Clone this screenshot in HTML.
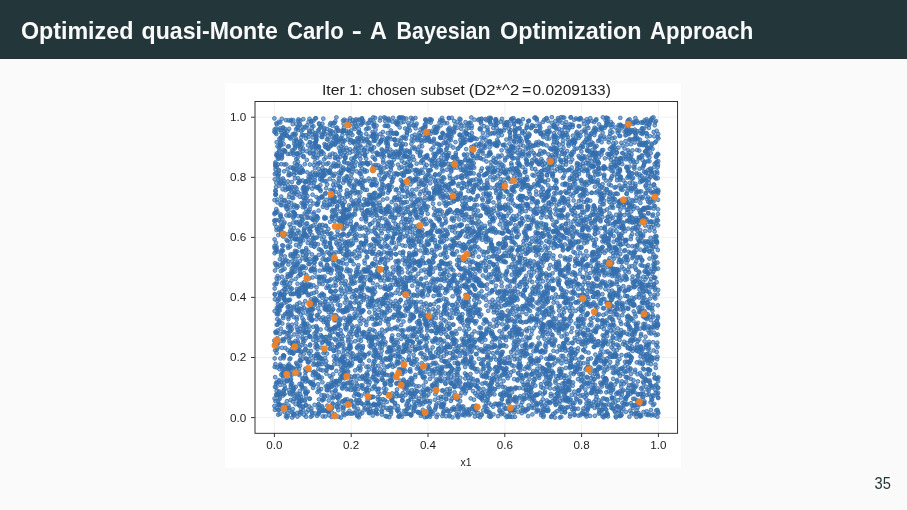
<!DOCTYPE html>
<html><head><meta charset="utf-8"><title>Optimized quasi-Monte Carlo</title>
<style>
html,body{margin:0;padding:0;width:907px;height:510px;overflow:hidden;background:#fafafa;font-family:"Liberation Sans",sans-serif}
#hdr{position:absolute;left:0;top:0;width:907px;height:58.5px;background:#23373b}
#fig{position:absolute;left:225px;top:83px;width:455.8px;height:384.5px;background:#fff}
svg{position:absolute;left:0;top:0;will-change:transform}
.b circle{r:1.9px;fill:#336eae;fill-opacity:0.58;stroke:#336eae;stroke-opacity:0.8;stroke-width:1.0}
.o circle{r:3.1px;fill:#ee8228;fill-opacity:0.95;stroke:#ee8228;stroke-opacity:0.95;stroke-width:0.8}
text{font-family:"Liberation Sans",sans-serif;fill:#1e1e1e}
</style></head><body>
<div id="hdr"></div>
<div id="fig"></div>
<svg width="907" height="510" viewBox="0 0 907 510">
<g font-size="24.5" font-weight="bold" style="fill:#fafafa"><text style="fill:#fafafa" x="20.9" y="38.6" textLength="112.5" lengthAdjust="spacingAndGlyphs">Optimized</text><text style="fill:#fafafa" x="141.6" y="38.6" textLength="136.2" lengthAdjust="spacingAndGlyphs">quasi-Monte</text><text style="fill:#fafafa" x="287.0" y="38.6" textLength="56.7" lengthAdjust="spacingAndGlyphs">Carlo</text><text style="fill:#fafafa" x="351.8" y="38.6" textLength="10.1" lengthAdjust="spacingAndGlyphs">-</text><text style="fill:#fafafa" x="369.9" y="38.6" textLength="16.9" lengthAdjust="spacingAndGlyphs">A</text><text style="fill:#fafafa" x="396.6" y="38.6" textLength="94.0" lengthAdjust="spacingAndGlyphs">Bayesian</text><text style="fill:#fafafa" x="500.0" y="38.6" textLength="141.6" lengthAdjust="spacingAndGlyphs">Optimization</text><text style="fill:#fafafa" x="649.9" y="38.6" textLength="103.3" lengthAdjust="spacingAndGlyphs">Approach</text></g>
<path d="M274.4 101.5V433.3M254.8 417.6H677.6M351.2 101.5V433.3M254.8 357.5H677.6M428.0 101.5V433.3M254.8 297.4H677.6M504.8 101.5V433.3M254.8 237.4H677.6M581.6 101.5V433.3M254.8 177.3H677.6M658.4 101.5V433.3M254.8 117.2H677.6" stroke="#b0b0b0" stroke-opacity=".22" stroke-width=".8" fill="none"/>
<g class="b" style="filter:blur(0.35px)"><circle cx=620.4 cy=203.0 /><circle cx=657.8 cy=250.0 /><circle cx=501.4 cy=360.9 /><circle cx=320.1 cy=179.1 /><circle cx=420.8 cy=235.5 /><circle cx=582.8 cy=284.8 /><circle cx=307.9 cy=331.7 /><circle cx=360.5 cy=286.5 /><circle cx=420.0 cy=348.0 /><circle cx=531.3 cy=305.3 /><circle cx=551.8 cy=122.9 /><circle cx=497.0 cy=205.6 /><circle cx=578.1 cy=207.3 /><circle cx=282.2 cy=245.3 /><circle cx=440.9 cy=396.8 /><circle cx=386.5 cy=295.2 /><circle cx=448.1 cy=197.6 /><circle cx=319.6 cy=174.8 /><circle cx=413.7 cy=278.1 /><circle cx=290.1 cy=231.0 /><circle cx=407.2 cy=192.3 /><circle cx=300.3 cy=181.0 /><circle cx=354.9 cy=235.3 /><circle cx=425.7 cy=382.0 /><circle cx=445.9 cy=205.9 /><circle cx=447.4 cy=291.2 /><circle cx=574.1 cy=119.8 /><circle cx=397.8 cy=289.9 /><circle cx=497.7 cy=267.8 /><circle cx=573.2 cy=184.3 /><circle cx=542.4 cy=180.4 /><circle cx=443.1 cy=406.8 /><circle cx=306.8 cy=392.7 /><circle cx=387.7 cy=133.1 /><circle cx=283.6 cy=298.5 /><circle cx=479.4 cy=340.4 /><circle cx=289.8 cy=306.0 /><circle cx=640.0 cy=182.2 /><circle cx=626.2 cy=154.7 /><circle cx=595.4 cy=354.6 /><circle cx=470.5 cy=374.0 /><circle cx=589.0 cy=369.1 /><circle cx=387.3 cy=366.9 /><circle cx=302.4 cy=318.2 /><circle cx=422.0 cy=413.4 /><circle cx=391.6 cy=381.0 /><circle cx=321.5 cy=137.0 /><circle cx=633.9 cy=330.5 /><circle cx=548.4 cy=230.9 /><circle cx=274.8 cy=223.9 /><circle cx=528.1 cy=185.1 /><circle cx=601.1 cy=303.5 /><circle cx=498.3 cy=130.9 /><circle cx=647.2 cy=121.4 /><circle cx=451.6 cy=211.8 /><circle cx=563.4 cy=400.4 /><circle cx=489.5 cy=390.9 /><circle cx=465.0 cy=373.4 /><circle cx=320.3 cy=189.6 /><circle cx=363.9 cy=357.6 /><circle cx=601.3 cy=214.0 /><circle cx=469.3 cy=122.9 /><circle cx=380.2 cy=306.5 /><circle cx=310.7 cy=183.2 /><circle cx=636.5 cy=173.2 /><circle cx=282.9 cy=178.5 /><circle cx=416.1 cy=253.4 /><circle cx=449.5 cy=323.8 /><circle cx=398.3 cy=361.9 /><circle cx=587.2 cy=413.9 /><circle cx=589.4 cy=324.9 /><circle cx=565.3 cy=302.3 /><circle cx=339.9 cy=273.6 /><circle cx=326.8 cy=164.1 /><circle cx=583.0 cy=193.3 /><circle cx=408.4 cy=330.1 /><circle cx=526.2 cy=350.5 /><circle cx=646.1 cy=290.9 /><circle cx=517.2 cy=128.7 /><circle cx=358.9 cy=395.1 /><circle cx=419.6 cy=230.7 /><circle cx=590.2 cy=339.3 /><circle cx=286.3 cy=164.4 /><circle cx=520.1 cy=396.3 /><circle cx=283.6 cy=341.1 /><circle cx=276.6 cy=339.3 /><circle cx=552.2 cy=344.2 /><circle cx=617.8 cy=393.2 /><circle cx=532.3 cy=401.3 /><circle cx=648.0 cy=141.6 /><circle cx=425.3 cy=119.7 /><circle cx=354.2 cy=281.2 /><circle cx=420.6 cy=293.0 /><circle cx=555.4 cy=209.4 /><circle cx=295.5 cy=258.9 /><circle cx=497.2 cy=312.9 /><circle cx=620.9 cy=214.8 /><circle cx=372.7 cy=252.8 /><circle cx=598.8 cy=256.0 /><circle cx=432.0 cy=385.2 /><circle cx=528.9 cy=136.4 /><circle cx=562.9 cy=165.1 /><circle cx=340.2 cy=273.9 /><circle cx=568.8 cy=308.2 /><circle cx=396.0 cy=254.4 /><circle cx=609.3 cy=387.4 /><circle cx=389.6 cy=347.9 /><circle cx=350.8 cy=231.2 /><circle cx=399.6 cy=313.0 /><circle cx=405.9 cy=220.1 /><circle cx=493.4 cy=160.6 /><circle cx=606.2 cy=415.2 /><circle cx=442.4 cy=416.0 /><circle cx=519.4 cy=205.9 /><circle cx=534.2 cy=319.2 /><circle cx=569.5 cy=169.4 /><circle cx=521.8 cy=413.2 /><circle cx=311.8 cy=313.9 /><circle cx=349.4 cy=315.8 /><circle cx=642.4 cy=377.0 /><circle cx=347.4 cy=255.3 /><circle cx=537.6 cy=201.2 /><circle cx=407.4 cy=171.9 /><circle cx=355.3 cy=210.8 /><circle cx=301.3 cy=130.8 /><circle cx=333.8 cy=259.3 /><circle cx=419.0 cy=240.9 /><circle cx=644.0 cy=369.4 /><circle cx=362.8 cy=243.4 /><circle cx=299.1 cy=221.7 /><circle cx=311.1 cy=315.7 /><circle cx=510.5 cy=312.0 /><circle cx=385.4 cy=118.3 /><circle cx=551.5 cy=204.3 /><circle cx=451.8 cy=317.7 /><circle cx=303.0 cy=410.0 /><circle cx=336.8 cy=208.9 /><circle cx=657.5 cy=262.6 /><circle cx=353.2 cy=142.3 /><circle cx=297.2 cy=164.6 /><circle cx=656.6 cy=282.2 /><circle cx=635.7 cy=121.9 /><circle cx=304.8 cy=164.2 /><circle cx=445.6 cy=246.2 /><circle cx=317.7 cy=355.7 /><circle cx=453.1 cy=226.8 /><circle cx=487.5 cy=373.3 /><circle cx=654.2 cy=228.1 /><circle cx=395.3 cy=306.1 /><circle cx=383.2 cy=160.4 /><circle cx=305.0 cy=235.0 /><circle cx=653.8 cy=208.6 /><circle cx=521.9 cy=258.3 /><circle cx=624.1 cy=251.0 /><circle cx=522.6 cy=167.1 /><circle cx=536.4 cy=321.7 /><circle cx=352.8 cy=190.4 /><circle cx=603.4 cy=383.3 /><circle cx=389.2 cy=190.2 /><circle cx=536.8 cy=120.3 /><circle cx=550.2 cy=265.0 /><circle cx=353.5 cy=214.0 /><circle cx=583.0 cy=373.6 /><circle cx=325.7 cy=309.1 /><circle cx=593.6 cy=153.0 /><circle cx=480.9 cy=181.7 /><circle cx=621.8 cy=227.4 /><circle cx=343.5 cy=407.9 /><circle cx=320.4 cy=151.8 /><circle cx=471.8 cy=408.9 /><circle cx=440.1 cy=274.0 /><circle cx=396.1 cy=173.3 /><circle cx=487.1 cy=180.4 /><circle cx=591.6 cy=192.7 /><circle cx=487.6 cy=135.3 /><circle cx=540.8 cy=287.1 /><circle cx=454.3 cy=200.9 /><circle cx=353.2 cy=204.2 /><circle cx=428.7 cy=132.1 /><circle cx=548.4 cy=410.0 /><circle cx=367.2 cy=210.4 /><circle cx=426.3 cy=156.0 /><circle cx=377.0 cy=275.3 /><circle cx=358.1 cy=389.3 /><circle cx=386.4 cy=294.6 /><circle cx=362.1 cy=387.5 /><circle cx=329.5 cy=172.6 /><circle cx=386.5 cy=173.5 /><circle cx=591.2 cy=336.9 /><circle cx=637.1 cy=174.6 /><circle cx=493.1 cy=248.1 /><circle cx=401.4 cy=145.5 /><circle cx=619.3 cy=369.5 /><circle cx=568.2 cy=260.7 /><circle cx=610.0 cy=302.8 /><circle cx=640.3 cy=404.4 /><circle cx=527.8 cy=261.3 /><circle cx=618.8 cy=234.0 /><circle cx=313.3 cy=154.2 /><circle cx=296.5 cy=310.4 /><circle cx=554.9 cy=243.7 /><circle cx=474.2 cy=280.1 /><circle cx=615.6 cy=127.5 /><circle cx=608.8 cy=306.4 /><circle cx=494.9 cy=267.0 /><circle cx=336.4 cy=117.4 /><circle cx=599.7 cy=195.2 /><circle cx=504.0 cy=239.1 /><circle cx=511.2 cy=372.2 /><circle cx=644.4 cy=250.2 /><circle cx=319.6 cy=225.9 /><circle cx=293.4 cy=257.4 /><circle cx=443.4 cy=328.7 /><circle cx=450.1 cy=391.5 /><circle cx=369.0 cy=369.6 /><circle cx=398.5 cy=409.3 /><circle cx=342.2 cy=361.1 /><circle cx=343.8 cy=234.2 /><circle cx=325.7 cy=386.4 /><circle cx=477.5 cy=156.0 /><circle cx=581.7 cy=206.4 /><circle cx=637.1 cy=137.7 /><circle cx=582.4 cy=212.4 /><circle cx=328.5 cy=307.7 /><circle cx=615.9 cy=249.1 /><circle cx=430.5 cy=133.9 /><circle cx=317.1 cy=364.5 /><circle cx=457.7 cy=176.9 /><circle cx=586.9 cy=314.9 /><circle cx=471.0 cy=161.3 /><circle cx=512.1 cy=236.0 /><circle cx=375.6 cy=412.6 /><circle cx=350.0 cy=181.2 /><circle cx=503.4 cy=260.6 /><circle cx=601.9 cy=320.6 /><circle cx=583.0 cy=305.2 /><circle cx=331.8 cy=270.5 /><circle cx=493.9 cy=210.8 /><circle cx=643.5 cy=323.9 /><circle cx=475.0 cy=385.1 /><circle cx=427.0 cy=180.9 /><circle cx=621.0 cy=203.0 /><circle cx=373.1 cy=136.4 /><circle cx=338.2 cy=141.3 /><circle cx=278.4 cy=306.6 /><circle cx=537.3 cy=345.7 /><circle cx=288.0 cy=327.5 /><circle cx=338.8 cy=142.1 /><circle cx=627.4 cy=177.7 /><circle cx=465.2 cy=378.5 /><circle cx=614.0 cy=202.3 /><circle cx=290.3 cy=275.6 /><circle cx=509.9 cy=137.6 /><circle cx=372.3 cy=291.9 /><circle cx=293.8 cy=216.6 /><circle cx=322.6 cy=224.9 /><circle cx=548.6 cy=322.3 /><circle cx=472.0 cy=163.5 /><circle cx=408.1 cy=408.3 /><circle cx=629.0 cy=334.5 /><circle cx=638.5 cy=412.9 /><circle cx=311.7 cy=310.1 /><circle cx=572.7 cy=298.3 /><circle cx=344.0 cy=127.6 /><circle cx=397.8 cy=282.0 /><circle cx=602.4 cy=294.2 /><circle cx=603.0 cy=308.2 /><circle cx=550.1 cy=165.0 /><circle cx=292.9 cy=413.5 /><circle cx=291.1 cy=232.9 /><circle cx=596.0 cy=313.5 /><circle cx=445.9 cy=289.1 /><circle cx=468.1 cy=297.8 /><circle cx=455.0 cy=163.7 /><circle cx=478.9 cy=183.6 /><circle cx=603.6 cy=381.5 /><circle cx=394.2 cy=173.6 /><circle cx=504.9 cy=261.6 /><circle cx=355.5 cy=276.7 /><circle cx=409.2 cy=151.9 /><circle cx=507.3 cy=392.1 /><circle cx=324.0 cy=295.3 /><circle cx=560.2 cy=271.1 /><circle cx=378.6 cy=275.5 /><circle cx=340.5 cy=151.0 /><circle cx=342.9 cy=204.7 /><circle cx=484.4 cy=207.5 /><circle cx=551.6 cy=323.9 /><circle cx=478.8 cy=146.2 /><circle cx=347.2 cy=399.3 /><circle cx=474.4 cy=312.7 /><circle cx=594.5 cy=407.8 /><circle cx=529.7 cy=194.0 /><circle cx=401.3 cy=122.5 /><circle cx=647.9 cy=363.1 /><circle cx=328.7 cy=170.8 /><circle cx=380.8 cy=401.5 /><circle cx=527.5 cy=187.8 /><circle cx=281.7 cy=251.3 /><circle cx=285.4 cy=289.5 /><circle cx=514.4 cy=282.0 /><circle cx=606.7 cy=220.8 /><circle cx=582.8 cy=324.1 /><circle cx=510.9 cy=130.2 /><circle cx=520.4 cy=138.4 /><circle cx=509.1 cy=194.6 /><circle cx=599.5 cy=209.4 /><circle cx=343.0 cy=120.6 /><circle cx=293.3 cy=395.5 /><circle cx=526.6 cy=225.9 /><circle cx=567.9 cy=398.0 /><circle cx=359.5 cy=256.3 /><circle cx=614.7 cy=137.6 /><circle cx=424.3 cy=156.9 /><circle cx=558.9 cy=375.5 /><circle cx=414.3 cy=328.3 /><circle cx=610.1 cy=219.1 /><circle cx=593.0 cy=269.0 /><circle cx=421.8 cy=363.1 /><circle cx=367.8 cy=402.8 /><circle cx=438.8 cy=265.4 /><circle cx=445.1 cy=310.0 /><circle cx=344.6 cy=241.6 /><circle cx=586.5 cy=403.3 /><circle cx=533.2 cy=371.1 /><circle cx=613.1 cy=207.9 /><circle cx=513.1 cy=410.1 /><circle cx=309.0 cy=182.8 /><circle cx=511.6 cy=189.5 /><circle cx=503.6 cy=246.6 /><circle cx=360.9 cy=294.0 /><circle cx=418.1 cy=283.3 /><circle cx=478.2 cy=120.0 /><circle cx=467.6 cy=231.0 /><circle cx=369.0 cy=194.9 /><circle cx=604.8 cy=325.2 /><circle cx=523.6 cy=182.7 /><circle cx=366.4 cy=403.2 /><circle cx=557.2 cy=321.8 /><circle cx=528.9 cy=363.6 /><circle cx=462.2 cy=231.4 /><circle cx=290.5 cy=174.2 /><circle cx=379.2 cy=388.8 /><circle cx=488.5 cy=209.2 /><circle cx=653.7 cy=132.0 /><circle cx=537.8 cy=265.5 /><circle cx=320.6 cy=329.5 /><circle cx=346.2 cy=215.7 /><circle cx=542.8 cy=207.8 /><circle cx=401.5 cy=146.2 /><circle cx=372.9 cy=305.7 /><circle cx=381.5 cy=259.5 /><circle cx=575.2 cy=274.7 /><circle cx=380.9 cy=270.1 /><circle cx=494.3 cy=177.2 /><circle cx=382.1 cy=411.7 /><circle cx=311.9 cy=254.4 /><circle cx=414.7 cy=390.4 /><circle cx=558.3 cy=281.9 /><circle cx=618.8 cy=238.0 /><circle cx=382.7 cy=343.7 /><circle cx=330.7 cy=348.2 /><circle cx=493.3 cy=128.0 /><circle cx=308.4 cy=228.9 /><circle cx=463.2 cy=340.9 /><circle cx=389.4 cy=186.3 /><circle cx=603.2 cy=270.4 /><circle cx=540.3 cy=352.1 /><circle cx=296.8 cy=293.0 /><circle cx=526.5 cy=139.0 /><circle cx=465.0 cy=344.0 /><circle cx=355.3 cy=120.8 /><circle cx=437.4 cy=331.4 /><circle cx=452.6 cy=305.0 /><circle cx=628.8 cy=215.2 /><circle cx=562.6 cy=292.1 /><circle cx=611.1 cy=178.3 /><circle cx=398.4 cy=285.5 /><circle cx=503.3 cy=145.2 /><circle cx=359.9 cy=119.9 /><circle cx=472.1 cy=219.2 /><circle cx=381.7 cy=311.4 /><circle cx=436.8 cy=153.8 /><circle cx=621.2 cy=386.6 /><circle cx=306.3 cy=370.6 /><circle cx=336.4 cy=385.7 /><circle cx=631.4 cy=190.9 /><circle cx=303.2 cy=240.3 /><circle cx=368.2 cy=410.2 /><circle cx=535.8 cy=125.9 /><circle cx=543.4 cy=324.4 /><circle cx=335.2 cy=154.4 /><circle cx=470.0 cy=315.0 /><circle cx=595.1 cy=230.6 /><circle cx=453.7 cy=334.6 /><circle cx=284.5 cy=222.5 /><circle cx=412.9 cy=234.7 /><circle cx=326.1 cy=226.2 /><circle cx=338.6 cy=384.1 /><circle cx=628.6 cy=125.5 /><circle cx=405.5 cy=387.7 /><circle cx=642.3 cy=297.7 /><circle cx=566.3 cy=401.1 /><circle cx=408.3 cy=179.3 /><circle cx=286.0 cy=205.9 /><circle cx=330.9 cy=145.8 /><circle cx=656.1 cy=193.5 /><circle cx=421.5 cy=335.7 /><circle cx=556.9 cy=221.7 /><circle cx=356.9 cy=203.5 /><circle cx=472.9 cy=223.4 /><circle cx=509.4 cy=414.7 /><circle cx=310.8 cy=416.7 /><circle cx=455.7 cy=309.7 /><circle cx=396.2 cy=133.6 /><circle cx=435.5 cy=215.3 /><circle cx=545.1 cy=205.7 /><circle cx=393.0 cy=237.4 /><circle cx=530.8 cy=374.7 /><circle cx=371.4 cy=197.2 /><circle cx=433.5 cy=262.1 /><circle cx=489.3 cy=212.1 /><circle cx=527.7 cy=252.3 /><circle cx=498.2 cy=198.4 /><circle cx=470.1 cy=310.8 /><circle cx=520.3 cy=262.2 /><circle cx=570.7 cy=399.6 /><circle cx=421.7 cy=212.9 /><circle cx=640.9 cy=335.7 /><circle cx=489.5 cy=293.3 /><circle cx=362.1 cy=312.0 /><circle cx=298.0 cy=130.1 /><circle cx=501.8 cy=354.1 /><circle cx=457.5 cy=374.8 /><circle cx=607.0 cy=238.1 /><circle cx=641.2 cy=191.4 /><circle cx=453.7 cy=313.2 /><circle cx=553.1 cy=326.7 /><circle cx=283.3 cy=245.8 /><circle cx=647.8 cy=273.1 /><circle cx=371.9 cy=318.7 /><circle cx=402.5 cy=190.2 /><circle cx=544.8 cy=163.4 /><circle cx=394.0 cy=233.6 /><circle cx=352.1 cy=413.7 /><circle cx=532.4 cy=298.9 /><circle cx=640.1 cy=373.0 /><circle cx=411.2 cy=414.5 /><circle cx=470.4 cy=413.8 /><circle cx=559.7 cy=210.4 /><circle cx=302.4 cy=378.4 /><circle cx=369.7 cy=382.3 /><circle cx=658.2 cy=398.0 /><circle cx=526.2 cy=390.1 /><circle cx=296.9 cy=364.2 /><circle cx=568.2 cy=267.2 /><circle cx=475.8 cy=279.9 /><circle cx=403.0 cy=316.0 /><circle cx=505.7 cy=300.2 /><circle cx=516.4 cy=400.5 /><circle cx=554.9 cy=398.9 /><circle cx=305.8 cy=236.5 /><circle cx=465.0 cy=258.6 /><circle cx=401.9 cy=416.7 /><circle cx=335.3 cy=215.9 /><circle cx=465.3 cy=308.7 /><circle cx=347.6 cy=196.5 /><circle cx=511.8 cy=219.4 /><circle cx=533.4 cy=219.4 /><circle cx=508.6 cy=231.5 /><circle cx=299.6 cy=288.6 /><circle cx=432.9 cy=271.8 /><circle cx=647.1 cy=357.9 /><circle cx=485.0 cy=147.7 /><circle cx=537.1 cy=184.4 /><circle cx=372.8 cy=377.0 /><circle cx=297.2 cy=412.9 /><circle cx=416.0 cy=180.3 /><circle cx=452.5 cy=417.3 /><circle cx=633.1 cy=201.1 /><circle cx=482.7 cy=200.1 /><circle cx=408.7 cy=212.3 /><circle cx=628.9 cy=300.4 /><circle cx=493.0 cy=353.2 /><circle cx=383.4 cy=404.9 /><circle cx=295.2 cy=271.6 /><circle cx=645.9 cy=287.1 /><circle cx=644.2 cy=250.9 /><circle cx=320.5 cy=263.4 /><circle cx=530.0 cy=337.7 /><circle cx=526.0 cy=253.9 /><circle cx=543.6 cy=236.0 /><circle cx=354.8 cy=141.6 /><circle cx=642.5 cy=301.5 /><circle cx=356.0 cy=119.5 /><circle cx=364.0 cy=215.0 /><circle cx=519.8 cy=258.3 /><circle cx=654.3 cy=297.1 /><circle cx=587.1 cy=126.0 /><circle cx=453.8 cy=396.1 /><circle cx=388.9 cy=278.4 /><circle cx=349.3 cy=209.5 /><circle cx=461.9 cy=188.3 /><circle cx=425.9 cy=132.7 /><circle cx=431.8 cy=197.3 /><circle cx=606.9 cy=189.2 /><circle cx=552.1 cy=309.7 /><circle cx=527.7 cy=163.5 /><circle cx=368.9 cy=199.7 /><circle cx=284.7 cy=151.7 /><circle cx=655.9 cy=156.5 /><circle cx=294.5 cy=135.2 /><circle cx=634.9 cy=313.9 /><circle cx=474.8 cy=295.4 /><circle cx=562.0 cy=136.0 /><circle cx=631.8 cy=178.6 /><circle cx=447.6 cy=211.1 /><circle cx=636.1 cy=224.4 /><circle cx=620.3 cy=288.9 /><circle cx=635.7 cy=280.6 /><circle cx=640.2 cy=311.6 /><circle cx=608.6 cy=272.6 /><circle cx=622.4 cy=402.9 /><circle cx=548.8 cy=194.3 /><circle cx=335.1 cy=158.2 /><circle cx=472.0 cy=136.7 /><circle cx=276.4 cy=155.1 /><circle cx=636.5 cy=220.8 /><circle cx=548.9 cy=381.0 /><circle cx=471.0 cy=173.3 /><circle cx=513.4 cy=147.9 /><circle cx=491.0 cy=333.6 /><circle cx=409.3 cy=266.8 /><circle cx=411.1 cy=199.3 /><circle cx=399.4 cy=347.1 /><circle cx=369.5 cy=245.4 /><circle cx=513.8 cy=348.7 /><circle cx=298.3 cy=216.2 /><circle cx=555.1 cy=186.1 /><circle cx=646.8 cy=271.7 /><circle cx=426.3 cy=206.5 /><circle cx=628.4 cy=362.3 /><circle cx=289.0 cy=364.3 /><circle cx=613.5 cy=236.1 /><circle cx=525.7 cy=235.7 /><circle cx=399.6 cy=416.0 /><circle cx=578.3 cy=390.5 /><circle cx=352.4 cy=318.5 /><circle cx=649.6 cy=202.8 /><circle cx=643.2 cy=348.7 /><circle cx=337.1 cy=404.1 /><circle cx=371.8 cy=213.3 /><circle cx=349.8 cy=152.8 /><circle cx=436.0 cy=406.5 /><circle cx=583.5 cy=385.1 /><circle cx=292.7 cy=134.3 /><circle cx=340.1 cy=249.3 /><circle cx=304.0 cy=325.5 /><circle cx=594.7 cy=146.9 /><circle cx=440.2 cy=339.1 /><circle cx=308.5 cy=263.9 /><circle cx=361.9 cy=310.8 /><circle cx=428.4 cy=412.5 /><circle cx=480.8 cy=232.6 /><circle cx=334.6 cy=414.1 /><circle cx=342.9 cy=144.5 /><circle cx=405.8 cy=282.8 /><circle cx=612.7 cy=356.4 /><circle cx=305.5 cy=346.2 /><circle cx=349.6 cy=363.9 /><circle cx=525.2 cy=411.5 /><circle cx=347.1 cy=268.8 /><circle cx=446.9 cy=314.4 /><circle cx=581.5 cy=344.0 /><circle cx=487.4 cy=409.0 /><circle cx=318.4 cy=201.7 /><circle cx=558.3 cy=215.3 /><circle cx=469.5 cy=253.3 /><circle cx=465.6 cy=270.9 /><circle cx=474.8 cy=204.9 /><circle cx=376.2 cy=358.7 /><circle cx=343.2 cy=410.1 /><circle cx=348.7 cy=169.9 /><circle cx=569.1 cy=188.4 /><circle cx=542.9 cy=295.4 /><circle cx=523.9 cy=350.6 /><circle cx=369.3 cy=312.3 /><circle cx=505.1 cy=387.5 /><circle cx=354.4 cy=376.7 /><circle cx=614.3 cy=373.1 /><circle cx=428.0 cy=137.8 /><circle cx=299.2 cy=246.7 /><circle cx=637.5 cy=275.6 /><circle cx=628.3 cy=388.0 /><circle cx=547.8 cy=163.6 /><circle cx=501.4 cy=185.7 /><circle cx=472.8 cy=320.5 /><circle cx=337.7 cy=325.8 /><circle cx=447.8 cy=155.7 /><circle cx=531.4 cy=150.2 /><circle cx=463.6 cy=140.5 /><circle cx=615.1 cy=355.9 /><circle cx=526.8 cy=302.6 /><circle cx=398.6 cy=416.5 /><circle cx=567.3 cy=283.8 /><circle cx=640.5 cy=133.1 /><circle cx=609.1 cy=246.1 /><circle cx=449.1 cy=248.1 /><circle cx=337.9 cy=334.4 /><circle cx=575.3 cy=395.4 /><circle cx=381.5 cy=208.3 /><circle cx=293.6 cy=368.5 /><circle cx=560.9 cy=160.7 /><circle cx=622.3 cy=153.0 /><circle cx=366.2 cy=379.6 /><circle cx=330.6 cy=246.7 /><circle cx=656.9 cy=379.0 /><circle cx=465.3 cy=360.0 /><circle cx=291.0 cy=275.8 /><circle cx=651.8 cy=174.5 /><circle cx=510.2 cy=290.9 /><circle cx=464.4 cy=176.1 /><circle cx=433.4 cy=188.3 /><circle cx=356.0 cy=237.9 /><circle cx=530.5 cy=319.3 /><circle cx=465.5 cy=229.3 /><circle cx=321.9 cy=364.1 /><circle cx=498.3 cy=303.4 /><circle cx=534.1 cy=175.7 /><circle cx=568.2 cy=201.6 /><circle cx=356.2 cy=290.1 /><circle cx=395.8 cy=205.0 /><circle cx=316.2 cy=137.0 /><circle cx=343.2 cy=150.1 /><circle cx=411.1 cy=329.1 /><circle cx=407.1 cy=387.2 /><circle cx=654.0 cy=184.6 /><circle cx=555.6 cy=404.9 /><circle cx=526.6 cy=366.9 /><circle cx=658.0 cy=392.7 /><circle cx=443.1 cy=406.5 /><circle cx=589.7 cy=369.1 /><circle cx=334.6 cy=338.8 /><circle cx=379.3 cy=277.7 /><circle cx=447.7 cy=337.0 /><circle cx=581.1 cy=262.4 /><circle cx=447.4 cy=304.3 /><circle cx=350.4 cy=289.6 /><circle cx=367.6 cy=400.2 /><circle cx=618.4 cy=243.9 /><circle cx=499.6 cy=292.2 /><circle cx=594.8 cy=181.6 /><circle cx=408.7 cy=292.4 /><circle cx=445.1 cy=247.7 /><circle cx=518.9 cy=262.2 /><circle cx=327.2 cy=184.5 /><circle cx=420.7 cy=162.6 /><circle cx=610.2 cy=234.0 /><circle cx=596.6 cy=229.1 /><circle cx=554.2 cy=298.8 /><circle cx=399.4 cy=238.5 /><circle cx=316.5 cy=197.1 /><circle cx=569.4 cy=402.3 /><circle cx=363.3 cy=120.9 /><circle cx=464.4 cy=137.2 /><circle cx=355.9 cy=180.5 /><circle cx=304.2 cy=285.6 /><circle cx=461.6 cy=278.5 /><circle cx=542.3 cy=335.9 /><circle cx=387.3 cy=221.3 /><circle cx=347.6 cy=139.4 /><circle cx=407.2 cy=308.5 /><circle cx=511.0 cy=210.7 /><circle cx=341.2 cy=359.6 /><circle cx=402.7 cy=292.8 /><circle cx=428.8 cy=193.6 /><circle cx=542.5 cy=367.7 /><circle cx=368.4 cy=338.2 /><circle cx=284.4 cy=164.5 /><circle cx=479.4 cy=151.1 /><circle cx=396.5 cy=383.4 /><circle cx=619.2 cy=275.3 /><circle cx=509.0 cy=252.4 /><circle cx=589.0 cy=288.6 /><circle cx=461.3 cy=350.8 /><circle cx=506.3 cy=363.0 /><circle cx=547.1 cy=290.8 /><circle cx=384.5 cy=315.4 /><circle cx=312.9 cy=381.8 /><circle cx=597.7 cy=216.6 /><circle cx=575.3 cy=183.8 /><circle cx=547.0 cy=259.9 /><circle cx=434.3 cy=383.3 /><circle cx=335.5 cy=291.0 /><circle cx=640.6 cy=238.0 /><circle cx=344.9 cy=358.8 /><circle cx=487.2 cy=411.7 /><circle cx=274.7 cy=344.6 /><circle cx=368.6 cy=122.8 /><circle cx=602.4 cy=247.1 /><circle cx=384.0 cy=252.1 /><circle cx=352.6 cy=353.5 /><circle cx=650.8 cy=364.2 /><circle cx=534.5 cy=318.3 /><circle cx=315.5 cy=347.4 /><circle cx=471.8 cy=149.9 /><circle cx=635.7 cy=316.5 /><circle cx=598.4 cy=168.5 /><circle cx=414.6 cy=254.0 /><circle cx=307.2 cy=188.3 /><circle cx=614.1 cy=398.1 /><circle cx=301.8 cy=193.7 /><circle cx=358.2 cy=192.3 /><circle cx=598.5 cy=341.4 /><circle cx=629.3 cy=122.2 /><circle cx=653.3 cy=224.5 /><circle cx=499.5 cy=291.2 /><circle cx=492.1 cy=290.5 /><circle cx=582.3 cy=341.6 /><circle cx=642.4 cy=134.0 /><circle cx=552.3 cy=176.3 /><circle cx=601.8 cy=212.7 /><circle cx=351.1 cy=130.5 /><circle cx=402.7 cy=359.1 /><circle cx=514.2 cy=280.6 /><circle cx=599.3 cy=314.4 /><circle cx=565.1 cy=409.4 /><circle cx=376.8 cy=195.7 /><circle cx=462.4 cy=250.7 /><circle cx=630.7 cy=348.8 /><circle cx=381.7 cy=350.8 /><circle cx=620.6 cy=125.2 /><circle cx=537.1 cy=270.2 /><circle cx=522.3 cy=199.4 /><circle cx=539.8 cy=392.7 /><circle cx=655.0 cy=206.3 /><circle cx=643.9 cy=208.1 /><circle cx=417.4 cy=294.4 /><circle cx=471.6 cy=217.0 /><circle cx=292.4 cy=272.8 /><circle cx=437.6 cy=210.5 /><circle cx=460.3 cy=396.0 /><circle cx=497.4 cy=257.0 /><circle cx=338.9 cy=247.6 /><circle cx=308.2 cy=187.3 /><circle cx=389.3 cy=254.0 /><circle cx=568.6 cy=380.7 /><circle cx=350.6 cy=352.7 /><circle cx=576.0 cy=204.9 /><circle cx=515.0 cy=290.8 /><circle cx=616.2 cy=314.6 /><circle cx=386.5 cy=238.9 /><circle cx=646.6 cy=380.3 /><circle cx=345.4 cy=285.6 /><circle cx=650.6 cy=402.3 /><circle cx=482.7 cy=392.7 /><circle cx=561.9 cy=295.1 /><circle cx=347.9 cy=178.6 /><circle cx=465.5 cy=122.1 /><circle cx=388.2 cy=126.4 /><circle cx=315.6 cy=344.2 /><circle cx=438.5 cy=190.3 /><circle cx=281.6 cy=205.2 /><circle cx=479.6 cy=327.5 /><circle cx=348.3 cy=135.7 /><circle cx=640.0 cy=212.9 /><circle cx=317.7 cy=231.4 /><circle cx=376.1 cy=241.4 /><circle cx=425.3 cy=345.8 /><circle cx=594.3 cy=260.1 /><circle cx=372.5 cy=132.1 /><circle cx=446.8 cy=231.2 /><circle cx=315.6 cy=372.6 /><circle cx=428.2 cy=319.8 /><circle cx=386.2 cy=389.4 /><circle cx=594.8 cy=132.4 /><circle cx=307.6 cy=314.3 /><circle cx=515.6 cy=334.6 /><circle cx=544.2 cy=120.0 /><circle cx=643.7 cy=402.8 /><circle cx=348.5 cy=270.5 /><circle cx=550.0 cy=403.1 /><circle cx=559.8 cy=325.9 /><circle cx=511.0 cy=232.8 /><circle cx=276.5 cy=123.3 /><circle cx=396.6 cy=154.5 /><circle cx=397.8 cy=269.0 /><circle cx=526.0 cy=275.9 /><circle cx=428.6 cy=199.3 /><circle cx=337.5 cy=206.0 /><circle cx=608.7 cy=310.3 /><circle cx=377.5 cy=323.8 /><circle cx=533.9 cy=261.5 /><circle cx=510.1 cy=169.3 /><circle cx=632.0 cy=229.8 /><circle cx=548.6 cy=159.7 /><circle cx=303.1 cy=304.4 /><circle cx=322.8 cy=399.3 /><circle cx=399.4 cy=319.0 /><circle cx=650.3 cy=177.1 /><circle cx=296.1 cy=140.4 /><circle cx=496.5 cy=403.9 /><circle cx=557.4 cy=393.6 /><circle cx=462.4 cy=314.2 /><circle cx=362.4 cy=376.1 /><circle cx=542.3 cy=295.8 /><circle cx=645.1 cy=151.5 /><circle cx=553.3 cy=232.2 /><circle cx=420.8 cy=200.3 /><circle cx=364.5 cy=227.2 /><circle cx=520.2 cy=308.9 /><circle cx=562.9 cy=199.7 /><circle cx=518.9 cy=226.3 /><circle cx=353.7 cy=227.5 /><circle cx=495.6 cy=339.5 /><circle cx=632.2 cy=234.1 /><circle cx=474.4 cy=232.2 /><circle cx=561.0 cy=371.8 /><circle cx=598.1 cy=141.0 /><circle cx=549.2 cy=341.7 /><circle cx=558.7 cy=284.2 /><circle cx=312.9 cy=134.4 /><circle cx=565.6 cy=294.6 /><circle cx=436.6 cy=167.4 /><circle cx=414.5 cy=147.5 /><circle cx=372.4 cy=397.0 /><circle cx=329.8 cy=204.9 /><circle cx=300.0 cy=308.5 /><circle cx=487.2 cy=288.8 /><circle cx=410.1 cy=227.4 /><circle cx=499.9 cy=258.1 /><circle cx=599.5 cy=212.5 /><circle cx=373.9 cy=301.1 /><circle cx=356.9 cy=347.4 /><circle cx=546.7 cy=386.9 /><circle cx=362.3 cy=377.2 /><circle cx=506.6 cy=417.1 /><circle cx=429.1 cy=261.3 /><circle cx=426.9 cy=335.5 /><circle cx=463.7 cy=345.6 /><circle cx=597.7 cy=369.6 /><circle cx=423.4 cy=296.5 /><circle cx=423.0 cy=221.4 /><circle cx=299.1 cy=368.9 /><circle cx=449.3 cy=275.3 /><circle cx=433.8 cy=225.1 /><circle cx=387.6 cy=303.3 /><circle cx=314.9 cy=162.2 /><circle cx=554.5 cy=402.1 /><circle cx=550.8 cy=201.9 /><circle cx=284.5 cy=332.0 /><circle cx=418.9 cy=183.8 /><circle cx=536.8 cy=395.1 /><circle cx=316.2 cy=355.5 /><circle cx=492.2 cy=306.6 /><circle cx=630.5 cy=357.0 /><circle cx=587.4 cy=139.6 /><circle cx=657.6 cy=153.9 /><circle cx=297.0 cy=262.6 /><circle cx=283.1 cy=183.1 /><circle cx=612.7 cy=217.8 /><circle cx=376.6 cy=374.1 /><circle cx=644.7 cy=311.2 /><circle cx=293.7 cy=154.8 /><circle cx=402.5 cy=281.4 /><circle cx=551.6 cy=311.4 /><circle cx=396.9 cy=133.5 /><circle cx=429.6 cy=374.0 /><circle cx=511.0 cy=256.1 /><circle cx=550.1 cy=388.3 /><circle cx=543.4 cy=325.1 /><circle cx=471.2 cy=180.4 /><circle cx=386.9 cy=401.9 /><circle cx=526.9 cy=308.5 /><circle cx=597.9 cy=375.8 /><circle cx=513.1 cy=409.4 /><circle cx=658.3 cy=413.2 /><circle cx=336.1 cy=350.2 /><circle cx=350.9 cy=240.8 /><circle cx=626.5 cy=166.7 /><circle cx=440.8 cy=137.1 /><circle cx=460.5 cy=162.2 /><circle cx=350.6 cy=260.6 /><circle cx=653.4 cy=241.8 /><circle cx=446.2 cy=398.9 /><circle cx=487.0 cy=187.8 /><circle cx=339.5 cy=200.9 /><circle cx=476.5 cy=321.2 /><circle cx=419.0 cy=320.9 /><circle cx=458.2 cy=148.3 /><circle cx=472.2 cy=285.1 /><circle cx=307.3 cy=323.8 /><circle cx=322.1 cy=293.6 /><circle cx=587.4 cy=206.3 /><circle cx=429.2 cy=288.2 /><circle cx=377.4 cy=339.3 /><circle cx=627.8 cy=170.9 /><circle cx=522.2 cy=381.7 /><circle cx=413.0 cy=156.6 /><circle cx=500.4 cy=168.3 /><circle cx=560.9 cy=200.1 /><circle cx=360.0 cy=203.9 /><circle cx=613.0 cy=151.6 /><circle cx=453.3 cy=182.0 /><circle cx=337.3 cy=346.3 /><circle cx=504.3 cy=122.9 /><circle cx=333.0 cy=383.1 /><circle cx=384.6 cy=374.0 /><circle cx=517.8 cy=406.8 /><circle cx=564.1 cy=312.3 /><circle cx=397.5 cy=315.7 /><circle cx=308.0 cy=351.0 /><circle cx=375.1 cy=117.9 /><circle cx=638.0 cy=381.4 /><circle cx=546.0 cy=210.3 /><circle cx=453.8 cy=167.8 /><circle cx=504.6 cy=173.2 /><circle cx=295.5 cy=145.1 /><circle cx=441.5 cy=144.8 /><circle cx=557.3 cy=302.8 /><circle cx=585.2 cy=346.6 /><circle cx=552.9 cy=175.5 /><circle cx=375.3 cy=274.4 /><circle cx=460.4 cy=377.7 /><circle cx=571.4 cy=143.4 /><circle cx=406.0 cy=138.7 /><circle cx=471.0 cy=356.7 /><circle cx=511.1 cy=290.9 /><circle cx=453.6 cy=275.0 /><circle cx=276.0 cy=248.2 /><circle cx=279.2 cy=391.4 /><circle cx=326.8 cy=390.0 /><circle cx=281.2 cy=366.5 /><circle cx=545.3 cy=170.2 /><circle cx=363.9 cy=150.1 /><circle cx=545.1 cy=329.7 /><circle cx=546.1 cy=410.8 /><circle cx=631.9 cy=222.3 /><circle cx=584.4 cy=296.1 /><circle cx=633.0 cy=256.6 /><circle cx=357.9 cy=183.9 /><circle cx=386.7 cy=374.9 /><circle cx=346.8 cy=246.7 /><circle cx=276.9 cy=155.7 /><circle cx=390.2 cy=384.4 /><circle cx=463.5 cy=170.6 /><circle cx=610.8 cy=383.7 /><circle cx=623.5 cy=222.9 /><circle cx=588.5 cy=299.3 /><circle cx=575.8 cy=323.4 /><circle cx=395.5 cy=292.9 /><circle cx=362.5 cy=188.2 /><circle cx=314.2 cy=262.7 /><circle cx=562.2 cy=197.1 /><circle cx=308.4 cy=211.3 /><circle cx=417.2 cy=228.7 /><circle cx=568.1 cy=230.2 /><circle cx=357.9 cy=204.8 /><circle cx=428.3 cy=315.8 /><circle cx=449.0 cy=366.1 /><circle cx=281.9 cy=249.9 /><circle cx=583.9 cy=413.9 /><circle cx=634.6 cy=398.8 /><circle cx=303.0 cy=171.9 /><circle cx=290.8 cy=227.0 /><circle cx=302.5 cy=381.4 /><circle cx=355.6 cy=208.7 /><circle cx=612.0 cy=299.8 /><circle cx=413.9 cy=317.1 /><circle cx=570.5 cy=241.9 /><circle cx=509.8 cy=303.0 /><circle cx=404.1 cy=344.6 /><circle cx=618.2 cy=406.3 /><circle cx=494.0 cy=310.0 /><circle cx=643.1 cy=303.0 /><circle cx=468.4 cy=163.2 /><circle cx=456.3 cy=293.4 /><circle cx=539.4 cy=283.9 /><circle cx=276.7 cy=408.0 /><circle cx=316.1 cy=140.1 /><circle cx=343.2 cy=253.9 /><circle cx=404.1 cy=223.9 /><circle cx=419.8 cy=404.9 /><circle cx=485.2 cy=320.8 /><circle cx=608.8 cy=199.4 /><circle cx=428.3 cy=309.6 /><circle cx=293.4 cy=211.6 /><circle cx=471.9 cy=125.8 /><circle cx=606.3 cy=392.3 /><circle cx=546.1 cy=332.3 /><circle cx=619.5 cy=303.9 /><circle cx=295.9 cy=252.1 /><circle cx=497.1 cy=371.5 /><circle cx=470.8 cy=170.1 /><circle cx=496.5 cy=276.1 /><circle cx=571.3 cy=292.5 /><circle cx=639.6 cy=174.4 /><circle cx=360.0 cy=288.1 /><circle cx=425.0 cy=127.5 /><circle cx=339.0 cy=323.5 /><circle cx=633.4 cy=339.9 /><circle cx=578.2 cy=288.9 /><circle cx=542.8 cy=327.3 /><circle cx=467.9 cy=326.3 /><circle cx=595.8 cy=394.3 /><circle cx=646.8 cy=266.6 /><circle cx=619.3 cy=289.6 /><circle cx=275.5 cy=166.4 /><circle cx=559.9 cy=167.9 /><circle cx=498.0 cy=141.6 /><circle cx=318.5 cy=339.8 /><circle cx=549.4 cy=287.9 /><circle cx=503.7 cy=255.9 /><circle cx=578.5 cy=224.7 /><circle cx=279.4 cy=320.6 /><circle cx=633.0 cy=160.2 /><circle cx=525.6 cy=229.1 /><circle cx=628.5 cy=133.1 /><circle cx=299.9 cy=414.5 /><circle cx=458.8 cy=298.6 /><circle cx=592.7 cy=256.3 /><circle cx=302.5 cy=220.2 /><circle cx=425.1 cy=167.3 /><circle cx=359.4 cy=345.3 /><circle cx=344.3 cy=228.2 /><circle cx=346.4 cy=147.9 /><circle cx=597.8 cy=405.1 /><circle cx=357.3 cy=335.2 /><circle cx=541.1 cy=415.1 /><circle cx=415.4 cy=269.4 /><circle cx=506.0 cy=124.7 /><circle cx=315.3 cy=144.5 /><circle cx=386.3 cy=151.0 /><circle cx=544.7 cy=152.3 /><circle cx=427.9 cy=324.4 /><circle cx=347.7 cy=169.2 /><circle cx=293.5 cy=415.4 /><circle cx=508.7 cy=317.7 /><circle cx=325.0 cy=170.7 /><circle cx=604.2 cy=195.1 /><circle cx=597.6 cy=388.4 /><circle cx=501.3 cy=404.1 /><circle cx=596.1 cy=310.9 /><circle cx=641.1 cy=236.3 /><circle cx=563.2 cy=347.4 /><circle cx=493.5 cy=339.1 /><circle cx=421.5 cy=352.9 /><circle cx=453.5 cy=220.8 /><circle cx=571.0 cy=229.2 /><circle cx=583.6 cy=334.0 /><circle cx=563.3 cy=210.1 /><circle cx=453.3 cy=270.3 /><circle cx=654.5 cy=265.4 /><circle cx=617.1 cy=159.3 /><circle cx=322.4 cy=297.8 /><circle cx=499.4 cy=363.0 /><circle cx=588.9 cy=277.6 /><circle cx=348.5 cy=339.6 /><circle cx=631.6 cy=384.8 /><circle cx=529.9 cy=279.9 /><circle cx=498.5 cy=315.1 /><circle cx=480.8 cy=158.5 /><circle cx=348.9 cy=170.3 /><circle cx=613.0 cy=170.7 /><circle cx=486.7 cy=400.4 /><circle cx=498.4 cy=386.9 /><circle cx=498.7 cy=164.6 /><circle cx=503.5 cy=393.2 /><circle cx=407.5 cy=228.1 /><circle cx=435.1 cy=156.5 /><circle cx=368.9 cy=318.6 /><circle cx=314.4 cy=246.5 /><circle cx=584.3 cy=226.1 /><circle cx=649.5 cy=258.6 /><circle cx=601.5 cy=187.3 /><circle cx=574.8 cy=293.1 /><circle cx=634.6 cy=164.7 /><circle cx=464.1 cy=350.4 /><circle cx=332.5 cy=125.7 /><circle cx=491.0 cy=281.9 /><circle cx=442.4 cy=287.9 /><circle cx=657.5 cy=394.4 /><circle cx=549.0 cy=314.6 /><circle cx=330.7 cy=123.0 /><circle cx=555.9 cy=269.7 /><circle cx=335.0 cy=173.8 /><circle cx=340.6 cy=362.1 /><circle cx=383.1 cy=299.7 /><circle cx=510.2 cy=169.6 /><circle cx=409.3 cy=301.6 /><circle cx=602.2 cy=251.0 /><circle cx=506.7 cy=293.0 /><circle cx=310.1 cy=152.6 /><circle cx=347.6 cy=354.4 /><circle cx=373.9 cy=264.5 /><circle cx=430.6 cy=365.2 /><circle cx=352.6 cy=151.4 /><circle cx=430.7 cy=179.0 /><circle cx=603.7 cy=169.2 /><circle cx=631.7 cy=318.5 /><circle cx=598.6 cy=168.3 /><circle cx=641.9 cy=302.7 /><circle cx=281.0 cy=306.6 /><circle cx=499.9 cy=342.3 /><circle cx=385.6 cy=320.9 /><circle cx=571.0 cy=354.1 /><circle cx=433.6 cy=296.0 /><circle cx=280.6 cy=230.7 /><circle cx=402.5 cy=215.1 /><circle cx=575.2 cy=368.5 /><circle cx=470.1 cy=361.8 /><circle cx=625.0 cy=361.8 /><circle cx=353.2 cy=202.6 /><circle cx=634.0 cy=139.0 /><circle cx=473.0 cy=192.4 /><circle cx=553.6 cy=302.5 /><circle cx=406.4 cy=345.3 /><circle cx=528.9 cy=155.6 /><circle cx=596.6 cy=268.9 /><circle cx=314.9 cy=364.0 /><circle cx=606.4 cy=122.6 /><circle cx=305.3 cy=301.1 /><circle cx=356.6 cy=326.4 /><circle cx=617.3 cy=309.3 /><circle cx=653.5 cy=254.5 /><circle cx=340.7 cy=330.2 /><circle cx=386.3 cy=289.1 /><circle cx=454.2 cy=288.6 /><circle cx=525.7 cy=322.0 /><circle cx=436.2 cy=313.6 /><circle cx=396.4 cy=121.1 /><circle cx=343.8 cy=376.4 /><circle cx=517.1 cy=285.8 /><circle cx=288.8 cy=390.1 /><circle cx=484.3 cy=285.7 /><circle cx=449.1 cy=118.2 /><circle cx=347.1 cy=251.4 /><circle cx=293.6 cy=271.5 /><circle cx=427.4 cy=365.0 /><circle cx=450.2 cy=137.1 /><circle cx=493.8 cy=319.8 /><circle cx=462.6 cy=231.6 /><circle cx=327.1 cy=390.2 /><circle cx=531.0 cy=276.2 /><circle cx=533.9 cy=272.3 /><circle cx=403.8 cy=229.6 /><circle cx=553.1 cy=231.1 /><circle cx=356.6 cy=171.4 /><circle cx=501.2 cy=362.4 /><circle cx=354.8 cy=256.1 /><circle cx=422.2 cy=291.0 /><circle cx=634.2 cy=251.5 /><circle cx=485.9 cy=373.0 /><circle cx=312.6 cy=194.7 /><circle cx=398.5 cy=260.7 /><circle cx=535.5 cy=246.9 /><circle cx=465.9 cy=285.4 /><circle cx=297.1 cy=306.8 /><circle cx=561.1 cy=161.9 /><circle cx=299.2 cy=172.3 /><circle cx=374.1 cy=122.3 /><circle cx=490.9 cy=165.9 /><circle cx=439.5 cy=219.3 /><circle cx=636.8 cy=362.4 /><circle cx=645.4 cy=279.4 /><circle cx=311.7 cy=128.0 /><circle cx=553.3 cy=144.4 /><circle cx=604.5 cy=228.0 /><circle cx=605.7 cy=361.0 /><circle cx=456.0 cy=357.9 /><circle cx=634.5 cy=253.2 /><circle cx=470.1 cy=140.0 /><circle cx=463.1 cy=165.9 /><circle cx=634.8 cy=371.8 /><circle cx=554.5 cy=363.4 /><circle cx=623.2 cy=390.1 /><circle cx=367.8 cy=305.2 /><circle cx=297.5 cy=157.9 /><circle cx=583.5 cy=196.3 /><circle cx=509.7 cy=132.0 /><circle cx=636.6 cy=131.1 /><circle cx=336.0 cy=165.9 /><circle cx=594.7 cy=363.9 /><circle cx=470.2 cy=312.6 /><circle cx=293.7 cy=308.0 /><circle cx=563.9 cy=318.9 /><circle cx=626.3 cy=130.6 /><circle cx=556.5 cy=325.8 /><circle cx=276.0 cy=128.7 /><circle cx=640.1 cy=242.4 /><circle cx=493.0 cy=347.0 /><circle cx=417.0 cy=322.4 /><circle cx=580.3 cy=269.9 /><circle cx=432.7 cy=356.1 /><circle cx=362.9 cy=346.1 /><circle cx=581.9 cy=236.8 /><circle cx=528.8 cy=226.3 /><circle cx=583.3 cy=235.3 /><circle cx=526.8 cy=161.1 /><circle cx=530.1 cy=304.2 /><circle cx=374.8 cy=386.7 /><circle cx=385.7 cy=214.1 /><circle cx=282.8 cy=263.2 /><circle cx=458.9 cy=263.7 /><circle cx=620.5 cy=124.7 /><circle cx=532.2 cy=222.4 /><circle cx=517.6 cy=332.4 /><circle cx=413.5 cy=361.5 /><circle cx=380.9 cy=319.7 /><circle cx=632.4 cy=279.6 /><circle cx=578.1 cy=318.8 /><circle cx=292.5 cy=232.7 /><circle cx=301.6 cy=203.0 /><circle cx=541.3 cy=171.1 /><circle cx=444.0 cy=154.8 /><circle cx=496.3 cy=305.6 /><circle cx=582.9 cy=260.4 /><circle cx=339.9 cy=381.1 /><circle cx=656.6 cy=130.8 /><circle cx=382.7 cy=303.5 /><circle cx=509.1 cy=151.1 /><circle cx=350.8 cy=400.7 /><circle cx=572.0 cy=313.5 /><circle cx=625.1 cy=295.9 /><circle cx=467.2 cy=226.0 /><circle cx=413.6 cy=245.0 /><circle cx=600.6 cy=209.3 /><circle cx=304.4 cy=340.8 /><circle cx=307.8 cy=391.6 /><circle cx=305.3 cy=368.9 /><circle cx=296.5 cy=350.6 /><circle cx=548.3 cy=258.1 /><circle cx=512.0 cy=302.0 /><circle cx=354.1 cy=187.8 /><circle cx=622.4 cy=391.3 /><circle cx=324.2 cy=395.2 /><circle cx=385.1 cy=120.9 /><circle cx=351.2 cy=215.4 /><circle cx=296.6 cy=141.4 /><circle cx=332.6 cy=296.3 /><circle cx=626.8 cy=343.0 /><circle cx=313.2 cy=219.4 /><circle cx=503.8 cy=290.7 /><circle cx=541.7 cy=153.6 /><circle cx=435.2 cy=163.0 /><circle cx=294.1 cy=398.9 /><circle cx=516.3 cy=295.7 /><circle cx=514.2 cy=412.4 /><circle cx=574.7 cy=349.7 /><circle cx=305.9 cy=404.9 /><circle cx=319.0 cy=278.3 /><circle cx=569.8 cy=360.7 /><circle cx=510.4 cy=150.2 /><circle cx=391.0 cy=167.4 /><circle cx=381.9 cy=312.8 /><circle cx=306.5 cy=275.2 /><circle cx=337.3 cy=244.6 /><circle cx=497.3 cy=319.0 /><circle cx=447.5 cy=145.4 /><circle cx=592.2 cy=260.1 /><circle cx=365.4 cy=147.8 /><circle cx=447.7 cy=135.0 /><circle cx=321.0 cy=295.1 /><circle cx=503.6 cy=380.9 /><circle cx=349.2 cy=215.6 /><circle cx=341.3 cy=369.9 /><circle cx=499.4 cy=363.3 /><circle cx=343.1 cy=310.3 /><circle cx=288.9 cy=146.4 /><circle cx=605.6 cy=378.2 /><circle cx=306.0 cy=138.5 /><circle cx=609.9 cy=295.5 /><circle cx=413.7 cy=210.7 /><circle cx=484.6 cy=145.6 /><circle cx=349.5 cy=364.1 /><circle cx=654.3 cy=284.0 /><circle cx=485.9 cy=235.2 /><circle cx=490.3 cy=177.0 /><circle cx=628.0 cy=393.2 /><circle cx=548.8 cy=206.5 /><circle cx=409.1 cy=179.2 /><circle cx=407.9 cy=272.3 /><circle cx=559.8 cy=409.0 /><circle cx=469.3 cy=180.8 /><circle cx=314.0 cy=165.2 /><circle cx=494.3 cy=170.7 /><circle cx=402.3 cy=330.3 /><circle cx=473.4 cy=307.0 /><circle cx=374.3 cy=371.4 /><circle cx=559.0 cy=310.5 /><circle cx=643.2 cy=234.7 /><circle cx=374.1 cy=147.4 /><circle cx=517.7 cy=250.5 /><circle cx=297.5 cy=268.2 /><circle cx=629.9 cy=300.8 /><circle cx=495.8 cy=159.1 /><circle cx=546.2 cy=371.0 /><circle cx=387.9 cy=224.1 /><circle cx=610.4 cy=192.2 /><circle cx=406.4 cy=156.3 /><circle cx=410.7 cy=238.7 /><circle cx=537.7 cy=409.7 /><circle cx=642.9 cy=197.1 /><circle cx=320.8 cy=335.1 /><circle cx=373.9 cy=355.7 /><circle cx=443.2 cy=137.9 /><circle cx=387.2 cy=198.6 /><circle cx=519.2 cy=164.5 /><circle cx=598.4 cy=366.9 /><circle cx=382.0 cy=329.7 /><circle cx=610.2 cy=180.3 /><circle cx=658.1 cy=209.4 /><circle cx=279.9 cy=145.6 /><circle cx=356.3 cy=393.9 /><circle cx=552.0 cy=162.0 /><circle cx=370.8 cy=212.6 /><circle cx=540.3 cy=127.7 /><circle cx=572.3 cy=366.3 /><circle cx=564.8 cy=395.7 /><circle cx=398.8 cy=243.9 /><circle cx=541.5 cy=174.5 /><circle cx=375.9 cy=165.0 /><circle cx=516.7 cy=215.9 /><circle cx=421.3 cy=219.3 /><circle cx=572.6 cy=127.0 /><circle cx=608.4 cy=260.8 /><circle cx=328.7 cy=306.3 /><circle cx=651.0 cy=221.4 /><circle cx=384.3 cy=117.3 /><circle cx=340.4 cy=190.2 /><circle cx=492.6 cy=167.4 /><circle cx=410.3 cy=156.1 /><circle cx=445.7 cy=153.0 /><circle cx=437.0 cy=131.7 /><circle cx=349.6 cy=302.6 /><circle cx=594.4 cy=135.0 /><circle cx=330.2 cy=286.5 /><circle cx=567.9 cy=349.9 /><circle cx=537.5 cy=314.0 /><circle cx=441.3 cy=318.3 /><circle cx=416.7 cy=359.5 /><circle cx=590.4 cy=273.0 /><circle cx=593.8 cy=205.4 /><circle cx=460.2 cy=224.6 /><circle cx=319.1 cy=129.3 /><circle cx=580.4 cy=135.9 /><circle cx=402.7 cy=184.7 /><circle cx=496.1 cy=376.7 /><circle cx=359.9 cy=352.1 /><circle cx=339.6 cy=220.5 /><circle cx=360.2 cy=136.1 /><circle cx=339.2 cy=202.1 /><circle cx=595.2 cy=219.2 /><circle cx=619.4 cy=135.9 /><circle cx=531.2 cy=344.9 /><circle cx=439.7 cy=173.8 /><circle cx=526.9 cy=321.8 /><circle cx=358.1 cy=403.3 /><circle cx=312.2 cy=235.2 /><circle cx=276.8 cy=142.2 /><circle cx=501.0 cy=214.4 /><circle cx=370.0 cy=149.0 /><circle cx=644.7 cy=326.6 /><circle cx=361.5 cy=250.6 /><circle cx=637.7 cy=257.1 /><circle cx=443.9 cy=298.6 /><circle cx=289.3 cy=187.7 /><circle cx=329.9 cy=376.0 /><circle cx=652.5 cy=148.9 /><circle cx=519.4 cy=398.2 /><circle cx=384.3 cy=288.6 /><circle cx=417.8 cy=401.1 /><circle cx=488.3 cy=211.8 /><circle cx=461.8 cy=162.2 /><circle cx=568.4 cy=271.5 /><circle cx=420.3 cy=323.8 /><circle cx=434.8 cy=290.2 /><circle cx=518.8 cy=329.9 /><circle cx=315.1 cy=258.0 /><circle cx=348.9 cy=163.5 /><circle cx=609.1 cy=303.1 /><circle cx=646.8 cy=277.0 /><circle cx=304.0 cy=188.3 /><circle cx=300.3 cy=120.7 /><circle cx=446.2 cy=399.1 /><circle cx=392.1 cy=373.9 /><circle cx=415.6 cy=276.6 /><circle cx=302.4 cy=143.9 /><circle cx=531.1 cy=361.2 /><circle cx=406.8 cy=384.9 /><circle cx=647.3 cy=148.0 /><circle cx=608.7 cy=249.2 /><circle cx=495.5 cy=178.6 /><circle cx=539.3 cy=267.2 /><circle cx=423.1 cy=172.9 /><circle cx=332.0 cy=238.5 /><circle cx=648.5 cy=149.4 /><circle cx=585.3 cy=389.6 /><circle cx=460.7 cy=260.3 /><circle cx=343.3 cy=148.5 /><circle cx=324.6 cy=276.5 /><circle cx=609.0 cy=154.1 /><circle cx=510.0 cy=286.2 /><circle cx=392.3 cy=400.2 /><circle cx=346.4 cy=210.4 /><circle cx=525.4 cy=344.2 /><circle cx=368.2 cy=354.2 /><circle cx=503.7 cy=405.2 /><circle cx=279.4 cy=182.5 /><circle cx=302.3 cy=258.3 /><circle cx=352.8 cy=167.2 /><circle cx=599.3 cy=273.5 /><circle cx=519.9 cy=358.3 /><circle cx=505.9 cy=278.7 /><circle cx=387.4 cy=146.2 /><circle cx=330.5 cy=146.2 /><circle cx=534.2 cy=184.3 /><circle cx=530.0 cy=262.8 /><circle cx=524.9 cy=385.1 /><circle cx=274.7 cy=366.9 /><circle cx=615.2 cy=354.3 /><circle cx=291.7 cy=187.0 /><circle cx=541.1 cy=223.0 /><circle cx=345.0 cy=157.4 /><circle cx=413.5 cy=411.4 /><circle cx=497.7 cy=175.8 /><circle cx=284.5 cy=394.2 /><circle cx=340.9 cy=248.9 /><circle cx=408.1 cy=298.9 /><circle cx=577.5 cy=263.3 /><circle cx=494.5 cy=369.0 /><circle cx=367.7 cy=164.3 /><circle cx=552.8 cy=198.9 /><circle cx=615.2 cy=165.7 /><circle cx=391.4 cy=254.3 /><circle cx=494.2 cy=357.0 /><circle cx=397.2 cy=197.2 /><circle cx=319.8 cy=225.0 /><circle cx=382.6 cy=154.0 /><circle cx=446.9 cy=195.1 /><circle cx=279.7 cy=150.4 /><circle cx=360.9 cy=242.6 /><circle cx=591.9 cy=142.4 /><circle cx=439.5 cy=219.2 /><circle cx=606.3 cy=414.8 /><circle cx=564.1 cy=325.1 /><circle cx=562.8 cy=250.3 /><circle cx=483.1 cy=297.5 /><circle cx=374.3 cy=125.1 /><circle cx=560.0 cy=305.9 /><circle cx=410.7 cy=277.7 /><circle cx=553.6 cy=126.0 /><circle cx=564.2 cy=394.4 /><circle cx=306.0 cy=416.7 /><circle cx=348.7 cy=234.1 /><circle cx=371.0 cy=303.5 /><circle cx=635.3 cy=331.9 /><circle cx=650.5 cy=147.7 /><circle cx=530.2 cy=228.6 /><circle cx=459.6 cy=118.7 /><circle cx=648.1 cy=213.1 /><circle cx=312.3 cy=319.5 /><circle cx=649.8 cy=222.0 /><circle cx=441.6 cy=279.6 /><circle cx=520.2 cy=210.3 /><circle cx=427.1 cy=350.4 /><circle cx=328.7 cy=312.3 /><circle cx=448.4 cy=286.5 /><circle cx=284.2 cy=303.1 /><circle cx=573.8 cy=152.1 /><circle cx=620.5 cy=368.8 /><circle cx=362.8 cy=347.9 /><circle cx=375.3 cy=192.9 /><circle cx=587.7 cy=227.2 /><circle cx=532.1 cy=198.0 /><circle cx=454.0 cy=308.4 /><circle cx=409.1 cy=242.7 /><circle cx=412.9 cy=342.4 /><circle cx=613.8 cy=314.4 /><circle cx=283.0 cy=127.4 /><circle cx=648.5 cy=213.4 /><circle cx=436.3 cy=281.6 /><circle cx=338.4 cy=335.2 /><circle cx=586.3 cy=399.2 /><circle cx=370.2 cy=249.1 /><circle cx=490.7 cy=124.0 /><circle cx=647.8 cy=149.6 /><circle cx=446.1 cy=221.6 /><circle cx=305.2 cy=388.4 /><circle cx=485.7 cy=270.5 /><circle cx=634.2 cy=206.3 /><circle cx=460.9 cy=145.3 /><circle cx=505.9 cy=316.0 /><circle cx=615.8 cy=366.4 /><circle cx=355.6 cy=162.0 /><circle cx=325.8 cy=246.7 /><circle cx=429.7 cy=141.6 /><circle cx=275.3 cy=342.6 /><circle cx=641.2 cy=219.6 /><circle cx=385.1 cy=393.0 /><circle cx=476.9 cy=395.6 /><circle cx=377.8 cy=405.2 /><circle cx=318.9 cy=254.9 /><circle cx=527.0 cy=282.5 /><circle cx=285.2 cy=129.1 /><circle cx=615.8 cy=221.7 /><circle cx=303.3 cy=388.6 /><circle cx=508.5 cy=403.4 /><circle cx=559.5 cy=133.2 /><circle cx=551.6 cy=416.2 /><circle cx=297.9 cy=366.2 /><circle cx=447.7 cy=155.8 /><circle cx=338.0 cy=129.8 /><circle cx=284.3 cy=233.6 /><circle cx=465.8 cy=236.3 /><circle cx=300.7 cy=351.8 /><circle cx=644.0 cy=219.2 /><circle cx=542.5 cy=233.6 /><circle cx=381.9 cy=181.2 /><circle cx=494.1 cy=274.1 /><circle cx=335.0 cy=166.5 /><circle cx=593.0 cy=317.6 /><circle cx=297.9 cy=126.9 /><circle cx=638.2 cy=307.8 /><circle cx=317.9 cy=164.5 /><circle cx=433.9 cy=322.7 /><circle cx=523.5 cy=241.1 /><circle cx=497.4 cy=144.7 /><circle cx=460.8 cy=233.1 /><circle cx=471.2 cy=190.2 /><circle cx=299.6 cy=291.2 /><circle cx=372.3 cy=300.8 /><circle cx=323.7 cy=280.6 /><circle cx=280.6 cy=306.0 /><circle cx=535.8 cy=361.0 /><circle cx=460.4 cy=211.7 /><circle cx=536.0 cy=371.4 /><circle cx=451.1 cy=198.3 /><circle cx=528.6 cy=133.6 /><circle cx=349.4 cy=184.5 /><circle cx=487.4 cy=167.9 /><circle cx=440.3 cy=285.7 /><circle cx=607.7 cy=344.2 /><circle cx=613.1 cy=356.9 /><circle cx=522.1 cy=207.8 /><circle cx=426.8 cy=136.5 /><circle cx=397.5 cy=329.1 /><circle cx=430.7 cy=232.6 /><circle cx=552.4 cy=337.3 /><circle cx=457.7 cy=238.0 /><circle cx=654.0 cy=277.5 /><circle cx=479.0 cy=236.4 /><circle cx=506.2 cy=368.4 /><circle cx=578.2 cy=134.6 /><circle cx=343.0 cy=312.4 /><circle cx=502.2 cy=375.2 /><circle cx=566.9 cy=334.1 /><circle cx=386.2 cy=294.6 /><circle cx=331.4 cy=377.7 /><circle cx=350.3 cy=245.4 /><circle cx=639.1 cy=297.6 /><circle cx=444.2 cy=348.1 /><circle cx=425.7 cy=119.6 /><circle cx=436.4 cy=184.2 /><circle cx=548.2 cy=168.3 /><circle cx=276.9 cy=124.4 /><circle cx=290.5 cy=309.8 /><circle cx=375.9 cy=337.0 /><circle cx=420.9 cy=279.4 /><circle cx=512.1 cy=309.9 /><circle cx=359.3 cy=150.8 /><circle cx=401.8 cy=161.1 /><circle cx=640.0 cy=157.6 /><circle cx=404.8 cy=305.9 /><circle cx=379.2 cy=403.6 /><circle cx=533.3 cy=399.0 /><circle cx=471.1 cy=384.8 /><circle cx=346.9 cy=242.3 /><circle cx=294.8 cy=191.3 /><circle cx=650.6 cy=237.8 /><circle cx=322.0 cy=135.2 /><circle cx=453.5 cy=129.2 /><circle cx=380.4 cy=134.0 /><circle cx=641.7 cy=181.0 /><circle cx=367.3 cy=151.7 /><circle cx=343.0 cy=234.7 /><circle cx=583.4 cy=166.3 /><circle cx=620.5 cy=336.4 /><circle cx=307.5 cy=200.5 /><circle cx=454.0 cy=194.0 /><circle cx=536.3 cy=142.5 /><circle cx=313.4 cy=126.3 /><circle cx=470.0 cy=184.3 /><circle cx=302.8 cy=254.9 /><circle cx=492.6 cy=250.6 /><circle cx=274.4 cy=131.8 /><circle cx=602.2 cy=409.1 /><circle cx=603.7 cy=204.3 /><circle cx=631.9 cy=130.1 /><circle cx=446.7 cy=204.5 /><circle cx=315.2 cy=118.6 /><circle cx=492.5 cy=304.7 /><circle cx=312.1 cy=415.6 /><circle cx=407.9 cy=195.8 /><circle cx=368.9 cy=267.4 /><circle cx=475.3 cy=289.1 /><circle cx=318.5 cy=414.1 /><circle cx=415.0 cy=210.6 /><circle cx=583.7 cy=120.9 /><circle cx=527.9 cy=148.2 /><circle cx=612.1 cy=306.1 /><circle cx=431.7 cy=164.3 /><circle cx=570.9 cy=243.3 /><circle cx=398.2 cy=320.5 /><circle cx=629.7 cy=355.8 /><circle cx=275.0 cy=270.5 /><circle cx=431.9 cy=250.0 /><circle cx=366.2 cy=389.2 /><circle cx=640.7 cy=401.3 /><circle cx=302.2 cy=216.9 /><circle cx=352.5 cy=356.1 /><circle cx=594.8 cy=415.8 /><circle cx=579.4 cy=157.6 /><circle cx=408.9 cy=400.6 /><circle cx=322.5 cy=407.5 /><circle cx=655.2 cy=262.8 /><circle cx=567.8 cy=137.1 /><circle cx=587.9 cy=367.2 /><circle cx=602.4 cy=241.4 /><circle cx=611.4 cy=284.7 /><circle cx=410.6 cy=222.7 /><circle cx=275.5 cy=401.2 /><circle cx=619.7 cy=213.5 /><circle cx=561.5 cy=202.7 /><circle cx=434.8 cy=410.1 /><circle cx=469.6 cy=199.9 /><circle cx=366.6 cy=270.5 /><circle cx=646.3 cy=354.4 /><circle cx=448.2 cy=164.1 /><circle cx=388.6 cy=235.7 /><circle cx=439.7 cy=373.4 /><circle cx=518.2 cy=367.2 /><circle cx=559.8 cy=273.7 /><circle cx=499.9 cy=173.8 /><circle cx=460.7 cy=269.3 /><circle cx=368.1 cy=232.6 /><circle cx=597.5 cy=160.9 /><circle cx=505.7 cy=329.1 /><circle cx=475.8 cy=223.1 /><circle cx=342.8 cy=336.1 /><circle cx=617.9 cy=171.9 /><circle cx=465.5 cy=335.8 /><circle cx=327.1 cy=129.0 /><circle cx=645.3 cy=209.6 /><circle cx=617.7 cy=296.6 /><circle cx=554.4 cy=327.8 /><circle cx=294.9 cy=163.0 /><circle cx=591.6 cy=392.9 /><circle cx=382.7 cy=304.0 /><circle cx=335.2 cy=328.1 /><circle cx=562.8 cy=117.6 /><circle cx=414.4 cy=281.3 /><circle cx=308.0 cy=381.0 /><circle cx=396.3 cy=393.0 /><circle cx=623.6 cy=229.0 /><circle cx=612.3 cy=276.1 /><circle cx=538.9 cy=163.6 /><circle cx=638.9 cy=158.3 /><circle cx=515.2 cy=130.4 /><circle cx=291.2 cy=202.8 /><circle cx=553.8 cy=126.9 /><circle cx=363.3 cy=378.8 /><circle cx=293.8 cy=206.7 /><circle cx=596.6 cy=146.0 /><circle cx=373.1 cy=363.7 /><circle cx=648.2 cy=201.7 /><circle cx=626.8 cy=302.4 /><circle cx=520.0 cy=150.0 /><circle cx=284.1 cy=297.8 /><circle cx=470.3 cy=249.4 /><circle cx=595.6 cy=131.0 /><circle cx=372.3 cy=222.8 /><circle cx=383.1 cy=155.1 /><circle cx=334.3 cy=396.3 /><circle cx=584.7 cy=182.5 /><circle cx=648.0 cy=349.3 /><circle cx=617.0 cy=152.6 /><circle cx=598.4 cy=249.9 /><circle cx=441.7 cy=120.7 /><circle cx=657.5 cy=356.8 /><circle cx=365.0 cy=393.5 /><circle cx=337.7 cy=234.7 /><circle cx=293.0 cy=391.0 /><circle cx=373.7 cy=140.9 /><circle cx=402.8 cy=259.9 /><circle cx=274.8 cy=220.4 /><circle cx=525.4 cy=354.4 /><circle cx=537.5 cy=263.8 /><circle cx=591.9 cy=192.9 /><circle cx=406.4 cy=261.1 /><circle cx=520.5 cy=369.8 /><circle cx=334.2 cy=198.6 /><circle cx=374.5 cy=337.4 /><circle cx=423.7 cy=378.2 /><circle cx=330.1 cy=221.8 /><circle cx=479.5 cy=181.0 /><circle cx=582.6 cy=146.8 /><circle cx=324.7 cy=351.6 /><circle cx=293.7 cy=169.1 /><circle cx=438.4 cy=217.2 /><circle cx=606.0 cy=382.7 /><circle cx=477.4 cy=236.2 /><circle cx=524.4 cy=233.2 /><circle cx=596.8 cy=227.6 /><circle cx=647.4 cy=305.6 /><circle cx=632.6 cy=276.4 /><circle cx=631.6 cy=390.5 /><circle cx=520.8 cy=255.8 /><circle cx=560.0 cy=392.4 /><circle cx=306.4 cy=288.0 /><circle cx=436.1 cy=246.9 /><circle cx=444.3 cy=270.3 /><circle cx=629.6 cy=119.4 /><circle cx=482.2 cy=396.7 /><circle cx=543.7 cy=207.7 /><circle cx=525.0 cy=179.6 /><circle cx=594.0 cy=401.8 /><circle cx=331.9 cy=136.9 /><circle cx=433.6 cy=140.3 /><circle cx=651.2 cy=242.3 /><circle cx=565.9 cy=133.1 /><circle cx=423.6 cy=365.6 /><circle cx=287.4 cy=136.0 /><circle cx=446.9 cy=169.7 /><circle cx=503.3 cy=207.1 /><circle cx=603.7 cy=417.3 /><circle cx=332.7 cy=309.8 /><circle cx=585.4 cy=341.5 /><circle cx=337.0 cy=277.9 /><circle cx=289.0 cy=407.9 /><circle cx=291.9 cy=288.8 /><circle cx=655.3 cy=288.1 /><circle cx=340.1 cy=380.2 /><circle cx=386.9 cy=138.8 /><circle cx=279.1 cy=151.3 /><circle cx=446.2 cy=301.8 /><circle cx=504.1 cy=294.9 /><circle cx=466.3 cy=331.9 /><circle cx=595.9 cy=171.4 /><circle cx=644.3 cy=178.1 /><circle cx=372.1 cy=215.6 /><circle cx=432.1 cy=160.8 /><circle cx=608.1 cy=124.9 /><circle cx=471.1 cy=339.4 /><circle cx=632.4 cy=218.9 /><circle cx=358.0 cy=139.1 /><circle cx=354.0 cy=276.4 /><circle cx=359.5 cy=247.6 /><circle cx=614.4 cy=194.0 /><circle cx=296.9 cy=350.6 /><circle cx=353.7 cy=390.1 /><circle cx=630.1 cy=410.7 /><circle cx=607.2 cy=336.1 /><circle cx=617.4 cy=269.1 /><circle cx=278.3 cy=395.2 /><circle cx=282.4 cy=135.0 /><circle cx=598.0 cy=161.9 /><circle cx=490.2 cy=143.7 /><circle cx=297.8 cy=192.1 /><circle cx=362.4 cy=287.6 /><circle cx=398.4 cy=335.0 /><circle cx=594.8 cy=156.8 /><circle cx=604.2 cy=175.9 /><circle cx=290.6 cy=380.0 /><circle cx=553.3 cy=258.6 /><circle cx=592.2 cy=121.1 /><circle cx=633.5 cy=161.7 /><circle cx=301.6 cy=351.6 /><circle cx=357.9 cy=357.4 /><circle cx=527.1 cy=252.8 /><circle cx=628.0 cy=260.0 /><circle cx=599.2 cy=129.6 /><circle cx=550.9 cy=308.0 /><circle cx=280.8 cy=145.3 /><circle cx=407.5 cy=191.5 /><circle cx=300.0 cy=225.4 /><circle cx=328.3 cy=317.1 /><circle cx=386.3 cy=210.0 /><circle cx=538.7 cy=254.3 /><circle cx=486.1 cy=411.7 /><circle cx=504.0 cy=179.7 /><circle cx=599.5 cy=390.6 /><circle cx=494.9 cy=306.6 /><circle cx=423.7 cy=206.3 /><circle cx=425.8 cy=179.4 /><circle cx=373.3 cy=239.0 /><circle cx=343.0 cy=357.8 /><circle cx=411.8 cy=304.4 /><circle cx=364.1 cy=205.0 /><circle cx=464.8 cy=284.6 /><circle cx=402.6 cy=245.4 /><circle cx=590.9 cy=378.1 /><circle cx=470.6 cy=122.6 /><circle cx=492.5 cy=220.2 /><circle cx=543.3 cy=334.7 /><circle cx=488.1 cy=199.3 /><circle cx=640.4 cy=258.3 /><circle cx=588.6 cy=163.2 /><circle cx=528.0 cy=206.1 /><circle cx=500.5 cy=131.7 /><circle cx=278.3 cy=235.1 /><circle cx=451.6 cy=239.5 /><circle cx=556.4 cy=182.4 /><circle cx=499.5 cy=410.2 /><circle cx=620.1 cy=391.2 /><circle cx=553.2 cy=224.6 /><circle cx=561.9 cy=215.3 /><circle cx=629.4 cy=416.7 /><circle cx=289.0 cy=197.1 /><circle cx=439.0 cy=295.2 /><circle cx=581.7 cy=387.4 /><circle cx=632.4 cy=200.2 /><circle cx=519.6 cy=164.6 /><circle cx=332.3 cy=218.8 /><circle cx=459.4 cy=274.9 /><circle cx=304.0 cy=231.3 /><circle cx=361.6 cy=336.9 /><circle cx=462.3 cy=276.5 /><circle cx=651.0 cy=329.1 /><circle cx=436.3 cy=338.7 /><circle cx=544.7 cy=181.5 /><circle cx=511.7 cy=146.4 /><circle cx=581.4 cy=247.2 /><circle cx=540.1 cy=299.1 /><circle cx=470.5 cy=292.8 /><circle cx=563.9 cy=170.3 /><circle cx=475.9 cy=386.1 /><circle cx=555.3 cy=121.1 /><circle cx=332.9 cy=210.0 /><circle cx=472.0 cy=337.8 /><circle cx=596.2 cy=272.4 /><circle cx=472.9 cy=406.7 /><circle cx=421.3 cy=312.6 /><circle cx=352.2 cy=244.4 /><circle cx=438.6 cy=329.8 /><circle cx=280.1 cy=295.9 /><circle cx=395.3 cy=328.2 /><circle cx=379.8 cy=154.2 /><circle cx=564.9 cy=153.1 /><circle cx=336.0 cy=315.3 /><circle cx=447.1 cy=256.8 /><circle cx=296.8 cy=393.8 /><circle cx=625.5 cy=141.1 /><circle cx=625.1 cy=291.0 /><circle cx=636.4 cy=385.6 /><circle cx=343.3 cy=363.0 /><circle cx=504.8 cy=374.4 /><circle cx=366.0 cy=129.3 /><circle cx=615.8 cy=187.1 /><circle cx=376.4 cy=138.3 /><circle cx=451.2 cy=170.4 /><circle cx=383.9 cy=226.0 /><circle cx=471.8 cy=151.1 /><circle cx=559.5 cy=280.4 /><circle cx=525.4 cy=169.7 /><circle cx=351.4 cy=342.4 /><circle cx=586.2 cy=222.6 /><circle cx=318.0 cy=218.1 /><circle cx=635.7 cy=133.4 /><circle cx=546.3 cy=252.9 /><circle cx=601.4 cy=154.5 /><circle cx=544.7 cy=325.4 /><circle cx=470.9 cy=222.7 /><circle cx=586.2 cy=251.2 /><circle cx=425.8 cy=186.0 /><circle cx=594.9 cy=186.7 /><circle cx=298.9 cy=294.0 /><circle cx=359.4 cy=354.6 /><circle cx=563.2 cy=355.9 /><circle cx=620.3 cy=158.0 /><circle cx=653.9 cy=284.8 /><circle cx=430.5 cy=266.6 /><circle cx=378.5 cy=365.7 /><circle cx=566.0 cy=224.4 /><circle cx=365.1 cy=156.0 /><circle cx=645.9 cy=346.9 /><circle cx=391.3 cy=399.4 /><circle cx=649.4 cy=124.5 /><circle cx=392.0 cy=401.0 /><circle cx=613.6 cy=241.7 /><circle cx=531.2 cy=187.3 /><circle cx=542.0 cy=350.5 /><circle cx=354.8 cy=375.8 /><circle cx=587.3 cy=303.6 /><circle cx=277.7 cy=154.8 /><circle cx=623.9 cy=207.1 /><circle cx=387.7 cy=125.6 /><circle cx=458.2 cy=199.2 /><circle cx=594.0 cy=166.5 /><circle cx=622.7 cy=145.5 /><circle cx=550.1 cy=236.6 /><circle cx=483.3 cy=285.6 /><circle cx=320.0 cy=304.6 /><circle cx=621.1 cy=383.8 /><circle cx=484.5 cy=233.2 /><circle cx=451.9 cy=226.9 /><circle cx=327.0 cy=139.4 /><circle cx=290.8 cy=293.8 /><circle cx=426.8 cy=156.4 /><circle cx=394.2 cy=154.1 /><circle cx=615.1 cy=411.9 /><circle cx=375.2 cy=292.1 /><circle cx=516.8 cy=276.5 /><circle cx=574.1 cy=208.0 /><circle cx=491.9 cy=348.0 /><circle cx=520.7 cy=200.0 /><circle cx=548.6 cy=358.7 /><circle cx=510.3 cy=238.2 /><circle cx=484.4 cy=396.0 /><circle cx=367.3 cy=271.4 /><circle cx=517.6 cy=185.8 /><circle cx=352.1 cy=226.6 /><circle cx=367.0 cy=269.9 /><circle cx=610.8 cy=325.3 /><circle cx=411.0 cy=363.6 /><circle cx=468.5 cy=341.3 /><circle cx=413.6 cy=354.9 /><circle cx=613.5 cy=367.1 /><circle cx=644.3 cy=208.1 /><circle cx=528.4 cy=264.4 /><circle cx=277.5 cy=324.6 /><circle cx=619.4 cy=235.7 /><circle cx=554.2 cy=325.2 /><circle cx=563.6 cy=290.6 /><circle cx=306.8 cy=217.7 /><circle cx=290.0 cy=351.4 /><circle cx=532.6 cy=293.0 /><circle cx=656.9 cy=241.6 /><circle cx=620.3 cy=297.6 /><circle cx=651.1 cy=278.8 /><circle cx=403.5 cy=321.5 /><circle cx=460.5 cy=119.5 /><circle cx=616.1 cy=226.7 /><circle cx=526.3 cy=298.6 /><circle cx=401.5 cy=314.2 /><circle cx=595.8 cy=192.7 /><circle cx=559.0 cy=128.8 /><circle cx=569.7 cy=241.4 /><circle cx=603.2 cy=272.1 /><circle cx=305.9 cy=405.6 /><circle cx=621.3 cy=142.8 /><circle cx=422.4 cy=208.2 /><circle cx=428.1 cy=388.7 /><circle cx=366.3 cy=366.7 /><circle cx=571.5 cy=359.6 /><circle cx=588.8 cy=369.3 /><circle cx=321.8 cy=377.6 /><circle cx=342.4 cy=223.6 /><circle cx=577.0 cy=178.5 /><circle cx=429.4 cy=291.2 /><circle cx=291.9 cy=182.0 /><circle cx=282.7 cy=339.2 /><circle cx=623.4 cy=333.0 /><circle cx=466.6 cy=375.5 /><circle cx=319.0 cy=399.4 /><circle cx=519.5 cy=328.9 /><circle cx=313.0 cy=360.6 /><circle cx=344.2 cy=161.7 /><circle cx=643.4 cy=354.2 /><circle cx=295.8 cy=267.0 /><circle cx=537.2 cy=368.8 /><circle cx=515.2 cy=341.9 /><circle cx=298.1 cy=336.7 /><circle cx=281.5 cy=132.7 /><circle cx=503.3 cy=242.2 /><circle cx=521.2 cy=154.1 /><circle cx=501.2 cy=384.4 /><circle cx=509.7 cy=396.1 /><circle cx=608.9 cy=238.3 /><circle cx=618.1 cy=256.3 /><circle cx=383.8 cy=178.7 /><circle cx=309.9 cy=142.1 /><circle cx=545.1 cy=391.6 /><circle cx=299.4 cy=402.2 /><circle cx=507.9 cy=222.4 /><circle cx=319.7 cy=277.6 /><circle cx=437.6 cy=294.8 /><circle cx=597.2 cy=191.4 /><circle cx=486.1 cy=403.2 /><circle cx=454.1 cy=375.3 /><circle cx=644.4 cy=303.2 /><circle cx=650.0 cy=168.8 /><circle cx=624.6 cy=401.4 /><circle cx=409.1 cy=125.3 /><circle cx=542.6 cy=227.7 /><circle cx=372.1 cy=300.6 /><circle cx=505.9 cy=373.4 /><circle cx=646.6 cy=125.8 /><circle cx=298.5 cy=309.7 /><circle cx=499.5 cy=338.6 /><circle cx=457.7 cy=398.9 /><circle cx=473.6 cy=137.7 /><circle cx=297.6 cy=395.0 /><circle cx=575.1 cy=212.5 /><circle cx=373.9 cy=404.7 /><circle cx=617.3 cy=333.3 /><circle cx=494.7 cy=171.7 /><circle cx=597.6 cy=269.5 /><circle cx=544.7 cy=405.8 /><circle cx=518.5 cy=340.1 /><circle cx=326.3 cy=337.1 /><circle cx=334.9 cy=259.4 /><circle cx=481.5 cy=137.6 /><circle cx=360.0 cy=235.8 /><circle cx=549.6 cy=380.1 /><circle cx=324.2 cy=175.5 /><circle cx=426.3 cy=346.1 /><circle cx=489.9 cy=395.0 /><circle cx=547.9 cy=248.1 /><circle cx=370.0 cy=119.9 /><circle cx=359.1 cy=200.2 /><circle cx=304.3 cy=228.1 /><circle cx=375.3 cy=369.9 /><circle cx=522.4 cy=251.9 /><circle cx=278.6 cy=129.8 /><circle cx=313.7 cy=146.4 /><circle cx=507.2 cy=303.1 /><circle cx=617.1 cy=271.7 /><circle cx=527.0 cy=331.2 /><circle cx=281.0 cy=255.6 /><circle cx=554.1 cy=202.2 /><circle cx=464.6 cy=155.5 /><circle cx=579.6 cy=273.7 /><circle cx=430.3 cy=220.8 /><circle cx=464.5 cy=267.8 /><circle cx=478.0 cy=412.9 /><circle cx=276.8 cy=166.6 /><circle cx=311.9 cy=320.7 /><circle cx=602.5 cy=203.9 /><circle cx=363.1 cy=310.2 /><circle cx=643.5 cy=276.7 /><circle cx=289.9 cy=299.8 /><circle cx=647.6 cy=155.6 /><circle cx=400.0 cy=153.4 /><circle cx=509.9 cy=375.4 /><circle cx=401.3 cy=187.0 /><circle cx=469.1 cy=410.4 /><circle cx=548.5 cy=154.3 /><circle cx=351.4 cy=174.3 /><circle cx=576.0 cy=233.3 /><circle cx=335.3 cy=144.3 /><circle cx=423.3 cy=412.9 /><circle cx=459.7 cy=135.4 /><circle cx=313.4 cy=157.2 /><circle cx=548.7 cy=402.2 /><circle cx=364.2 cy=250.3 /><circle cx=653.1 cy=414.4 /><circle cx=543.4 cy=224.0 /><circle cx=299.2 cy=332.1 /><circle cx=329.1 cy=367.0 /><circle cx=517.9 cy=207.0 /><circle cx=299.3 cy=375.0 /><circle cx=622.1 cy=238.2 /><circle cx=552.6 cy=273.3 /><circle cx=524.2 cy=279.3 /><circle cx=458.6 cy=318.3 /><circle cx=593.7 cy=346.8 /><circle cx=437.6 cy=356.1 /><circle cx=518.4 cy=121.1 /><circle cx=596.6 cy=254.4 /><circle cx=290.6 cy=254.2 /><circle cx=532.3 cy=373.5 /><circle cx=533.8 cy=328.1 /><circle cx=569.8 cy=399.7 /><circle cx=375.1 cy=319.8 /><circle cx=473.1 cy=166.5 /><circle cx=584.0 cy=335.2 /><circle cx=646.5 cy=181.1 /><circle cx=570.1 cy=382.3 /><circle cx=541.6 cy=302.4 /><circle cx=646.7 cy=248.7 /><circle cx=416.9 cy=391.1 /><circle cx=362.4 cy=153.4 /><circle cx=473.7 cy=163.2 /><circle cx=418.5 cy=348.6 /><circle cx=399.2 cy=302.3 /><circle cx=581.3 cy=374.2 /><circle cx=282.1 cy=226.1 /><circle cx=450.7 cy=288.2 /><circle cx=633.8 cy=305.4 /><circle cx=349.9 cy=317.8 /><circle cx=411.2 cy=280.1 /><circle cx=416.8 cy=301.9 /><circle cx=556.9 cy=230.5 /><circle cx=508.0 cy=391.1 /><circle cx=626.4 cy=167.8 /><circle cx=318.7 cy=376.9 /><circle cx=629.6 cy=139.3 /><circle cx=648.8 cy=374.1 /><circle cx=457.5 cy=290.5 /><circle cx=609.0 cy=265.6 /><circle cx=402.5 cy=334.8 /><circle cx=606.3 cy=313.5 /><circle cx=577.6 cy=283.7 /><circle cx=537.2 cy=287.5 /><circle cx=419.4 cy=146.7 /><circle cx=458.6 cy=183.9 /><circle cx=288.5 cy=175.1 /><circle cx=627.6 cy=121.5 /><circle cx=342.7 cy=401.5 /><circle cx=638.1 cy=322.9 /><circle cx=344.6 cy=290.7 /><circle cx=430.1 cy=264.8 /><circle cx=323.3 cy=317.4 /><circle cx=521.9 cy=209.2 /><circle cx=338.3 cy=410.2 /><circle cx=423.8 cy=203.5 /><circle cx=453.7 cy=183.3 /><circle cx=351.1 cy=206.3 /><circle cx=607.4 cy=369.3 /><circle cx=357.9 cy=267.8 /><circle cx=483.9 cy=375.4 /><circle cx=397.0 cy=326.8 /><circle cx=549.4 cy=324.1 /><circle cx=472.6 cy=381.8 /><circle cx=592.3 cy=283.4 /><circle cx=342.5 cy=401.4 /><circle cx=556.1 cy=148.7 /><circle cx=533.2 cy=306.6 /><circle cx=329.6 cy=344.1 /><circle cx=634.3 cy=252.6 /><circle cx=396.8 cy=339.8 /><circle cx=589.3 cy=155.2 /><circle cx=489.9 cy=122.1 /><circle cx=638.9 cy=293.9 /><circle cx=630.1 cy=348.3 /><circle cx=280.3 cy=128.2 /><circle cx=472.4 cy=364.6 /><circle cx=626.5 cy=193.7 /><circle cx=598.0 cy=183.5 /><circle cx=594.2 cy=379.3 /><circle cx=280.6 cy=179.4 /><circle cx=437.0 cy=186.4 /><circle cx=592.9 cy=181.5 /><circle cx=478.1 cy=234.9 /><circle cx=327.4 cy=409.6 /><circle cx=341.1 cy=131.0 /><circle cx=643.7 cy=383.3 /><circle cx=380.5 cy=406.3 /><circle cx=448.0 cy=135.9 /><circle cx=333.6 cy=350.9 /><circle cx=346.9 cy=190.3 /><circle cx=451.7 cy=219.5 /><circle cx=532.0 cy=238.2 /><circle cx=435.3 cy=268.0 /><circle cx=395.2 cy=356.0 /><circle cx=424.0 cy=304.3 /><circle cx=363.0 cy=214.3 /><circle cx=424.4 cy=354.8 /><circle cx=367.1 cy=204.3 /><circle cx=460.0 cy=235.1 /><circle cx=301.1 cy=216.3 /><circle cx=282.8 cy=375.6 /><circle cx=398.7 cy=206.8 /><circle cx=312.8 cy=375.1 /><circle cx=556.1 cy=193.4 /><circle cx=582.1 cy=259.1 /><circle cx=321.2 cy=358.9 /><circle cx=326.1 cy=341.2 /><circle cx=623.8 cy=269.0 /><circle cx=412.2 cy=189.9 /><circle cx=558.6 cy=156.2 /><circle cx=560.1 cy=159.7 /><circle cx=358.8 cy=129.1 /><circle cx=644.5 cy=378.4 /><circle cx=434.0 cy=195.0 /><circle cx=404.5 cy=156.0 /><circle cx=438.8 cy=148.6 /><circle cx=513.2 cy=216.1 /><circle cx=384.2 cy=370.2 /><circle cx=337.2 cy=297.7 /><circle cx=570.8 cy=366.6 /><circle cx=358.3 cy=345.6 /><circle cx=604.8 cy=370.6 /><circle cx=308.4 cy=136.8 /><circle cx=612.5 cy=268.9 /><circle cx=658.1 cy=190.0 /><circle cx=564.4 cy=154.5 /><circle cx=523.3 cy=196.5 /><circle cx=381.1 cy=172.4 /><circle cx=610.5 cy=229.6 /><circle cx=642.7 cy=160.2 /><circle cx=291.5 cy=280.5 /><circle cx=409.0 cy=280.9 /><circle cx=530.9 cy=225.1 /><circle cx=435.9 cy=130.0 /><circle cx=642.7 cy=363.3 /><circle cx=460.9 cy=280.4 /><circle cx=581.7 cy=386.6 /><circle cx=276.3 cy=182.8 /><circle cx=622.6 cy=244.0 /><circle cx=453.3 cy=147.5 /><circle cx=379.7 cy=207.9 /><circle cx=602.0 cy=128.9 /><circle cx=525.8 cy=149.4 /><circle cx=597.9 cy=279.5 /><circle cx=637.4 cy=208.1 /><circle cx=403.5 cy=379.6 /><circle cx=342.2 cy=219.1 /><circle cx=542.1 cy=328.4 /><circle cx=556.6 cy=205.6 /><circle cx=615.4 cy=165.0 /><circle cx=279.5 cy=369.2 /><circle cx=617.0 cy=308.1 /><circle cx=599.1 cy=299.5 /><circle cx=604.8 cy=261.5 /><circle cx=432.7 cy=278.6 /><circle cx=591.1 cy=237.9 /><circle cx=446.7 cy=352.1 /><circle cx=622.2 cy=278.6 /><circle cx=376.8 cy=380.8 /><circle cx=424.9 cy=131.2 /><circle cx=518.9 cy=136.0 /><circle cx=443.5 cy=134.1 /><circle cx=549.0 cy=229.0 /><circle cx=637.1 cy=150.0 /><circle cx=457.2 cy=399.5 /><circle cx=478.7 cy=293.6 /><circle cx=519.5 cy=284.4 /><circle cx=476.8 cy=139.0 /><circle cx=566.3 cy=298.8 /><circle cx=527.2 cy=185.2 /><circle cx=392.1 cy=181.4 /><circle cx=371.5 cy=185.0 /><circle cx=603.5 cy=344.0 /><circle cx=645.2 cy=324.1 /><circle cx=305.2 cy=375.7 /><circle cx=580.4 cy=205.8 /><circle cx=558.6 cy=282.9 /><circle cx=451.5 cy=383.4 /><circle cx=572.8 cy=124.8 /><circle cx=627.5 cy=167.6 /><circle cx=467.0 cy=321.1 /><circle cx=497.7 cy=279.5 /><circle cx=300.1 cy=394.3 /><circle cx=648.2 cy=170.0 /><circle cx=301.8 cy=268.4 /><circle cx=655.9 cy=385.7 /><circle cx=298.2 cy=348.5 /><circle cx=614.7 cy=187.6 /><circle cx=614.7 cy=275.6 /><circle cx=335.9 cy=184.9 /><circle cx=512.1 cy=249.6 /><circle cx=353.2 cy=160.9 /><circle cx=420.6 cy=284.1 /><circle cx=496.0 cy=338.1 /><circle cx=470.2 cy=270.0 /><circle cx=341.5 cy=217.7 /><circle cx=565.2 cy=323.7 /><circle cx=375.4 cy=324.4 /><circle cx=639.4 cy=224.3 /><circle cx=422.7 cy=257.5 /><circle cx=543.9 cy=256.1 /><circle cx=376.7 cy=182.9 /><circle cx=590.0 cy=179.4 /><circle cx=291.6 cy=370.8 /><circle cx=456.6 cy=333.6 /><circle cx=600.9 cy=283.4 /><circle cx=399.7 cy=127.4 /><circle cx=522.4 cy=306.2 /><circle cx=531.3 cy=364.3 /><circle cx=344.4 cy=162.3 /><circle cx=318.0 cy=377.4 /><circle cx=499.0 cy=209.1 /><circle cx=316.2 cy=138.5 /><circle cx=628.9 cy=152.5 /><circle cx=550.4 cy=355.3 /><circle cx=508.7 cy=128.7 /><circle cx=437.5 cy=369.2 /><circle cx=579.1 cy=170.9 /><circle cx=519.4 cy=128.3 /><circle cx=565.7 cy=392.4 /><circle cx=483.7 cy=137.7 /><circle cx=473.9 cy=199.7 /><circle cx=536.9 cy=213.6 /><circle cx=296.4 cy=223.1 /><circle cx=514.2 cy=120.7 /><circle cx=435.8 cy=339.8 /><circle cx=295.2 cy=187.0 /><circle cx=553.5 cy=350.8 /><circle cx=277.6 cy=276.1 /><circle cx=549.0 cy=313.7 /><circle cx=300.8 cy=172.7 /><circle cx=351.3 cy=158.8 /><circle cx=419.0 cy=412.2 /><circle cx=344.5 cy=309.9 /><circle cx=639.3 cy=217.7 /><circle cx=432.5 cy=262.6 /><circle cx=382.8 cy=172.3 /><circle cx=428.0 cy=232.8 /><circle cx=546.2 cy=314.6 /><circle cx=644.1 cy=171.7 /><circle cx=392.2 cy=213.6 /><circle cx=651.9 cy=360.6 /><circle cx=467.2 cy=298.7 /><circle cx=409.7 cy=321.1 /><circle cx=344.3 cy=209.8 /><circle cx=381.0 cy=230.8 /><circle cx=491.0 cy=239.8 /><circle cx=570.5 cy=194.4 /><circle cx=545.0 cy=345.8 /><circle cx=471.7 cy=139.3 /><circle cx=499.7 cy=197.9 /><circle cx=517.1 cy=349.1 /><circle cx=289.8 cy=215.2 /><circle cx=623.4 cy=180.5 /><circle cx=399.8 cy=153.7 /><circle cx=656.3 cy=240.3 /><circle cx=357.2 cy=415.9 /><circle cx=576.6 cy=369.5 /><circle cx=422.6 cy=293.9 /><circle cx=578.6 cy=246.9 /><circle cx=371.8 cy=316.9 /><circle cx=284.3 cy=150.7 /><circle cx=278.3 cy=298.5 /><circle cx=344.2 cy=317.9 /><circle cx=565.2 cy=228.9 /><circle cx=448.2 cy=303.3 /><circle cx=535.3 cy=385.6 /><circle cx=365.4 cy=375.3 /><circle cx=558.7 cy=306.6 /><circle cx=331.4 cy=314.7 /><circle cx=455.2 cy=163.8 /><circle cx=565.3 cy=307.7 /><circle cx=363.0 cy=354.4 /><circle cx=275.5 cy=169.4 /><circle cx=575.6 cy=302.2 /><circle cx=366.9 cy=297.0 /><circle cx=279.8 cy=405.1 /><circle cx=366.8 cy=256.5 /><circle cx=347.3 cy=289.4 /><circle cx=435.1 cy=338.4 /><circle cx=341.2 cy=173.4 /><circle cx=511.1 cy=254.4 /><circle cx=316.5 cy=258.9 /><circle cx=600.4 cy=352.5 /><circle cx=609.8 cy=148.9 /><circle cx=424.2 cy=337.9 /><circle cx=488.6 cy=214.5 /><circle cx=325.8 cy=337.0 /><circle cx=280.3 cy=364.4 /><circle cx=474.2 cy=300.0 /><circle cx=498.0 cy=416.1 /><circle cx=442.8 cy=229.7 /><circle cx=487.8 cy=129.8 /><circle cx=401.3 cy=205.7 /><circle cx=502.3 cy=395.6 /><circle cx=625.9 cy=289.8 /><circle cx=637.0 cy=344.5 /><circle cx=445.7 cy=263.7 /><circle cx=366.3 cy=324.9 /><circle cx=651.6 cy=192.8 /><circle cx=404.9 cy=336.9 /><circle cx=566.1 cy=303.1 /><circle cx=431.6 cy=412.4 /><circle cx=326.4 cy=299.0 /><circle cx=376.3 cy=185.4 /><circle cx=639.2 cy=144.1 /><circle cx=597.2 cy=319.5 /><circle cx=568.7 cy=381.1 /><circle cx=572.0 cy=210.7 /><circle cx=610.4 cy=130.8 /><circle cx=370.4 cy=200.8 /><circle cx=286.8 cy=292.0 /><circle cx=360.8 cy=402.9 /><circle cx=299.8 cy=152.5 /><circle cx=458.7 cy=415.2 /><circle cx=379.8 cy=393.8 /><circle cx=492.0 cy=133.1 /><circle cx=415.5 cy=179.8 /><circle cx=495.1 cy=162.7 /><circle cx=591.0 cy=144.6 /><circle cx=536.9 cy=206.3 /><circle cx=569.0 cy=191.2 /><circle cx=546.3 cy=275.4 /><circle cx=431.4 cy=222.2 /><circle cx=315.1 cy=336.6 /><circle cx=551.6 cy=281.1 /><circle cx=634.1 cy=287.2 /><circle cx=310.7 cy=319.9 /><circle cx=371.1 cy=266.3 /><circle cx=425.8 cy=218.9 /><circle cx=315.9 cy=187.1 /><circle cx=655.2 cy=326.1 /><circle cx=583.3 cy=220.6 /><circle cx=299.2 cy=180.9 /><circle cx=343.0 cy=367.5 /><circle cx=623.9 cy=228.3 /><circle cx=454.6 cy=392.3 /><circle cx=321.7 cy=336.6 /><circle cx=506.2 cy=395.1 /><circle cx=306.8 cy=189.8 /><circle cx=657.3 cy=342.7 /><circle cx=449.6 cy=127.6 /><circle cx=633.0 cy=408.0 /><circle cx=422.4 cy=184.5 /><circle cx=334.4 cy=320.2 /><circle cx=314.1 cy=182.4 /><circle cx=279.4 cy=322.1 /><circle cx=349.4 cy=365.3 /><circle cx=612.2 cy=167.1 /><circle cx=567.4 cy=325.5 /><circle cx=294.0 cy=228.0 /><circle cx=384.1 cy=303.2 /><circle cx=378.9 cy=373.2 /><circle cx=608.4 cy=239.0 /><circle cx=359.2 cy=307.7 /><circle cx=609.0 cy=157.4 /><circle cx=528.7 cy=121.1 /><circle cx=340.9 cy=139.1 /><circle cx=519.6 cy=260.6 /><circle cx=416.3 cy=386.3 /><circle cx=523.4 cy=153.7 /><circle cx=653.3 cy=192.5 /><circle cx=363.7 cy=269.4 /><circle cx=630.2 cy=158.5 /><circle cx=646.6 cy=207.6 /><circle cx=546.1 cy=383.8 /><circle cx=555.5 cy=214.2 /><circle cx=624.3 cy=185.8 /><circle cx=399.7 cy=117.4 /><circle cx=612.1 cy=397.7 /><circle cx=576.2 cy=137.5 /><circle cx=369.5 cy=334.0 /><circle cx=353.0 cy=243.0 /><circle cx=281.2 cy=196.6 /><circle cx=551.8 cy=358.0 /><circle cx=359.8 cy=315.7 /><circle cx=528.0 cy=207.8 /><circle cx=517.8 cy=333.6 /><circle cx=613.1 cy=378.8 /><circle cx=543.2 cy=297.7 /><circle cx=385.0 cy=263.8 /><circle cx=556.5 cy=188.0 /><circle cx=322.9 cy=133.6 /><circle cx=521.1 cy=123.8 /><circle cx=309.4 cy=278.4 /><circle cx=486.9 cy=252.3 /><circle cx=425.7 cy=277.6 /><circle cx=595.4 cy=174.6 /><circle cx=617.7 cy=328.4 /><circle cx=329.2 cy=144.1 /><circle cx=410.1 cy=273.9 /><circle cx=449.0 cy=153.2 /><circle cx=532.0 cy=163.1 /><circle cx=277.7 cy=347.5 /><circle cx=577.2 cy=366.4 /><circle cx=501.8 cy=398.9 /><circle cx=562.9 cy=387.9 /><circle cx=468.8 cy=182.6 /><circle cx=646.4 cy=414.5 /><circle cx=289.6 cy=175.1 /><circle cx=283.7 cy=295.8 /><circle cx=350.1 cy=382.8 /><circle cx=419.2 cy=320.7 /><circle cx=389.9 cy=154.6 /><circle cx=327.6 cy=135.8 /><circle cx=486.3 cy=144.1 /><circle cx=401.6 cy=137.7 /><circle cx=560.8 cy=374.0 /><circle cx=513.9 cy=257.0 /><circle cx=444.5 cy=272.7 /><circle cx=537.9 cy=228.1 /><circle cx=423.4 cy=127.6 /><circle cx=434.4 cy=127.0 /><circle cx=546.3 cy=375.5 /><circle cx=330.1 cy=334.4 /><circle cx=304.3 cy=282.0 /><circle cx=632.3 cy=173.7 /><circle cx=630.8 cy=342.8 /><circle cx=505.0 cy=241.1 /><circle cx=521.2 cy=223.0 /><circle cx=606.7 cy=380.5 /><circle cx=415.2 cy=261.8 /><circle cx=321.2 cy=347.6 /><circle cx=413.5 cy=396.8 /><circle cx=463.4 cy=414.3 /><circle cx=357.6 cy=148.5 /><circle cx=457.4 cy=369.0 /><circle cx=327.2 cy=386.8 /><circle cx=440.1 cy=189.2 /><circle cx=295.7 cy=134.2 /><circle cx=569.2 cy=323.8 /><circle cx=519.8 cy=140.8 /><circle cx=529.6 cy=358.9 /><circle cx=514.8 cy=332.5 /><circle cx=648.6 cy=124.3 /><circle cx=462.4 cy=205.1 /><circle cx=467.2 cy=341.5 /><circle cx=513.5 cy=118.2 /><circle cx=379.3 cy=277.0 /><circle cx=598.8 cy=168.2 /><circle cx=430.4 cy=391.3 /><circle cx=442.4 cy=233.9 /><circle cx=343.5 cy=155.3 /><circle cx=541.4 cy=403.9 /><circle cx=343.3 cy=139.6 /><circle cx=491.8 cy=331.4 /><circle cx=473.8 cy=250.3 /><circle cx=455.1 cy=397.6 /><circle cx=562.7 cy=132.8 /><circle cx=338.4 cy=227.0 /><circle cx=478.2 cy=269.8 /><circle cx=478.1 cy=210.7 /><circle cx=384.4 cy=167.8 /><circle cx=437.2 cy=210.9 /><circle cx=340.3 cy=186.8 /><circle cx=459.7 cy=314.7 /><circle cx=506.0 cy=275.0 /><circle cx=553.6 cy=358.6 /><circle cx=629.3 cy=326.4 /><circle cx=365.3 cy=271.6 /><circle cx=426.2 cy=190.0 /><circle cx=591.8 cy=152.9 /><circle cx=428.7 cy=414.3 /><circle cx=527.7 cy=142.5 /><circle cx=359.6 cy=360.9 /><circle cx=305.4 cy=326.8 /><circle cx=380.7 cy=225.7 /><circle cx=336.7 cy=406.5 /><circle cx=489.5 cy=141.6 /><circle cx=541.4 cy=171.2 /><circle cx=392.6 cy=397.6 /><circle cx=475.2 cy=215.3 /><circle cx=280.9 cy=130.1 /><circle cx=304.1 cy=273.1 /><circle cx=284.7 cy=404.6 /><circle cx=461.5 cy=406.8 /><circle cx=482.2 cy=239.8 /><circle cx=410.5 cy=184.4 /><circle cx=471.9 cy=233.4 /><circle cx=415.6 cy=262.2 /><circle cx=351.8 cy=325.4 /><circle cx=516.3 cy=232.2 /><circle cx=443.5 cy=331.8 /><circle cx=616.2 cy=149.7 /><circle cx=448.0 cy=336.8 /><circle cx=332.6 cy=175.3 /><circle cx=591.6 cy=393.1 /><circle cx=413.3 cy=384.6 /><circle cx=295.4 cy=253.7 /><circle cx=455.4 cy=124.8 /><circle cx=358.9 cy=182.8 /><circle cx=567.7 cy=267.3 /><circle cx=648.8 cy=242.6 /><circle cx=650.3 cy=308.1 /><circle cx=453.7 cy=409.2 /><circle cx=346.7 cy=389.3 /><circle cx=536.9 cy=350.1 /><circle cx=322.3 cy=400.4 /><circle cx=506.4 cy=237.7 /><circle cx=329.8 cy=178.8 /><circle cx=318.6 cy=210.6 /><circle cx=612.6 cy=274.1 /><circle cx=324.9 cy=193.9 /><circle cx=541.3 cy=319.8 /><circle cx=386.5 cy=246.6 /><circle cx=349.9 cy=362.6 /><circle cx=603.1 cy=267.0 /><circle cx=369.6 cy=345.8 /><circle cx=387.9 cy=260.3 /><circle cx=274.9 cy=409.8 /><circle cx=544.0 cy=167.0 /><circle cx=471.2 cy=385.6 /><circle cx=445.9 cy=321.5 /><circle cx=354.8 cy=309.2 /><circle cx=356.4 cy=401.4 /><circle cx=629.9 cy=182.8 /><circle cx=586.6 cy=185.0 /><circle cx=378.4 cy=165.4 /><circle cx=557.3 cy=393.1 /><circle cx=578.2 cy=119.3 /><circle cx=549.0 cy=268.6 /><circle cx=597.5 cy=315.0 /><circle cx=648.3 cy=273.9 /><circle cx=316.0 cy=373.9 /><circle cx=645.5 cy=336.7 /><circle cx=520.6 cy=355.0 /><circle cx=305.7 cy=381.5 /><circle cx=522.4 cy=181.5 /><circle cx=615.7 cy=248.3 /><circle cx=421.2 cy=241.7 /><circle cx=609.9 cy=285.8 /><circle cx=384.8 cy=285.7 /><circle cx=616.1 cy=371.3 /><circle cx=331.4 cy=251.3 /><circle cx=486.7 cy=328.8 /><circle cx=282.0 cy=393.5 /><circle cx=643.9 cy=328.5 /><circle cx=511.5 cy=409.4 /><circle cx=460.9 cy=142.8 /><circle cx=311.7 cy=124.9 /><circle cx=476.0 cy=179.4 /><circle cx=361.1 cy=133.7 /><circle cx=644.5 cy=359.6 /><circle cx=561.7 cy=211.2 /><circle cx=429.1 cy=290.6 /><circle cx=393.0 cy=306.2 /><circle cx=581.3 cy=306.3 /><circle cx=583.8 cy=171.1 /><circle cx=593.9 cy=390.6 /><circle cx=580.1 cy=235.2 /><circle cx=600.6 cy=287.3 /><circle cx=616.3 cy=159.5 /><circle cx=604.7 cy=127.8 /><circle cx=391.3 cy=411.9 /><circle cx=354.0 cy=127.0 /><circle cx=525.8 cy=179.0 /><circle cx=578.0 cy=326.9 /><circle cx=487.0 cy=284.5 /><circle cx=306.8 cy=159.9 /><circle cx=285.2 cy=133.5 /><circle cx=449.9 cy=209.5 /><circle cx=632.5 cy=150.4 /><circle cx=579.2 cy=264.5 /><circle cx=428.3 cy=394.6 /><circle cx=331.7 cy=216.8 /><circle cx=380.8 cy=170.6 /><circle cx=275.0 cy=386.9 /><circle cx=402.1 cy=272.2 /><circle cx=645.3 cy=231.0 /><circle cx=366.1 cy=251.8 /><circle cx=634.4 cy=305.0 /><circle cx=392.6 cy=164.9 /><circle cx=456.5 cy=414.1 /><circle cx=405.3 cy=371.4 /><circle cx=468.7 cy=172.7 /><circle cx=531.0 cy=347.0 /><circle cx=371.6 cy=149.3 /><circle cx=549.9 cy=287.9 /><circle cx=632.5 cy=338.1 /><circle cx=364.4 cy=409.9 /><circle cx=414.4 cy=393.3 /><circle cx=293.3 cy=217.9 /><circle cx=637.1 cy=245.2 /><circle cx=474.0 cy=399.7 /><circle cx=521.7 cy=182.7 /><circle cx=311.0 cy=351.0 /><circle cx=490.7 cy=187.7 /><circle cx=646.7 cy=374.3 /><circle cx=392.8 cy=366.8 /><circle cx=656.5 cy=191.1 /><circle cx=470.6 cy=310.5 /><circle cx=607.7 cy=414.3 /><circle cx=431.3 cy=141.7 /><circle cx=277.6 cy=330.5 /><circle cx=276.9 cy=314.2 /><circle cx=409.5 cy=370.8 /><circle cx=635.3 cy=137.6 /><circle cx=531.4 cy=334.4 /><circle cx=504.8 cy=298.7 /><circle cx=551.3 cy=334.1 /><circle cx=519.0 cy=334.2 /><circle cx=475.4 cy=408.9 /><circle cx=509.5 cy=320.5 /><circle cx=451.5 cy=343.9 /><circle cx=449.6 cy=167.1 /><circle cx=500.5 cy=209.1 /><circle cx=314.8 cy=177.1 /><circle cx=572.7 cy=195.9 /><circle cx=555.4 cy=380.6 /><circle cx=572.4 cy=140.2 /><circle cx=545.2 cy=229.9 /><circle cx=541.9 cy=312.1 /><circle cx=490.6 cy=118.9 /><circle cx=611.3 cy=216.3 /><circle cx=538.5 cy=182.4 /><circle cx=509.5 cy=409.9 /><circle cx=470.0 cy=173.6 /><circle cx=377.4 cy=284.7 /><circle cx=281.5 cy=409.1 /><circle cx=301.0 cy=409.1 /><circle cx=604.6 cy=228.9 /><circle cx=435.5 cy=326.7 /><circle cx=489.7 cy=378.2 /><circle cx=526.7 cy=198.1 /><circle cx=526.2 cy=240.3 /><circle cx=491.2 cy=243.7 /><circle cx=628.5 cy=198.6 /><circle cx=447.2 cy=325.9 /><circle cx=635.3 cy=387.3 /><circle cx=440.9 cy=326.9 /><circle cx=413.7 cy=328.9 /><circle cx=368.3 cy=228.5 /><circle cx=598.8 cy=295.1 /><circle cx=538.1 cy=303.5 /><circle cx=456.9 cy=378.3 /><circle cx=343.2 cy=263.4 /><circle cx=568.4 cy=265.2 /><circle cx=589.0 cy=183.2 /><circle cx=513.3 cy=168.5 /><circle cx=372.2 cy=340.3 /><circle cx=635.6 cy=134.8 /><circle cx=501.5 cy=306.3 /><circle cx=363.8 cy=294.9 /><circle cx=487.5 cy=207.2 /><circle cx=342.1 cy=357.0 /><circle cx=358.4 cy=145.3 /><circle cx=603.9 cy=329.0 /><circle cx=640.0 cy=139.7 /><circle cx=411.1 cy=299.3 /><circle cx=313.5 cy=203.5 /><circle cx=649.2 cy=285.0 /><circle cx=526.2 cy=374.9 /><circle cx=627.0 cy=209.8 /><circle cx=307.9 cy=361.6 /><circle cx=528.7 cy=405.3 /><circle cx=276.4 cy=212.8 /><circle cx=423.7 cy=163.2 /><circle cx=519.8 cy=364.5 /><circle cx=410.2 cy=393.3 /><circle cx=463.2 cy=406.5 /><circle cx=597.2 cy=153.3 /><circle cx=277.5 cy=146.3 /><circle cx=399.0 cy=274.0 /><circle cx=479.6 cy=285.4 /><circle cx=558.7 cy=333.1 /><circle cx=332.5 cy=144.6 /><circle cx=428.2 cy=337.7 /><circle cx=611.3 cy=305.6 /><circle cx=481.8 cy=375.9 /><circle cx=514.9 cy=321.5 /><circle cx=595.5 cy=328.5 /><circle cx=343.4 cy=217.8 /><circle cx=348.6 cy=170.5 /><circle cx=510.5 cy=149.4 /><circle cx=289.7 cy=367.7 /><circle cx=399.0 cy=356.1 /><circle cx=593.3 cy=130.7 /><circle cx=554.6 cy=147.9 /><circle cx=412.0 cy=136.1 /><circle cx=372.1 cy=253.8 /><circle cx=595.3 cy=225.1 /><circle cx=459.1 cy=297.7 /><circle cx=575.7 cy=242.7 /><circle cx=276.3 cy=284.0 /><circle cx=541.4 cy=211.9 /><circle cx=553.5 cy=136.1 /><circle cx=494.1 cy=171.0 /><circle cx=633.5 cy=285.8 /><circle cx=542.2 cy=266.1 /><circle cx=364.2 cy=354.7 /><circle cx=425.9 cy=272.2 /><circle cx=375.2 cy=179.4 /><circle cx=409.0 cy=307.3 /><circle cx=288.4 cy=264.5 /><circle cx=479.1 cy=396.9 /><circle cx=320.7 cy=171.4 /><circle cx=365.9 cy=163.1 /><circle cx=351.5 cy=404.3 /><circle cx=355.1 cy=413.2 /><circle cx=336.2 cy=164.8 /><circle cx=463.5 cy=278.3 /><circle cx=412.5 cy=341.9 /><circle cx=353.0 cy=333.9 /><circle cx=531.2 cy=388.4 /><circle cx=382.6 cy=136.9 /><circle cx=623.4 cy=286.2 /><circle cx=308.6 cy=176.7 /><circle cx=586.2 cy=343.2 /><circle cx=491.0 cy=404.8 /><circle cx=542.6 cy=331.1 /><circle cx=344.0 cy=362.5 /><circle cx=384.7 cy=384.1 /><circle cx=324.2 cy=127.9 /><circle cx=628.3 cy=120.2 /><circle cx=656.9 cy=155.3 /><circle cx=345.5 cy=258.4 /><circle cx=535.2 cy=265.4 /><circle cx=636.3 cy=261.4 /><circle cx=521.5 cy=334.4 /><circle cx=411.2 cy=415.5 /><circle cx=344.8 cy=201.9 /><circle cx=517.3 cy=358.9 /><circle cx=345.7 cy=297.7 /><circle cx=325.3 cy=416.4 /><circle cx=486.3 cy=173.9 /><circle cx=515.2 cy=397.0 /><circle cx=442.9 cy=329.4 /><circle cx=439.1 cy=230.5 /><circle cx=278.1 cy=410.1 /><circle cx=455.5 cy=142.1 /><circle cx=603.2 cy=299.0 /><circle cx=321.1 cy=319.6 /><circle cx=629.1 cy=205.4 /><circle cx=651.9 cy=248.7 /><circle cx=339.9 cy=151.5 /><circle cx=518.2 cy=329.5 /><circle cx=483.8 cy=368.5 /><circle cx=582.6 cy=344.2 /><circle cx=507.3 cy=250.6 /><circle cx=628.0 cy=367.2 /><circle cx=587.0 cy=169.9 /><circle cx=320.2 cy=357.7 /><circle cx=648.3 cy=369.8 /><circle cx=351.6 cy=281.4 /><circle cx=440.6 cy=138.0 /><circle cx=499.3 cy=232.4 /><circle cx=553.9 cy=187.9 /><circle cx=376.4 cy=389.4 /><circle cx=509.6 cy=336.6 /><circle cx=591.1 cy=133.4 /><circle cx=318.5 cy=186.6 /><circle cx=569.2 cy=355.3 /><circle cx=427.9 cy=244.2 /><circle cx=325.8 cy=193.2 /><circle cx=629.1 cy=129.3 /><circle cx=502.1 cy=412.8 /><circle cx=440.9 cy=315.0 /><circle cx=537.1 cy=241.2 /><circle cx=479.0 cy=233.5 /><circle cx=655.1 cy=257.4 /><circle cx=423.7 cy=184.9 /><circle cx=391.8 cy=380.7 /><circle cx=417.5 cy=152.2 /><circle cx=538.4 cy=337.7 /><circle cx=543.3 cy=416.9 /><circle cx=641.6 cy=287.3 /><circle cx=604.2 cy=200.7 /><circle cx=276.5 cy=220.1 /><circle cx=327.4 cy=405.6 /><circle cx=526.2 cy=305.6 /><circle cx=344.9 cy=400.4 /><circle cx=281.9 cy=199.8 /><circle cx=475.2 cy=296.0 /><circle cx=615.3 cy=402.3 /><circle cx=627.1 cy=144.5 /><circle cx=612.9 cy=284.2 /><circle cx=470.7 cy=398.4 /><circle cx=275.7 cy=193.6 /><circle cx=413.8 cy=316.3 /><circle cx=285.9 cy=416.2 /><circle cx=385.0 cy=275.2 /><circle cx=370.1 cy=251.8 /><circle cx=494.5 cy=143.6 /><circle cx=480.9 cy=398.0 /><circle cx=583.2 cy=260.2 /><circle cx=334.1 cy=254.2 /><circle cx=410.6 cy=315.3 /><circle cx=549.5 cy=127.6 /><circle cx=280.6 cy=183.6 /><circle cx=487.9 cy=172.4 /><circle cx=563.1 cy=296.7 /><circle cx=611.7 cy=356.8 /><circle cx=538.3 cy=292.5 /><circle cx=338.4 cy=261.7 /><circle cx=587.6 cy=229.1 /><circle cx=623.2 cy=153.5 /><circle cx=410.3 cy=350.6 /><circle cx=426.0 cy=263.0 /><circle cx=446.0 cy=161.7 /><circle cx=561.2 cy=149.8 /><circle cx=346.6 cy=176.7 /><circle cx=377.3 cy=414.0 /><circle cx=462.0 cy=317.6 /><circle cx=543.3 cy=369.0 /><circle cx=542.0 cy=326.9 /><circle cx=607.2 cy=358.4 /><circle cx=295.2 cy=169.1 /><circle cx=585.9 cy=169.6 /><circle cx=435.7 cy=165.7 /><circle cx=562.0 cy=225.4 /><circle cx=508.7 cy=267.1 /><circle cx=362.6 cy=182.6 /><circle cx=394.1 cy=314.8 /><circle cx=477.3 cy=347.7 /><circle cx=468.6 cy=287.2 /><circle cx=646.1 cy=192.8 /><circle cx=430.7 cy=170.3 /><circle cx=398.3 cy=239.9 /><circle cx=565.2 cy=318.7 /><circle cx=521.6 cy=156.1 /><circle cx=553.4 cy=196.9 /><circle cx=405.3 cy=286.7 /><circle cx=643.2 cy=122.5 /><circle cx=619.5 cy=206.1 /><circle cx=555.9 cy=227.3 /><circle cx=354.7 cy=122.9 /><circle cx=416.6 cy=123.6 /><circle cx=406.6 cy=289.8 /><circle cx=405.6 cy=284.9 /><circle cx=547.9 cy=363.7 /><circle cx=480.8 cy=338.2 /><circle cx=462.6 cy=197.8 /><circle cx=629.0 cy=385.4 /><circle cx=455.6 cy=155.2 /><circle cx=615.6 cy=269.2 /><circle cx=317.2 cy=203.2 /><circle cx=560.2 cy=272.3 /><circle cx=433.0 cy=258.5 /><circle cx=612.7 cy=319.4 /><circle cx=539.2 cy=377.9 /><circle cx=549.2 cy=370.8 /><circle cx=657.8 cy=305.3 /><circle cx=601.8 cy=386.5 /><circle cx=571.5 cy=124.8 /><circle cx=519.6 cy=223.3 /><circle cx=363.8 cy=284.8 /><circle cx=573.8 cy=410.9 /><circle cx=556.0 cy=330.0 /><circle cx=366.6 cy=336.7 /><circle cx=413.0 cy=255.0 /><circle cx=587.0 cy=294.5 /><circle cx=453.3 cy=246.0 /><circle cx=597.1 cy=373.6 /><circle cx=415.8 cy=254.5 /><circle cx=461.0 cy=268.6 /><circle cx=373.1 cy=199.6 /><circle cx=523.6 cy=384.7 /><circle cx=486.3 cy=376.1 /><circle cx=288.5 cy=319.1 /><circle cx=520.2 cy=222.9 /><circle cx=391.1 cy=347.6 /><circle cx=604.5 cy=275.4 /><circle cx=574.7 cy=208.0 /><circle cx=316.2 cy=147.3 /><circle cx=349.6 cy=305.1 /><circle cx=575.0 cy=231.5 /><circle cx=615.3 cy=294.8 /><circle cx=535.5 cy=291.9 /><circle cx=508.1 cy=416.5 /><circle cx=284.3 cy=289.4 /><circle cx=633.9 cy=405.4 /><circle cx=327.5 cy=411.2 /><circle cx=658.0 cy=387.6 /><circle cx=604.1 cy=211.0 /><circle cx=564.4 cy=383.0 /><circle cx=449.7 cy=318.0 /><circle cx=643.6 cy=295.1 /><circle cx=517.3 cy=321.3 /><circle cx=384.3 cy=313.5 /><circle cx=316.0 cy=147.3 /><circle cx=418.3 cy=273.7 /><circle cx=511.3 cy=388.4 /><circle cx=649.7 cy=360.0 /><circle cx=276.2 cy=387.5 /><circle cx=491.3 cy=274.4 /><circle cx=567.6 cy=398.2 /><circle cx=613.8 cy=272.2 /><circle cx=490.7 cy=388.5 /><circle cx=640.1 cy=220.0 /><circle cx=292.2 cy=417.5 /><circle cx=305.2 cy=182.4 /><circle cx=617.7 cy=194.0 /><circle cx=438.7 cy=144.4 /><circle cx=291.6 cy=314.8 /><circle cx=282.1 cy=265.3 /><circle cx=333.3 cy=141.1 /><circle cx=467.2 cy=176.9 /><circle cx=405.0 cy=153.0 /><circle cx=378.1 cy=225.1 /><circle cx=283.8 cy=183.3 /><circle cx=419.9 cy=265.4 /><circle cx=381.1 cy=179.2 /><circle cx=424.0 cy=190.5 /><circle cx=544.0 cy=151.5 /><circle cx=383.6 cy=375.1 /><circle cx=594.4 cy=129.8 /><circle cx=552.4 cy=401.2 /><circle cx=287.7 cy=169.1 /><circle cx=392.5 cy=121.7 /><circle cx=514.8 cy=328.5 /><circle cx=475.2 cy=209.8 /><circle cx=554.0 cy=142.0 /><circle cx=431.9 cy=357.9 /><circle cx=529.5 cy=146.6 /><circle cx=503.3 cy=216.8 /><circle cx=447.8 cy=212.8 /><circle cx=536.8 cy=358.5 /><circle cx=506.2 cy=148.1 /><circle cx=579.6 cy=235.0 /><circle cx=512.2 cy=416.9 /><circle cx=315.9 cy=118.2 /><circle cx=564.7 cy=135.0 /><circle cx=350.0 cy=260.9 /><circle cx=501.4 cy=207.9 /><circle cx=367.2 cy=288.1 /><circle cx=320.5 cy=369.8 /><circle cx=419.2 cy=398.7 /><circle cx=484.6 cy=174.7 /><circle cx=473.8 cy=308.7 /><circle cx=434.3 cy=191.8 /><circle cx=637.6 cy=401.8 /><circle cx=529.0 cy=386.7 /><circle cx=293.7 cy=317.0 /><circle cx=328.1 cy=304.1 /><circle cx=619.2 cy=301.4 /><circle cx=529.9 cy=317.8 /><circle cx=530.3 cy=260.6 /><circle cx=452.6 cy=296.3 /><circle cx=297.9 cy=161.8 /><circle cx=435.0 cy=242.9 /><circle cx=375.3 cy=254.1 /><circle cx=359.6 cy=280.9 /><circle cx=590.1 cy=415.9 /><circle cx=519.6 cy=366.8 /><circle cx=468.0 cy=319.3 /><circle cx=287.9 cy=181.4 /><circle cx=429.6 cy=403.1 /><circle cx=558.2 cy=359.5 /><circle cx=564.5 cy=202.0 /><circle cx=556.8 cy=398.0 /><circle cx=639.9 cy=415.2 /><circle cx=562.3 cy=235.7 /><circle cx=342.2 cy=234.4 /><circle cx=429.4 cy=270.9 /><circle cx=486.5 cy=376.4 /><circle cx=430.0 cy=170.1 /><circle cx=344.4 cy=363.1 /><circle cx=335.5 cy=239.3 /><circle cx=348.9 cy=251.9 /><circle cx=650.4 cy=281.9 /><circle cx=564.7 cy=127.4 /><circle cx=574.6 cy=180.1 /><circle cx=628.9 cy=155.1 /><circle cx=550.1 cy=326.4 /><circle cx=281.5 cy=305.7 /><circle cx=511.0 cy=147.1 /><circle cx=343.4 cy=354.0 /><circle cx=281.0 cy=144.6 /><circle cx=379.1 cy=302.4 /><circle cx=398.4 cy=272.6 /><circle cx=421.0 cy=302.0 /><circle cx=481.2 cy=363.9 /><circle cx=346.4 cy=271.0 /><circle cx=514.5 cy=279.2 /><circle cx=587.2 cy=290.6 /><circle cx=652.1 cy=251.7 /><circle cx=569.9 cy=310.8 /><circle cx=340.4 cy=211.4 /><circle cx=614.9 cy=199.1 /><circle cx=577.6 cy=256.2 /><circle cx=344.1 cy=311.6 /><circle cx=507.5 cy=389.3 /><circle cx=386.4 cy=267.8 /><circle cx=636.6 cy=410.5 /><circle cx=614.8 cy=411.2 /><circle cx=523.4 cy=244.5 /><circle cx=375.6 cy=405.1 /><circle cx=566.6 cy=282.5 /><circle cx=299.4 cy=232.5 /><circle cx=490.7 cy=209.6 /><circle cx=299.3 cy=295.5 /><circle cx=279.9 cy=397.4 /><circle cx=625.8 cy=276.2 /><circle cx=462.5 cy=182.7 /><circle cx=485.2 cy=174.6 /><circle cx=539.4 cy=278.8 /><circle cx=297.1 cy=264.8 /><circle cx=375.1 cy=197.7 /><circle cx=593.7 cy=284.0 /><circle cx=567.1 cy=184.2 /><circle cx=455.6 cy=331.2 /><circle cx=572.2 cy=175.7 /><circle cx=554.4 cy=388.9 /><circle cx=428.4 cy=269.3 /><circle cx=517.3 cy=152.7 /><circle cx=278.8 cy=403.6 /><circle cx=366.2 cy=139.4 /><circle cx=644.0 cy=128.7 /><circle cx=576.2 cy=398.9 /><circle cx=427.7 cy=253.0 /><circle cx=277.9 cy=164.4 /><circle cx=297.7 cy=332.1 /><circle cx=647.9 cy=306.9 /><circle cx=569.1 cy=187.9 /><circle cx=487.0 cy=231.8 /><circle cx=297.6 cy=329.6 /><circle cx=274.6 cy=398.5 /><circle cx=515.6 cy=185.8 /><circle cx=541.8 cy=250.2 /><circle cx=361.0 cy=302.2 /><circle cx=554.7 cy=399.3 /><circle cx=444.0 cy=361.2 /><circle cx=383.2 cy=162.6 /><circle cx=474.9 cy=368.9 /><circle cx=600.2 cy=137.6 /><circle cx=417.2 cy=170.0 /><circle cx=622.3 cy=315.1 /><circle cx=430.2 cy=183.3 /><circle cx=444.8 cy=186.3 /><circle cx=575.9 cy=191.9 /><circle cx=350.1 cy=321.2 /><circle cx=360.4 cy=192.3 /><circle cx=420.7 cy=139.7 /><circle cx=550.8 cy=393.9 /><circle cx=658.0 cy=164.8 /><circle cx=584.0 cy=301.2 /><circle cx=352.7 cy=283.9 /><circle cx=589.3 cy=278.0 /><circle cx=302.3 cy=251.1 /><circle cx=495.0 cy=403.8 /><circle cx=493.1 cy=227.8 /><circle cx=471.2 cy=235.3 /><circle cx=384.0 cy=152.3 /><circle cx=465.3 cy=354.0 /><circle cx=497.2 cy=310.2 /><circle cx=378.9 cy=196.6 /><circle cx=478.7 cy=256.7 /><circle cx=375.1 cy=140.8 /><circle cx=361.6 cy=147.6 /><circle cx=512.1 cy=365.3 /><circle cx=450.7 cy=280.6 /><circle cx=502.7 cy=387.1 /><circle cx=451.6 cy=245.8 /><circle cx=589.9 cy=304.1 /><circle cx=516.4 cy=142.4 /><circle cx=288.9 cy=215.8 /><circle cx=631.8 cy=189.0 /><circle cx=517.9 cy=173.5 /><circle cx=533.9 cy=408.0 /><circle cx=628.2 cy=325.6 /><circle cx=364.2 cy=245.7 /><circle cx=479.3 cy=119.2 /><circle cx=371.5 cy=274.9 /><circle cx=472.1 cy=343.8 /><circle cx=511.9 cy=199.3 /><circle cx=567.0 cy=326.0 /><circle cx=422.8 cy=409.8 /><circle cx=598.1 cy=294.3 /><circle cx=587.3 cy=142.1 /><circle cx=427.2 cy=240.6 /><circle cx=476.6 cy=371.6 /><circle cx=374.0 cy=275.8 /><circle cx=561.3 cy=270.2 /><circle cx=286.6 cy=203.5 /><circle cx=392.6 cy=284.9 /><circle cx=657.9 cy=325.2 /><circle cx=338.9 cy=147.9 /><circle cx=436.0 cy=318.0 /><circle cx=350.0 cy=120.8 /><circle cx=537.4 cy=410.7 /><circle cx=501.6 cy=232.9 /><circle cx=529.7 cy=243.7 /><circle cx=280.7 cy=204.8 /><circle cx=401.3 cy=209.3 /><circle cx=621.0 cy=330.1 /><circle cx=514.9 cy=150.9 /><circle cx=607.1 cy=332.4 /><circle cx=540.7 cy=258.2 /><circle cx=586.5 cy=416.5 /><circle cx=280.6 cy=214.5 /><circle cx=592.3 cy=341.4 /><circle cx=516.4 cy=402.3 /><circle cx=571.8 cy=141.1 /><circle cx=481.3 cy=314.6 /><circle cx=615.6 cy=248.0 /><circle cx=502.7 cy=299.5 /><circle cx=437.3 cy=127.6 /><circle cx=374.8 cy=220.1 /><circle cx=403.3 cy=292.4 /><circle cx=513.3 cy=321.3 /><circle cx=425.9 cy=210.0 /><circle cx=634.5 cy=392.0 /><circle cx=578.0 cy=379.2 /><circle cx=501.1 cy=257.2 /><circle cx=376.0 cy=134.2 /><circle cx=571.1 cy=320.7 /><circle cx=508.7 cy=304.8 /><circle cx=539.2 cy=154.2 /><circle cx=343.0 cy=204.6 /><circle cx=411.5 cy=363.5 /><circle cx=335.2 cy=300.7 /><circle cx=403.0 cy=191.0 /><circle cx=305.7 cy=393.4 /><circle cx=370.2 cy=224.4 /><circle cx=582.9 cy=276.9 /><circle cx=331.7 cy=142.8 /><circle cx=344.1 cy=209.6 /><circle cx=557.5 cy=232.2 /><circle cx=322.1 cy=359.2 /><circle cx=369.4 cy=279.4 /><circle cx=517.5 cy=230.7 /><circle cx=468.3 cy=296.8 /><circle cx=526.4 cy=314.0 /><circle cx=376.6 cy=314.7 /><circle cx=313.7 cy=384.7 /><circle cx=535.0 cy=395.6 /><circle cx=636.3 cy=297.0 /><circle cx=406.7 cy=170.9 /><circle cx=473.9 cy=206.8 /><circle cx=299.8 cy=196.7 /><circle cx=658.1 cy=268.6 /><circle cx=579.4 cy=374.3 /><circle cx=564.5 cy=391.6 /><circle cx=516.5 cy=237.1 /><circle cx=336.0 cy=214.8 /><circle cx=492.3 cy=387.7 /><circle cx=532.4 cy=360.0 /><circle cx=481.4 cy=227.6 /><circle cx=609.6 cy=258.3 /><circle cx=566.1 cy=160.7 /><circle cx=403.4 cy=136.8 /><circle cx=302.2 cy=223.7 /><circle cx=654.2 cy=167.2 /><circle cx=395.8 cy=281.3 /><circle cx=376.3 cy=206.1 /><circle cx=306.3 cy=292.5 /><circle cx=510.7 cy=356.6 /><circle cx=439.4 cy=203.8 /><circle cx=525.9 cy=374.9 /><circle cx=572.1 cy=171.1 /><circle cx=561.5 cy=355.9 /><circle cx=631.8 cy=358.0 /><circle cx=547.4 cy=197.0 /><circle cx=385.7 cy=300.1 /><circle cx=318.0 cy=130.7 /><circle cx=290.8 cy=330.8 /><circle cx=651.0 cy=227.2 /><circle cx=329.5 cy=172.2 /><circle cx=629.1 cy=175.3 /><circle cx=498.9 cy=376.5 /><circle cx=488.2 cy=238.3 /><circle cx=456.7 cy=384.1 /><circle cx=576.9 cy=191.5 /><circle cx=581.1 cy=146.2 /><circle cx=345.7 cy=401.7 /><circle cx=640.5 cy=356.5 /><circle cx=648.6 cy=173.3 /><circle cx=476.5 cy=185.7 /><circle cx=303.5 cy=323.7 /><circle cx=405.6 cy=196.8 /><circle cx=410.3 cy=327.6 /><circle cx=396.6 cy=396.3 /><circle cx=617.1 cy=168.0 /><circle cx=655.1 cy=377.6 /><circle cx=411.1 cy=341.2 /><circle cx=310.0 cy=148.4 /><circle cx=402.2 cy=181.6 /><circle cx=517.8 cy=269.0 /><circle cx=550.6 cy=212.9 /><circle cx=324.0 cy=159.4 /><circle cx=584.3 cy=190.7 /><circle cx=301.9 cy=399.8 /><circle cx=347.1 cy=133.5 /><circle cx=444.2 cy=350.4 /><circle cx=359.5 cy=196.4 /><circle cx=565.5 cy=230.6 /><circle cx=346.3 cy=131.2 /><circle cx=542.4 cy=406.3 /><circle cx=465.3 cy=208.5 /><circle cx=441.2 cy=157.5 /><circle cx=616.6 cy=344.6 /><circle cx=336.0 cy=381.0 /><circle cx=278.9 cy=170.7 /><circle cx=496.7 cy=325.7 /><circle cx=330.0 cy=244.2 /><circle cx=308.8 cy=362.1 /><circle cx=587.2 cy=302.8 /><circle cx=336.1 cy=381.9 /><circle cx=599.0 cy=157.1 /><circle cx=596.1 cy=155.3 /><circle cx=472.4 cy=253.7 /><circle cx=310.5 cy=315.3 /><circle cx=651.6 cy=244.3 /><circle cx=550.2 cy=326.2 /><circle cx=359.8 cy=182.8 /><circle cx=331.7 cy=408.4 /><circle cx=315.3 cy=222.0 /><circle cx=402.2 cy=174.4 /><circle cx=349.1 cy=244.2 /><circle cx=621.6 cy=261.8 /><circle cx=318.9 cy=249.3 /><circle cx=588.6 cy=403.0 /><circle cx=333.6 cy=181.0 /><circle cx=439.8 cy=231.1 /><circle cx=492.6 cy=144.3 /><circle cx=586.0 cy=226.2 /><circle cx=557.5 cy=123.8 /><circle cx=588.1 cy=175.6 /><circle cx=479.3 cy=188.0 /><circle cx=586.9 cy=273.9 /><circle cx=520.3 cy=205.9 /><circle cx=345.1 cy=197.6 /><circle cx=599.2 cy=410.1 /><circle cx=340.9 cy=417.6 /><circle cx=545.7 cy=227.5 /><circle cx=445.3 cy=223.2 /><circle cx=438.5 cy=300.3 /><circle cx=468.6 cy=278.9 /><circle cx=287.7 cy=413.3 /><circle cx=418.3 cy=178.9 /><circle cx=454.7 cy=339.8 /><circle cx=630.3 cy=253.3 /><circle cx=385.9 cy=125.7 /><circle cx=532.0 cy=397.4 /><circle cx=385.6 cy=416.0 /><circle cx=563.7 cy=375.4 /><circle cx=424.6 cy=320.0 /><circle cx=502.1 cy=233.4 /><circle cx=447.8 cy=347.2 /><circle cx=654.2 cy=136.3 /><circle cx=286.9 cy=401.2 /><circle cx=361.9 cy=350.1 /><circle cx=499.6 cy=331.2 /><circle cx=506.8 cy=327.8 /><circle cx=549.7 cy=274.9 /><circle cx=319.2 cy=188.9 /><circle cx=540.6 cy=132.9 /><circle cx=485.0 cy=382.7 /><circle cx=308.0 cy=362.4 /><circle cx=468.3 cy=280.8 /><circle cx=340.3 cy=406.5 /><circle cx=508.1 cy=315.6 /><circle cx=514.7 cy=300.2 /><circle cx=393.0 cy=117.8 /><circle cx=643.2 cy=216.8 /><circle cx=560.6 cy=239.6 /><circle cx=395.4 cy=144.6 /><circle cx=298.4 cy=121.1 /><circle cx=422.7 cy=128.5 /><circle cx=561.6 cy=391.2 /><circle cx=525.2 cy=259.2 /><circle cx=545.9 cy=343.2 /><circle cx=337.7 cy=267.0 /><circle cx=575.3 cy=171.8 /><circle cx=522.2 cy=331.3 /><circle cx=279.2 cy=299.7 /><circle cx=577.1 cy=231.6 /><circle cx=336.3 cy=243.1 /><circle cx=301.6 cy=251.5 /><circle cx=433.8 cy=225.5 /><circle cx=636.5 cy=326.9 /><circle cx=409.0 cy=219.9 /><circle cx=524.6 cy=172.3 /><circle cx=280.4 cy=216.0 /><circle cx=648.1 cy=265.0 /><circle cx=421.9 cy=212.4 /><circle cx=423.8 cy=395.7 /><circle cx=373.0 cy=366.6 /><circle cx=623.6 cy=311.3 /><circle cx=346.2 cy=320.1 /><circle cx=431.1 cy=331.0 /><circle cx=598.1 cy=292.3 /><circle cx=512.1 cy=329.9 /><circle cx=279.9 cy=259.3 /><circle cx=436.6 cy=218.6 /><circle cx=413.9 cy=302.6 /><circle cx=586.8 cy=394.8 /><circle cx=642.1 cy=143.5 /><circle cx=352.5 cy=385.8 /><circle cx=282.4 cy=219.1 /><circle cx=361.4 cy=219.1 /><circle cx=287.8 cy=365.6 /><circle cx=466.7 cy=374.7 /><circle cx=534.3 cy=400.6 /><circle cx=309.2 cy=130.9 /><circle cx=403.6 cy=213.3 /><circle cx=287.5 cy=379.3 /><circle cx=301.3 cy=137.3 /><circle cx=614.0 cy=223.5 /><circle cx=592.9 cy=303.9 /><circle cx=567.8 cy=214.4 /><circle cx=403.2 cy=351.6 /><circle cx=609.8 cy=281.7 /><circle cx=412.8 cy=202.7 /><circle cx=335.4 cy=326.8 /><circle cx=413.9 cy=179.3 /><circle cx=468.4 cy=191.2 /><circle cx=580.5 cy=367.1 /><circle cx=580.7 cy=263.9 /><circle cx=469.6 cy=341.0 /><circle cx=639.4 cy=286.3 /><circle cx=605.5 cy=262.5 /><circle cx=408.3 cy=391.2 /><circle cx=622.7 cy=226.2 /><circle cx=477.9 cy=295.8 /><circle cx=346.4 cy=327.6 /><circle cx=435.3 cy=323.8 /><circle cx=625.4 cy=271.5 /><circle cx=326.6 cy=231.6 /><circle cx=549.5 cy=366.5 /><circle cx=609.2 cy=404.5 /><circle cx=543.1 cy=352.7 /><circle cx=473.9 cy=189.7 /><circle cx=371.1 cy=244.6 /><circle cx=510.1 cy=139.2 /><circle cx=547.9 cy=301.7 /><circle cx=612.8 cy=403.3 /><circle cx=546.5 cy=277.5 /><circle cx=611.6 cy=170.8 /><circle cx=598.2 cy=232.5 /><circle cx=357.9 cy=273.7 /><circle cx=457.0 cy=264.8 /><circle cx=646.4 cy=133.4 /><circle cx=465.4 cy=208.4 /><circle cx=610.8 cy=265.3 /><circle cx=375.2 cy=344.9 /><circle cx=379.8 cy=357.6 /><circle cx=277.4 cy=199.5 /><circle cx=382.9 cy=132.0 /><circle cx=408.5 cy=384.3 /><circle cx=645.9 cy=344.9 /><circle cx=361.9 cy=118.2 /><circle cx=346.2 cy=218.0 /><circle cx=309.5 cy=284.9 /><circle cx=506.4 cy=324.5 /><circle cx=431.9 cy=199.4 /><circle cx=329.0 cy=340.9 /><circle cx=458.2 cy=406.4 /><circle cx=536.5 cy=302.5 /><circle cx=504.0 cy=130.4 /><circle cx=518.7 cy=365.6 /><circle cx=548.6 cy=342.5 /><circle cx=592.8 cy=166.2 /><circle cx=280.7 cy=138.3 /><circle cx=590.9 cy=403.9 /><circle cx=320.4 cy=358.0 /><circle cx=606.5 cy=320.3 /><circle cx=612.0 cy=176.2 /><circle cx=649.4 cy=157.3 /><circle cx=447.8 cy=233.8 /><circle cx=501.7 cy=317.8 /><circle cx=403.2 cy=362.7 /><circle cx=538.3 cy=290.5 /><circle cx=416.4 cy=216.0 /><circle cx=390.2 cy=149.6 /><circle cx=558.6 cy=261.5 /><circle cx=296.9 cy=289.0 /><circle cx=397.6 cy=157.2 /><circle cx=355.2 cy=157.3 /><circle cx=306.2 cy=248.2 /><circle cx=569.4 cy=233.9 /><circle cx=491.9 cy=335.8 /><circle cx=616.8 cy=303.1 /><circle cx=340.7 cy=153.5 /><circle cx=473.9 cy=188.2 /><circle cx=513.3 cy=190.4 /><circle cx=309.2 cy=294.7 /><circle cx=440.2 cy=137.5 /><circle cx=511.7 cy=337.5 /><circle cx=373.2 cy=133.9 /><circle cx=488.7 cy=169.6 /><circle cx=409.7 cy=265.4 /><circle cx=310.6 cy=261.9 /><circle cx=632.0 cy=297.7 /><circle cx=465.7 cy=304.4 /><circle cx=589.4 cy=168.4 /><circle cx=327.9 cy=344.2 /><circle cx=434.8 cy=181.5 /><circle cx=396.1 cy=151.5 /><circle cx=586.4 cy=202.2 /><circle cx=365.1 cy=154.6 /><circle cx=317.6 cy=187.4 /><circle cx=559.4 cy=403.6 /><circle cx=550.2 cy=157.4 /><circle cx=475.4 cy=323.5 /><circle cx=531.6 cy=242.0 /><circle cx=403.9 cy=118.3 /><circle cx=313.4 cy=300.6 /><circle cx=469.3 cy=321.6 /><circle cx=381.7 cy=233.2 /><circle cx=453.2 cy=253.4 /><circle cx=356.3 cy=224.5 /><circle cx=527.2 cy=237.2 /><circle cx=302.9 cy=406.9 /><circle cx=512.2 cy=239.0 /><circle cx=654.3 cy=267.1 /><circle cx=299.5 cy=144.3 /><circle cx=601.2 cy=248.7 /><circle cx=528.2 cy=121.1 /><circle cx=516.4 cy=326.9 /><circle cx=514.5 cy=410.0 /><circle cx=464.7 cy=415.4 /><circle cx=635.8 cy=329.1 /><circle cx=519.0 cy=137.8 /><circle cx=359.4 cy=400.1 /><circle cx=281.5 cy=155.1 /><circle cx=572.0 cy=178.8 /><circle cx=342.5 cy=245.7 /><circle cx=298.5 cy=276.1 /><circle cx=620.3 cy=117.9 /><circle cx=375.0 cy=313.4 /><circle cx=436.5 cy=333.2 /><circle cx=367.7 cy=267.1 /><circle cx=500.7 cy=314.9 /><circle cx=525.5 cy=249.8 /><circle cx=541.2 cy=357.4 /><circle cx=274.6 cy=284.3 /><circle cx=441.0 cy=150.3 /><circle cx=557.1 cy=169.1 /><circle cx=635.3 cy=267.8 /><circle cx=376.3 cy=209.6 /><circle cx=436.8 cy=245.7 /><circle cx=408.4 cy=241.3 /><circle cx=290.5 cy=189.5 /><circle cx=483.4 cy=337.6 /><circle cx=508.3 cy=199.1 /><circle cx=600.6 cy=249.4 /><circle cx=469.5 cy=310.6 /><circle cx=561.6 cy=228.4 /><circle cx=397.6 cy=261.1 /><circle cx=310.7 cy=175.8 /><circle cx=401.5 cy=385.9 /><circle cx=601.7 cy=152.1 /><circle cx=338.1 cy=182.8 /><circle cx=465.6 cy=159.8 /><circle cx=344.3 cy=119.7 /><circle cx=507.3 cy=122.2 /><circle cx=356.8 cy=192.4 /><circle cx=448.2 cy=374.0 /><circle cx=468.7 cy=298.0 /><circle cx=605.9 cy=180.5 /><circle cx=528.9 cy=266.4 /><circle cx=281.1 cy=231.5 /><circle cx=402.2 cy=373.9 /><circle cx=445.3 cy=196.8 /><circle cx=464.0 cy=342.4 /><circle cx=490.0 cy=385.1 /><circle cx=503.7 cy=196.7 /><circle cx=324.0 cy=204.7 /><circle cx=505.4 cy=305.1 /><circle cx=297.7 cy=206.4 /><circle cx=554.6 cy=225.7 /><circle cx=369.3 cy=379.2 /><circle cx=529.9 cy=189.2 /><circle cx=413.3 cy=364.7 /><circle cx=364.3 cy=141.3 /><circle cx=477.0 cy=278.9 /><circle cx=545.4 cy=350.4 /><circle cx=652.5 cy=395.4 /><circle cx=287.7 cy=234.3 /><circle cx=411.2 cy=407.5 /><circle cx=470.5 cy=197.9 /><circle cx=387.8 cy=381.3 /><circle cx=644.1 cy=297.8 /><circle cx=415.2 cy=377.1 /><circle cx=398.2 cy=225.2 /><circle cx=323.8 cy=279.4 /><circle cx=370.2 cy=271.6 /><circle cx=324.5 cy=216.9 /><circle cx=656.2 cy=241.9 /><circle cx=299.1 cy=290.3 /><circle cx=372.7 cy=171.0 /><circle cx=473.8 cy=345.9 /><circle cx=479.0 cy=358.8 /><circle cx=522.7 cy=179.1 /><circle cx=375.1 cy=159.6 /><circle cx=565.6 cy=230.8 /><circle cx=408.3 cy=382.4 /><circle cx=613.1 cy=199.6 /><circle cx=499.7 cy=273.6 /><circle cx=539.9 cy=208.7 /><circle cx=633.2 cy=398.8 /><circle cx=377.5 cy=317.8 /><circle cx=421.7 cy=160.7 /><circle cx=582.8 cy=146.9 /><circle cx=601.8 cy=198.5 /><circle cx=287.9 cy=367.4 /><circle cx=341.0 cy=366.6 /><circle cx=538.1 cy=131.0 /><circle cx=468.7 cy=161.0 /><circle cx=405.6 cy=310.4 /><circle cx=346.4 cy=245.7 /><circle cx=611.0 cy=167.4 /><circle cx=366.2 cy=241.0 /><circle cx=656.2 cy=410.4 /><circle cx=416.6 cy=336.9 /><circle cx=350.6 cy=224.2 /><circle cx=610.8 cy=164.9 /><circle cx=426.8 cy=416.9 /><circle cx=519.2 cy=140.9 /><circle cx=519.3 cy=166.4 /><circle cx=342.4 cy=275.8 /><circle cx=619.8 cy=159.3 /><circle cx=528.1 cy=367.2 /><circle cx=315.2 cy=142.4 /><circle cx=642.7 cy=122.5 /><circle cx=351.2 cy=164.8 /><circle cx=444.8 cy=362.0 /><circle cx=322.7 cy=259.2 /><circle cx=618.5 cy=147.6 /><circle cx=365.9 cy=381.8 /><circle cx=447.1 cy=308.7 /><circle cx=291.0 cy=366.7 /><circle cx=513.6 cy=187.7 /><circle cx=568.6 cy=169.8 /><circle cx=516.3 cy=330.0 /><circle cx=494.0 cy=124.6 /><circle cx=323.3 cy=118.7 /><circle cx=374.5 cy=158.5 /><circle cx=468.9 cy=229.0 /><circle cx=463.8 cy=260.6 /><circle cx=468.9 cy=209.0 /><circle cx=624.1 cy=258.6 /><circle cx=369.1 cy=360.6 /><circle cx=588.6 cy=239.1 /><circle cx=514.7 cy=359.4 /><circle cx=553.3 cy=231.3 /><circle cx=610.8 cy=121.9 /><circle cx=491.8 cy=292.1 /><circle cx=654.1 cy=332.6 /><circle cx=368.4 cy=288.8 /><circle cx=569.7 cy=366.7 /><circle cx=345.3 cy=294.1 /><circle cx=331.8 cy=198.4 /><circle cx=394.8 cy=315.3 /><circle cx=349.3 cy=333.6 /><circle cx=561.7 cy=217.9 /><circle cx=485.7 cy=348.6 /><circle cx=650.1 cy=293.9 /><circle cx=276.9 cy=307.9 /><circle cx=452.9 cy=165.7 /><circle cx=646.7 cy=219.5 /><circle cx=612.7 cy=333.1 /><circle cx=627.3 cy=124.9 /><circle cx=626.2 cy=324.3 /><circle cx=478.5 cy=282.4 /><circle cx=274.7 cy=358.4 /><circle cx=563.0 cy=136.7 /><circle cx=418.7 cy=309.5 /><circle cx=590.2 cy=200.7 /><circle cx=535.6 cy=208.8 /><circle cx=589.5 cy=138.0 /><circle cx=450.8 cy=410.8 /><circle cx=303.2 cy=235.4 /><circle cx=343.2 cy=131.0 /><circle cx=513.9 cy=169.1 /><circle cx=437.3 cy=193.5 /><circle cx=582.7 cy=294.3 /><circle cx=423.7 cy=291.2 /><circle cx=578.1 cy=295.5 /><circle cx=423.3 cy=135.1 /><circle cx=610.2 cy=207.5 /><circle cx=649.0 cy=341.9 /><circle cx=633.7 cy=414.2 /><circle cx=372.6 cy=336.5 /><circle cx=540.3 cy=150.7 /><circle cx=400.1 cy=380.7 /><circle cx=441.3 cy=399.2 /><circle cx=414.8 cy=209.3 /><circle cx=613.2 cy=325.1 /><circle cx=609.9 cy=294.5 /><circle cx=606.4 cy=414.3 /><circle cx=534.4 cy=117.8 /><circle cx=615.7 cy=356.8 /><circle cx=562.8 cy=275.3 /><circle cx=610.2 cy=362.0 /><circle cx=292.8 cy=255.9 /><circle cx=441.5 cy=181.3 /><circle cx=570.2 cy=363.7 /><circle cx=401.2 cy=338.9 /><circle cx=349.9 cy=413.6 /><circle cx=570.9 cy=117.2 /><circle cx=421.6 cy=295.2 /><circle cx=292.8 cy=153.2 /><circle cx=474.9 cy=416.6 /><circle cx=434.6 cy=340.4 /><circle cx=479.8 cy=316.6 /><circle cx=517.0 cy=177.7 /><circle cx=510.3 cy=297.6 /><circle cx=547.2 cy=134.3 /><circle cx=605.3 cy=321.6 /><circle cx=430.3 cy=233.3 /><circle cx=346.5 cy=254.9 /><circle cx=616.7 cy=407.0 /><circle cx=609.7 cy=357.1 /><circle cx=518.6 cy=275.0 /><circle cx=399.3 cy=153.0 /><circle cx=644.5 cy=243.8 /><circle cx=451.2 cy=383.5 /><circle cx=516.3 cy=311.0 /><circle cx=441.5 cy=165.6 /><circle cx=390.7 cy=166.1 /><circle cx=502.3 cy=319.4 /><circle cx=406.1 cy=346.8 /><circle cx=368.2 cy=270.6 /><circle cx=313.9 cy=185.9 /><circle cx=404.5 cy=389.1 /><circle cx=590.8 cy=341.1 /><circle cx=618.8 cy=412.7 /><circle cx=422.0 cy=294.3 /><circle cx=279.0 cy=147.7 /><circle cx=422.1 cy=233.0 /><circle cx=306.3 cy=258.5 /><circle cx=336.1 cy=265.7 /><circle cx=325.1 cy=146.7 /><circle cx=453.0 cy=157.1 /><circle cx=473.0 cy=379.0 /><circle cx=479.3 cy=302.2 /><circle cx=522.0 cy=187.0 /><circle cx=555.9 cy=231.5 /><circle cx=331.8 cy=300.9 /><circle cx=452.8 cy=278.7 /><circle cx=426.9 cy=233.2 /><circle cx=541.0 cy=143.4 /><circle cx=300.1 cy=360.6 /><circle cx=533.4 cy=319.1 /><circle cx=368.3 cy=215.2 /><circle cx=427.4 cy=314.9 /><circle cx=510.5 cy=247.7 /><circle cx=589.6 cy=306.5 /><circle cx=658.3 cy=191.3 /><circle cx=337.8 cy=280.0 /><circle cx=513.3 cy=291.9 /><circle cx=401.0 cy=202.2 /><circle cx=324.8 cy=242.2 /><circle cx=448.8 cy=285.0 /><circle cx=284.3 cy=133.8 /><circle cx=348.2 cy=371.9 /><circle cx=380.1 cy=246.2 /><circle cx=336.4 cy=128.0 /><circle cx=598.1 cy=251.7 /><circle cx=561.3 cy=245.2 /><circle cx=488.8 cy=142.2 /><circle cx=617.8 cy=372.5 /><circle cx=316.8 cy=229.2 /><circle cx=304.9 cy=399.7 /><circle cx=423.6 cy=263.2 /><circle cx=465.2 cy=287.1 /><circle cx=576.9 cy=187.8 /><circle cx=445.6 cy=383.9 /><circle cx=499.6 cy=365.7 /><circle cx=500.1 cy=296.1 /><circle cx=485.5 cy=119.1 /><circle cx=554.0 cy=266.6 /><circle cx=326.0 cy=246.8 /><circle cx=426.1 cy=324.9 /><circle cx=338.0 cy=267.1 /><circle cx=507.8 cy=378.2 /><circle cx=329.6 cy=132.7 /><circle cx=464.3 cy=330.5 /><circle cx=277.9 cy=176.3 /><circle cx=625.0 cy=366.2 /><circle cx=654.1 cy=327.4 /><circle cx=394.5 cy=197.6 /><circle cx=530.3 cy=391.8 /><circle cx=276.4 cy=227.2 /><circle cx=541.6 cy=293.5 /><circle cx=361.0 cy=347.6 /><circle cx=441.4 cy=381.1 /><circle cx=642.5 cy=167.7 /><circle cx=324.7 cy=307.4 /><circle cx=352.3 cy=123.5 /><circle cx=427.3 cy=175.2 /><circle cx=306.6 cy=151.3 /><circle cx=304.1 cy=190.0 /><circle cx=309.0 cy=318.2 /><circle cx=638.1 cy=139.5 /><circle cx=619.5 cy=185.5 /><circle cx=627.8 cy=348.2 /><circle cx=412.5 cy=229.4 /><circle cx=602.7 cy=345.6 /><circle cx=381.8 cy=187.5 /><circle cx=571.4 cy=315.4 /><circle cx=387.2 cy=252.9 /><circle cx=309.7 cy=209.6 /><circle cx=364.7 cy=263.3 /><circle cx=429.9 cy=378.9 /><circle cx=514.3 cy=219.8 /><circle cx=390.2 cy=380.1 /><circle cx=407.1 cy=278.0 /><circle cx=278.9 cy=173.8 /><circle cx=347.6 cy=218.5 /><circle cx=603.1 cy=398.4 /><circle cx=579.4 cy=126.3 /><circle cx=427.0 cy=315.8 /><circle cx=545.1 cy=182.3 /><circle cx=340.1 cy=296.5 /><circle cx=522.2 cy=269.6 /><circle cx=401.3 cy=330.6 /><circle cx=439.5 cy=188.1 /><circle cx=656.0 cy=236.0 /><circle cx=466.0 cy=169.4 /><circle cx=280.7 cy=221.9 /><circle cx=591.8 cy=223.1 /><circle cx=406.7 cy=164.4 /><circle cx=630.6 cy=161.5 /><circle cx=441.8 cy=390.6 /><circle cx=493.7 cy=264.6 /><circle cx=522.4 cy=248.2 /><circle cx=371.9 cy=136.1 /><circle cx=350.1 cy=193.2 /><circle cx=407.1 cy=232.8 /><circle cx=647.5 cy=302.8 /><circle cx=449.8 cy=227.1 /><circle cx=515.7 cy=230.4 /><circle cx=409.4 cy=339.2 /><circle cx=481.7 cy=414.9 /><circle cx=369.7 cy=142.9 /><circle cx=441.6 cy=237.8 /><circle cx=310.4 cy=174.2 /><circle cx=479.2 cy=339.2 /><circle cx=511.7 cy=274.7 /><circle cx=483.3 cy=350.8 /><circle cx=473.1 cy=406.2 /><circle cx=386.2 cy=140.2 /><circle cx=439.5 cy=247.7 /><circle cx=461.4 cy=392.7 /><circle cx=480.3 cy=216.0 /><circle cx=413.8 cy=254.3 /><circle cx=384.0 cy=388.3 /><circle cx=469.4 cy=208.3 /><circle cx=647.4 cy=242.1 /><circle cx=349.0 cy=348.8 /><circle cx=514.9 cy=416.8 /><circle cx=517.8 cy=147.5 /><circle cx=463.9 cy=186.6 /><circle cx=533.4 cy=215.3 /><circle cx=497.7 cy=279.5 /><circle cx=619.0 cy=222.1 /><circle cx=553.0 cy=290.1 /><circle cx=572.3 cy=152.1 /><circle cx=366.2 cy=158.7 /><circle cx=338.9 cy=180.7 /><circle cx=616.7 cy=284.1 /><circle cx=532.1 cy=125.2 /><circle cx=297.7 cy=256.1 /><circle cx=445.2 cy=250.2 /><circle cx=280.7 cy=393.8 /><circle cx=407.6 cy=168.1 /><circle cx=553.6 cy=148.2 /><circle cx=520.6 cy=321.4 /><circle cx=470.0 cy=138.3 /><circle cx=298.5 cy=183.1 /><circle cx=522.9 cy=196.5 /><circle cx=332.4 cy=204.3 /><circle cx=300.0 cy=269.5 /><circle cx=525.9 cy=409.5 /><circle cx=524.0 cy=269.3 /><circle cx=312.5 cy=383.7 /><circle cx=389.0 cy=121.2 /><circle cx=535.5 cy=117.5 /><circle cx=466.8 cy=413.6 /><circle cx=503.9 cy=371.6 /><circle cx=315.7 cy=299.2 /><circle cx=461.9 cy=175.3 /><circle cx=469.0 cy=127.7 /><circle cx=486.2 cy=410.7 /><circle cx=363.8 cy=235.6 /><circle cx=575.9 cy=279.0 /><circle cx=395.0 cy=140.1 /><circle cx=291.7 cy=238.4 /><circle cx=379.6 cy=202.6 /><circle cx=307.7 cy=333.1 /><circle cx=560.9 cy=210.2 /><circle cx=521.4 cy=222.8 /><circle cx=358.4 cy=265.2 /><circle cx=276.7 cy=367.4 /><circle cx=480.6 cy=372.2 /><circle cx=368.4 cy=403.3 /><circle cx=326.1 cy=218.0 /><circle cx=360.6 cy=323.8 /><circle cx=341.1 cy=170.4 /><circle cx=326.9 cy=411.1 /><circle cx=422.2 cy=180.5 /><circle cx=540.9 cy=162.0 /><circle cx=529.3 cy=227.7 /><circle cx=526.8 cy=373.6 /><circle cx=276.8 cy=282.2 /><circle cx=504.8 cy=127.8 /><circle cx=561.8 cy=369.1 /><circle cx=592.5 cy=252.5 /><circle cx=293.5 cy=263.7 /><circle cx=456.8 cy=287.2 /><circle cx=410.7 cy=194.3 /><circle cx=537.4 cy=249.8 /><circle cx=484.0 cy=335.1 /><circle cx=356.7 cy=269.4 /><circle cx=374.2 cy=193.1 /><circle cx=538.6 cy=361.0 /><circle cx=476.9 cy=205.2 /><circle cx=515.3 cy=387.6 /><circle cx=385.5 cy=219.4 /><circle cx=444.0 cy=142.7 /><circle cx=490.5 cy=385.4 /><circle cx=517.3 cy=237.0 /><circle cx=396.7 cy=393.5 /><circle cx=328.7 cy=287.9 /><circle cx=619.6 cy=259.9 /><circle cx=643.1 cy=391.8 /><circle cx=452.6 cy=357.9 /><circle cx=511.9 cy=264.5 /><circle cx=416.6 cy=226.2 /><circle cx=628.8 cy=172.1 /><circle cx=383.0 cy=199.6 /><circle cx=546.4 cy=197.8 /><circle cx=339.3 cy=186.4 /><circle cx=287.9 cy=370.1 /><circle cx=578.6 cy=325.9 /><circle cx=283.0 cy=227.0 /><circle cx=312.7 cy=239.2 /><circle cx=457.1 cy=158.7 /><circle cx=331.6 cy=311.4 /><circle cx=542.7 cy=394.5 /><circle cx=544.4 cy=255.2 /><circle cx=390.7 cy=177.0 /><circle cx=580.7 cy=328.7 /><circle cx=412.3 cy=285.7 /><circle cx=400.3 cy=239.9 /><circle cx=617.1 cy=180.3 /><circle cx=440.2 cy=191.4 /><circle cx=578.5 cy=242.3 /><circle cx=582.1 cy=183.7 /><circle cx=606.2 cy=340.5 /><circle cx=403.3 cy=284.2 /><circle cx=286.8 cy=417.5 /><circle cx=502.9 cy=145.1 /><circle cx=323.7 cy=243.8 /><circle cx=556.0 cy=318.5 /><circle cx=398.4 cy=208.8 /><circle cx=373.6 cy=165.4 /><circle cx=586.6 cy=264.6 /><circle cx=374.4 cy=136.1 /><circle cx=576.0 cy=365.0 /><circle cx=517.7 cy=331.8 /><circle cx=418.8 cy=262.6 /><circle cx=542.6 cy=374.2 /><circle cx=381.7 cy=149.3 /><circle cx=334.3 cy=137.5 /><circle cx=486.4 cy=213.2 /><circle cx=401.3 cy=173.5 /><circle cx=542.1 cy=313.4 /><circle cx=630.6 cy=360.6 /><circle cx=293.1 cy=294.1 /><circle cx=473.1 cy=285.3 /><circle cx=604.8 cy=168.2 /><circle cx=444.7 cy=305.0 /><circle cx=504.9 cy=361.7 /><circle cx=603.2 cy=358.7 /><circle cx=445.6 cy=141.9 /><circle cx=538.8 cy=154.8 /><circle cx=543.5 cy=262.3 /><circle cx=287.7 cy=274.3 /><circle cx=340.0 cy=396.1 /><circle cx=363.8 cy=283.8 /><circle cx=598.4 cy=345.2 /><circle cx=410.0 cy=254.7 /><circle cx=599.4 cy=140.0 /><circle cx=656.0 cy=256.6 /><circle cx=360.0 cy=356.7 /><circle cx=446.2 cy=214.2 /><circle cx=578.1 cy=189.4 /><circle cx=584.4 cy=319.3 /><circle cx=498.1 cy=244.0 /><circle cx=338.1 cy=328.4 /><circle cx=302.4 cy=219.4 /><circle cx=626.4 cy=131.8 /><circle cx=438.2 cy=349.0 /><circle cx=483.3 cy=376.5 /><circle cx=527.5 cy=137.2 /><circle cx=378.6 cy=228.3 /><circle cx=600.2 cy=201.9 /><circle cx=388.5 cy=297.8 /><circle cx=321.0 cy=154.3 /><circle cx=430.3 cy=304.6 /><circle cx=445.8 cy=366.4 /><circle cx=345.7 cy=281.2 /><circle cx=333.9 cy=259.3 /><circle cx=541.4 cy=187.1 /><circle cx=296.0 cy=138.6 /><circle cx=328.7 cy=400.5 /><circle cx=484.1 cy=185.0 /><circle cx=285.2 cy=348.0 /><circle cx=323.7 cy=399.4 /><circle cx=610.3 cy=317.2 /><circle cx=304.6 cy=288.9 /><circle cx=435.0 cy=190.1 /><circle cx=437.2 cy=278.9 /><circle cx=619.1 cy=162.5 /><circle cx=458.3 cy=287.2 /><circle cx=448.9 cy=128.9 /><circle cx=536.8 cy=161.7 /><circle cx=553.6 cy=343.4 /><circle cx=367.3 cy=375.4 /><circle cx=602.3 cy=168.2 /><circle cx=580.2 cy=332.4 /><circle cx=418.4 cy=367.6 /><circle cx=381.2 cy=246.6 /><circle cx=337.4 cy=397.5 /><circle cx=501.5 cy=312.2 /><circle cx=289.5 cy=359.4 /><circle cx=279.4 cy=185.7 /><circle cx=609.5 cy=317.5 /><circle cx=354.1 cy=395.9 /><circle cx=553.0 cy=414.1 /><circle cx=440.1 cy=213.9 /><circle cx=342.5 cy=376.0 /><circle cx=559.7 cy=349.7 /><circle cx=572.6 cy=244.4 /><circle cx=482.3 cy=188.3 /><circle cx=571.7 cy=167.5 /><circle cx=642.5 cy=387.6 /><circle cx=443.2 cy=390.3 /><circle cx=441.6 cy=276.1 /><circle cx=480.8 cy=150.2 /><circle cx=415.9 cy=178.8 /><circle cx=430.2 cy=304.7 /><circle cx=389.9 cy=356.8 /><circle cx=414.4 cy=358.7 /><circle cx=450.8 cy=285.3 /><circle cx=402.5 cy=369.6 /><circle cx=325.8 cy=147.2 /><circle cx=376.6 cy=409.5 /><circle cx=372.5 cy=263.9 /><circle cx=471.9 cy=138.8 /><circle cx=385.9 cy=305.6 /><circle cx=646.6 cy=188.1 /><circle cx=342.7 cy=370.6 /><circle cx=300.3 cy=222.8 /><circle cx=505.9 cy=262.3 /><circle cx=351.1 cy=376.7 /><circle cx=588.0 cy=407.8 /><circle cx=506.6 cy=237.7 /><circle cx=518.6 cy=171.5 /><circle cx=441.3 cy=164.0 /><circle cx=575.2 cy=408.8 /><circle cx=517.1 cy=271.4 /><circle cx=498.1 cy=299.1 /><circle cx=549.7 cy=253.0 /><circle cx=377.1 cy=301.0 /><circle cx=361.0 cy=287.9 /><circle cx=536.9 cy=226.4 /><circle cx=312.1 cy=412.9 /><circle cx=499.2 cy=243.4 /><circle cx=602.4 cy=270.3 /><circle cx=347.9 cy=321.9 /><circle cx=657.3 cy=173.5 /><circle cx=432.3 cy=130.8 /><circle cx=375.7 cy=265.9 /><circle cx=539.7 cy=295.5 /><circle cx=576.8 cy=131.9 /><circle cx=386.0 cy=143.1 /><circle cx=588.6 cy=150.6 /><circle cx=448.0 cy=129.9 /><circle cx=525.7 cy=205.5 /><circle cx=550.2 cy=321.9 /><circle cx=607.3 cy=264.0 /><circle cx=426.7 cy=348.5 /><circle cx=308.0 cy=226.5 /><circle cx=538.5 cy=278.6 /><circle cx=643.1 cy=314.0 /><circle cx=502.3 cy=324.3 /><circle cx=538.1 cy=145.2 /><circle cx=297.5 cy=283.7 /><circle cx=333.5 cy=293.7 /><circle cx=477.1 cy=297.9 /><circle cx=560.2 cy=328.7 /><circle cx=462.0 cy=285.7 /><circle cx=444.2 cy=178.5 /><circle cx=635.4 cy=118.1 /><circle cx=515.9 cy=136.8 /><circle cx=313.9 cy=218.1 /><circle cx=540.9 cy=384.2 /><circle cx=287.1 cy=380.9 /><circle cx=353.2 cy=168.9 /><circle cx=306.8 cy=203.0 /><circle cx=523.3 cy=145.7 /><circle cx=575.1 cy=252.8 /><circle cx=332.2 cy=332.1 /><circle cx=305.5 cy=181.9 /><circle cx=579.6 cy=119.5 /><circle cx=549.4 cy=131.2 /><circle cx=544.7 cy=393.0 /><circle cx=477.5 cy=380.2 /><circle cx=540.7 cy=237.7 /><circle cx=446.7 cy=409.4 /><circle cx=304.0 cy=308.0 /><circle cx=494.4 cy=133.5 /><circle cx=649.0 cy=308.0 /><circle cx=361.2 cy=312.3 /><circle cx=378.8 cy=315.2 /><circle cx=503.1 cy=244.2 /><circle cx=647.9 cy=273.6 /><circle cx=365.3 cy=277.1 /><circle cx=289.6 cy=224.4 /><circle cx=431.9 cy=318.6 /><circle cx=291.6 cy=136.9 /><circle cx=342.8 cy=259.8 /><circle cx=283.0 cy=250.6 /><circle cx=344.3 cy=386.2 /><circle cx=587.7 cy=304.5 /><circle cx=601.4 cy=349.3 /><circle cx=462.1 cy=344.8 /><circle cx=528.5 cy=309.7 /><circle cx=286.4 cy=215.3 /><circle cx=529.1 cy=394.0 /><circle cx=503.5 cy=172.2 /><circle cx=274.7 cy=129.5 /><circle cx=492.0 cy=342.4 /><circle cx=364.9 cy=336.6 /><circle cx=517.5 cy=344.7 /><circle cx=319.2 cy=410.9 /><circle cx=578.7 cy=138.0 /><circle cx=615.5 cy=307.2 /><circle cx=483.5 cy=365.8 /><circle cx=524.9 cy=289.3 /><circle cx=498.5 cy=215.0 /><circle cx=329.6 cy=280.5 /><circle cx=295.5 cy=340.9 /><circle cx=492.5 cy=299.9 /><circle cx=303.9 cy=229.7 /><circle cx=354.7 cy=302.5 /><circle cx=556.7 cy=189.2 /><circle cx=650.0 cy=304.3 /><circle cx=310.5 cy=231.0 /><circle cx=402.8 cy=184.0 /><circle cx=286.5 cy=302.1 /><circle cx=459.8 cy=355.8 /><circle cx=463.1 cy=306.6 /><circle cx=400.8 cy=180.0 /><circle cx=583.8 cy=158.1 /><circle cx=451.1 cy=377.1 /><circle cx=599.1 cy=152.9 /><circle cx=514.4 cy=220.0 /><circle cx=376.4 cy=409.9 /><circle cx=518.4 cy=373.5 /><circle cx=505.8 cy=243.7 /><circle cx=638.2 cy=347.8 /><circle cx=612.0 cy=325.1 /><circle cx=621.1 cy=415.6 /><circle cx=380.9 cy=238.8 /><circle cx=312.6 cy=137.4 /><circle cx=470.2 cy=275.3 /><circle cx=394.8 cy=210.5 /><circle cx=510.3 cy=135.8 /><circle cx=391.7 cy=376.5 /><circle cx=452.7 cy=340.0 /><circle cx=424.1 cy=315.5 /><circle cx=323.5 cy=353.1 /><circle cx=496.1 cy=192.9 /><circle cx=547.2 cy=364.4 /><circle cx=334.8 cy=390.8 /><circle cx=441.1 cy=263.7 /><circle cx=580.2 cy=118.3 /><circle cx=594.1 cy=272.5 /><circle cx=274.6 cy=253.2 /><circle cx=290.2 cy=287.4 /><circle cx=440.7 cy=323.5 /><circle cx=359.6 cy=228.9 /><circle cx=628.2 cy=245.8 /><circle cx=533.5 cy=351.3 /><circle cx=615.2 cy=155.7 /><circle cx=628.8 cy=134.1 /><circle cx=344.8 cy=302.6 /><circle cx=359.6 cy=139.0 /><circle cx=429.8 cy=414.9 /><circle cx=337.1 cy=295.9 /><circle cx=382.8 cy=269.3 /><circle cx=384.2 cy=280.8 /><circle cx=633.6 cy=255.0 /><circle cx=643.0 cy=291.3 /><circle cx=587.3 cy=235.6 /><circle cx=393.9 cy=200.1 /><circle cx=412.1 cy=394.2 /><circle cx=372.3 cy=338.6 /><circle cx=490.9 cy=332.7 /><circle cx=612.8 cy=408.3 /><circle cx=410.3 cy=384.7 /><circle cx=578.0 cy=363.2 /><circle cx=298.6 cy=311.8 /><circle cx=642.1 cy=260.7 /><circle cx=284.7 cy=234.6 /><circle cx=320.5 cy=127.6 /><circle cx=389.8 cy=226.2 /><circle cx=372.4 cy=203.9 /><circle cx=541.4 cy=351.0 /><circle cx=406.3 cy=118.6 /><circle cx=332.8 cy=197.0 /><circle cx=505.1 cy=363.3 /><circle cx=604.9 cy=226.8 /><circle cx=337.5 cy=231.3 /><circle cx=542.3 cy=306.3 /><circle cx=571.8 cy=357.2 /><circle cx=278.5 cy=404.8 /><circle cx=599.0 cy=265.9 /><circle cx=572.1 cy=154.8 /><circle cx=598.1 cy=265.4 /><circle cx=275.5 cy=212.6 /><circle cx=373.4 cy=194.1 /><circle cx=344.4 cy=180.3 /><circle cx=304.7 cy=190.5 /><circle cx=621.6 cy=262.4 /><circle cx=285.9 cy=120.2 /><circle cx=446.8 cy=268.1 /><circle cx=388.2 cy=366.3 /><circle cx=406.6 cy=348.4 /><circle cx=606.6 cy=302.7 /><circle cx=376.2 cy=382.5 /><circle cx=308.2 cy=409.9 /><circle cx=546.2 cy=195.7 /><circle cx=474.4 cy=119.7 /><circle cx=416.6 cy=281.3 /><circle cx=627.7 cy=221.1 /><circle cx=330.2 cy=329.0 /><circle cx=465.9 cy=132.7 /><circle cx=447.6 cy=157.0 /><circle cx=636.2 cy=200.8 /><circle cx=503.2 cy=369.0 /><circle cx=369.1 cy=413.1 /><circle cx=278.4 cy=229.1 /><circle cx=300.6 cy=274.9 /><circle cx=492.6 cy=256.3 /><circle cx=420.2 cy=316.2 /><circle cx=345.1 cy=221.8 /><circle cx=368.0 cy=164.2 /><circle cx=313.1 cy=339.8 /><circle cx=516.9 cy=297.9 /><circle cx=378.1 cy=389.0 /><circle cx=611.4 cy=153.6 /><circle cx=344.0 cy=169.4 /><circle cx=354.6 cy=313.7 /><circle cx=318.7 cy=132.4 /><circle cx=649.0 cy=360.3 /><circle cx=457.6 cy=311.4 /><circle cx=427.8 cy=295.0 /><circle cx=329.0 cy=253.3 /><circle cx=504.9 cy=172.2 /><circle cx=378.3 cy=355.1 /><circle cx=400.7 cy=231.6 /><circle cx=324.7 cy=309.3 /><circle cx=464.9 cy=278.1 /><circle cx=306.6 cy=412.3 /><circle cx=580.9 cy=199.7 /><circle cx=420.4 cy=264.2 /><circle cx=627.6 cy=316.6 /><circle cx=468.8 cy=384.7 /><circle cx=408.1 cy=311.1 /><circle cx=340.3 cy=318.8 /><circle cx=499.3 cy=243.8 /><circle cx=332.6 cy=153.6 /><circle cx=445.6 cy=158.8 /><circle cx=277.0 cy=349.4 /><circle cx=628.5 cy=171.1 /><circle cx=425.2 cy=126.9 /><circle cx=381.9 cy=347.3 /><circle cx=284.9 cy=261.4 /><circle cx=289.5 cy=392.9 /><circle cx=425.7 cy=234.6 /><circle cx=465.5 cy=294.9 /><circle cx=494.2 cy=378.5 /><circle cx=602.6 cy=320.2 /><circle cx=596.3 cy=362.4 /><circle cx=341.2 cy=239.0 /><circle cx=325.2 cy=269.4 /><circle cx=291.4 cy=273.3 /><circle cx=344.2 cy=213.1 /><circle cx=645.7 cy=379.2 /><circle cx=440.7 cy=125.5 /><circle cx=518.7 cy=184.0 /><circle cx=620.5 cy=176.6 /><circle cx=411.4 cy=143.8 /><circle cx=401.9 cy=196.6 /><circle cx=484.2 cy=319.6 /><circle cx=416.2 cy=189.5 /><circle cx=556.3 cy=264.2 /><circle cx=298.8 cy=351.0 /><circle cx=438.7 cy=174.8 /><circle cx=343.7 cy=406.4 /><circle cx=510.8 cy=155.9 /><circle cx=507.8 cy=310.6 /><circle cx=295.6 cy=404.2 /><circle cx=369.3 cy=412.8 /><circle cx=343.4 cy=167.7 /><circle cx=505.1 cy=173.2 /><circle cx=488.0 cy=239.6 /><circle cx=514.1 cy=346.8 /><circle cx=573.7 cy=294.2 /><circle cx=493.7 cy=157.8 /><circle cx=560.8 cy=377.5 /><circle cx=497.3 cy=351.5 /><circle cx=412.4 cy=148.0 /><circle cx=593.1 cy=340.3 /><circle cx=650.7 cy=199.1 /><circle cx=357.8 cy=141.8 /><circle cx=631.5 cy=154.4 /><circle cx=434.0 cy=251.8 /><circle cx=283.8 cy=390.4 /><circle cx=283.6 cy=358.2 /><circle cx=292.0 cy=261.5 /><circle cx=366.9 cy=163.2 /><circle cx=583.4 cy=332.7 /><circle cx=335.2 cy=347.3 /><circle cx=427.7 cy=213.8 /><circle cx=286.8 cy=209.0 /><circle cx=302.1 cy=292.7 /><circle cx=295.0 cy=250.9 /><circle cx=505.3 cy=182.9 /><circle cx=639.3 cy=150.6 /><circle cx=308.0 cy=145.2 /><circle cx=473.5 cy=286.1 /><circle cx=480.5 cy=395.1 /><circle cx=563.8 cy=275.9 /><circle cx=582.7 cy=193.6 /><circle cx=331.5 cy=254.9 /><circle cx=639.9 cy=233.4 /><circle cx=593.5 cy=330.7 /><circle cx=381.1 cy=342.5 /><circle cx=584.5 cy=397.2 /><circle cx=466.3 cy=213.9 /><circle cx=279.7 cy=310.5 /><circle cx=402.7 cy=255.2 /><circle cx=513.7 cy=344.1 /><circle cx=641.1 cy=334.0 /><circle cx=626.3 cy=134.6 /><circle cx=311.2 cy=121.2 /><circle cx=587.9 cy=145.8 /><circle cx=461.9 cy=188.2 /><circle cx=595.6 cy=212.4 /><circle cx=480.4 cy=338.3 /><circle cx=433.8 cy=225.6 /><circle cx=465.8 cy=334.2 /><circle cx=626.7 cy=125.3 /><circle cx=465.6 cy=301.2 /><circle cx=315.1 cy=134.6 /><circle cx=461.9 cy=320.2 /><circle cx=469.4 cy=134.9 /><circle cx=467.1 cy=134.4 /><circle cx=298.8 cy=397.8 /><circle cx=497.4 cy=293.1 /><circle cx=554.3 cy=288.6 /><circle cx=548.2 cy=327.1 /><circle cx=636.4 cy=324.1 /><circle cx=329.3 cy=269.5 /><circle cx=405.7 cy=286.3 /><circle cx=416.4 cy=349.1 /><circle cx=501.8 cy=164.5 /><circle cx=573.0 cy=272.3 /><circle cx=411.9 cy=243.1 /><circle cx=455.6 cy=199.2 /><circle cx=638.0 cy=276.0 /><circle cx=433.3 cy=257.9 /><circle cx=463.8 cy=389.5 /><circle cx=612.3 cy=272.9 /><circle cx=343.1 cy=130.2 /><circle cx=595.3 cy=164.4 /><circle cx=275.4 cy=194.8 /><circle cx=452.0 cy=230.5 /><circle cx=428.2 cy=170.5 /><circle cx=398.3 cy=383.3 /><circle cx=453.7 cy=338.7 /><circle cx=460.2 cy=163.2 /><circle cx=397.9 cy=151.8 /><circle cx=336.3 cy=137.0 /><circle cx=613.0 cy=230.6 /><circle cx=644.4 cy=163.1 /><circle cx=274.4 cy=340.5 /><circle cx=480.8 cy=129.3 /><circle cx=283.0 cy=371.9 /><circle cx=585.2 cy=237.8 /><circle cx=604.2 cy=174.7 /><circle cx=594.4 cy=171.7 /><circle cx=536.4 cy=213.4 /><circle cx=609.2 cy=303.0 /><circle cx=366.2 cy=219.2 /><circle cx=636.4 cy=197.7 /><circle cx=374.6 cy=310.0 /><circle cx=509.0 cy=231.9 /><circle cx=449.0 cy=282.8 /><circle cx=417.3 cy=199.6 /><circle cx=391.0 cy=280.2 /><circle cx=572.1 cy=358.4 /><circle cx=485.9 cy=299.8 /><circle cx=496.1 cy=322.1 /><circle cx=415.5 cy=173.8 /><circle cx=427.8 cy=389.9 /><circle cx=453.2 cy=384.7 /><circle cx=551.8 cy=370.8 /><circle cx=564.1 cy=159.8 /><circle cx=658.2 cy=134.0 /><circle cx=403.9 cy=410.9 /><circle cx=589.7 cy=335.3 /><circle cx=356.9 cy=258.1 /><circle cx=527.4 cy=146.4 /><circle cx=457.9 cy=195.0 /><circle cx=584.4 cy=141.8 /><circle cx=550.6 cy=373.6 /><circle cx=481.6 cy=333.4 /><circle cx=562.5 cy=398.5 /><circle cx=517.5 cy=206.1 /><circle cx=382.4 cy=247.5 /><circle cx=353.6 cy=412.7 /><circle cx=431.7 cy=331.1 /><circle cx=339.0 cy=172.6 /><circle cx=474.1 cy=412.9 /><circle cx=294.9 cy=239.0 /><circle cx=548.2 cy=180.0 /><circle cx=647.4 cy=354.1 /><circle cx=397.0 cy=389.5 /><circle cx=624.2 cy=341.7 /><circle cx=574.6 cy=372.3 /><circle cx=333.9 cy=175.8 /><circle cx=306.8 cy=359.1 /><circle cx=390.5 cy=359.9 /><circle cx=628.1 cy=308.9 /><circle cx=511.8 cy=187.1 /><circle cx=316.9 cy=216.2 /><circle cx=373.6 cy=205.8 /><circle cx=303.6 cy=235.1 /><circle cx=657.9 cy=317.9 /><circle cx=602.0 cy=414.0 /><circle cx=374.6 cy=240.9 /><circle cx=435.8 cy=373.4 /><circle cx=622.3 cy=126.1 /><circle cx=475.9 cy=263.3 /><circle cx=594.0 cy=206.2 /><circle cx=365.3 cy=378.5 /><circle cx=561.8 cy=349.9 /><circle cx=546.5 cy=209.0 /><circle cx=595.5 cy=251.9 /><circle cx=491.8 cy=244.7 /><circle cx=554.2 cy=139.3 /><circle cx=308.4 cy=311.8 /><circle cx=593.7 cy=214.3 /><circle cx=515.7 cy=244.6 /><circle cx=379.0 cy=269.5 /><circle cx=596.8 cy=370.1 /><circle cx=596.9 cy=264.3 /><circle cx=595.2 cy=373.7 /><circle cx=383.4 cy=185.2 /><circle cx=453.8 cy=276.5 /><circle cx=563.9 cy=295.6 /><circle cx=408.7 cy=239.9 /><circle cx=318.6 cy=404.4 /><circle cx=373.2 cy=117.4 /><circle cx=611.2 cy=160.1 /><circle cx=360.9 cy=340.8 /><circle cx=573.1 cy=382.5 /><circle cx=516.7 cy=170.8 /><circle cx=374.5 cy=239.4 /><circle cx=293.8 cy=306.6 /><circle cx=625.5 cy=240.2 /><circle cx=526.2 cy=345.9 /><circle cx=421.6 cy=142.9 /><circle cx=414.2 cy=407.8 /><circle cx=563.2 cy=309.4 /><circle cx=388.7 cy=188.8 /><circle cx=293.3 cy=386.6 /><circle cx=619.3 cy=393.7 /><circle cx=343.2 cy=344.3 /><circle cx=381.1 cy=189.8 /><circle cx=325.2 cy=301.6 /><circle cx=541.0 cy=191.7 /><circle cx=559.2 cy=346.2 /><circle cx=584.8 cy=131.2 /><circle cx=290.1 cy=283.3 /><circle cx=512.6 cy=152.9 /><circle cx=597.3 cy=407.2 /><circle cx=608.6 cy=139.8 /><circle cx=548.0 cy=120.9 /><circle cx=326.4 cy=322.9 /><circle cx=414.4 cy=405.5 /><circle cx=432.6 cy=388.5 /><circle cx=385.5 cy=342.2 /><circle cx=472.1 cy=209.2 /><circle cx=395.8 cy=190.0 /><circle cx=502.3 cy=207.6 /><circle cx=435.6 cy=362.8 /><circle cx=380.9 cy=260.3 /><circle cx=592.8 cy=154.5 /><circle cx=413.8 cy=294.6 /><circle cx=495.5 cy=270.9 /><circle cx=653.6 cy=350.5 /><circle cx=547.6 cy=290.5 /><circle cx=379.9 cy=344.3 /><circle cx=569.4 cy=206.2 /><circle cx=640.7 cy=346.4 /><circle cx=488.2 cy=310.8 /><circle cx=313.4 cy=214.0 /><circle cx=509.5 cy=332.9 /><circle cx=321.7 cy=250.9 /><circle cx=492.7 cy=218.8 /><circle cx=289.0 cy=173.0 /><circle cx=509.9 cy=395.8 /><circle cx=649.1 cy=348.1 /><circle cx=559.1 cy=166.6 /><circle cx=606.9 cy=209.5 /><circle cx=313.6 cy=241.0 /><circle cx=461.8 cy=224.9 /><circle cx=615.0 cy=246.9 /><circle cx=404.9 cy=295.5 /><circle cx=448.0 cy=379.4 /><circle cx=531.6 cy=316.1 /><circle cx=651.7 cy=399.7 /><circle cx=389.6 cy=190.0 /><circle cx=561.4 cy=215.5 /><circle cx=310.7 cy=284.7 /><circle cx=357.4 cy=348.3 /><circle cx=350.3 cy=319.7 /><circle cx=562.6 cy=346.5 /><circle cx=287.2 cy=333.1 /><circle cx=634.3 cy=166.9 /><circle cx=568.4 cy=401.1 /><circle cx=337.8 cy=304.6 /><circle cx=495.5 cy=119.3 /><circle cx=366.8 cy=203.6 /><circle cx=533.3 cy=221.0 /><circle cx=416.7 cy=238.4 /><circle cx=496.1 cy=285.7 /><circle cx=289.0 cy=300.3 /><circle cx=640.7 cy=394.2 /><circle cx=567.9 cy=170.3 /><circle cx=333.1 cy=374.3 /><circle cx=341.8 cy=293.7 /><circle cx=424.4 cy=318.7 /><circle cx=298.7 cy=170.2 /><circle cx=611.4 cy=407.9 /><circle cx=639.1 cy=352.1 /><circle cx=523.5 cy=296.1 /><circle cx=427.9 cy=367.0 /><circle cx=574.1 cy=142.3 /><circle cx=308.1 cy=217.4 /><circle cx=333.8 cy=285.6 /><circle cx=290.4 cy=138.6 /><circle cx=338.7 cy=139.6 /><circle cx=628.8 cy=188.3 /><circle cx=628.2 cy=209.2 /><circle cx=565.5 cy=217.6 /><circle cx=457.0 cy=251.4 /><circle cx=617.2 cy=177.2 /><circle cx=457.9 cy=363.7 /><circle cx=529.3 cy=368.4 /><circle cx=536.8 cy=233.3 /><circle cx=529.1 cy=398.5 /><circle cx=629.9 cy=218.3 /><circle cx=588.3 cy=121.6 /><circle cx=463.7 cy=142.5 /><circle cx=572.0 cy=342.7 /><circle cx=358.9 cy=331.2 /><circle cx=626.6 cy=404.4 /><circle cx=631.7 cy=139.6 /><circle cx=299.9 cy=360.1 /><circle cx=274.5 cy=200.1 /><circle cx=349.7 cy=288.2 /><circle cx=578.6 cy=334.0 /><circle cx=581.4 cy=180.0 /><circle cx=444.6 cy=123.2 /><circle cx=638.7 cy=271.6 /><circle cx=329.0 cy=319.3 /><circle cx=299.5 cy=384.0 /><circle cx=364.6 cy=355.0 /><circle cx=607.4 cy=331.7 /><circle cx=521.3 cy=410.8 /><circle cx=527.0 cy=204.0 /><circle cx=282.5 cy=260.2 /><circle cx=361.2 cy=180.2 /><circle cx=582.8 cy=277.2 /><circle cx=609.7 cy=223.4 /><circle cx=639.5 cy=210.6 /><circle cx=438.3 cy=397.8 /><circle cx=616.0 cy=417.4 /><circle cx=307.7 cy=180.3 /><circle cx=583.2 cy=341.4 /><circle cx=564.0 cy=302.5 /><circle cx=631.4 cy=391.3 /><circle cx=359.2 cy=200.9 /><circle cx=398.6 cy=214.8 /><circle cx=380.5 cy=357.9 /><circle cx=575.3 cy=259.1 /><circle cx=572.4 cy=239.9 /><circle cx=390.9 cy=139.1 /><circle cx=288.5 cy=365.8 /><circle cx=650.0 cy=356.8 /><circle cx=615.6 cy=356.1 /><circle cx=559.0 cy=204.1 /><circle cx=280.4 cy=226.3 /><circle cx=600.7 cy=199.4 /><circle cx=274.9 cy=299.3 /><circle cx=335.7 cy=259.0 /><circle cx=373.9 cy=374.4 /><circle cx=630.3 cy=369.7 /><circle cx=654.9 cy=289.7 /><circle cx=635.4 cy=183.9 /><circle cx=492.2 cy=172.8 /><circle cx=274.7 cy=288.5 /><circle cx=437.7 cy=231.7 /><circle cx=649.9 cy=316.8 /><circle cx=433.0 cy=413.7 /><circle cx=591.2 cy=180.0 /><circle cx=288.5 cy=120.4 /><circle cx=332.8 cy=328.4 /><circle cx=406.6 cy=339.5 /><circle cx=284.2 cy=382.4 /><circle cx=358.2 cy=368.5 /><circle cx=527.0 cy=164.7 /><circle cx=322.2 cy=177.3 /><circle cx=377.4 cy=255.2 /><circle cx=592.0 cy=253.8 /><circle cx=362.8 cy=187.7 /><circle cx=444.7 cy=164.3 /><circle cx=356.6 cy=355.5 /><circle cx=648.9 cy=147.8 /><circle cx=447.9 cy=411.1 /><circle cx=644.8 cy=266.5 /><circle cx=582.9 cy=227.7 /><circle cx=645.4 cy=185.8 /><circle cx=632.7 cy=351.0 /><circle cx=589.4 cy=382.4 /><circle cx=432.2 cy=317.1 /><circle cx=612.3 cy=132.3 /><circle cx=504.1 cy=295.6 /><circle cx=534.1 cy=286.8 /><circle cx=630.7 cy=339.7 /><circle cx=414.7 cy=202.8 /><circle cx=473.9 cy=147.4 /><circle cx=435.0 cy=240.2 /><circle cx=610.7 cy=385.8 /><circle cx=397.3 cy=410.6 /><circle cx=527.0 cy=395.9 /><circle cx=474.5 cy=331.4 /><circle cx=561.3 cy=416.8 /><circle cx=461.3 cy=135.3 /><circle cx=443.6 cy=200.4 /><circle cx=441.7 cy=161.5 /><circle cx=378.0 cy=235.6 /><circle cx=581.4 cy=132.0 /><circle cx=619.7 cy=126.3 /><circle cx=613.2 cy=253.2 /><circle cx=280.8 cy=234.2 /><circle cx=480.5 cy=268.1 /><circle cx=556.1 cy=265.9 /><circle cx=619.3 cy=270.4 /><circle cx=287.5 cy=188.9 /><circle cx=379.5 cy=195.5 /><circle cx=578.9 cy=390.5 /><circle cx=491.3 cy=381.8 /><circle cx=381.8 cy=414.5 /><circle cx=281.1 cy=137.1 /><circle cx=537.3 cy=347.0 /><circle cx=342.7 cy=141.5 /><circle cx=406.9 cy=150.5 /><circle cx=405.5 cy=348.8 /><circle cx=303.5 cy=187.0 /><circle cx=584.3 cy=194.9 /><circle cx=648.0 cy=207.4 /><circle cx=445.8 cy=347.6 /><circle cx=367.0 cy=388.3 /><circle cx=365.6 cy=243.1 /><circle cx=521.2 cy=375.3 /><circle cx=594.7 cy=276.3 /><circle cx=593.6 cy=370.9 /><circle cx=630.9 cy=236.3 /><circle cx=605.2 cy=282.4 /><circle cx=293.2 cy=353.6 /><circle cx=365.4 cy=216.5 /><circle cx=424.7 cy=417.2 /><circle cx=505.0 cy=160.4 /><circle cx=372.0 cy=344.5 /><circle cx=405.5 cy=414.0 /><circle cx=409.3 cy=405.3 /><circle cx=478.6 cy=314.2 /><circle cx=588.7 cy=230.2 /><circle cx=473.0 cy=391.0 /><circle cx=370.4 cy=290.1 /><circle cx=339.1 cy=218.0 /><circle cx=657.6 cy=316.5 /><circle cx=456.9 cy=167.7 /><circle cx=316.4 cy=291.9 /><circle cx=653.4 cy=271.7 /><circle cx=530.9 cy=187.7 /><circle cx=588.4 cy=164.6 /><circle cx=652.3 cy=273.8 /><circle cx=493.5 cy=414.3 /><circle cx=390.8 cy=288.0 /><circle cx=439.8 cy=145.2 /><circle cx=434.8 cy=156.5 /><circle cx=287.7 cy=306.9 /><circle cx=509.5 cy=125.6 /><circle cx=430.0 cy=273.4 /><circle cx=407.6 cy=129.4 /><circle cx=389.0 cy=289.5 /><circle cx=575.1 cy=261.1 /><circle cx=450.7 cy=191.6 /><circle cx=342.0 cy=224.5 /><circle cx=324.8 cy=340.8 /><circle cx=492.6 cy=218.9 /><circle cx=344.8 cy=284.0 /><circle cx=514.0 cy=400.5 /><circle cx=594.4 cy=342.0 /><circle cx=578.0 cy=302.5 /><circle cx=403.4 cy=175.8 /><circle cx=417.3 cy=264.0 /><circle cx=292.4 cy=344.7 /><circle cx=625.6 cy=199.4 /><circle cx=411.6 cy=334.7 /><circle cx=610.8 cy=233.0 /><circle cx=309.1 cy=212.2 /><circle cx=630.8 cy=239.1 /><circle cx=297.0 cy=194.6 /><circle cx=276.5 cy=395.0 /><circle cx=446.7 cy=155.5 /><circle cx=303.3 cy=267.5 /><circle cx=563.5 cy=169.9 /><circle cx=301.4 cy=268.1 /><circle cx=340.9 cy=288.4 /><circle cx=579.7 cy=166.9 /><circle cx=474.3 cy=287.3 /><circle cx=524.2 cy=182.3 /><circle cx=642.2 cy=145.0 /><circle cx=309.1 cy=370.0 /><circle cx=628.1 cy=269.5 /><circle cx=396.4 cy=377.3 /><circle cx=503.0 cy=255.8 /><circle cx=348.5 cy=388.9 /><circle cx=422.6 cy=292.9 /><circle cx=637.2 cy=234.3 /><circle cx=297.7 cy=341.1 /><circle cx=326.3 cy=341.1 /><circle cx=497.5 cy=292.3 /><circle cx=319.7 cy=364.4 /><circle cx=642.3 cy=156.1 /><circle cx=505.3 cy=221.0 /><circle cx=557.5 cy=150.6 /><circle cx=559.6 cy=201.7 /><circle cx=639.9 cy=306.9 /><circle cx=454.1 cy=162.9 /><circle cx=568.7 cy=390.1 /><circle cx=522.5 cy=339.7 /><circle cx=343.3 cy=182.7 /><circle cx=531.5 cy=127.5 /><circle cx=587.5 cy=377.7 /><circle cx=565.2 cy=183.4 /><circle cx=435.5 cy=408.3 /><circle cx=426.0 cy=411.4 /><circle cx=312.4 cy=309.2 /><circle cx=405.5 cy=395.1 /><circle cx=448.2 cy=264.0 /><circle cx=318.6 cy=363.7 /><circle cx=653.1 cy=199.5 /><circle cx=398.3 cy=355.8 /><circle cx=379.0 cy=252.2 /><circle cx=583.2 cy=267.4 /><circle cx=511.4 cy=119.1 /><circle cx=475.1 cy=289.6 /><circle cx=515.2 cy=136.2 /><circle cx=603.2 cy=237.3 /><circle cx=321.8 cy=180.6 /><circle cx=490.8 cy=197.6 /><circle cx=492.6 cy=171.2 /><circle cx=462.4 cy=352.5 /><circle cx=497.4 cy=184.5 /><circle cx=580.1 cy=253.0 /><circle cx=282.7 cy=270.0 /><circle cx=578.1 cy=408.7 /><circle cx=380.3 cy=369.2 /><circle cx=456.1 cy=345.0 /><circle cx=658.1 cy=387.9 /><circle cx=627.1 cy=333.8 /><circle cx=543.7 cy=415.3 /><circle cx=410.4 cy=247.1 /><circle cx=629.7 cy=222.1 /><circle cx=541.2 cy=217.6 /><circle cx=284.1 cy=200.7 /><circle cx=401.3 cy=315.7 /><circle cx=549.4 cy=132.2 /><circle cx=584.5 cy=219.5 /><circle cx=380.3 cy=287.2 /><circle cx=565.2 cy=191.4 /><circle cx=434.1 cy=279.7 /><circle cx=471.5 cy=261.9 /><circle cx=508.2 cy=207.9 /><circle cx=339.2 cy=339.0 /><circle cx=328.3 cy=139.5 /><circle cx=421.9 cy=413.7 /><circle cx=388.8 cy=223.8 /><circle cx=514.5 cy=191.7 /><circle cx=393.9 cy=242.7 /><circle cx=525.1 cy=278.7 /><circle cx=377.5 cy=352.8 /><circle cx=614.0 cy=174.3 /><circle cx=477.4 cy=196.5 /><circle cx=443.1 cy=120.9 /><circle cx=447.4 cy=271.8 /><circle cx=356.5 cy=153.5 /><circle cx=345.0 cy=372.7 /><circle cx=532.1 cy=405.6 /><circle cx=428.0 cy=233.2 /><circle cx=549.4 cy=365.1 /><circle cx=347.2 cy=193.9 /><circle cx=446.6 cy=202.3 /><circle cx=586.9 cy=210.2 /><circle cx=619.5 cy=415.9 /><circle cx=281.4 cy=164.1 /><circle cx=371.9 cy=203.8 /><circle cx=378.5 cy=268.5 /><circle cx=523.4 cy=295.1 /><circle cx=619.3 cy=290.9 /><circle cx=580.8 cy=180.9 /><circle cx=544.1 cy=199.7 /><circle cx=612.4 cy=195.8 /><circle cx=425.3 cy=324.2 /><circle cx=552.0 cy=345.0 /><circle cx=403.6 cy=202.6 /><circle cx=443.6 cy=215.9 /><circle cx=453.4 cy=370.2 /><circle cx=395.8 cy=122.6 /><circle cx=630.2 cy=340.7 /><circle cx=312.0 cy=308.9 /><circle cx=339.2 cy=221.1 /><circle cx=574.6 cy=149.1 /><circle cx=414.0 cy=204.5 /><circle cx=654.6 cy=378.4 /><circle cx=400.5 cy=370.4 /><circle cx=284.3 cy=393.9 /><circle cx=360.2 cy=165.6 /><circle cx=582.5 cy=312.0 /><circle cx=606.3 cy=409.7 /><circle cx=618.0 cy=400.2 /><circle cx=463.9 cy=206.2 /><circle cx=529.0 cy=120.6 /><circle cx=392.7 cy=267.5 /><circle cx=573.6 cy=200.5 /><circle cx=388.1 cy=151.7 /><circle cx=631.0 cy=156.6 /><circle cx=482.5 cy=151.3 /><circle cx=656.0 cy=141.5 /><circle cx=563.3 cy=198.0 /><circle cx=504.1 cy=363.0 /><circle cx=291.0 cy=387.0 /><circle cx=498.2 cy=155.7 /><circle cx=388.6 cy=347.5 /><circle cx=466.9 cy=320.3 /><circle cx=465.6 cy=215.2 /><circle cx=620.7 cy=334.7 /><circle cx=302.8 cy=207.1 /><circle cx=285.1 cy=150.8 /><circle cx=476.9 cy=380.5 /><circle cx=497.4 cy=385.0 /><circle cx=367.6 cy=380.9 /><circle cx=471.7 cy=246.7 /><circle cx=420.9 cy=315.7 /><circle cx=472.9 cy=316.0 /><circle cx=585.2 cy=156.6 /><circle cx=546.7 cy=118.1 /><circle cx=628.3 cy=315.7 /><circle cx=377.8 cy=397.1 /><circle cx=415.9 cy=311.8 /><circle cx=630.4 cy=349.3 /><circle cx=495.8 cy=275.4 /><circle cx=572.5 cy=214.1 /><circle cx=423.3 cy=286.0 /><circle cx=554.6 cy=164.8 /><circle cx=512.7 cy=190.6 /><circle cx=343.1 cy=214.2 /><circle cx=456.3 cy=225.4 /><circle cx=285.1 cy=388.4 /><circle cx=377.2 cy=372.4 /><circle cx=337.7 cy=363.9 /><circle cx=304.1 cy=414.7 /><circle cx=622.6 cy=304.7 /><circle cx=624.7 cy=126.6 /><circle cx=341.6 cy=268.9 /><circle cx=648.0 cy=176.1 /><circle cx=360.3 cy=360.6 /><circle cx=505.7 cy=256.1 /><circle cx=590.3 cy=118.2 /><circle cx=458.7 cy=266.9 /><circle cx=474.7 cy=184.9 /><circle cx=450.6 cy=371.5 /><circle cx=376.2 cy=214.8 /><circle cx=328.5 cy=386.1 /><circle cx=410.2 cy=393.6 /><circle cx=297.3 cy=309.6 /><circle cx=590.7 cy=265.9 /><circle cx=604.0 cy=177.9 /><circle cx=337.8 cy=342.8 /><circle cx=554.7 cy=237.2 /><circle cx=525.6 cy=234.0 /><circle cx=569.7 cy=280.0 /><circle cx=319.4 cy=407.4 /><circle cx=564.3 cy=330.4 /><circle cx=276.6 cy=382.3 /><circle cx=398.0 cy=315.3 /><circle cx=581.1 cy=309.2 /><circle cx=335.6 cy=252.3 /><circle cx=322.4 cy=123.7 /><circle cx=525.0 cy=238.2 /><circle cx=297.8 cy=343.1 /><circle cx=436.1 cy=327.7 /><circle cx=655.4 cy=390.0 /><circle cx=363.7 cy=243.9 /><circle cx=581.6 cy=356.9 /><circle cx=420.0 cy=198.7 /><circle cx=498.0 cy=170.1 /><circle cx=533.0 cy=145.6 /><circle cx=409.5 cy=380.2 /><circle cx=565.3 cy=298.3 /><circle cx=608.6 cy=244.6 /><circle cx=531.5 cy=391.9 /><circle cx=374.2 cy=126.7 /><circle cx=324.4 cy=129.5 /><circle cx=478.4 cy=227.3 /><circle cx=320.6 cy=249.7 /><circle cx=489.0 cy=416.2 /><circle cx=525.1 cy=262.3 /><circle cx=657.9 cy=193.4 /><circle cx=433.4 cy=158.5 /><circle cx=413.2 cy=226.2 /><circle cx=427.1 cy=328.1 /><circle cx=323.2 cy=175.1 /><circle cx=630.5 cy=368.5 /><circle cx=587.5 cy=199.6 /><circle cx=337.0 cy=140.2 /><circle cx=333.1 cy=185.0 /><circle cx=380.9 cy=166.9 /><circle cx=514.2 cy=355.8 /><circle cx=634.5 cy=334.5 /><circle cx=481.0 cy=170.8 /><circle cx=313.6 cy=302.0 /><circle cx=333.5 cy=263.6 /><circle cx=649.4 cy=333.0 /><circle cx=505.2 cy=190.3 /><circle cx=452.8 cy=254.5 /><circle cx=658.4 cy=377.4 /><circle cx=358.0 cy=312.3 /><circle cx=317.1 cy=415.8 /><circle cx=469.8 cy=274.0 /><circle cx=650.1 cy=370.4 /><circle cx=335.8 cy=390.1 /><circle cx=562.0 cy=409.0 /><circle cx=466.0 cy=305.9 /><circle cx=392.3 cy=339.5 /><circle cx=590.9 cy=227.6 /><circle cx=392.5 cy=374.8 /><circle cx=521.2 cy=189.6 /><circle cx=307.1 cy=223.3 /><circle cx=456.9 cy=283.3 /><circle cx=467.4 cy=281.6 /><circle cx=478.1 cy=415.9 /><circle cx=576.9 cy=284.6 /><circle cx=481.2 cy=334.8 /><circle cx=579.9 cy=148.1 /><circle cx=291.9 cy=329.1 /><circle cx=623.8 cy=404.9 /><circle cx=469.1 cy=305.1 /><circle cx=649.8 cy=136.1 /><circle cx=443.3 cy=177.2 /><circle cx=356.1 cy=272.1 /><circle cx=463.0 cy=360.9 /><circle cx=576.5 cy=133.4 /><circle cx=442.5 cy=132.8 /><circle cx=605.5 cy=409.1 /><circle cx=607.4 cy=400.5 /><circle cx=380.1 cy=218.0 /><circle cx=337.5 cy=317.4 /><circle cx=556.3 cy=180.2 /><circle cx=508.4 cy=395.6 /><circle cx=385.2 cy=288.0 /><circle cx=304.3 cy=193.1 /><circle cx=430.4 cy=350.5 /><circle cx=275.0 cy=294.7 /><circle cx=588.9 cy=339.6 /><circle cx=488.4 cy=169.0 /><circle cx=554.4 cy=151.4 /><circle cx=309.8 cy=398.7 /><circle cx=419.7 cy=284.0 /><circle cx=639.9 cy=294.0 /><circle cx=517.4 cy=163.3 /><circle cx=471.3 cy=208.3 /><circle cx=463.2 cy=244.7 /><circle cx=592.6 cy=167.2 /><circle cx=410.2 cy=369.2 /><circle cx=424.3 cy=269.7 /><circle cx=384.8 cy=243.5 /><circle cx=616.8 cy=281.8 /><circle cx=450.3 cy=366.0 /><circle cx=616.7 cy=333.2 /><circle cx=315.6 cy=173.1 /><circle cx=408.8 cy=346.2 /><circle cx=452.8 cy=181.5 /><circle cx=373.6 cy=370.7 /><circle cx=436.4 cy=404.4 /><circle cx=595.7 cy=331.7 /><circle cx=398.6 cy=262.6 /><circle cx=559.7 cy=215.4 /><circle cx=395.5 cy=223.8 /><circle cx=276.6 cy=246.7 /><circle cx=608.7 cy=142.3 /><circle cx=419.2 cy=342.7 /><circle cx=460.0 cy=317.4 /><circle cx=362.0 cy=119.1 /><circle cx=496.6 cy=269.3 /><circle cx=610.2 cy=133.8 /><circle cx=454.3 cy=131.1 /><circle cx=598.4 cy=163.9 /><circle cx=536.8 cy=118.9 /><circle cx=439.2 cy=370.4 /><circle cx=461.2 cy=212.1 /><circle cx=506.2 cy=223.7 /><circle cx=569.8 cy=259.8 /><circle cx=404.3 cy=290.3 /><circle cx=543.5 cy=306.5 /><circle cx=536.6 cy=160.1 /><circle cx=655.8 cy=392.7 /><circle cx=600.0 cy=192.0 /><circle cx=402.6 cy=237.1 /><circle cx=649.5 cy=380.4 /><circle cx=422.6 cy=376.8 /><circle cx=294.7 cy=215.3 /><circle cx=309.8 cy=231.3 /><circle cx=428.6 cy=138.1 /><circle cx=547.9 cy=191.7 /><circle cx=390.3 cy=217.0 /><circle cx=431.9 cy=225.8 /><circle cx=297.5 cy=153.7 /><circle cx=462.3 cy=322.7 /><circle cx=587.3 cy=266.1 /><circle cx=650.9 cy=171.6 /><circle cx=316.5 cy=319.3 /><circle cx=333.4 cy=201.7 /><circle cx=639.9 cy=130.9 /><circle cx=281.3 cy=405.2 /><circle cx=642.8 cy=132.6 /><circle cx=350.2 cy=321.2 /><circle cx=276.0 cy=383.9 /><circle cx=303.6 cy=320.1 /><circle cx=536.3 cy=161.6 /><circle cx=350.9 cy=306.5 /><circle cx=364.9 cy=171.8 /><circle cx=470.7 cy=346.0 /><circle cx=438.2 cy=329.0 /><circle cx=597.4 cy=292.0 /><circle cx=332.1 cy=305.5 /><circle cx=619.6 cy=339.9 /><circle cx=417.1 cy=138.6 /><circle cx=658.0 cy=214.1 /><circle cx=574.4 cy=193.0 /><circle cx=504.0 cy=261.9 /><circle cx=499.0 cy=347.6 /><circle cx=598.3 cy=263.0 /><circle cx=339.1 cy=261.5 /><circle cx=394.5 cy=156.7 /><circle cx=578.0 cy=319.7 /><circle cx=412.3 cy=219.6 /><circle cx=514.7 cy=288.5 /><circle cx=494.5 cy=389.5 /><circle cx=399.0 cy=349.2 /><circle cx=527.7 cy=389.8 /><circle cx=656.3 cy=384.8 /><circle cx=333.0 cy=191.1 /><circle cx=397.7 cy=342.6 /><circle cx=563.4 cy=147.9 /><circle cx=429.1 cy=192.9 /><circle cx=316.8 cy=216.3 /><circle cx=441.0 cy=407.2 /><circle cx=545.4 cy=195.2 /><circle cx=304.7 cy=213.4 /><circle cx=439.4 cy=192.5 /><circle cx=373.8 cy=386.5 /><circle cx=466.6 cy=206.1 /><circle cx=427.6 cy=368.3 /><circle cx=279.9 cy=413.8 /><circle cx=282.5 cy=140.1 /><circle cx=531.3 cy=275.3 /><circle cx=497.0 cy=255.9 /><circle cx=500.7 cy=393.9 /><circle cx=331.4 cy=233.4 /><circle cx=604.0 cy=308.4 /><circle cx=440.5 cy=380.7 /><circle cx=478.0 cy=195.7 /><circle cx=489.6 cy=326.9 /><circle cx=513.7 cy=370.7 /><circle cx=535.2 cy=169.0 /><circle cx=352.7 cy=120.1 /><circle cx=540.8 cy=270.1 /><circle cx=387.1 cy=359.7 /><circle cx=504.6 cy=144.6 /><circle cx=398.9 cy=228.8 /><circle cx=476.8 cy=224.1 /><circle cx=445.3 cy=184.5 /><circle cx=578.9 cy=174.1 /><circle cx=532.2 cy=299.9 /><circle cx=332.5 cy=257.2 /><circle cx=409.0 cy=127.6 /><circle cx=457.0 cy=380.3 /><circle cx=336.0 cy=201.5 /><circle cx=647.7 cy=316.4 /><circle cx=568.1 cy=228.4 /><circle cx=296.1 cy=293.6 /><circle cx=447.2 cy=123.1 /><circle cx=403.5 cy=227.8 /><circle cx=423.8 cy=252.9 /><circle cx=459.1 cy=256.8 /><circle cx=406.8 cy=385.1 /><circle cx=424.8 cy=401.6 /><circle cx=631.8 cy=405.5 /><circle cx=455.1 cy=238.3 /><circle cx=484.4 cy=251.9 /><circle cx=646.5 cy=133.2 /><circle cx=358.2 cy=124.5 /><circle cx=489.6 cy=222.1 /><circle cx=571.2 cy=210.0 /><circle cx=313.9 cy=258.9 /><circle cx=650.9 cy=410.0 /><circle cx=279.6 cy=366.3 /><circle cx=326.4 cy=287.8 /><circle cx=294.3 cy=414.1 /><circle cx=478.7 cy=233.8 /><circle cx=331.3 cy=248.2 /><circle cx=318.3 cy=375.0 /><circle cx=633.4 cy=320.9 /><circle cx=371.1 cy=345.2 /><circle cx=601.0 cy=409.9 /><circle cx=517.6 cy=299.7 /><circle cx=549.7 cy=402.2 /><circle cx=373.7 cy=324.6 /><circle cx=300.8 cy=241.2 /><circle cx=388.0 cy=351.2 /><circle cx=368.5 cy=331.7 /><circle cx=368.5 cy=203.8 /><circle cx=294.5 cy=192.6 /><circle cx=496.2 cy=144.8 /><circle cx=597.2 cy=344.8 /><circle cx=343.2 cy=229.4 /><circle cx=578.1 cy=341.8 /><circle cx=543.8 cy=192.0 /><circle cx=286.8 cy=313.8 /><circle cx=596.1 cy=120.3 /><circle cx=427.9 cy=158.3 /><circle cx=538.2 cy=174.5 /><circle cx=317.1 cy=364.9 /><circle cx=331.7 cy=131.1 /><circle cx=415.2 cy=137.4 /><circle cx=341.9 cy=387.4 /><circle cx=464.2 cy=325.5 /><circle cx=425.8 cy=250.8 /><circle cx=564.8 cy=269.6 /><circle cx=286.3 cy=370.0 /><circle cx=625.6 cy=183.2 /><circle cx=347.6 cy=336.9 /><circle cx=609.3 cy=136.4 /><circle cx=536.1 cy=131.3 /><circle cx=625.4 cy=256.5 /><circle cx=363.4 cy=163.6 /><circle cx=628.9 cy=272.2 /><circle cx=425.8 cy=322.8 /><circle cx=550.3 cy=384.3 /><circle cx=317.8 cy=204.1 /><circle cx=301.5 cy=326.0 /><circle cx=512.3 cy=330.5 /><circle cx=535.7 cy=347.8 /><circle cx=369.0 cy=304.7 /><circle cx=358.3 cy=394.2 /><circle cx=420.1 cy=368.6 /><circle cx=658.0 cy=199.8 /><circle cx=415.9 cy=201.6 /><circle cx=324.7 cy=302.3 /><circle cx=312.2 cy=188.7 /><circle cx=624.6 cy=148.6 /><circle cx=495.7 cy=232.9 /><circle cx=650.7 cy=356.5 /><circle cx=556.0 cy=404.2 /><circle cx=561.1 cy=407.5 /><circle cx=485.3 cy=345.8 /><circle cx=506.4 cy=139.6 /><circle cx=402.7 cy=334.9 /><circle cx=360.8 cy=184.7 /><circle cx=607.5 cy=216.8 /><circle cx=355.0 cy=295.7 /><circle cx=311.3 cy=121.2 /><circle cx=580.5 cy=395.8 /><circle cx=474.5 cy=321.7 /><circle cx=535.8 cy=351.1 /><circle cx=633.0 cy=124.0 /><circle cx=275.4 cy=165.4 /><circle cx=618.8 cy=317.7 /><circle cx=393.2 cy=342.2 /><circle cx=498.9 cy=258.7 /><circle cx=337.7 cy=219.4 /><circle cx=567.0 cy=151.1 /><circle cx=349.8 cy=345.4 /><circle cx=360.1 cy=411.8 /><circle cx=387.0 cy=186.5 /><circle cx=540.8 cy=134.2 /><circle cx=447.1 cy=389.3 /><circle cx=487.0 cy=357.6 /><circle cx=422.1 cy=146.3 /><circle cx=369.9 cy=280.4 /><circle cx=306.2 cy=338.2 /><circle cx=535.6 cy=235.5 /><circle cx=330.6 cy=338.0 /><circle cx=336.2 cy=213.5 /><circle cx=636.8 cy=220.0 /><circle cx=468.9 cy=217.0 /><circle cx=380.8 cy=254.3 /><circle cx=373.3 cy=204.1 /><circle cx=383.4 cy=360.6 /><circle cx=540.7 cy=274.8 /><circle cx=640.5 cy=249.6 /><circle cx=603.3 cy=321.5 /><circle cx=546.1 cy=255.4 /><circle cx=398.3 cy=140.4 /><circle cx=545.1 cy=302.3 /><circle cx=555.2 cy=135.6 /><circle cx=486.4 cy=330.6 /><circle cx=635.5 cy=413.2 /><circle cx=520.8 cy=282.2 /><circle cx=366.2 cy=133.9 /><circle cx=621.6 cy=411.4 /><circle cx=583.4 cy=350.2 /><circle cx=620.0 cy=171.0 /><circle cx=562.8 cy=407.1 /><circle cx=352.4 cy=135.0 /><circle cx=503.4 cy=165.8 /><circle cx=338.5 cy=416.7 /><circle cx=639.2 cy=241.1 /><circle cx=566.1 cy=158.2 /><circle cx=442.7 cy=191.0 /><circle cx=434.7 cy=369.2 /><circle cx=402.4 cy=400.6 /><circle cx=459.8 cy=288.8 /><circle cx=488.4 cy=194.9 /><circle cx=413.8 cy=252.4 /><circle cx=586.3 cy=301.8 /><circle cx=653.0 cy=405.1 /><circle cx=418.6 cy=323.5 /><circle cx=506.3 cy=336.8 /><circle cx=466.7 cy=302.6 /><circle cx=365.0 cy=189.9 /><circle cx=290.3 cy=167.4 /><circle cx=417.5 cy=140.2 /><circle cx=549.1 cy=368.7 /><circle cx=433.9 cy=138.8 /><circle cx=546.5 cy=311.3 /><circle cx=613.3 cy=198.3 /><circle cx=657.8 cy=178.2 /><circle cx=297.9 cy=178.1 /><circle cx=539.6 cy=300.3 /><circle cx=423.9 cy=391.9 /><circle cx=401.3 cy=150.8 /><circle cx=502.7 cy=368.5 /><circle cx=658.0 cy=323.8 /><circle cx=500.6 cy=192.9 /><circle cx=508.9 cy=294.1 /><circle cx=410.0 cy=231.7 /><circle cx=653.0 cy=304.8 /><circle cx=399.6 cy=237.8 /><circle cx=521.8 cy=265.8 /><circle cx=478.8 cy=174.6 /><circle cx=382.2 cy=372.9 /><circle cx=573.8 cy=140.9 /><circle cx=571.5 cy=232.8 /><circle cx=405.0 cy=277.4 /><circle cx=594.8 cy=259.9 /><circle cx=583.8 cy=220.8 /><circle cx=534.7 cy=248.4 /><circle cx=568.3 cy=220.7 /><circle cx=595.8 cy=128.6 /><circle cx=630.9 cy=319.1 /><circle cx=550.4 cy=357.9 /><circle cx=381.7 cy=156.7 /><circle cx=644.6 cy=341.3 /><circle cx=630.2 cy=303.2 /><circle cx=513.0 cy=241.9 /><circle cx=395.6 cy=254.1 /><circle cx=657.1 cy=359.2 /><circle cx=552.0 cy=173.7 /><circle cx=306.5 cy=214.2 /><circle cx=509.0 cy=388.7 /><circle cx=373.5 cy=355.5 /><circle cx=324.8 cy=396.7 /><circle cx=306.0 cy=135.2 /><circle cx=382.0 cy=379.7 /><circle cx=416.0 cy=396.6 /><circle cx=282.0 cy=283.1 /><circle cx=485.2 cy=348.9 /><circle cx=425.0 cy=287.4 /><circle cx=506.3 cy=368.4 /><circle cx=363.6 cy=299.8 /><circle cx=557.8 cy=237.7 /><circle cx=521.2 cy=224.6 /><circle cx=521.7 cy=218.4 /><circle cx=465.1 cy=160.1 /><circle cx=346.8 cy=383.3 /><circle cx=274.6 cy=248.0 /><circle cx=657.9 cy=412.0 /><circle cx=397.7 cy=124.7 /><circle cx=420.1 cy=152.7 /><circle cx=605.5 cy=232.8 /><circle cx=460.4 cy=318.5 /><circle cx=569.6 cy=179.9 /><circle cx=501.4 cy=354.5 /><circle cx=576.8 cy=165.1 /><circle cx=371.2 cy=340.8 /><circle cx=497.2 cy=371.2 /><circle cx=399.8 cy=209.4 /><circle cx=652.9 cy=315.1 /><circle cx=293.2 cy=198.1 /><circle cx=501.4 cy=318.4 /><circle cx=392.0 cy=181.7 /><circle cx=630.2 cy=206.9 /><circle cx=380.5 cy=117.9 /><circle cx=474.7 cy=242.6 /><circle cx=451.5 cy=333.0 /><circle cx=281.4 cy=304.4 /><circle cx=297.1 cy=304.1 /><circle cx=562.2 cy=316.0 /><circle cx=546.0 cy=273.5 /><circle cx=587.8 cy=364.7 /><circle cx=354.9 cy=251.6 /><circle cx=467.3 cy=154.5 /><circle cx=373.3 cy=405.0 /><circle cx=284.5 cy=294.4 /><circle cx=639.8 cy=361.6 /><circle cx=369.5 cy=298.1 /><circle cx=391.7 cy=295.0 /><circle cx=630.2 cy=216.4 /><circle cx=534.9 cy=379.7 /><circle cx=353.7 cy=317.4 /><circle cx=312.4 cy=268.8 /><circle cx=289.6 cy=352.9 /><circle cx=552.7 cy=358.8 /><circle cx=489.7 cy=230.0 /><circle cx=504.7 cy=223.7 /><circle cx=648.0 cy=330.1 /><circle cx=424.9 cy=339.1 /><circle cx=409.7 cy=165.9 /><circle cx=557.1 cy=147.8 /><circle cx=328.4 cy=163.1 /><circle cx=350.0 cy=320.6 /><circle cx=294.3 cy=265.4 /><circle cx=524.0 cy=398.3 /><circle cx=410.3 cy=165.7 /><circle cx=297.0 cy=251.4 /><circle cx=643.8 cy=179.7 /><circle cx=637.1 cy=230.3 /><circle cx=616.3 cy=338.5 /><circle cx=532.4 cy=360.3 /><circle cx=532.2 cy=268.8 /><circle cx=565.3 cy=399.8 /><circle cx=447.6 cy=212.6 /><circle cx=634.4 cy=168.6 /><circle cx=474.4 cy=341.9 /><circle cx=377.9 cy=399.5 /><circle cx=526.4 cy=230.6 /><circle cx=277.2 cy=264.1 /><circle cx=647.2 cy=147.4 /><circle cx=600.9 cy=343.6 /><circle cx=620.4 cy=334.9 /><circle cx=354.3 cy=238.3 /><circle cx=539.6 cy=123.8 /><circle cx=529.2 cy=303.3 /><circle cx=405.8 cy=219.1 /><circle cx=276.7 cy=391.1 /><circle cx=411.7 cy=378.9 /><circle cx=498.5 cy=135.9 /><circle cx=639.6 cy=198.7 /><circle cx=284.8 cy=200.0 /><circle cx=651.2 cy=333.5 /><circle cx=540.3 cy=327.6 /><circle cx=493.5 cy=221.3 /><circle cx=404.1 cy=154.8 /><circle cx=295.5 cy=253.3 /><circle cx=454.3 cy=386.2 /><circle cx=349.2 cy=292.1 /><circle cx=523.7 cy=395.4 /><circle cx=543.0 cy=122.0 /><circle cx=516.7 cy=218.8 /><circle cx=378.3 cy=300.1 /><circle cx=369.8 cy=209.8 /><circle cx=616.9 cy=406.4 /><circle cx=542.6 cy=324.3 /><circle cx=488.5 cy=230.9 /><circle cx=518.3 cy=180.9 /><circle cx=344.7 cy=367.9 /><circle cx=613.1 cy=297.1 /><circle cx=586.0 cy=190.3 /><circle cx=571.1 cy=298.7 /><circle cx=444.6 cy=264.1 /><circle cx=624.6 cy=131.7 /><circle cx=596.7 cy=286.2 /><circle cx=515.6 cy=332.5 /><circle cx=426.9 cy=242.3 /><circle cx=367.3 cy=211.0 /><circle cx=368.0 cy=204.5 /><circle cx=557.1 cy=210.4 /><circle cx=305.0 cy=323.8 /><circle cx=414.0 cy=260.3 /><circle cx=350.9 cy=133.1 /><circle cx=465.6 cy=273.1 /><circle cx=342.5 cy=131.7 /><circle cx=484.8 cy=261.0 /><circle cx=444.4 cy=235.6 /><circle cx=347.7 cy=350.8 /><circle cx=399.9 cy=157.5 /><circle cx=641.3 cy=415.7 /><circle cx=568.0 cy=298.3 /><circle cx=344.5 cy=374.6 /><circle cx=583.7 cy=255.5 /><circle cx=455.0 cy=232.4 /><circle cx=495.1 cy=143.4 /><circle cx=421.0 cy=245.3 /><circle cx=294.5 cy=204.9 /><circle cx=438.8 cy=300.6 /><circle cx=292.2 cy=230.8 /><circle cx=331.1 cy=386.9 /><circle cx=381.9 cy=277.6 /><circle cx=454.7 cy=387.2 /><circle cx=275.6 cy=190.7 /><circle cx=570.4 cy=304.5 /><circle cx=606.4 cy=190.1 /><circle cx=430.3 cy=353.4 /><circle cx=531.9 cy=269.0 /><circle cx=539.8 cy=366.1 /><circle cx=570.1 cy=366.3 /><circle cx=613.8 cy=292.7 /><circle cx=578.3 cy=241.3 /><circle cx=650.9 cy=320.2 /><circle cx=577.2 cy=169.2 /><circle cx=428.9 cy=244.2 /><circle cx=578.5 cy=248.8 /><circle cx=332.7 cy=403.4 /><circle cx=350.7 cy=332.0 /><circle cx=410.7 cy=396.9 /><circle cx=305.9 cy=193.4 /><circle cx=520.1 cy=180.0 /><circle cx=293.5 cy=345.2 /><circle cx=595.3 cy=209.2 /><circle cx=417.8 cy=326.8 /><circle cx=488.3 cy=251.5 /><circle cx=593.1 cy=288.8 /><circle cx=587.0 cy=149.7 /><circle cx=428.7 cy=121.8 /><circle cx=394.8 cy=248.8 /><circle cx=477.5 cy=265.5 /><circle cx=524.8 cy=131.0 /><circle cx=443.3 cy=396.9 /><circle cx=442.1 cy=117.9 /><circle cx=582.1 cy=380.0 /><circle cx=303.0 cy=148.5 /><circle cx=646.3 cy=123.3 /><circle cx=374.1 cy=134.6 /><circle cx=476.2 cy=240.9 /><circle cx=486.3 cy=305.6 /><circle cx=620.6 cy=333.0 /><circle cx=622.7 cy=373.8 /><circle cx=458.2 cy=185.8 /><circle cx=296.1 cy=222.0 /><circle cx=309.5 cy=336.6 /><circle cx=355.5 cy=393.2 /><circle cx=417.4 cy=363.9 /><circle cx=360.1 cy=145.4 /><circle cx=460.8 cy=194.1 /><circle cx=658.2 cy=161.2 /><circle cx=335.6 cy=282.0 /><circle cx=361.2 cy=297.3 /><circle cx=328.5 cy=342.8 /><circle cx=346.9 cy=413.6 /><circle cx=633.9 cy=388.2 /><circle cx=603.7 cy=343.1 /><circle cx=427.0 cy=388.8 /><circle cx=566.0 cy=302.2 /><circle cx=342.7 cy=206.3 /><circle cx=466.2 cy=149.1 /><circle cx=657.7 cy=166.9 /><circle cx=377.7 cy=236.7 /><circle cx=458.2 cy=352.3 /><circle cx=351.1 cy=254.2 /><circle cx=428.8 cy=170.8 /><circle cx=335.4 cy=157.6 /><circle cx=463.8 cy=274.3 /><circle cx=495.5 cy=120.8 /><circle cx=510.0 cy=237.9 /><circle cx=487.1 cy=212.4 /><circle cx=372.8 cy=415.5 /><circle cx=492.9 cy=334.3 /><circle cx=421.5 cy=169.8 /><circle cx=583.3 cy=363.2 /><circle cx=604.2 cy=240.3 /><circle cx=481.4 cy=142.4 /><circle cx=445.3 cy=258.1 /><circle cx=606.1 cy=361.2 /><circle cx=313.2 cy=225.6 /><circle cx=490.7 cy=117.8 /><circle cx=344.7 cy=373.7 /><circle cx=336.7 cy=393.8 /><circle cx=569.9 cy=381.4 /><circle cx=619.5 cy=359.1 /><circle cx=395.3 cy=198.0 /><circle cx=504.3 cy=370.5 /><circle cx=502.3 cy=312.5 /><circle cx=344.0 cy=356.5 /><circle cx=363.7 cy=332.1 /><circle cx=309.6 cy=264.0 /><circle cx=574.1 cy=408.5 /><circle cx=383.9 cy=188.2 /><circle cx=292.2 cy=367.6 /><circle cx=433.4 cy=224.7 /><circle cx=334.8 cy=210.3 /><circle cx=596.3 cy=279.4 /><circle cx=363.9 cy=405.5 /><circle cx=390.9 cy=169.9 /><circle cx=475.9 cy=410.4 /><circle cx=489.0 cy=352.3 /><circle cx=459.2 cy=219.4 /><circle cx=616.7 cy=249.8 /><circle cx=301.0 cy=412.2 /><circle cx=453.0 cy=324.7 /><circle cx=496.2 cy=372.6 /><circle cx=410.2 cy=217.0 /><circle cx=594.7 cy=233.8 /><circle cx=503.7 cy=345.1 /><circle cx=595.5 cy=306.3 /><circle cx=475.8 cy=281.1 /><circle cx=650.4 cy=271.4 /><circle cx=420.2 cy=313.7 /><circle cx=618.8 cy=218.5 /><circle cx=388.8 cy=358.4 /><circle cx=558.1 cy=118.1 /><circle cx=644.5 cy=271.4 /><circle cx=298.4 cy=119.4 /><circle cx=439.4 cy=221.3 /><circle cx=485.4 cy=339.7 /><circle cx=287.4 cy=241.0 /><circle cx=493.1 cy=251.5 /><circle cx=388.0 cy=279.9 /><circle cx=320.6 cy=191.1 /><circle cx=629.3 cy=266.6 /><circle cx=381.4 cy=317.4 /><circle cx=653.1 cy=317.0 /><circle cx=466.9 cy=187.0 /><circle cx=399.5 cy=168.3 /><circle cx=430.3 cy=353.8 /><circle cx=397.5 cy=174.2 /><circle cx=583.5 cy=350.0 /><circle cx=340.3 cy=156.7 /><circle cx=568.3 cy=143.9 /><circle cx=537.0 cy=405.2 /><circle cx=603.1 cy=405.2 /><circle cx=329.0 cy=390.2 /><circle cx=279.8 cy=265.5 /><circle cx=288.2 cy=247.9 /><circle cx=548.6 cy=339.3 /><circle cx=626.9 cy=201.9 /><circle cx=564.9 cy=387.6 /><circle cx=526.6 cy=127.8 /><circle cx=458.1 cy=295.2 /><circle cx=347.3 cy=370.7 /><circle cx=348.2 cy=241.5 /><circle cx=451.2 cy=133.9 /><circle cx=508.3 cy=204.4 /><circle cx=605.0 cy=362.8 /><circle cx=484.9 cy=228.1 /><circle cx=532.9 cy=319.5 /><circle cx=574.5 cy=402.8 /><circle cx=508.7 cy=213.2 /><circle cx=322.7 cy=370.5 /><circle cx=611.4 cy=390.7 /><circle cx=590.6 cy=319.2 /><circle cx=393.9 cy=159.6 /><circle cx=387.0 cy=287.4 /><circle cx=356.7 cy=384.2 /><circle cx=640.2 cy=278.7 /><circle cx=633.2 cy=122.0 /><circle cx=315.2 cy=244.3 /><circle cx=353.2 cy=291.2 /><circle cx=570.7 cy=153.9 /><circle cx=602.3 cy=409.9 /><circle cx=350.5 cy=140.0 /><circle cx=553.7 cy=318.5 /><circle cx=304.9 cy=127.0 /><circle cx=559.1 cy=324.3 /><circle cx=523.1 cy=187.5 /><circle cx=484.6 cy=406.5 /><circle cx=565.2 cy=412.3 /><circle cx=462.8 cy=306.7 /><circle cx=489.1 cy=195.4 /><circle cx=603.8 cy=372.6 /><circle cx=311.9 cy=304.7 /><circle cx=431.2 cy=240.2 /><circle cx=568.8 cy=384.9 /><circle cx=639.6 cy=145.1 /><circle cx=449.1 cy=373.2 /><circle cx=349.1 cy=257.4 /><circle cx=426.0 cy=390.2 /><circle cx=305.8 cy=285.1 /><circle cx=418.7 cy=344.4 /><circle cx=645.0 cy=225.5 /><circle cx=621.5 cy=355.0 /><circle cx=647.5 cy=302.1 /><circle cx=541.6 cy=329.3 /><circle cx=605.5 cy=242.5 /><circle cx=344.5 cy=141.1 /><circle cx=519.3 cy=247.3 /><circle cx=632.8 cy=282.5 /><circle cx=421.3 cy=270.7 /><circle cx=585.2 cy=383.6 /><circle cx=387.5 cy=174.9 /><circle cx=529.6 cy=379.2 /><circle cx=655.8 cy=367.9 /><circle cx=551.7 cy=163.0 /><circle cx=335.1 cy=142.6 /><circle cx=565.0 cy=201.3 /><circle cx=648.8 cy=226.7 /><circle cx=323.3 cy=305.0 /><circle cx=441.6 cy=152.8 /><circle cx=294.5 cy=213.2 /><circle cx=336.7 cy=382.0 /><circle cx=437.6 cy=414.7 /><circle cx=461.4 cy=178.1 /><circle cx=434.7 cy=160.2 /><circle cx=443.8 cy=356.1 /><circle cx=494.9 cy=345.2 /><circle cx=354.1 cy=157.8 /><circle cx=415.6 cy=128.4 /><circle cx=408.7 cy=291.4 /><circle cx=286.7 cy=135.4 /><circle cx=453.8 cy=242.3 /><circle cx=310.0 cy=382.2 /><circle cx=373.7 cy=125.7 /><circle cx=436.6 cy=301.5 /><circle cx=394.6 cy=139.2 /><circle cx=402.0 cy=383.1 /><circle cx=620.0 cy=259.8 /><circle cx=643.2 cy=381.9 /><circle cx=500.5 cy=356.6 /><circle cx=558.5 cy=329.3 /><circle cx=457.7 cy=282.7 /><circle cx=368.1 cy=338.5 /><circle cx=604.4 cy=270.3 /><circle cx=564.1 cy=319.8 /><circle cx=370.5 cy=195.0 /><circle cx=427.3 cy=155.2 /><circle cx=315.6 cy=257.1 /><circle cx=480.8 cy=121.8 /><circle cx=456.5 cy=290.4 /><circle cx=348.5 cy=366.6 /><circle cx=420.3 cy=250.6 /><circle cx=623.3 cy=158.4 /><circle cx=465.8 cy=248.0 /><circle cx=505.3 cy=158.4 /><circle cx=349.2 cy=125.8 /><circle cx=489.9 cy=141.3 /><circle cx=331.0 cy=298.5 /><circle cx=468.3 cy=237.0 /><circle cx=388.8 cy=211.8 /><circle cx=542.9 cy=399.4 /><circle cx=458.4 cy=318.5 /><circle cx=461.7 cy=215.3 /><circle cx=442.0 cy=368.8 /><circle cx=595.9 cy=267.3 /><circle cx=421.1 cy=209.4 /><circle cx=315.8 cy=378.0 /><circle cx=654.0 cy=221.7 /><circle cx=462.3 cy=388.9 /><circle cx=599.9 cy=355.5 /><circle cx=552.4 cy=278.7 /><circle cx=310.4 cy=302.3 /><circle cx=291.2 cy=313.2 /><circle cx=632.4 cy=258.1 /><circle cx=354.3 cy=407.2 /><circle cx=434.3 cy=314.6 /><circle cx=468.3 cy=314.7 /><circle cx=573.0 cy=405.2 /><circle cx=326.9 cy=207.9 /><circle cx=558.8 cy=263.3 /><circle cx=305.0 cy=205.2 /><circle cx=399.1 cy=395.8 /><circle cx=406.8 cy=403.9 /><circle cx=340.5 cy=166.2 /><circle cx=282.1 cy=276.7 /><circle cx=340.8 cy=263.1 /><circle cx=625.4 cy=202.2 /><circle cx=647.0 cy=136.5 /><circle cx=617.1 cy=239.8 /><circle cx=322.8 cy=170.7 /><circle cx=454.4 cy=386.4 /><circle cx=417.7 cy=200.1 /><circle cx=615.1 cy=248.7 /><circle cx=301.2 cy=401.5 /><circle cx=552.8 cy=289.8 /><circle cx=350.6 cy=389.9 /><circle cx=450.9 cy=400.9 /><circle cx=468.9 cy=254.6 /><circle cx=395.4 cy=308.6 /><circle cx=448.0 cy=155.0 /><circle cx=355.2 cy=341.3 /><circle cx=499.1 cy=201.3 /><circle cx=470.8 cy=247.9 /><circle cx=556.6 cy=387.5 /><circle cx=472.7 cy=186.4 /><circle cx=539.0 cy=309.7 /><circle cx=385.7 cy=358.7 /><circle cx=565.6 cy=375.7 /><circle cx=403.1 cy=352.2 /><circle cx=616.5 cy=222.4 /><circle cx=556.5 cy=230.3 /><circle cx=646.6 cy=360.5 /><circle cx=390.5 cy=288.1 /><circle cx=520.8 cy=351.4 /><circle cx=415.0 cy=393.4 /><circle cx=322.9 cy=361.4 /><circle cx=595.0 cy=234.3 /><circle cx=336.8 cy=269.1 /><circle cx=276.8 cy=324.8 /><circle cx=456.9 cy=210.3 /><circle cx=334.7 cy=197.0 /><circle cx=389.3 cy=417.2 /><circle cx=314.8 cy=272.4 /><circle cx=459.6 cy=381.6 /><circle cx=438.0 cy=279.6 /><circle cx=631.0 cy=144.2 /><circle cx=591.1 cy=223.3 /><circle cx=434.4 cy=193.4 /><circle cx=549.2 cy=189.6 /><circle cx=490.7 cy=241.8 /><circle cx=478.3 cy=264.8 /><circle cx=442.4 cy=263.0 /><circle cx=510.9 cy=200.3 /><circle cx=434.6 cy=190.6 /><circle cx=574.1 cy=181.4 /><circle cx=606.5 cy=285.8 /><circle cx=497.7 cy=213.0 /><circle cx=598.8 cy=413.6 /><circle cx=585.8 cy=236.1 /><circle cx=341.9 cy=345.9 /><circle cx=417.4 cy=411.7 /><circle cx=363.8 cy=204.9 /><circle cx=512.0 cy=157.1 /><circle cx=592.0 cy=390.2 /><circle cx=595.2 cy=147.4 /><circle cx=325.8 cy=306.4 /><circle cx=476.4 cy=144.5 /><circle cx=467.2 cy=232.3 /><circle cx=630.4 cy=303.8 /><circle cx=332.6 cy=404.1 /><circle cx=442.3 cy=404.6 /><circle cx=596.1 cy=239.4 /><circle cx=470.3 cy=386.8 /><circle cx=331.6 cy=385.1 /><circle cx=557.6 cy=268.8 /><circle cx=605.6 cy=351.9 /><circle cx=275.1 cy=263.2 /><circle cx=418.1 cy=412.7 /><circle cx=519.8 cy=377.7 /><circle cx=516.2 cy=345.7 /><circle cx=510.9 cy=389.1 /><circle cx=398.8 cy=199.0 /><circle cx=421.0 cy=260.3 /><circle cx=470.1 cy=167.5 /><circle cx=449.2 cy=184.3 /><circle cx=328.2 cy=259.2 /><circle cx=508.1 cy=231.0 /><circle cx=376.3 cy=354.1 /><circle cx=402.6 cy=397.5 /><circle cx=397.3 cy=122.9 /><circle cx=617.2 cy=380.0 /><circle cx=524.5 cy=284.8 /><circle cx=366.7 cy=271.0 /><circle cx=611.5 cy=404.9 /><circle cx=577.2 cy=168.6 /><circle cx=522.3 cy=133.0 /><circle cx=324.3 cy=174.3 /><circle cx=284.6 cy=386.1 /><circle cx=495.4 cy=279.6 /><circle cx=360.2 cy=360.7 /><circle cx=526.8 cy=204.5 /><circle cx=327.9 cy=325.5 /><circle cx=327.5 cy=205.5 /><circle cx=371.7 cy=146.5 /><circle cx=485.8 cy=406.6 /><circle cx=634.7 cy=142.5 /><circle cx=440.3 cy=149.9 /><circle cx=446.9 cy=329.6 /><circle cx=311.4 cy=268.6 /><circle cx=367.1 cy=163.0 /><circle cx=524.0 cy=183.7 /><circle cx=491.6 cy=212.9 /><circle cx=656.9 cy=321.2 /><circle cx=353.7 cy=141.2 /><circle cx=613.6 cy=349.5 /><circle cx=546.5 cy=403.1 /><circle cx=487.4 cy=188.2 /><circle cx=568.5 cy=319.5 /><circle cx=483.4 cy=389.0 /><circle cx=361.8 cy=207.8 /><circle cx=407.4 cy=360.0 /><circle cx=346.8 cy=364.6 /><circle cx=450.7 cy=372.4 /><circle cx=605.3 cy=273.4 /><circle cx=330.9 cy=279.3 /><circle cx=313.7 cy=153.5 /><circle cx=275.9 cy=333.0 /><circle cx=338.7 cy=403.0 /><circle cx=296.2 cy=159.0 /><circle cx=336.5 cy=355.7 /><circle cx=486.6 cy=156.0 /><circle cx=300.3 cy=355.7 /><circle cx=626.3 cy=355.1 /><circle cx=316.6 cy=136.1 /><circle cx=486.3 cy=241.8 /><circle cx=556.9 cy=401.7 /><circle cx=580.0 cy=402.6 /><circle cx=388.1 cy=231.0 /><circle cx=548.2 cy=185.3 /><circle cx=649.9 cy=382.9 /><circle cx=505.9 cy=394.4 /><circle cx=333.4 cy=196.3 /><circle cx=305.9 cy=396.3 /><circle cx=477.2 cy=264.1 /><circle cx=363.9 cy=180.6 /><circle cx=316.7 cy=353.7 /><circle cx=375.3 cy=379.0 /><circle cx=489.0 cy=274.6 /><circle cx=318.0 cy=244.3 /><circle cx=419.1 cy=241.5 /><circle cx=300.5 cy=244.0 /><circle cx=436.6 cy=417.0 /><circle cx=387.8 cy=137.8 /><circle cx=596.8 cy=285.7 /><circle cx=440.5 cy=279.9 /><circle cx=357.0 cy=385.8 /><circle cx=375.5 cy=351.8 /><circle cx=361.4 cy=318.5 /><circle cx=300.4 cy=274.2 /><circle cx=566.6 cy=258.4 /><circle cx=435.6 cy=290.6 /><circle cx=527.7 cy=299.4 /><circle cx=452.2 cy=217.8 /><circle cx=650.4 cy=190.9 /><circle cx=551.8 cy=149.5 /><circle cx=580.9 cy=377.1 /><circle cx=500.9 cy=185.3 /><circle cx=653.6 cy=395.9 /><circle cx=383.3 cy=408.1 /><circle cx=600.5 cy=220.1 /><circle cx=449.5 cy=415.1 /><circle cx=481.9 cy=398.7 /><circle cx=361.4 cy=281.2 /><circle cx=420.0 cy=323.6 /><circle cx=455.3 cy=227.7 /><circle cx=340.1 cy=278.2 /><circle cx=572.6 cy=343.4 /><circle cx=554.8 cy=417.5 /><circle cx=387.9 cy=192.7 /><circle cx=642.0 cy=350.1 /><circle cx=373.7 cy=134.3 /><circle cx=300.1 cy=172.8 /><circle cx=631.2 cy=211.6 /><circle cx=307.7 cy=242.8 /><circle cx=442.5 cy=342.2 /><circle cx=295.6 cy=278.9 /><circle cx=402.3 cy=400.3 /><circle cx=499.4 cy=367.7 /><circle cx=482.4 cy=251.6 /><circle cx=537.8 cy=184.5 /><circle cx=330.6 cy=248.0 /><circle cx=392.4 cy=338.8 /><circle cx=547.9 cy=293.1 /><circle cx=564.7 cy=257.6 /><circle cx=617.5 cy=363.6 /><circle cx=490.3 cy=217.0 /><circle cx=386.5 cy=222.7 /><circle cx=571.0 cy=348.7 /><circle cx=453.3 cy=352.2 /><circle cx=284.1 cy=171.3 /><circle cx=292.0 cy=412.2 /><circle cx=584.0 cy=377.5 /><circle cx=619.3 cy=130.8 /><circle cx=286.0 cy=260.2 /><circle cx=636.6 cy=192.1 /><circle cx=310.5 cy=217.8 /><circle cx=397.9 cy=164.6 /><circle cx=335.9 cy=285.6 /><circle cx=610.1 cy=309.0 /><circle cx=359.3 cy=253.9 /><circle cx=522.8 cy=292.7 /><circle cx=449.5 cy=328.0 /><circle cx=626.6 cy=239.9 /><circle cx=593.0 cy=296.8 /><circle cx=416.0 cy=303.6 /><circle cx=491.7 cy=393.4 /><circle cx=373.2 cy=208.1 /><circle cx=415.4 cy=374.9 /><circle cx=304.4 cy=232.9 /><circle cx=481.9 cy=296.4 /><circle cx=479.8 cy=129.3 /><circle cx=290.1 cy=242.0 /><circle cx=646.2 cy=300.1 /><circle cx=568.1 cy=268.6 /><circle cx=394.8 cy=365.7 /><circle cx=305.3 cy=392.3 /><circle cx=400.0 cy=370.0 /><circle cx=508.6 cy=400.9 /><circle cx=355.2 cy=193.4 /><circle cx=313.9 cy=269.5 /><circle cx=588.5 cy=206.3 /><circle cx=342.4 cy=135.1 /><circle cx=376.6 cy=243.9 /><circle cx=437.2 cy=164.0 /><circle cx=446.0 cy=186.5 /><circle cx=494.4 cy=394.4 /><circle cx=555.0 cy=199.9 /><circle cx=479.5 cy=229.0 /><circle cx=429.4 cy=140.4 /><circle cx=391.7 cy=202.0 /><circle cx=504.4 cy=315.4 /><circle cx=385.4 cy=384.4 /><circle cx=468.5 cy=123.4 /><circle cx=334.6 cy=123.0 /><circle cx=483.3 cy=262.8 /><circle cx=607.4 cy=121.6 /><circle cx=645.8 cy=380.7 /><circle cx=513.1 cy=308.1 /><circle cx=371.9 cy=339.9 /><circle cx=603.4 cy=339.1 /><circle cx=433.7 cy=371.7 /><circle cx=575.4 cy=354.2 /><circle cx=463.7 cy=285.9 /><circle cx=418.8 cy=211.9 /><circle cx=364.3 cy=150.2 /><circle cx=289.4 cy=341.0 /><circle cx=490.0 cy=369.2 /><circle cx=327.2 cy=265.3 /><circle cx=425.8 cy=181.6 /><circle cx=354.8 cy=129.0 /><circle cx=405.4 cy=212.4 /><circle cx=446.1 cy=143.4 /><circle cx=505.7 cy=273.5 /><circle cx=306.3 cy=250.0 /><circle cx=322.2 cy=232.9 /><circle cx=426.3 cy=140.3 /><circle cx=578.4 cy=263.2 /><circle cx=319.0 cy=123.4 /><circle cx=376.4 cy=198.6 /><circle cx=310.2 cy=344.4 /><circle cx=469.5 cy=409.2 /><circle cx=407.9 cy=156.9 /><circle cx=305.1 cy=193.5 /><circle cx=630.7 cy=132.3 /><circle cx=457.4 cy=245.3 /><circle cx=300.2 cy=400.9 /><circle cx=442.1 cy=224.0 /><circle cx=461.0 cy=176.2 /><circle cx=449.8 cy=210.3 /><circle cx=380.0 cy=347.9 /><circle cx=420.4 cy=371.4 /><circle cx=418.7 cy=261.8 /><circle cx=523.4 cy=221.1 /><circle cx=529.7 cy=396.8 /><circle cx=322.4 cy=168.0 /><circle cx=329.9 cy=130.4 /><circle cx=415.2 cy=346.9 /><circle cx=431.1 cy=239.7 /><circle cx=381.8 cy=378.1 /><circle cx=375.5 cy=349.7 /><circle cx=572.3 cy=409.5 /><circle cx=378.0 cy=223.7 /><circle cx=381.3 cy=258.6 /><circle cx=653.0 cy=214.5 /><circle cx=615.5 cy=273.3 /><circle cx=368.8 cy=178.5 /><circle cx=378.1 cy=392.1 /><circle cx=466.8 cy=363.6 /><circle cx=446.2 cy=289.2 /><circle cx=507.5 cy=286.7 /><circle cx=508.1 cy=326.7 /><circle cx=318.5 cy=198.5 /><circle cx=356.2 cy=400.0 /><circle cx=544.4 cy=199.5 /><circle cx=424.6 cy=200.7 /><circle cx=331.1 cy=167.5 /><circle cx=298.9 cy=404.2 /><circle cx=625.8 cy=377.0 /><circle cx=421.8 cy=396.1 /><circle cx=416.0 cy=250.1 /><circle cx=389.3 cy=172.4 /><circle cx=358.2 cy=208.3 /><circle cx=565.3 cy=276.7 /><circle cx=315.9 cy=336.3 /><circle cx=656.3 cy=157.1 /><circle cx=500.6 cy=346.2 /><circle cx=372.6 cy=263.5 /><circle cx=639.2 cy=339.5 /><circle cx=543.0 cy=281.3 /><circle cx=512.8 cy=147.9 /><circle cx=329.1 cy=410.8 /><circle cx=446.1 cy=416.3 /><circle cx=389.9 cy=211.5 /><circle cx=290.6 cy=327.2 /><circle cx=446.2 cy=361.4 /><circle cx=405.5 cy=225.0 /><circle cx=537.9 cy=202.6 /><circle cx=289.6 cy=315.3 /><circle cx=276.4 cy=134.0 /><circle cx=500.6 cy=354.7 /><circle cx=390.7 cy=132.7 /><circle cx=632.1 cy=334.2 /><circle cx=384.3 cy=259.0 /><circle cx=451.7 cy=310.1 /><circle cx=395.0 cy=233.9 /><circle cx=658.2 cy=154.5 /><circle cx=540.2 cy=247.5 /><circle cx=477.1 cy=386.7 /><circle cx=465.3 cy=171.7 /><circle cx=639.9 cy=177.9 /><circle cx=300.6 cy=154.9 /><circle cx=651.6 cy=143.7 /><circle cx=510.9 cy=266.9 /><circle cx=609.7 cy=296.8 /><circle cx=409.9 cy=178.2 /><circle cx=282.6 cy=189.3 /><circle cx=618.9 cy=410.5 /><circle cx=318.1 cy=384.2 /><circle cx=298.8 cy=310.9 /><circle cx=314.1 cy=356.1 /><circle cx=460.1 cy=401.0 /><circle cx=292.1 cy=197.7 /><circle cx=636.6 cy=250.2 /><circle cx=463.4 cy=363.2 /><circle cx=574.3 cy=215.1 /><circle cx=440.5 cy=254.8 /><circle cx=470.9 cy=367.0 /><circle cx=456.6 cy=237.2 /><circle cx=583.5 cy=309.0 /><circle cx=305.7 cy=288.3 /><circle cx=342.9 cy=217.8 /><circle cx=428.2 cy=174.1 /><circle cx=576.6 cy=148.7 /><circle cx=280.9 cy=229.6 /><circle cx=431.7 cy=119.9 /><circle cx=432.1 cy=161.1 /><circle cx=434.3 cy=255.2 /><circle cx=402.5 cy=117.3 /><circle cx=489.4 cy=262.2 /><circle cx=620.2 cy=178.3 /><circle cx=483.6 cy=146.8 /><circle cx=514.6 cy=407.3 /><circle cx=575.7 cy=302.6 /><circle cx=530.5 cy=294.8 /><circle cx=391.8 cy=186.7 /><circle cx=550.2 cy=358.6 /><circle cx=598.6 cy=170.8 /><circle cx=308.5 cy=251.8 /><circle cx=386.7 cy=312.5 /><circle cx=582.4 cy=357.6 /><circle cx=617.8 cy=132.7 /><circle cx=314.5 cy=333.5 /><circle cx=283.3 cy=236.6 /><circle cx=424.2 cy=247.2 /><circle cx=514.0 cy=158.1 /><circle cx=319.2 cy=317.3 /><circle cx=290.4 cy=207.4 /><circle cx=389.9 cy=365.2 /><circle cx=409.0 cy=170.7 /><circle cx=595.6 cy=297.0 /><circle cx=440.1 cy=379.9 /><circle cx=303.4 cy=406.3 /><circle cx=275.5 cy=331.9 /><circle cx=435.2 cy=227.6 /><circle cx=515.9 cy=168.6 /><circle cx=439.9 cy=269.2 /><circle cx=439.5 cy=122.5 /><circle cx=489.2 cy=120.4 /><circle cx=646.9 cy=272.1 /><circle cx=588.2 cy=283.0 /><circle cx=426.9 cy=325.8 /><circle cx=323.3 cy=411.0 /><circle cx=281.9 cy=347.8 /><circle cx=614.2 cy=311.0 /><circle cx=386.5 cy=267.7 /><circle cx=452.4 cy=157.6 /><circle cx=343.7 cy=219.9 /><circle cx=282.3 cy=323.5 /><circle cx=643.5 cy=412.0 /><circle cx=495.3 cy=168.0 /><circle cx=438.6 cy=192.8 /><circle cx=444.4 cy=309.8 /><circle cx=293.4 cy=342.9 /><circle cx=537.7 cy=403.7 /><circle cx=479.2 cy=284.4 /><circle cx=458.9 cy=411.7 /><circle cx=648.8 cy=390.3 /><circle cx=304.7 cy=200.8 /><circle cx=542.0 cy=177.0 /><circle cx=616.6 cy=355.2 /><circle cx=640.4 cy=394.1 /><circle cx=282.2 cy=291.2 /><circle cx=657.7 cy=325.6 /><circle cx=439.3 cy=266.1 /><circle cx=581.7 cy=413.1 /><circle cx=610.4 cy=247.7 /><circle cx=657.6 cy=347.0 /><circle cx=401.2 cy=325.0 /><circle cx=601.1 cy=126.9 /><circle cx=583.6 cy=323.3 /><circle cx=392.8 cy=237.4 /><circle cx=349.3 cy=214.0 /><circle cx=448.8 cy=187.6 /><circle cx=630.7 cy=132.0 /><circle cx=489.6 cy=147.4 /><circle cx=389.5 cy=328.6 /><circle cx=560.4 cy=275.1 /><circle cx=615.9 cy=252.9 /><circle cx=492.4 cy=215.4 /><circle cx=305.6 cy=259.9 /><circle cx=629.1 cy=203.1 /><circle cx=391.3 cy=252.9 /><circle cx=334.3 cy=221.2 /><circle cx=376.1 cy=203.0 /><circle cx=560.5 cy=407.3 /><circle cx=285.1 cy=135.6 /><circle cx=493.4 cy=202.4 /><circle cx=551.5 cy=324.9 /><circle cx=477.9 cy=264.9 /><circle cx=622.4 cy=307.0 /><circle cx=642.3 cy=307.8 /><circle cx=470.7 cy=140.1 /><circle cx=464.1 cy=339.3 /><circle cx=487.3 cy=127.4 /><circle cx=579.0 cy=320.1 /><circle cx=313.5 cy=238.0 /><circle cx=332.8 cy=199.9 /><circle cx=331.7 cy=396.9 /><circle cx=496.0 cy=190.4 /><circle cx=604.7 cy=236.1 /><circle cx=442.0 cy=169.5 /><circle cx=442.0 cy=181.4 /><circle cx=460.9 cy=169.8 /><circle cx=317.3 cy=300.6 /><circle cx=357.7 cy=415.6 /><circle cx=443.2 cy=313.7 /><circle cx=591.3 cy=322.6 /><circle cx=625.3 cy=279.9 /><circle cx=562.0 cy=153.8 /><circle cx=504.4 cy=124.9 /><circle cx=528.1 cy=219.9 /><circle cx=310.7 cy=200.8 /><circle cx=583.9 cy=212.5 /><circle cx=451.6 cy=131.6 /><circle cx=632.8 cy=305.6 /><circle cx=317.5 cy=392.1 /><circle cx=490.8 cy=391.2 /><circle cx=532.5 cy=174.9 /><circle cx=561.6 cy=411.9 /><circle cx=306.3 cy=327.3 /><circle cx=512.6 cy=305.5 /><circle cx=506.7 cy=376.1 /><circle cx=463.8 cy=300.3 /><circle cx=281.4 cy=382.1 /><circle cx=637.8 cy=122.9 /><circle cx=447.1 cy=137.6 /><circle cx=318.3 cy=353.9 /><circle cx=432.4 cy=371.4 /><circle cx=317.6 cy=228.8 /><circle cx=556.9 cy=142.1 /><circle cx=573.7 cy=176.7 /><circle cx=568.3 cy=286.5 /><circle cx=478.0 cy=309.5 /><circle cx=449.3 cy=360.4 /><circle cx=405.7 cy=144.4 /><circle cx=440.1 cy=210.1 /><circle cx=317.0 cy=204.8 /><circle cx=557.0 cy=142.9 /><circle cx=288.5 cy=317.1 /><circle cx=640.9 cy=347.0 /><circle cx=531.7 cy=219.4 /><circle cx=499.3 cy=208.0 /><circle cx=414.8 cy=134.7 /><circle cx=274.5 cy=246.1 /><circle cx=321.1 cy=389.0 /><circle cx=524.9 cy=345.2 /><circle cx=371.2 cy=273.3 /><circle cx=309.7 cy=131.8 /><circle cx=648.2 cy=415.0 /><circle cx=426.6 cy=223.7 /><circle cx=546.8 cy=175.0 /><circle cx=356.5 cy=224.1 /><circle cx=389.4 cy=227.8 /><circle cx=516.2 cy=397.8 /><circle cx=339.5 cy=235.7 /><circle cx=585.9 cy=269.8 /><circle cx=418.4 cy=173.9 /><circle cx=561.9 cy=227.7 /><circle cx=348.2 cy=382.6 /><circle cx=615.7 cy=416.2 /><circle cx=605.2 cy=284.3 /><circle cx=593.4 cy=214.6 /><circle cx=468.1 cy=310.0 /><circle cx=394.1 cy=277.9 /><circle cx=482.9 cy=133.0 /><circle cx=361.2 cy=385.5 /><circle cx=501.9 cy=333.3 /><circle cx=414.6 cy=269.3 /><circle cx=474.8 cy=342.0 /><circle cx=446.0 cy=236.0 /><circle cx=315.3 cy=243.7 /><circle cx=485.9 cy=333.8 /><circle cx=541.4 cy=233.8 /><circle cx=507.5 cy=157.0 /><circle cx=297.8 cy=145.8 /><circle cx=283.3 cy=318.0 /><circle cx=360.6 cy=368.1 /><circle cx=494.7 cy=289.5 /><circle cx=532.8 cy=383.8 /><circle cx=339.4 cy=324.2 /><circle cx=339.3 cy=194.3 /><circle cx=587.9 cy=209.2 /><circle cx=571.0 cy=303.7 /><circle cx=364.8 cy=356.1 /><circle cx=299.4 cy=145.0 /><circle cx=342.0 cy=280.8 /><circle cx=330.2 cy=200.7 /><circle cx=577.5 cy=334.9 /><circle cx=574.6 cy=338.1 /><circle cx=304.5 cy=206.5 /><circle cx=446.3 cy=347.2 /><circle cx=357.8 cy=403.2 /><circle cx=310.8 cy=355.5 /><circle cx=605.9 cy=285.1 /><circle cx=635.0 cy=246.5 /><circle cx=363.9 cy=138.7 /><circle cx=596.3 cy=119.3 /><circle cx=314.1 cy=212.3 /><circle cx=362.6 cy=276.7 /><circle cx=419.8 cy=135.4 /><circle cx=531.6 cy=374.4 /><circle cx=473.4 cy=295.0 /><circle cx=529.1 cy=390.2 /><circle cx=617.6 cy=165.0 /><circle cx=609.5 cy=196.9 /><circle cx=347.3 cy=176.3 /><circle cx=544.7 cy=381.5 /><circle cx=540.7 cy=410.7 /><circle cx=283.5 cy=281.3 /><circle cx=481.2 cy=235.1 /><circle cx=453.3 cy=240.9 /><circle cx=475.0 cy=305.0 /><circle cx=608.1 cy=224.0 /><circle cx=329.2 cy=415.3 /><circle cx=604.5 cy=168.6 /><circle cx=475.0 cy=277.4 /><circle cx=337.3 cy=266.6 /><circle cx=415.5 cy=212.6 /><circle cx=351.6 cy=178.3 /><circle cx=299.5 cy=373.5 /><circle cx=335.1 cy=297.4 /><circle cx=442.7 cy=184.6 /><circle cx=640.6 cy=264.9 /><circle cx=388.1 cy=289.8 /><circle cx=432.3 cy=238.9 /><circle cx=449.7 cy=175.6 /><circle cx=551.8 cy=307.0 /><circle cx=301.6 cy=266.4 /><circle cx=505.6 cy=208.9 /><circle cx=284.0 cy=180.7 /><circle cx=618.3 cy=345.4 /><circle cx=642.9 cy=132.4 /><circle cx=602.9 cy=117.3 /><circle cx=472.3 cy=222.0 /><circle cx=420.7 cy=191.7 /><circle cx=512.0 cy=296.6 /><circle cx=398.4 cy=211.1 /><circle cx=613.5 cy=355.1 /><circle cx=623.3 cy=226.2 /><circle cx=539.4 cy=224.8 /><circle cx=406.8 cy=187.7 /><circle cx=430.8 cy=269.3 /><circle cx=657.4 cy=378.2 /><circle cx=570.8 cy=187.5 /><circle cx=656.3 cy=345.2 /><circle cx=490.7 cy=359.8 /><circle cx=364.7 cy=154.8 /><circle cx=370.0 cy=409.1 /><circle cx=403.4 cy=184.6 /><circle cx=403.9 cy=380.7 /><circle cx=406.8 cy=413.8 /><circle cx=617.6 cy=361.3 /><circle cx=356.6 cy=156.0 /><circle cx=429.9 cy=262.2 /><circle cx=458.2 cy=386.1 /><circle cx=566.4 cy=399.5 /><circle cx=347.2 cy=249.9 /><circle cx=319.7 cy=270.7 /><circle cx=383.8 cy=213.5 /><circle cx=278.2 cy=414.7 /><circle cx=411.1 cy=377.9 /><circle cx=642.0 cy=265.5 /><circle cx=283.0 cy=232.7 /><circle cx=635.2 cy=339.3 /><circle cx=632.5 cy=301.1 /><circle cx=310.3 cy=206.4 /><circle cx=426.5 cy=396.3 /><circle cx=618.8 cy=335.4 /><circle cx=459.6 cy=235.9 /><circle cx=588.1 cy=285.0 /><circle cx=391.1 cy=408.2 /><circle cx=628.5 cy=176.2 /><circle cx=348.2 cy=209.6 /><circle cx=503.9 cy=215.9 /><circle cx=457.2 cy=415.8 /><circle cx=502.7 cy=351.9 /><circle cx=570.0 cy=368.2 /><circle cx=550.8 cy=149.0 /><circle cx=558.0 cy=297.2 /><circle cx=501.9 cy=183.5 /><circle cx=321.5 cy=227.6 /><circle cx=506.9 cy=227.6 /><circle cx=600.9 cy=360.4 /><circle cx=426.2 cy=357.9 /><circle cx=277.3 cy=211.5 /><circle cx=284.4 cy=412.0 /><circle cx=556.9 cy=267.4 /><circle cx=566.0 cy=232.9 /><circle cx=379.8 cy=205.3 /><circle cx=340.9 cy=173.0 /><circle cx=602.8 cy=335.3 /><circle cx=607.4 cy=267.0 /><circle cx=473.2 cy=149.5 /><circle cx=585.9 cy=305.0 /><circle cx=486.1 cy=265.5 /><circle cx=487.4 cy=390.8 /><circle cx=331.8 cy=412.5 /><circle cx=322.3 cy=410.6 /><circle cx=618.8 cy=217.2 /><circle cx=500.8 cy=336.8 /><circle cx=584.7 cy=183.9 /><circle cx=287.9 cy=146.5 /><circle cx=444.6 cy=278.7 /><circle cx=330.0 cy=198.0 /><circle cx=288.4 cy=211.2 /><circle cx=645.5 cy=241.4 /><circle cx=276.6 cy=230.1 /><circle cx=527.4 cy=306.4 /><circle cx=390.8 cy=358.1 /><circle cx=287.6 cy=312.3 /><circle cx=288.5 cy=333.2 /><circle cx=345.1 cy=255.4 /><circle cx=629.8 cy=204.3 /><circle cx=496.9 cy=185.5 /><circle cx=305.9 cy=209.1 /><circle cx=577.4 cy=399.5 /><circle cx=348.1 cy=310.4 /><circle cx=634.5 cy=221.7 /><circle cx=353.7 cy=264.2 /><circle cx=327.4 cy=173.2 /><circle cx=411.7 cy=383.4 /><circle cx=351.5 cy=401.4 /><circle cx=565.0 cy=172.4 /><circle cx=314.4 cy=259.5 /><circle cx=296.3 cy=323.4 /><circle cx=444.5 cy=203.5 /><circle cx=564.6 cy=335.4 /><circle cx=432.0 cy=165.8 /><circle cx=398.7 cy=193.2 /><circle cx=434.9 cy=399.8 /><circle cx=586.4 cy=240.5 /><circle cx=612.3 cy=206.6 /><circle cx=585.4 cy=351.7 /><circle cx=639.4 cy=191.7 /><circle cx=584.3 cy=243.3 /><circle cx=583.5 cy=158.2 /><circle cx=405.8 cy=286.8 /><circle cx=615.8 cy=370.9 /><circle cx=561.7 cy=245.9 /><circle cx=513.7 cy=269.6 /><circle cx=651.1 cy=119.6 /><circle cx=482.7 cy=400.4 /><circle cx=629.0 cy=321.2 /><circle cx=550.8 cy=396.2 /><circle cx=372.8 cy=329.8 /><circle cx=466.9 cy=167.6 /><circle cx=616.7 cy=152.6 /><circle cx=597.3 cy=325.9 /><circle cx=390.8 cy=414.3 /><circle cx=301.6 cy=238.3 /><circle cx=411.2 cy=398.7 /><circle cx=333.8 cy=356.3 /><circle cx=357.0 cy=297.7 /><circle cx=413.1 cy=317.7 /><circle cx=426.6 cy=165.0 /><circle cx=362.1 cy=290.3 /><circle cx=407.3 cy=336.5 /><circle cx=500.4 cy=367.5 /><circle cx=491.1 cy=416.1 /><circle cx=519.5 cy=368.3 /><circle cx=407.0 cy=132.2 /><circle cx=436.1 cy=132.9 /><circle cx=595.7 cy=304.9 /><circle cx=504.7 cy=358.7 /><circle cx=376.6 cy=125.7 /><circle cx=568.6 cy=381.9 /><circle cx=407.9 cy=328.8 /><circle cx=386.1 cy=211.5 /><circle cx=435.6 cy=387.0 /><circle cx=493.0 cy=180.1 /><circle cx=544.6 cy=292.3 /><circle cx=386.8 cy=166.8 /><circle cx=385.6 cy=209.2 /><circle cx=597.5 cy=391.9 /><circle cx=277.3 cy=319.2 /><circle cx=531.5 cy=163.4 /><circle cx=575.2 cy=358.3 /><circle cx=389.0 cy=190.6 /><circle cx=289.9 cy=274.3 /><circle cx=447.9 cy=263.9 /><circle cx=559.8 cy=375.3 /><circle cx=649.6 cy=230.6 /><circle cx=518.9 cy=341.7 /><circle cx=454.6 cy=254.5 /><circle cx=607.4 cy=122.5 /><circle cx=310.5 cy=336.6 /><circle cx=570.9 cy=362.6 /><circle cx=546.3 cy=241.0 /><circle cx=585.1 cy=327.6 /><circle cx=527.0 cy=125.3 /><circle cx=548.9 cy=167.1 /><circle cx=543.3 cy=135.2 /><circle cx=274.4 cy=220.7 /><circle cx=480.7 cy=215.5 /><circle cx=311.3 cy=226.5 /><circle cx=280.4 cy=358.5 /><circle cx=549.3 cy=275.3 /><circle cx=536.2 cy=194.6 /><circle cx=447.8 cy=345.4 /><circle cx=293.1 cy=167.3 /><circle cx=653.6 cy=201.4 /><circle cx=303.8 cy=292.1 /><circle cx=299.0 cy=295.7 /><circle cx=453.8 cy=132.5 /><circle cx=547.3 cy=407.3 /><circle cx=404.1 cy=350.6 /><circle cx=523.2 cy=399.5 /><circle cx=358.8 cy=329.7 /><circle cx=454.2 cy=218.6 /><circle cx=452.7 cy=247.5 /><circle cx=528.3 cy=384.6 /><circle cx=467.0 cy=288.7 /><circle cx=520.1 cy=197.1 /><circle cx=611.9 cy=204.4 /><circle cx=602.1 cy=323.7 /><circle cx=303.5 cy=322.4 /><circle cx=352.3 cy=171.9 /><circle cx=417.6 cy=235.6 /><circle cx=352.6 cy=233.7 /><circle cx=486.5 cy=161.5 /><circle cx=548.1 cy=411.0 /><circle cx=545.8 cy=310.5 /><circle cx=390.8 cy=258.0 /><circle cx=419.8 cy=208.3 /><circle cx=406.4 cy=171.7 /><circle cx=309.3 cy=330.3 /><circle cx=628.2 cy=150.3 /><circle cx=286.5 cy=239.8 /><circle cx=361.2 cy=243.2 /><circle cx=348.5 cy=402.6 /><circle cx=443.7 cy=404.5 /><circle cx=595.8 cy=332.2 /><circle cx=399.7 cy=307.3 /><circle cx=436.2 cy=383.2 /><circle cx=546.1 cy=303.6 /><circle cx=530.8 cy=321.4 /><circle cx=427.2 cy=415.8 /><circle cx=616.1 cy=214.8 /><circle cx=529.6 cy=134.6 /><circle cx=283.2 cy=315.9 /><circle cx=536.2 cy=288.6 /><circle cx=501.0 cy=188.9 /><circle cx=420.1 cy=173.3 /><circle cx=510.0 cy=416.8 /><circle cx=647.9 cy=286.1 /><circle cx=331.3 cy=269.2 /><circle cx=522.5 cy=312.1 /><circle cx=314.7 cy=262.2 /><circle cx=476.5 cy=214.8 /><circle cx=591.0 cy=358.4 /><circle cx=393.2 cy=354.8 /><circle cx=560.9 cy=288.1 /><circle cx=278.4 cy=156.9 /><circle cx=403.1 cy=251.7 /><circle cx=359.6 cy=320.6 /><circle cx=648.9 cy=127.9 /><circle cx=348.6 cy=320.4 /><circle cx=433.1 cy=342.1 /><circle cx=332.8 cy=165.7 /><circle cx=386.7 cy=416.5 /><circle cx=334.9 cy=236.9 /><circle cx=418.8 cy=231.0 /><circle cx=588.5 cy=386.3 /><circle cx=653.2 cy=246.9 /><circle cx=399.1 cy=306.7 /><circle cx=486.3 cy=196.2 /><circle cx=590.0 cy=157.8 /><circle cx=424.9 cy=140.7 /><circle cx=466.0 cy=130.5 /><circle cx=389.9 cy=137.2 /><circle cx=552.9 cy=157.0 /><circle cx=504.6 cy=253.4 /><circle cx=447.9 cy=187.4 /><circle cx=573.4 cy=291.2 /><circle cx=635.8 cy=324.5 /><circle cx=328.0 cy=411.6 /><circle cx=452.6 cy=279.6 /><circle cx=471.3 cy=117.5 /><circle cx=398.3 cy=227.1 /><circle cx=566.7 cy=192.8 /><circle cx=492.6 cy=282.3 /><circle cx=584.8 cy=235.5 /><circle cx=594.6 cy=127.7 /><circle cx=475.0 cy=138.5 /><circle cx=633.7 cy=311.4 /><circle cx=591.9 cy=261.5 /><circle cx=594.7 cy=242.9 /><circle cx=397.5 cy=410.6 /><circle cx=602.9 cy=382.6 /><circle cx=595.8 cy=259.4 /><circle cx=446.9 cy=313.2 /><circle cx=317.6 cy=187.7 /><circle cx=278.9 cy=409.7 /><circle cx=651.0 cy=168.8 /><circle cx=556.8 cy=152.6 /><circle cx=570.6 cy=117.6 /><circle cx=641.0 cy=388.5 /><circle cx=378.1 cy=274.2 /><circle cx=613.8 cy=329.4 /><circle cx=430.8 cy=267.2 /><circle cx=618.8 cy=221.5 /><circle cx=341.0 cy=138.0 /><circle cx=623.0 cy=344.1 /><circle cx=534.8 cy=154.8 /><circle cx=520.9 cy=294.3 /><circle cx=607.2 cy=385.5 /><circle cx=631.7 cy=301.4 /><circle cx=287.7 cy=415.8 /><circle cx=444.7 cy=306.3 /><circle cx=518.1 cy=254.8 /><circle cx=655.5 cy=364.5 /><circle cx=610.9 cy=269.2 /><circle cx=327.5 cy=395.8 /><circle cx=486.1 cy=295.5 /><circle cx=388.4 cy=228.5 /><circle cx=522.2 cy=345.8 /><circle cx=451.2 cy=171.6 /><circle cx=487.5 cy=365.7 /><circle cx=387.4 cy=271.5 /><circle cx=302.3 cy=333.6 /><circle cx=413.7 cy=302.1 /><circle cx=489.7 cy=389.0 /><circle cx=345.2 cy=243.0 /><circle cx=444.6 cy=392.3 /><circle cx=582.5 cy=288.8 /><circle cx=311.5 cy=242.9 /><circle cx=604.0 cy=188.3 /><circle cx=576.9 cy=331.8 /><circle cx=431.0 cy=410.9 /><circle cx=587.2 cy=382.8 /><circle cx=391.4 cy=340.8 /><circle cx=364.9 cy=408.3 /><circle cx=432.8 cy=376.3 /><circle cx=582.9 cy=229.3 /><circle cx=421.8 cy=237.7 /><circle cx=341.6 cy=311.0 /><circle cx=361.3 cy=276.5 /><circle cx=603.8 cy=323.2 /><circle cx=389.2 cy=155.6 /><circle cx=334.7 cy=278.6 /><circle cx=611.6 cy=127.2 /><circle cx=519.4 cy=247.1 /><circle cx=543.7 cy=213.3 /><circle cx=391.7 cy=162.7 /><circle cx=461.9 cy=211.9 /><circle cx=569.4 cy=128.2 /><circle cx=501.6 cy=150.3 /><circle cx=336.1 cy=131.4 /><circle cx=647.4 cy=389.6 /><circle cx=414.1 cy=410.5 /><circle cx=310.2 cy=306.1 /><circle cx=395.6 cy=300.9 /><circle cx=617.6 cy=221.6 /><circle cx=457.8 cy=366.6 /><circle cx=299.8 cy=261.2 /><circle cx=400.7 cy=300.1 /><circle cx=431.4 cy=281.5 /><circle cx=570.7 cy=161.9 /><circle cx=389.2 cy=161.9 /><circle cx=643.2 cy=394.1 /><circle cx=292.5 cy=342.9 /><circle cx=434.5 cy=143.7 /><circle cx=367.1 cy=252.4 /><circle cx=538.6 cy=237.9 /><circle cx=404.8 cy=202.5 /><circle cx=311.1 cy=245.5 /><circle cx=542.7 cy=273.3 /><circle cx=489.2 cy=247.9 /><circle cx=616.9 cy=350.1 /><circle cx=594.0 cy=245.7 /><circle cx=341.2 cy=333.6 /><circle cx=455.9 cy=313.9 /><circle cx=440.1 cy=241.5 /><circle cx=423.8 cy=284.5 /><circle cx=562.3 cy=246.9 /><circle cx=436.0 cy=191.6 /><circle cx=525.0 cy=356.2 /><circle cx=626.8 cy=256.4 /><circle cx=322.8 cy=416.4 /><circle cx=414.6 cy=246.3 /><circle cx=296.8 cy=319.3 /><circle cx=460.1 cy=195.6 /><circle cx=426.2 cy=121.0 /><circle cx=572.2 cy=351.8 /><circle cx=525.0 cy=290.4 /><circle cx=562.8 cy=177.9 /><circle cx=438.0 cy=327.2 /><circle cx=294.0 cy=172.1 /><circle cx=593.9 cy=254.0 /><circle cx=452.7 cy=358.1 /><circle cx=451.1 cy=202.8 /><circle cx=398.1 cy=311.3 /><circle cx=462.5 cy=138.2 /><circle cx=506.7 cy=371.5 /><circle cx=501.6 cy=188.3 /><circle cx=464.0 cy=154.5 /><circle cx=627.1 cy=279.1 /><circle cx=618.0 cy=276.6 /><circle cx=438.4 cy=307.1 /><circle cx=529.1 cy=142.3 /><circle cx=558.7 cy=285.0 /><circle cx=290.5 cy=336.7 /><circle cx=339.5 cy=344.7 /><circle cx=558.0 cy=396.4 /><circle cx=594.3 cy=379.3 /><circle cx=589.4 cy=138.9 /><circle cx=287.8 cy=153.9 /><circle cx=534.5 cy=247.6 /><circle cx=539.2 cy=181.5 /><circle cx=325.8 cy=157.5 /><circle cx=316.7 cy=226.7 /><circle cx=346.7 cy=120.7 /><circle cx=631.0 cy=373.9 /><circle cx=619.1 cy=347.6 /><circle cx=619.9 cy=169.2 /><circle cx=303.7 cy=266.5 /><circle cx=479.4 cy=388.6 /><circle cx=451.8 cy=398.7 /><circle cx=512.1 cy=189.3 /><circle cx=454.1 cy=343.9 /><circle cx=289.4 cy=410.1 /><circle cx=438.7 cy=219.4 /><circle cx=537.3 cy=180.1 /><circle cx=469.1 cy=381.0 /><circle cx=415.4 cy=214.9 /><circle cx=502.0 cy=297.3 /><circle cx=549.0 cy=256.1 /><circle cx=277.6 cy=309.4 /><circle cx=332.8 cy=398.3 /><circle cx=365.3 cy=180.8 /><circle cx=467.4 cy=286.7 /><circle cx=280.3 cy=384.9 /><circle cx=401.4 cy=222.2 /><circle cx=612.9 cy=372.7 /><circle cx=516.7 cy=353.1 /><circle cx=572.9 cy=235.8 /><circle cx=343.2 cy=384.3 /><circle cx=323.7 cy=269.8 /><circle cx=397.8 cy=232.1 /><circle cx=378.3 cy=243.1 /><circle cx=522.9 cy=119.2 /><circle cx=307.8 cy=286.2 /><circle cx=555.8 cy=180.8 /><circle cx=402.1 cy=281.8 /><circle cx=486.2 cy=236.7 /><circle cx=287.6 cy=206.3 /><circle cx=451.3 cy=167.7 /><circle cx=373.0 cy=263.8 /><circle cx=529.1 cy=338.1 /><circle cx=432.2 cy=340.8 /><circle cx=631.1 cy=403.2 /><circle cx=409.0 cy=413.8 /><circle cx=641.8 cy=284.7 /><circle cx=575.1 cy=219.3 /><circle cx=364.5 cy=280.9 /><circle cx=408.9 cy=356.9 /><circle cx=551.5 cy=163.3 /><circle cx=471.1 cy=317.5 /><circle cx=351.5 cy=200.1 /><circle cx=356.4 cy=240.2 /><circle cx=316.3 cy=151.5 /><circle cx=578.1 cy=348.3 /><circle cx=635.1 cy=281.4 /><circle cx=580.9 cy=195.3 /><circle cx=438.1 cy=288.1 /><circle cx=334.0 cy=350.6 /><circle cx=476.0 cy=184.6 /><circle cx=597.5 cy=257.2 /><circle cx=602.1 cy=127.9 /><circle cx=453.0 cy=240.6 /><circle cx=292.1 cy=324.7 /><circle cx=536.7 cy=349.5 /><circle cx=584.1 cy=188.3 /><circle cx=625.5 cy=135.4 /><circle cx=459.5 cy=292.1 /><circle cx=367.5 cy=203.3 /><circle cx=339.2 cy=344.3 /><circle cx=461.4 cy=224.6 /><circle cx=530.3 cy=246.3 /><circle cx=323.8 cy=132.0 /><circle cx=289.8 cy=342.8 /><circle cx=284.5 cy=368.8 /><circle cx=342.3 cy=375.9 /><circle cx=473.7 cy=173.4 /><circle cx=620.7 cy=226.0 /><circle cx=409.5 cy=261.0 /><circle cx=429.9 cy=284.9 /><circle cx=588.9 cy=235.7 /><circle cx=474.7 cy=246.1 /><circle cx=654.6 cy=415.3 /><circle cx=588.6 cy=352.7 /><circle cx=492.1 cy=333.5 /><circle cx=591.4 cy=181.9 /><circle cx=359.7 cy=296.1 /><circle cx=595.4 cy=330.8 /><circle cx=335.8 cy=299.5 /><circle cx=585.7 cy=414.6 /><circle cx=573.2 cy=292.1 /><circle cx=515.3 cy=228.7 /><circle cx=280.7 cy=294.6 /><circle cx=584.6 cy=281.9 /><circle cx=552.1 cy=219.6 /><circle cx=542.4 cy=164.9 /><circle cx=592.5 cy=388.3 /><circle cx=454.7 cy=349.2 /><circle cx=605.7 cy=405.4 /><circle cx=322.3 cy=336.8 /><circle cx=351.1 cy=379.5 /><circle cx=514.5 cy=325.1 /><circle cx=519.3 cy=214.1 /><circle cx=586.9 cy=376.9 /><circle cx=471.6 cy=358.1 /><circle cx=396.6 cy=383.5 /><circle cx=488.5 cy=364.5 /><circle cx=383.0 cy=192.4 /><circle cx=520.9 cy=405.2 /><circle cx=340.2 cy=305.2 /><circle cx=627.0 cy=130.6 /><circle cx=425.4 cy=372.1 /><circle cx=322.7 cy=341.8 /><circle cx=331.5 cy=382.4 /><circle cx=605.6 cy=341.6 /><circle cx=348.5 cy=131.8 /><circle cx=293.3 cy=212.1 /><circle cx=326.8 cy=309.9 /><circle cx=553.2 cy=372.5 /><circle cx=456.9 cy=215.6 /><circle cx=485.0 cy=225.8 /><circle cx=411.6 cy=390.2 /><circle cx=542.0 cy=197.0 /><circle cx=617.5 cy=305.0 /><circle cx=388.5 cy=324.6 /><circle cx=535.7 cy=232.2 /><circle cx=393.6 cy=349.6 /><circle cx=521.0 cy=365.9 /><circle cx=582.5 cy=144.1 /><circle cx=336.7 cy=298.7 /><circle cx=569.3 cy=377.4 /><circle cx=563.7 cy=198.0 /><circle cx=358.7 cy=291.6 /><circle cx=498.7 cy=318.1 /><circle cx=455.8 cy=291.3 /><circle cx=614.1 cy=258.6 /><circle cx=649.1 cy=414.1 /><circle cx=578.1 cy=163.8 /><circle cx=416.0 cy=306.6 /><circle cx=425.8 cy=303.3 /><circle cx=344.7 cy=348.5 /><circle cx=647.3 cy=359.4 /><circle cx=300.8 cy=147.2 /><circle cx=592.1 cy=154.6 /><circle cx=392.7 cy=133.4 /><circle cx=608.5 cy=391.4 /><circle cx=482.2 cy=392.7 /><circle cx=435.2 cy=174.4 /><circle cx=466.2 cy=197.4 /><circle cx=459.6 cy=225.7 /><circle cx=548.4 cy=234.1 /><circle cx=597.1 cy=215.3 /><circle cx=308.9 cy=235.0 /><circle cx=574.1 cy=143.0 /><circle cx=593.0 cy=240.2 /><circle cx=479.1 cy=279.9 /><circle cx=503.6 cy=338.0 /><circle cx=595.5 cy=156.9 /><circle cx=488.7 cy=385.6 /><circle cx=478.0 cy=382.6 /><circle cx=489.1 cy=256.9 /><circle cx=343.6 cy=123.8 /><circle cx=311.3 cy=293.7 /><circle cx=640.3 cy=328.6 /><circle cx=594.9 cy=227.5 /><circle cx=523.5 cy=184.9 /><circle cx=306.0 cy=255.6 /><circle cx=614.9 cy=384.5 /><circle cx=462.4 cy=414.8 /><circle cx=309.5 cy=118.8 /><circle cx=481.3 cy=286.1 /><circle cx=279.0 cy=404.5 /><circle cx=603.3 cy=341.5 /><circle cx=345.3 cy=311.8 /><circle cx=537.6 cy=309.3 /><circle cx=361.6 cy=176.7 /><circle cx=368.7 cy=142.3 /><circle cx=429.3 cy=274.2 /><circle cx=331.8 cy=344.4 /><circle cx=541.8 cy=274.4 /><circle cx=377.7 cy=154.4 /><circle cx=376.9 cy=152.6 /><circle cx=617.4 cy=314.5 /><circle cx=280.7 cy=365.9 /><circle cx=418.5 cy=232.1 /><circle cx=319.2 cy=124.2 /><circle cx=611.4 cy=156.9 /><circle cx=277.9 cy=401.0 /><circle cx=449.9 cy=388.7 /><circle cx=602.6 cy=184.2 /><circle cx=446.8 cy=148.3 /><circle cx=511.9 cy=392.4 /><circle cx=552.3 cy=316.7 /><circle cx=358.8 cy=395.1 /><circle cx=420.9 cy=373.5 /><circle cx=454.3 cy=158.7 /><circle cx=330.4 cy=255.5 /><circle cx=410.7 cy=205.6 /><circle cx=311.0 cy=299.4 /><circle cx=508.8 cy=363.3 /><circle cx=626.8 cy=193.9 /><circle cx=416.6 cy=163.7 /><circle cx=481.5 cy=118.7 /><circle cx=620.3 cy=209.6 /><circle cx=602.4 cy=247.1 /><circle cx=352.3 cy=228.5 /><circle cx=536.5 cy=144.5 /><circle cx=552.9 cy=324.4 /><circle cx=591.2 cy=305.9 /><circle cx=357.4 cy=138.2 /><circle cx=291.8 cy=268.6 /><circle cx=396.4 cy=264.5 /><circle cx=332.6 cy=200.8 /><circle cx=570.2 cy=414.1 /><circle cx=583.0 cy=294.4 /><circle cx=356.6 cy=301.7 /><circle cx=438.6 cy=160.3 /><circle cx=309.5 cy=336.0 /><circle cx=299.9 cy=166.1 /><circle cx=463.5 cy=248.1 /><circle cx=604.1 cy=336.1 /><circle cx=330.9 cy=273.3 /><circle cx=467.3 cy=353.7 /><circle cx=495.9 cy=124.9 /><circle cx=619.7 cy=170.1 /><circle cx=621.0 cy=234.9 /><circle cx=594.4 cy=347.0 /><circle cx=403.1 cy=288.9 /><circle cx=385.1 cy=344.4 /><circle cx=358.6 cy=328.0 /><circle cx=463.5 cy=388.7 /><circle cx=601.7 cy=367.9 /><circle cx=572.2 cy=159.5 /><circle cx=314.3 cy=298.2 /><circle cx=469.8 cy=183.1 /><circle cx=355.2 cy=370.4 /><circle cx=646.0 cy=247.3 /><circle cx=575.9 cy=118.5 /><circle cx=306.8 cy=309.7 /><circle cx=310.6 cy=270.2 /><circle cx=356.4 cy=290.2 /><circle cx=452.0 cy=249.6 /><circle cx=298.0 cy=239.0 /><circle cx=566.4 cy=390.3 /><circle cx=473.2 cy=240.3 /><circle cx=537.9 cy=232.9 /><circle cx=300.8 cy=361.2 /><circle cx=604.6 cy=398.8 /><circle cx=360.5 cy=171.1 /><circle cx=650.8 cy=202.2 /><circle cx=425.1 cy=193.6 /><circle cx=480.7 cy=265.9 /><circle cx=293.1 cy=267.3 /><circle cx=417.0 cy=391.5 /><circle cx=344.6 cy=378.3 /><circle cx=374.1 cy=139.7 /><circle cx=511.6 cy=241.8 /><circle cx=405.3 cy=258.4 /><circle cx=613.3 cy=294.4 /><circle cx=532.4 cy=414.4 /><circle cx=424.9 cy=197.6 /><circle cx=323.4 cy=294.6 /><circle cx=280.0 cy=142.9 /><circle cx=426.7 cy=342.2 /><circle cx=361.2 cy=124.7 /><circle cx=296.6 cy=188.5 /><circle cx=369.8 cy=224.3 /><circle cx=568.1 cy=301.4 /><circle cx=437.9 cy=180.5 /><circle cx=628.7 cy=220.3 /><circle cx=346.4 cy=329.6 /><circle cx=317.9 cy=407.8 /><circle cx=491.6 cy=382.5 /><circle cx=410.5 cy=371.7 /><circle cx=379.5 cy=189.4 /><circle cx=494.9 cy=229.4 /><circle cx=318.1 cy=308.4 /><circle cx=593.7 cy=302.5 /><circle cx=595.9 cy=403.5 /><circle cx=413.2 cy=125.3 /><circle cx=390.1 cy=310.5 /><circle cx=503.7 cy=392.1 /><circle cx=543.5 cy=409.5 /><circle cx=410.6 cy=414.7 /><circle cx=395.6 cy=261.3 /><circle cx=373.7 cy=294.3 /><circle cx=598.7 cy=358.1 /><circle cx=550.0 cy=209.3 /><circle cx=276.6 cy=353.0 /><circle cx=449.8 cy=314.5 /><circle cx=657.1 cy=327.7 /><circle cx=565.9 cy=397.8 /><circle cx=628.6 cy=159.2 /><circle cx=641.6 cy=284.0 /><circle cx=293.3 cy=222.5 /><circle cx=459.7 cy=328.8 /><circle cx=595.4 cy=345.2 /><circle cx=593.4 cy=177.6 /><circle cx=606.9 cy=399.2 /><circle cx=364.7 cy=170.0 /><circle cx=301.1 cy=236.5 /><circle cx=601.0 cy=361.2 /><circle cx=616.8 cy=252.5 /><circle cx=319.5 cy=295.7 /><circle cx=509.8 cy=362.9 /><circle cx=367.0 cy=210.7 /><circle cx=589.6 cy=135.6 /><circle cx=293.1 cy=345.4 /><circle cx=294.3 cy=143.8 /><circle cx=551.6 cy=321.7 /><circle cx=482.9 cy=369.1 /><circle cx=522.6 cy=355.3 /><circle cx=368.2 cy=334.9 /><circle cx=401.3 cy=234.1 /><circle cx=475.9 cy=405.7 /><circle cx=360.4 cy=378.7 /><circle cx=483.6 cy=175.3 /><circle cx=499.5 cy=157.1 /><circle cx=440.6 cy=300.1 /><circle cx=305.1 cy=333.0 /><circle cx=636.2 cy=219.8 /><circle cx=546.9 cy=299.0 /><circle cx=657.8 cy=334.5 /><circle cx=487.9 cy=356.8 /><circle cx=358.8 cy=132.1 /><circle cx=343.7 cy=130.7 /><circle cx=367.4 cy=128.4 /><circle cx=513.0 cy=203.5 /><circle cx=520.1 cy=199.4 /><circle cx=564.9 cy=203.5 /><circle cx=373.8 cy=245.8 /><circle cx=315.9 cy=358.0 /><circle cx=352.1 cy=163.2 /><circle cx=561.8 cy=314.5 /><circle cx=472.8 cy=156.1 /><circle cx=510.2 cy=401.2 /><circle cx=384.7 cy=125.8 /><circle cx=463.6 cy=183.1 /><circle cx=322.2 cy=151.9 /><circle cx=556.1 cy=137.2 /><circle cx=604.5 cy=166.7 /><circle cx=331.1 cy=367.5 /><circle cx=280.8 cy=216.8 /><circle cx=485.5 cy=394.7 /><circle cx=468.7 cy=272.8 /><circle cx=572.9 cy=135.7 /><circle cx=442.9 cy=171.2 /><circle cx=458.1 cy=417.3 /><circle cx=586.8 cy=119.3 /><circle cx=572.7 cy=385.7 /><circle cx=367.3 cy=392.6 /><circle cx=533.0 cy=198.9 /><circle cx=585.5 cy=278.2 /><circle cx=551.3 cy=245.2 /><circle cx=650.5 cy=385.3 /><circle cx=299.5 cy=302.7 /><circle cx=339.9 cy=187.2 /><circle cx=337.1 cy=397.1 /><circle cx=640.5 cy=401.3 /><circle cx=471.4 cy=147.1 /><circle cx=518.4 cy=121.9 /><circle cx=464.7 cy=217.1 /><circle cx=607.4 cy=153.9 /><circle cx=396.7 cy=362.0 /><circle cx=325.6 cy=318.7 /><circle cx=293.1 cy=390.7 /><circle cx=364.2 cy=320.4 /><circle cx=567.6 cy=232.7 /><circle cx=599.5 cy=366.8 /><circle cx=526.4 cy=392.1 /><circle cx=346.6 cy=264.1 /><circle cx=425.5 cy=402.1 /><circle cx=281.6 cy=158.5 /><circle cx=459.0 cy=260.2 /><circle cx=561.3 cy=235.3 /><circle cx=422.7 cy=261.0 /><circle cx=364.7 cy=212.5 /><circle cx=403.7 cy=121.9 /><circle cx=354.2 cy=205.3 /><circle cx=315.5 cy=237.8 /><circle cx=539.9 cy=269.2 /><circle cx=485.8 cy=270.9 /><circle cx=283.1 cy=128.1 /><circle cx=637.2 cy=350.9 /><circle cx=608.0 cy=118.3 /><circle cx=327.7 cy=322.2 /><circle cx=651.5 cy=172.0 /><circle cx=418.9 cy=386.3 /><circle cx=290.1 cy=394.1 /><circle cx=436.3 cy=391.7 /><circle cx=544.0 cy=317.4 /><circle cx=568.3 cy=388.9 /><circle cx=496.1 cy=359.6 /><circle cx=649.2 cy=251.5 /><circle cx=442.9 cy=262.6 /><circle cx=643.4 cy=166.2 /><circle cx=296.1 cy=129.2 /><circle cx=581.7 cy=159.4 /><circle cx=626.2 cy=397.3 /><circle cx=582.1 cy=232.6 /><circle cx=622.2 cy=233.3 /><circle cx=619.0 cy=162.7 /><circle cx=299.7 cy=242.1 /><circle cx=588.2 cy=173.4 /><circle cx=354.7 cy=190.4 /><circle cx=652.4 cy=358.6 /><circle cx=393.6 cy=133.5 /><circle cx=459.5 cy=243.2 /><circle cx=401.8 cy=188.6 /><circle cx=432.7 cy=347.4 /><circle cx=600.9 cy=210.4 /><circle cx=369.4 cy=352.8 /><circle cx=591.4 cy=325.4 /><circle cx=324.9 cy=259.5 /><circle cx=328.3 cy=269.7 /><circle cx=531.7 cy=407.6 /><circle cx=604.6 cy=138.7 /><circle cx=372.6 cy=252.0 /><circle cx=349.4 cy=410.8 /><circle cx=518.6 cy=363.7 /><circle cx=540.7 cy=351.8 /><circle cx=515.4 cy=131.9 /><circle cx=634.4 cy=122.7 /><circle cx=391.5 cy=350.5 /><circle cx=557.0 cy=411.2 /><circle cx=515.3 cy=225.3 /><circle cx=294.1 cy=293.6 /><circle cx=440.7 cy=197.5 /><circle cx=335.7 cy=298.3 /><circle cx=376.2 cy=240.6 /><circle cx=358.5 cy=339.8 /><circle cx=309.6 cy=178.8 /><circle cx=502.3 cy=275.6 /><circle cx=522.8 cy=408.1 /><circle cx=347.4 cy=236.0 /><circle cx=541.6 cy=180.9 /><circle cx=481.5 cy=414.3 /><circle cx=371.8 cy=288.5 /><circle cx=543.9 cy=291.6 /><circle cx=341.7 cy=376.5 /><circle cx=645.2 cy=355.8 /><circle cx=316.8 cy=175.1 /><circle cx=279.0 cy=158.4 /><circle cx=386.0 cy=225.3 /><circle cx=439.7 cy=331.0 /><circle cx=392.1 cy=156.8 /><circle cx=403.8 cy=172.5 /><circle cx=439.0 cy=348.5 /><circle cx=635.1 cy=132.9 /><circle cx=294.0 cy=174.7 /><circle cx=488.1 cy=362.7 /><circle cx=441.1 cy=375.6 /><circle cx=645.6 cy=172.9 /><circle cx=404.7 cy=264.0 /><circle cx=350.9 cy=139.8 /><circle cx=367.0 cy=372.8 /><circle cx=411.3 cy=194.7 /><circle cx=322.9 cy=206.8 /><circle cx=302.1 cy=287.5 /><circle cx=361.1 cy=296.1 /><circle cx=446.3 cy=149.5 /><circle cx=411.3 cy=319.6 /><circle cx=503.6 cy=218.6 /><circle cx=526.8 cy=198.5 /><circle cx=370.6 cy=279.7 /><circle cx=347.5 cy=413.3 /><circle cx=479.0 cy=175.5 /><circle cx=428.7 cy=290.8 /><circle cx=453.2 cy=279.1 /><circle cx=449.8 cy=131.9 /><circle cx=365.9 cy=221.5 /><circle cx=380.1 cy=195.4 /><circle cx=627.0 cy=316.9 /><circle cx=483.5 cy=193.8 /><circle cx=643.3 cy=209.1 /><circle cx=572.3 cy=308.3 /><circle cx=450.3 cy=353.0 /><circle cx=534.2 cy=209.9 /><circle cx=483.9 cy=359.7 /><circle cx=569.1 cy=156.5 /><circle cx=392.9 cy=151.9 /><circle cx=289.8 cy=153.9 /><circle cx=429.1 cy=131.4 /><circle cx=507.7 cy=176.9 /><circle cx=441.7 cy=225.4 /><circle cx=360.9 cy=278.4 /><circle cx=611.8 cy=319.6 /><circle cx=627.5 cy=190.6 /><circle cx=383.2 cy=373.3 /><circle cx=553.3 cy=312.4 /><circle cx=286.1 cy=285.2 /><circle cx=328.3 cy=148.8 /><circle cx=409.2 cy=253.2 /><circle cx=325.3 cy=241.4 /><circle cx=451.3 cy=338.4 /><circle cx=420.1 cy=155.0 /><circle cx=528.6 cy=217.0 /><circle cx=572.5 cy=226.8 /><circle cx=443.4 cy=164.1 /><circle cx=296.5 cy=239.4 /><circle cx=348.2 cy=216.8 /><circle cx=657.1 cy=242.9 /><circle cx=632.8 cy=340.7 /><circle cx=296.0 cy=172.8 /><circle cx=430.5 cy=160.3 /><circle cx=630.6 cy=288.2 /><circle cx=328.7 cy=204.2 /><circle cx=453.6 cy=201.5 /><circle cx=283.2 cy=355.5 /><circle cx=448.4 cy=141.2 /><circle cx=415.0 cy=233.0 /><circle cx=584.2 cy=237.7 /><circle cx=618.0 cy=206.0 /><circle cx=561.0 cy=270.7 /><circle cx=536.5 cy=411.8 /><circle cx=529.2 cy=328.0 /><circle cx=563.6 cy=236.9 /><circle cx=641.6 cy=216.1 /><circle cx=386.0 cy=257.5 /><circle cx=511.2 cy=153.3 /><circle cx=466.8 cy=165.9 /><circle cx=461.2 cy=128.9 /><circle cx=588.5 cy=383.4 /><circle cx=648.9 cy=344.2 /><circle cx=366.6 cy=230.1 /><circle cx=543.3 cy=137.1 /><circle cx=468.1 cy=312.1 /><circle cx=469.1 cy=320.1 /><circle cx=441.2 cy=333.6 /><circle cx=379.5 cy=333.2 /><circle cx=287.8 cy=368.6 /><circle cx=546.3 cy=287.3 /><circle cx=632.6 cy=222.4 /><circle cx=399.0 cy=369.1 /><circle cx=570.8 cy=286.1 /><circle cx=414.1 cy=401.9 /><circle cx=435.5 cy=286.7 /><circle cx=373.5 cy=167.4 /><circle cx=565.8 cy=223.6 /><circle cx=571.1 cy=282.7 /><circle cx=390.9 cy=385.1 /><circle cx=645.4 cy=271.7 /><circle cx=496.9 cy=269.1 /><circle cx=471.3 cy=140.1 /><circle cx=417.1 cy=339.6 /><circle cx=487.6 cy=354.9 /><circle cx=625.8 cy=159.3 /><circle cx=627.1 cy=403.9 /><circle cx=354.1 cy=203.9 /><circle cx=434.9 cy=154.2 /><circle cx=601.2 cy=384.5 /><circle cx=300.1 cy=143.6 /><circle cx=300.6 cy=287.9 /><circle cx=322.4 cy=197.5 /><circle cx=296.3 cy=368.9 /><circle cx=478.2 cy=268.6 /><circle cx=502.0 cy=118.9 /><circle cx=394.8 cy=217.5 /><circle cx=381.7 cy=139.9 /><circle cx=433.1 cy=362.9 /><circle cx=360.4 cy=226.8 /><circle cx=387.3 cy=211.8 /><circle cx=560.4 cy=328.1 /><circle cx=296.6 cy=153.7 /><circle cx=511.0 cy=352.0 /><circle cx=423.4 cy=385.7 /><circle cx=493.6 cy=265.0 /><circle cx=645.7 cy=285.5 /><circle cx=339.6 cy=196.6 /><circle cx=606.9 cy=302.9 /><circle cx=436.1 cy=352.2 /><circle cx=548.7 cy=284.9 /><circle cx=354.5 cy=388.6 /><circle cx=287.8 cy=188.9 /><circle cx=597.9 cy=174.6 /><circle cx=582.6 cy=289.8 /><circle cx=649.0 cy=291.9 /><circle cx=301.6 cy=344.8 /><circle cx=498.9 cy=307.5 /><circle cx=526.1 cy=137.6 /><circle cx=579.8 cy=295.4 /><circle cx=370.6 cy=397.8 /><circle cx=555.2 cy=238.8 /><circle cx=511.3 cy=163.2 /><circle cx=496.0 cy=124.6 /><circle cx=611.0 cy=299.9 /><circle cx=603.0 cy=377.0 /><circle cx=514.7 cy=138.9 /><circle cx=522.6 cy=151.7 /><circle cx=280.9 cy=271.1 /><circle cx=311.4 cy=411.2 /><circle cx=523.5 cy=308.9 /><circle cx=589.0 cy=151.1 /><circle cx=627.5 cy=320.0 /><circle cx=396.8 cy=199.9 /><circle cx=593.0 cy=296.6 /><circle cx=637.9 cy=394.0 /><circle cx=514.0 cy=124.2 /><circle cx=642.0 cy=128.3 /><circle cx=319.9 cy=175.7 /><circle cx=280.7 cy=341.0 /><circle cx=503.7 cy=247.1 /><circle cx=578.4 cy=207.4 /><circle cx=601.6 cy=354.4 /><circle cx=410.9 cy=165.3 /><circle cx=396.6 cy=124.0 /><circle cx=657.6 cy=294.3 /><circle cx=601.2 cy=402.4 /><circle cx=315.8 cy=141.7 /><circle cx=285.7 cy=206.7 /><circle cx=455.3 cy=409.6 /><circle cx=474.2 cy=347.5 /><circle cx=524.5 cy=290.1 /><circle cx=590.3 cy=372.7 /><circle cx=402.8 cy=393.2 /><circle cx=618.3 cy=201.8 /><circle cx=530.0 cy=250.8 /><circle cx=351.5 cy=186.3 /><circle cx=428.1 cy=206.6 /><circle cx=472.3 cy=365.6 /><circle cx=612.3 cy=368.4 /><circle cx=487.4 cy=202.3 /><circle cx=505.1 cy=246.2 /><circle cx=490.2 cy=119.2 /><circle cx=308.5 cy=239.5 /><circle cx=618.3 cy=173.9 /><circle cx=352.1 cy=363.5 /><circle cx=290.6 cy=256.0 /><circle cx=579.3 cy=284.7 /><circle cx=570.0 cy=178.0 /><circle cx=449.4 cy=416.3 /><circle cx=648.7 cy=369.5 /><circle cx=278.8 cy=121.8 /><circle cx=533.2 cy=199.2 /><circle cx=570.6 cy=246.2 /><circle cx=332.0 cy=386.4 /><circle cx=425.1 cy=138.3 /><circle cx=520.8 cy=195.9 /><circle cx=391.7 cy=214.8 /><circle cx=415.4 cy=118.0 /><circle cx=564.2 cy=117.6 /><circle cx=550.1 cy=215.8 /><circle cx=505.4 cy=209.7 /><circle cx=574.3 cy=391.6 /><circle cx=617.5 cy=294.9 /><circle cx=348.9 cy=182.6 /><circle cx=278.8 cy=309.9 /><circle cx=532.6 cy=265.7 /><circle cx=417.5 cy=286.7 /><circle cx=296.6 cy=347.2 /><circle cx=460.1 cy=146.3 /><circle cx=568.2 cy=249.4 /><circle cx=577.1 cy=260.4 /><circle cx=326.6 cy=328.4 /><circle cx=536.5 cy=319.5 /><circle cx=288.1 cy=300.0 /><circle cx=514.5 cy=271.9 /><circle cx=653.1 cy=342.2 /><circle cx=479.5 cy=144.1 /><circle cx=510.3 cy=411.0 /><circle cx=501.7 cy=352.1 /><circle cx=549.5 cy=237.7 /><circle cx=477.0 cy=158.2 /><circle cx=364.6 cy=270.0 /><circle cx=563.9 cy=343.6 /><circle cx=631.1 cy=356.7 /><circle cx=469.9 cy=241.6 /><circle cx=372.9 cy=283.1 /><circle cx=359.3 cy=272.2 /><circle cx=499.9 cy=217.2 /><circle cx=373.4 cy=289.5 /><circle cx=458.2 cy=347.9 /><circle cx=348.7 cy=375.7 /><circle cx=388.0 cy=253.1 /><circle cx=485.8 cy=239.3 /><circle cx=569.3 cy=127.0 /><circle cx=387.4 cy=309.1 /><circle cx=346.4 cy=307.9 /><circle cx=520.3 cy=272.8 /><circle cx=458.4 cy=164.1 /><circle cx=606.3 cy=125.3 /><circle cx=503.0 cy=168.3 /><circle cx=362.4 cy=185.4 /><circle cx=565.8 cy=386.9 /><circle cx=604.4 cy=299.1 /><circle cx=454.8 cy=356.6 /><circle cx=548.0 cy=377.3 /><circle cx=645.8 cy=153.1 /><circle cx=545.0 cy=409.8 /><circle cx=401.4 cy=148.2 /><circle cx=542.4 cy=233.4 /><circle cx=599.1 cy=400.3 /><circle cx=290.3 cy=236.5 /><circle cx=483.2 cy=410.3 /><circle cx=500.0 cy=378.5 /><circle cx=375.0 cy=209.6 /><circle cx=652.3 cy=386.1 /><circle cx=606.3 cy=220.9 /><circle cx=460.3 cy=226.1 /><circle cx=311.0 cy=271.0 /><circle cx=630.7 cy=360.5 /><circle cx=590.4 cy=176.8 /><circle cx=492.5 cy=228.8 /><circle cx=555.9 cy=222.1 /><circle cx=514.2 cy=314.6 /><circle cx=383.7 cy=365.4 /><circle cx=302.4 cy=127.1 /><circle cx=579.7 cy=195.7 /><circle cx=415.8 cy=125.3 /><circle cx=572.1 cy=328.1 /><circle cx=302.6 cy=284.9 /><circle cx=605.1 cy=378.6 /><circle cx=628.1 cy=129.3 /><circle cx=634.2 cy=332.1 /><circle cx=385.6 cy=358.4 /><circle cx=564.6 cy=347.9 /><circle cx=292.8 cy=401.5 /><circle cx=423.0 cy=390.2 /><circle cx=518.3 cy=411.8 /><circle cx=357.3 cy=181.5 /><circle cx=398.8 cy=270.2 /><circle cx=325.6 cy=170.4 /><circle cx=468.2 cy=383.9 /><circle cx=373.4 cy=377.0 /><circle cx=628.3 cy=308.1 /><circle cx=444.6 cy=378.9 /><circle cx=300.0 cy=365.7 /><circle cx=389.0 cy=319.2 /><circle cx=550.0 cy=377.4 /><circle cx=358.8 cy=246.8 /><circle cx=643.0 cy=316.4 /><circle cx=615.9 cy=293.0 /><circle cx=547.0 cy=175.3 /><circle cx=552.8 cy=173.9 /><circle cx=417.4 cy=289.8 /><circle cx=311.7 cy=180.7 /><circle cx=347.3 cy=150.5 /><circle cx=535.8 cy=395.1 /><circle cx=327.3 cy=366.2 /><circle cx=596.1 cy=362.0 /><circle cx=299.2 cy=402.2 /><circle cx=401.0 cy=118.0 /><circle cx=620.8 cy=177.0 /><circle cx=608.0 cy=192.8 /><circle cx=393.6 cy=345.0 /><circle cx=397.6 cy=174.4 /><circle cx=651.7 cy=357.6 /><circle cx=511.8 cy=281.2 /><circle cx=302.8 cy=129.6 /><circle cx=441.6 cy=360.5 /><circle cx=396.3 cy=144.9 /><circle cx=391.7 cy=329.2 /><circle cx=359.4 cy=305.7 /><circle cx=312.1 cy=319.6 /><circle cx=506.6 cy=226.7 /><circle cx=277.9 cy=158.7 /><circle cx=392.6 cy=396.3 /><circle cx=532.2 cy=282.0 /><circle cx=274.6 cy=239.4 /><circle cx=458.3 cy=198.5 /><circle cx=350.6 cy=270.5 /><circle cx=311.7 cy=243.4 /><circle cx=295.6 cy=235.8 /><circle cx=557.5 cy=138.2 /><circle cx=547.6 cy=334.3 /><circle cx=376.5 cy=318.5 /><circle cx=326.2 cy=361.2 /><circle cx=412.3 cy=170.1 /><circle cx=294.8 cy=148.4 /><circle cx=387.1 cy=352.2 /><circle cx=568.5 cy=204.9 /><circle cx=586.9 cy=266.1 /><circle cx=643.0 cy=368.6 /><circle cx=406.2 cy=302.4 /><circle cx=314.7 cy=303.5 /><circle cx=323.6 cy=153.6 /><circle cx=565.4 cy=380.8 /><circle cx=403.7 cy=349.3 /><circle cx=441.9 cy=211.6 /><circle cx=562.6 cy=323.8 /><circle cx=383.7 cy=338.2 /><circle cx=415.0 cy=350.5 /><circle cx=292.0 cy=383.4 /><circle cx=542.8 cy=188.7 /><circle cx=486.5 cy=187.0 /><circle cx=537.6 cy=360.5 /><circle cx=283.9 cy=366.4 /><circle cx=294.0 cy=234.5 /><circle cx=315.2 cy=300.1 /><circle cx=572.1 cy=274.4 /><circle cx=565.1 cy=259.3 /><circle cx=590.6 cy=215.6 /><circle cx=347.2 cy=310.5 /><circle cx=604.0 cy=363.8 /><circle cx=566.1 cy=164.5 /><circle cx=409.5 cy=151.1 /><circle cx=407.5 cy=162.3 /><circle cx=443.4 cy=165.2 /><circle cx=520.6 cy=144.9 /><circle cx=614.7 cy=147.2 /><circle cx=631.9 cy=346.7 /><circle cx=300.7 cy=314.6 /><circle cx=302.1 cy=170.5 /><circle cx=515.5 cy=267.0 /><circle cx=633.5 cy=208.9 /><circle cx=578.8 cy=300.8 /><circle cx=353.7 cy=293.9 /><circle cx=357.8 cy=375.7 /><circle cx=384.8 cy=271.2 /><circle cx=487.7 cy=348.9 /><circle cx=356.3 cy=332.2 /><circle cx=619.3 cy=202.4 /><circle cx=646.3 cy=184.9 /><circle cx=625.8 cy=202.9 /><circle cx=645.8 cy=171.8 /><circle cx=562.3 cy=360.0 /><circle cx=515.9 cy=172.7 /><circle cx=591.9 cy=405.7 /><circle cx=388.8 cy=375.4 /><circle cx=400.2 cy=277.7 /><circle cx=309.9 cy=164.5 /><circle cx=518.7 cy=120.5 /><circle cx=594.7 cy=363.0 /><circle cx=585.6 cy=258.8 /><circle cx=349.2 cy=234.4 /><circle cx=508.3 cy=178.4 /><circle cx=639.6 cy=282.3 /><circle cx=303.4 cy=157.0 /><circle cx=551.8 cy=117.2 /><circle cx=493.6 cy=271.0 /><circle cx=629.3 cy=301.3 /><circle cx=516.5 cy=317.4 /><circle cx=350.3 cy=345.9 /><circle cx=359.6 cy=173.5 /><circle cx=489.0 cy=200.9 /><circle cx=545.9 cy=225.4 /><circle cx=275.4 cy=364.1 /><circle cx=510.9 cy=195.1 /><circle cx=380.4 cy=211.2 /><circle cx=590.6 cy=367.7 /><circle cx=518.1 cy=159.6 /><circle cx=499.0 cy=359.8 /><circle cx=456.7 cy=351.4 /><circle cx=522.2 cy=131.4 /><circle cx=406.2 cy=382.2 /><circle cx=341.2 cy=225.6 /><circle cx=595.0 cy=384.8 /><circle cx=364.2 cy=199.2 /><circle cx=601.9 cy=199.0 /><circle cx=460.2 cy=123.3 /><circle cx=305.9 cy=392.4 /><circle cx=336.0 cy=320.3 /><circle cx=640.3 cy=348.6 /><circle cx=508.1 cy=230.9 /><circle cx=433.3 cy=236.0 /><circle cx=603.7 cy=166.4 /><circle cx=464.7 cy=197.8 /><circle cx=554.1 cy=357.4 /><circle cx=395.8 cy=233.5 /><circle cx=570.7 cy=406.7 /><circle cx=500.1 cy=182.4 /><circle cx=574.7 cy=414.6 /><circle cx=599.7 cy=188.4 /><circle cx=445.7 cy=229.8 /><circle cx=346.6 cy=299.5 /><circle cx=304.1 cy=198.6 /><circle cx=545.7 cy=369.5 /><circle cx=470.5 cy=277.9 /><circle cx=500.2 cy=394.7 /><circle cx=436.4 cy=379.5 /><circle cx=297.4 cy=416.6 /><circle cx=317.2 cy=345.5 /><circle cx=527.9 cy=408.6 /><circle cx=433.5 cy=325.1 /><circle cx=500.4 cy=130.4 /><circle cx=591.3 cy=166.0 /><circle cx=648.0 cy=154.2 /><circle cx=652.4 cy=310.8 /><circle cx=412.4 cy=346.0 /><circle cx=647.3 cy=221.9 /><circle cx=396.1 cy=269.6 /><circle cx=545.1 cy=246.3 /><circle cx=368.8 cy=307.2 /><circle cx=422.7 cy=404.1 /><circle cx=636.5 cy=416.9 /><circle cx=412.8 cy=315.0 /><circle cx=537.6 cy=212.2 /><circle cx=285.4 cy=190.1 /><circle cx=490.2 cy=262.1 /><circle cx=530.0 cy=249.5 /><circle cx=554.2 cy=179.7 /><circle cx=377.1 cy=270.8 /><circle cx=447.3 cy=366.2 /><circle cx=329.7 cy=366.9 /><circle cx=456.9 cy=351.1 /><circle cx=306.0 cy=291.8 /><circle cx=567.6 cy=139.6 /><circle cx=467.7 cy=244.3 /><circle cx=608.0 cy=416.4 /><circle cx=578.3 cy=367.8 /><circle cx=509.9 cy=132.8 /><circle cx=624.4 cy=371.0 /><circle cx=563.9 cy=343.7 /><circle cx=474.4 cy=408.7 /><circle cx=474.6 cy=368.6 /><circle cx=284.2 cy=298.7 /><circle cx=330.0 cy=157.1 /><circle cx=646.7 cy=142.9 /><circle cx=326.4 cy=199.8 /><circle cx=632.9 cy=391.5 /><circle cx=638.3 cy=191.6 /><circle cx=481.1 cy=328.1 /><circle cx=407.5 cy=341.7 /><circle cx=643.2 cy=404.0 /><circle cx=614.2 cy=325.3 /><circle cx=527.8 cy=409.4 /><circle cx=479.6 cy=229.9 /><circle cx=436.6 cy=387.6 /><circle cx=539.7 cy=130.4 /><circle cx=326.2 cy=260.4 /><circle cx=498.2 cy=371.0 /><circle cx=331.8 cy=368.1 /><circle cx=348.0 cy=285.6 /><circle cx=549.3 cy=359.2 /><circle cx=334.3 cy=385.1 /><circle cx=606.3 cy=250.6 /><circle cx=559.1 cy=371.0 /><circle cx=652.1 cy=387.6 /><circle cx=656.2 cy=162.9 /><circle cx=570.1 cy=185.1 /><circle cx=406.9 cy=202.0 /><circle cx=570.5 cy=281.9 /><circle cx=654.0 cy=260.8 /><circle cx=582.8 cy=156.0 /><circle cx=433.9 cy=176.8 /><circle cx=371.3 cy=405.7 /><circle cx=539.6 cy=126.0 /><circle cx=474.2 cy=158.4 /><circle cx=395.9 cy=284.5 /><circle cx=647.2 cy=394.9 /><circle cx=618.6 cy=262.1 /><circle cx=451.6 cy=136.3 /><circle cx=528.2 cy=153.8 /><circle cx=630.0 cy=317.5 /><circle cx=276.7 cy=344.0 /><circle cx=293.3 cy=120.2 /><circle cx=551.0 cy=188.3 /><circle cx=305.3 cy=332.0 /><circle cx=336.9 cy=127.6 /><circle cx=503.4 cy=409.6 /><circle cx=481.6 cy=291.3 /><circle cx=490.0 cy=151.9 /><circle cx=313.9 cy=292.9 /><circle cx=292.8 cy=124.1 /><circle cx=542.8 cy=368.3 /><circle cx=474.2 cy=238.9 /><circle cx=458.9 cy=368.9 /><circle cx=471.1 cy=378.2 /><circle cx=390.4 cy=410.5 /><circle cx=498.1 cy=269.6 /><circle cx=275.9 cy=265.2 /><circle cx=340.6 cy=290.2 /><circle cx=436.7 cy=249.2 /><circle cx=591.7 cy=335.6 /><circle cx=295.0 cy=214.2 /><circle cx=570.0 cy=416.5 /><circle cx=285.4 cy=279.9 /><circle cx=351.7 cy=216.9 /><circle cx=361.2 cy=395.7 /><circle cx=407.7 cy=207.2 /><circle cx=457.1 cy=127.8 /><circle cx=529.2 cy=320.2 /><circle cx=626.1 cy=381.7 /><circle cx=454.7 cy=212.9 /><circle cx=642.2 cy=311.0 /><circle cx=621.8 cy=381.3 /><circle cx=339.5 cy=241.0 /><circle cx=515.2 cy=134.3 /><circle cx=612.2 cy=282.7 /><circle cx=561.1 cy=117.2 /><circle cx=442.2 cy=242.3 /><circle cx=573.8 cy=144.9 /><circle cx=346.5 cy=217.2 /><circle cx=467.7 cy=362.6 /><circle cx=446.3 cy=290.4 /><circle cx=387.0 cy=275.8 /><circle cx=419.3 cy=332.2 /><circle cx=561.0 cy=136.4 /><circle cx=480.1 cy=128.2 /><circle cx=458.3 cy=291.5 /><circle cx=453.4 cy=324.6 /><circle cx=419.1 cy=401.3 /><circle cx=402.5 cy=372.2 /><circle cx=419.3 cy=203.8 /><circle cx=498.3 cy=196.7 /><circle cx=307.4 cy=196.0 /><circle cx=482.5 cy=351.5 /><circle cx=310.0 cy=142.3 /><circle cx=625.4 cy=156.7 /><circle cx=624.1 cy=383.6 /><circle cx=278.5 cy=180.2 /><circle cx=441.5 cy=350.9 /><circle cx=404.4 cy=172.8 /><circle cx=498.5 cy=271.8 /><circle cx=518.2 cy=316.4 /><circle cx=456.1 cy=177.9 /><circle cx=626.9 cy=257.3 /><circle cx=420.4 cy=353.7 /><circle cx=520.5 cy=321.7 /><circle cx=315.9 cy=258.5 /><circle cx=495.8 cy=248.8 /><circle cx=579.9 cy=164.8 /><circle cx=430.4 cy=273.7 /><circle cx=435.5 cy=180.6 /><circle cx=525.4 cy=154.8 /><circle cx=598.4 cy=356.9 /><circle cx=540.4 cy=180.8 /><circle cx=570.8 cy=224.5 /><circle cx=414.9 cy=349.4 /><circle cx=593.1 cy=143.6 /><circle cx=470.0 cy=360.6 /><circle cx=615.5 cy=273.2 /><circle cx=489.1 cy=413.0 /><circle cx=420.8 cy=231.9 /><circle cx=600.5 cy=221.4 /><circle cx=434.0 cy=304.2 /><circle cx=650.8 cy=186.4 /><circle cx=540.6 cy=278.0 /><circle cx=490.3 cy=153.7 /><circle cx=514.0 cy=141.5 /><circle cx=322.5 cy=252.5 /><circle cx=375.2 cy=349.7 /><circle cx=309.2 cy=326.3 /><circle cx=636.5 cy=284.4 /><circle cx=312.4 cy=131.3 /><circle cx=649.1 cy=207.7 /><circle cx=313.4 cy=364.7 /><circle cx=391.7 cy=243.3 /><circle cx=469.3 cy=281.2 /><circle cx=364.0 cy=298.2 /><circle cx=627.6 cy=395.8 /><circle cx=565.5 cy=350.8 /><circle cx=487.2 cy=322.2 /><circle cx=331.9 cy=367.4 /><circle cx=346.4 cy=180.5 /><circle cx=485.2 cy=209.4 /><circle cx=357.6 cy=250.0 /><circle cx=369.1 cy=128.3 /><circle cx=363.1 cy=334.2 /><circle cx=451.7 cy=332.8 /><circle cx=645.3 cy=218.4 /><circle cx=394.5 cy=344.9 /><circle cx=370.5 cy=279.2 /><circle cx=612.8 cy=337.0 /><circle cx=421.2 cy=140.4 /><circle cx=278.3 cy=314.3 /><circle cx=547.8 cy=323.3 /><circle cx=647.6 cy=161.2 /><circle cx=535.1 cy=145.4 /><circle cx=615.1 cy=166.5 /><circle cx=620.0 cy=180.0 /><circle cx=644.4 cy=242.6 /><circle cx=521.4 cy=334.7 /><circle cx=470.3 cy=254.7 /><circle cx=456.1 cy=157.4 /><circle cx=430.6 cy=119.7 /><circle cx=597.4 cy=307.4 /><circle cx=384.6 cy=228.8 /><circle cx=392.2 cy=230.3 /><circle cx=565.0 cy=184.2 /><circle cx=468.0 cy=413.2 /><circle cx=530.4 cy=209.1 /><circle cx=613.3 cy=143.3 /><circle cx=470.0 cy=349.6 /><circle cx=397.1 cy=303.9 /><circle cx=355.9 cy=147.6 /><circle cx=545.5 cy=373.6 /><circle cx=438.9 cy=151.9 /><circle cx=609.5 cy=327.5 /><circle cx=644.6 cy=120.3 /><circle cx=398.6 cy=268.1 /><circle cx=458.1 cy=161.6 /><circle cx=423.4 cy=159.5 /><circle cx=490.0 cy=121.6 /><circle cx=621.9 cy=266.9 /><circle cx=459.6 cy=161.9 /><circle cx=424.7 cy=377.2 /><circle cx=403.0 cy=218.6 /><circle cx=639.0 cy=241.3 /><circle cx=494.8 cy=389.3 /><circle cx=446.1 cy=334.5 /><circle cx=364.6 cy=271.1 /><circle cx=461.7 cy=143.6 /><circle cx=310.6 cy=317.9 /><circle cx=300.0 cy=124.5 /><circle cx=412.3 cy=270.9 /><circle cx=655.8 cy=335.1 /><circle cx=654.4 cy=239.4 /><circle cx=429.2 cy=197.8 /><circle cx=611.0 cy=185.4 /><circle cx=450.1 cy=245.5 /><circle cx=562.5 cy=184.4 /><circle cx=449.8 cy=189.6 /><circle cx=393.7 cy=177.1 /><circle cx=630.3 cy=327.8 /><circle cx=555.8 cy=294.5 /><circle cx=550.2 cy=357.3 /><circle cx=441.9 cy=161.5 /><circle cx=636.0 cy=139.1 /><circle cx=559.4 cy=144.5 /><circle cx=509.5 cy=389.2 /><circle cx=549.5 cy=212.0 /><circle cx=354.2 cy=405.7 /><circle cx=471.7 cy=153.2 /><circle cx=371.7 cy=231.3 /><circle cx=626.9 cy=296.1 /><circle cx=631.6 cy=188.4 /><circle cx=290.8 cy=385.2 /><circle cx=313.4 cy=150.6 /><circle cx=633.5 cy=380.3 /><circle cx=649.4 cy=245.7 /><circle cx=430.7 cy=122.6 /><circle cx=492.8 cy=263.9 /><circle cx=414.0 cy=295.6 /><circle cx=277.6 cy=267.0 /><circle cx=578.5 cy=415.6 /><circle cx=557.9 cy=233.3 /><circle cx=612.8 cy=342.6 /><circle cx=542.8 cy=236.5 /><circle cx=303.6 cy=156.1 /><circle cx=457.4 cy=362.5 /><circle cx=497.2 cy=139.9 /><circle cx=490.7 cy=247.5 /><circle cx=505.4 cy=408.4 /><circle cx=435.6 cy=129.0 /><circle cx=355.0 cy=214.6 /><circle cx=620.2 cy=415.9 /><circle cx=463.5 cy=269.5 /><circle cx=405.7 cy=228.5 /><circle cx=546.9 cy=400.5 /><circle cx=619.6 cy=249.5 /><circle cx=550.6 cy=340.8 /><circle cx=350.9 cy=385.5 /><circle cx=528.9 cy=226.1 /><circle cx=356.0 cy=200.4 /><circle cx=285.2 cy=314.0 /><circle cx=537.2 cy=319.6 /><circle cx=320.8 cy=358.0 /><circle cx=276.7 cy=332.4 /><circle cx=649.4 cy=161.3 /><circle cx=611.5 cy=147.2 /><circle cx=368.5 cy=366.5 /><circle cx=321.9 cy=179.2 /><circle cx=527.6 cy=381.9 /><circle cx=423.9 cy=400.0 /><circle cx=451.1 cy=164.2 /><circle cx=532.9 cy=126.4 /><circle cx=519.4 cy=388.1 /><circle cx=308.8 cy=133.9 /><circle cx=304.9 cy=401.1 /><circle cx=655.3 cy=187.8 /><circle cx=372.3 cy=184.2 /><circle cx=433.0 cy=309.1 /><circle cx=513.4 cy=399.2 /><circle cx=540.0 cy=308.3 /><circle cx=370.8 cy=120.1 /><circle cx=611.0 cy=124.9 /><circle cx=291.9 cy=351.8 /><circle cx=313.5 cy=285.4 /><circle cx=586.3 cy=335.5 /><circle cx=537.3 cy=316.1 /><circle cx=645.6 cy=180.2 /><circle cx=513.5 cy=146.3 /><circle cx=376.1 cy=305.2 /><circle cx=466.0 cy=201.8 /><circle cx=525.4 cy=410.6 /><circle cx=632.5 cy=334.9 /><circle cx=300.5 cy=328.7 /><circle cx=641.4 cy=375.7 /><circle cx=656.0 cy=246.7 /><circle cx=440.5 cy=232.2 /><circle cx=407.4 cy=342.6 /><circle cx=423.2 cy=131.1 /><circle cx=632.1 cy=173.3 /><circle cx=548.5 cy=308.5 /><circle cx=328.3 cy=147.9 /><circle cx=568.2 cy=198.9 /><circle cx=586.4 cy=340.2 /><circle cx=390.0 cy=207.8 /><circle cx=657.0 cy=171.4 /><circle cx=638.9 cy=157.1 /><circle cx=620.8 cy=280.4 /><circle cx=585.8 cy=315.3 /><circle cx=467.6 cy=228.8 /><circle cx=574.9 cy=340.4 /><circle cx=397.8 cy=174.1 /><circle cx=329.8 cy=154.8 /><circle cx=377.9 cy=336.9 /><circle cx=635.5 cy=227.6 /><circle cx=536.1 cy=325.4 /><circle cx=416.4 cy=206.8 /><circle cx=381.7 cy=362.0 /><circle cx=581.2 cy=188.7 /><circle cx=432.0 cy=252.7 /><circle cx=426.1 cy=322.4 /><circle cx=481.9 cy=341.9 /><circle cx=585.2 cy=333.3 /><circle cx=572.9 cy=141.0 /><circle cx=640.6 cy=212.5 /><circle cx=617.1 cy=240.2 /><circle cx=325.1 cy=357.9 /><circle cx=344.5 cy=415.1 /><circle cx=580.4 cy=214.8 /><circle cx=433.4 cy=198.7 /><circle cx=579.2 cy=359.5 /><circle cx=346.4 cy=193.8 /><circle cx=404.5 cy=138.0 /><circle cx=293.3 cy=353.2 /><circle cx=635.3 cy=263.6 /><circle cx=296.4 cy=399.4 /><circle cx=629.7 cy=177.1 /><circle cx=644.5 cy=328.1 /><circle cx=637.0 cy=404.7 /><circle cx=291.0 cy=379.0 /><circle cx=454.6 cy=127.4 /><circle cx=601.5 cy=300.2 /><circle cx=296.4 cy=344.6 /><circle cx=419.1 cy=133.2 /><circle cx=419.3 cy=136.3 /><circle cx=279.2 cy=322.8 /><circle cx=543.4 cy=200.8 /><circle cx=378.4 cy=403.4 /><circle cx=620.9 cy=158.5 /><circle cx=281.1 cy=253.5 /><circle cx=524.7 cy=369.0 /><circle cx=551.5 cy=167.9 /><circle cx=433.3 cy=386.1 /><circle cx=498.0 cy=404.9 /><circle cx=488.8 cy=402.9 /><circle cx=456.4 cy=210.9 /><circle cx=579.9 cy=369.2 /><circle cx=396.0 cy=132.7 /><circle cx=596.5 cy=294.3 /><circle cx=559.2 cy=265.1 /><circle cx=480.4 cy=144.9 /><circle cx=505.3 cy=370.1 /><circle cx=452.4 cy=368.8 /><circle cx=333.9 cy=265.3 /><circle cx=574.7 cy=272.9 /><circle cx=467.9 cy=349.1 /><circle cx=541.3 cy=261.7 /><circle cx=315.0 cy=157.5 /><circle cx=584.1 cy=381.7 /><circle cx=590.3 cy=406.3 /><circle cx=616.9 cy=279.2 /><circle cx=296.7 cy=169.1 /><circle cx=549.4 cy=383.7 /><circle cx=537.2 cy=222.5 /><circle cx=400.9 cy=287.1 /><circle cx=386.8 cy=149.0 /><circle cx=653.9 cy=323.3 /><circle cx=541.2 cy=323.4 /><circle cx=379.8 cy=399.0 /><circle cx=459.7 cy=134.5 /><circle cx=592.5 cy=381.8 /><circle cx=460.2 cy=317.0 /><circle cx=488.8 cy=155.5 /><circle cx=372.7 cy=137.0 /><circle cx=316.4 cy=140.0 /><circle cx=283.3 cy=149.9 /><circle cx=607.1 cy=386.9 /><circle cx=557.7 cy=278.6 /><circle cx=648.9 cy=326.4 /><circle cx=381.6 cy=211.4 /><circle cx=332.4 cy=392.5 /><circle cx=497.6 cy=189.1 /><circle cx=501.7 cy=286.3 /><circle cx=490.5 cy=153.8 /><circle cx=369.7 cy=181.2 /><circle cx=439.7 cy=186.6 /><circle cx=440.2 cy=236.7 /><circle cx=540.8 cy=133.6 /><circle cx=446.7 cy=239.1 /><circle cx=401.2 cy=395.8 /><circle cx=565.0 cy=185.1 /><circle cx=576.9 cy=371.5 /><circle cx=496.2 cy=119.5 /><circle cx=362.1 cy=272.1 /><circle cx=491.0 cy=162.1 /><circle cx=529.1 cy=272.3 /><circle cx=549.5 cy=161.9 /><circle cx=535.7 cy=394.4 /><circle cx=386.8 cy=297.2 /><circle cx=376.4 cy=323.8 /><circle cx=462.2 cy=303.9 /><circle cx=519.4 cy=154.8 /><circle cx=387.2 cy=163.5 /><circle cx=376.7 cy=153.2 /><circle cx=559.0 cy=217.5 /><circle cx=356.5 cy=380.1 /><circle cx=277.6 cy=251.6 /><circle cx=583.3 cy=411.1 /><circle cx=421.2 cy=368.1 /><circle cx=488.4 cy=346.2 /><circle cx=611.0 cy=330.4 /><circle cx=542.6 cy=214.9 /><circle cx=514.0 cy=123.6 /><circle cx=425.1 cy=249.2 /><circle cx=505.8 cy=206.5 /><circle cx=318.6 cy=232.8 /><circle cx=587.9 cy=330.1 /><circle cx=441.1 cy=367.9 /><circle cx=537.4 cy=276.8 /><circle cx=564.8 cy=384.0 /><circle cx=342.4 cy=388.6 /><circle cx=403.1 cy=252.8 /><circle cx=464.8 cy=249.0 /><circle cx=595.8 cy=399.4 /><circle cx=433.3 cy=147.6 /><circle cx=648.1 cy=345.0 /><circle cx=430.4 cy=197.2 /><circle cx=339.8 cy=359.2 /><circle cx=621.0 cy=188.0 /><circle cx=583.0 cy=334.1 /><circle cx=587.7 cy=409.8 /><circle cx=347.9 cy=405.0 /><circle cx=577.5 cy=351.3 /><circle cx=591.8 cy=255.6 /><circle cx=487.9 cy=396.6 /><circle cx=294.2 cy=194.0 /><circle cx=429.6 cy=175.6 /><circle cx=386.8 cy=408.1 /><circle cx=327.4 cy=324.7 /><circle cx=464.8 cy=357.5 /><circle cx=319.5 cy=283.7 /><circle cx=426.7 cy=283.2 /><circle cx=421.6 cy=182.9 /><circle cx=438.3 cy=353.2 /><circle cx=497.1 cy=352.9 /><circle cx=345.0 cy=399.6 /><circle cx=620.3 cy=253.9 /><circle cx=515.0 cy=131.0 /><circle cx=435.6 cy=288.9 /><circle cx=552.8 cy=288.2 /><circle cx=501.1 cy=171.2 /><circle cx=473.1 cy=276.9 /><circle cx=541.5 cy=412.9 /><circle cx=587.8 cy=342.5 /><circle cx=356.3 cy=126.2 /><circle cx=584.8 cy=337.3 /><circle cx=445.2 cy=292.9 /><circle cx=393.3 cy=272.0 /><circle cx=485.9 cy=209.7 /><circle cx=587.8 cy=303.9 /><circle cx=448.0 cy=377.9 /><circle cx=296.2 cy=362.9 /><circle cx=564.3 cy=237.9 /><circle cx=567.7 cy=407.3 /><circle cx=650.9 cy=120.7 /><circle cx=595.7 cy=220.4 /><circle cx=288.3 cy=324.6 /><circle cx=613.1 cy=387.9 /><circle cx=426.6 cy=209.4 /><circle cx=337.0 cy=206.6 /><circle cx=643.5 cy=357.0 /><circle cx=601.7 cy=236.4 /><circle cx=396.6 cy=134.1 /><circle cx=427.6 cy=401.0 /><circle cx=274.5 cy=214.1 /><circle cx=323.4 cy=255.0 /><circle cx=596.4 cy=278.4 /><circle cx=430.2 cy=401.1 /><circle cx=496.7 cy=231.6 /><circle cx=517.5 cy=380.5 /><circle cx=551.2 cy=416.9 /><circle cx=543.1 cy=388.2 /><circle cx=589.0 cy=401.2 /><circle cx=500.1 cy=345.8 /><circle cx=433.9 cy=215.1 /><circle cx=546.5 cy=228.8 /><circle cx=374.7 cy=211.2 /><circle cx=336.4 cy=370.9 /><circle cx=475.7 cy=304.0 /><circle cx=405.0 cy=336.8 /><circle cx=478.1 cy=388.1 /><circle cx=625.3 cy=240.5 /><circle cx=399.6 cy=293.8 /><circle cx=291.4 cy=311.0 /><circle cx=638.9 cy=311.9 /><circle cx=316.2 cy=300.5 /><circle cx=343.7 cy=350.0 /><circle cx=573.6 cy=374.1 /><circle cx=332.2 cy=407.6 /><circle cx=314.2 cy=371.6 /><circle cx=544.7 cy=293.8 /><circle cx=517.7 cy=250.5 /><circle cx=275.1 cy=350.3 /><circle cx=276.3 cy=209.2 /><circle cx=485.1 cy=268.2 /><circle cx=563.2 cy=343.2 /><circle cx=433.5 cy=356.5 /><circle cx=526.9 cy=176.9 /><circle cx=611.4 cy=262.5 /><circle cx=329.8 cy=170.6 /><circle cx=613.1 cy=389.7 /><circle cx=495.6 cy=367.2 /><circle cx=501.3 cy=291.6 /><circle cx=643.3 cy=396.9 /><circle cx=654.0 cy=374.4 /><circle cx=454.1 cy=342.7 /><circle cx=527.1 cy=347.8 /><circle cx=418.1 cy=150.0 /><circle cx=416.2 cy=178.0 /><circle cx=283.8 cy=355.6 /><circle cx=332.7 cy=133.0 /><circle cx=418.9 cy=186.6 /><circle cx=571.4 cy=247.7 /><circle cx=545.5 cy=370.3 /><circle cx=468.5 cy=377.9 /><circle cx=331.1 cy=238.6 /><circle cx=649.5 cy=327.9 /><circle cx=347.9 cy=361.1 /><circle cx=455.0 cy=280.0 /><circle cx=288.8 cy=337.7 /><circle cx=414.8 cy=148.9 /><circle cx=330.6 cy=133.9 /><circle cx=575.1 cy=371.3 /><circle cx=318.6 cy=163.3 /><circle cx=304.3 cy=331.0 /><circle cx=609.4 cy=365.8 /><circle cx=566.7 cy=339.9 /><circle cx=419.3 cy=266.1 /><circle cx=620.4 cy=200.3 /><circle cx=488.5 cy=371.3 /><circle cx=588.4 cy=128.0 /><circle cx=294.5 cy=213.1 /><circle cx=638.2 cy=226.4 /><circle cx=471.8 cy=133.1 /><circle cx=470.3 cy=168.0 /><circle cx=465.5 cy=203.9 /><circle cx=404.1 cy=162.8 /><circle cx=493.6 cy=231.7 /><circle cx=280.8 cy=294.7 /><circle cx=339.1 cy=352.2 /><circle cx=536.8 cy=171.8 /><circle cx=612.3 cy=263.0 /><circle cx=503.9 cy=395.8 /><circle cx=277.0 cy=249.9 /><circle cx=539.0 cy=342.6 /><circle cx=622.9 cy=309.1 /><circle cx=404.0 cy=345.9 /><circle cx=483.4 cy=159.5 /><circle cx=507.7 cy=321.1 /><circle cx=515.1 cy=205.5 /><circle cx=557.8 cy=388.6 /><circle cx=419.8 cy=342.6 /><circle cx=411.0 cy=117.8 /><circle cx=611.8 cy=397.4 /><circle cx=443.8 cy=411.0 /><circle cx=581.1 cy=158.9 /><circle cx=410.6 cy=160.9 /><circle cx=409.7 cy=227.8 /><circle cx=456.5 cy=340.8 /><circle cx=626.3 cy=307.8 /><circle cx=558.2 cy=390.5 /><circle cx=417.4 cy=216.7 /><circle cx=479.4 cy=350.4 /><circle cx=352.0 cy=260.7 /><circle cx=557.9 cy=361.2 /><circle cx=278.9 cy=392.6 /><circle cx=641.1 cy=353.2 /><circle cx=633.1 cy=384.3 /><circle cx=657.0 cy=220.6 /><circle cx=451.3 cy=269.1 /><circle cx=342.2 cy=377.9 /><circle cx=338.0 cy=131.0 /><circle cx=416.2 cy=242.4 /><circle cx=476.6 cy=354.2 /><circle cx=570.8 cy=373.3 /><circle cx=301.8 cy=283.8 /><circle cx=390.8 cy=294.0 /><circle cx=418.7 cy=262.4 /><circle cx=321.2 cy=151.2 /><circle cx=322.9 cy=172.0 /><circle cx=298.7 cy=296.5 /><circle cx=503.2 cy=248.0 /><circle cx=363.3 cy=310.6 /><circle cx=485.3 cy=237.3 /><circle cx=518.0 cy=262.7 /><circle cx=344.8 cy=152.6 /><circle cx=438.1 cy=128.5 /><circle cx=506.3 cy=346.3 /><circle cx=626.2 cy=277.7 /><circle cx=329.9 cy=124.7 /><circle cx=518.8 cy=234.5 /><circle cx=287.9 cy=261.3 /><circle cx=516.5 cy=168.2 /><circle cx=643.8 cy=142.9 /><circle cx=274.7 cy=311.1 /><circle cx=477.8 cy=153.8 /><circle cx=444.2 cy=403.1 /><circle cx=527.4 cy=238.2 /><circle cx=495.1 cy=132.5 /><circle cx=582.8 cy=228.1 /><circle cx=334.2 cy=327.7 /><circle cx=522.2 cy=281.7 /><circle cx=411.9 cy=257.9 /><circle cx=547.5 cy=191.8 /><circle cx=460.6 cy=408.2 /><circle cx=594.2 cy=122.0 /><circle cx=284.7 cy=131.2 /><circle cx=640.5 cy=256.9 /><circle cx=423.5 cy=220.0 /><circle cx=368.5 cy=404.9 /><circle cx=436.8 cy=126.5 /><circle cx=610.8 cy=251.3 /><circle cx=386.1 cy=268.6 /><circle cx=506.6 cy=216.1 /><circle cx=485.8 cy=319.6 /><circle cx=482.9 cy=364.1 /><circle cx=414.4 cy=196.3 /><circle cx=312.6 cy=172.3 /><circle cx=352.4 cy=254.0 /><circle cx=520.1 cy=174.5 /><circle cx=433.5 cy=153.7 /><circle cx=559.2 cy=266.6 /><circle cx=541.3 cy=387.1 /><circle cx=420.8 cy=415.7 /><circle cx=552.7 cy=373.6 /><circle cx=337.2 cy=270.2 /><circle cx=542.8 cy=331.6 /><circle cx=546.5 cy=285.3 /><circle cx=405.6 cy=261.0 /><circle cx=316.6 cy=276.7 /><circle cx=642.5 cy=364.2 /><circle cx=301.0 cy=396.7 /><circle cx=591.7 cy=161.5 /><circle cx=366.9 cy=189.9 /><circle cx=506.2 cy=327.5 /><circle cx=308.6 cy=121.8 /><circle cx=361.9 cy=123.3 /><circle cx=377.9 cy=153.7 /><circle cx=631.7 cy=206.7 /><circle cx=435.4 cy=256.0 /><circle cx=582.1 cy=188.9 /><circle cx=287.6 cy=349.9 /><circle cx=487.7 cy=184.9 /><circle cx=573.4 cy=188.1 /><circle cx=642.3 cy=259.9 /><circle cx=330.8 cy=172.8 /><circle cx=343.9 cy=383.7 /><circle cx=377.5 cy=154.9 /><circle cx=340.6 cy=222.4 /><circle cx=319.1 cy=412.8 /><circle cx=534.8 cy=375.8 /><circle cx=546.1 cy=346.9 /><circle cx=319.8 cy=378.6 /><circle cx=584.6 cy=129.5 /><circle cx=442.0 cy=366.9 /><circle cx=474.8 cy=313.0 /><circle cx=512.2 cy=293.1 /><circle cx=654.9 cy=177.4 /><circle cx=590.5 cy=177.2 /><circle cx=600.3 cy=382.7 /><circle cx=343.6 cy=208.4 /><circle cx=391.9 cy=274.6 /><circle cx=538.3 cy=233.5 /><circle cx=506.4 cy=408.6 /><circle cx=277.3 cy=338.2 /><circle cx=376.8 cy=275.4 /><circle cx=371.8 cy=342.9 /><circle cx=429.7 cy=408.7 /><circle cx=651.1 cy=222.0 /><circle cx=494.7 cy=302.3 /><circle cx=394.5 cy=407.4 /><circle cx=531.5 cy=387.2 /><circle cx=510.1 cy=333.4 /><circle cx=444.0 cy=320.1 /><circle cx=339.3 cy=324.9 /><circle cx=633.2 cy=386.5 /><circle cx=617.6 cy=130.4 /><circle cx=305.8 cy=198.0 /><circle cx=431.6 cy=230.4 /><circle cx=464.1 cy=257.0 /><circle cx=545.3 cy=311.6 /><circle cx=319.6 cy=311.7 /><circle cx=512.5 cy=158.5 /><circle cx=530.9 cy=355.3 /><circle cx=498.2 cy=132.4 /><circle cx=348.5 cy=318.3 /><circle cx=315.0 cy=168.1 /><circle cx=553.5 cy=199.0 /><circle cx=643.2 cy=208.8 /><circle cx=528.1 cy=416.1 /><circle cx=370.3 cy=290.7 /><circle cx=521.8 cy=141.2 /><circle cx=524.9 cy=399.0 /><circle cx=652.3 cy=327.0 /><circle cx=530.6 cy=358.3 /><circle cx=640.9 cy=122.5 /><circle cx=409.1 cy=307.6 /><circle cx=326.1 cy=188.3 /><circle cx=381.4 cy=410.8 /><circle cx=468.9 cy=242.2 /><circle cx=471.8 cy=345.6 /><circle cx=497.2 cy=381.4 /><circle cx=452.7 cy=379.7 /><circle cx=434.5 cy=357.1 /><circle cx=592.9 cy=208.5 /><circle cx=329.9 cy=242.7 /><circle cx=463.7 cy=303.8 /><circle cx=477.4 cy=218.5 /><circle cx=411.3 cy=276.6 /><circle cx=511.5 cy=195.5 /><circle cx=510.9 cy=299.1 /><circle cx=421.3 cy=278.6 /><circle cx=602.1 cy=282.6 /><circle cx=642.6 cy=287.3 /><circle cx=565.4 cy=127.0 /><circle cx=637.7 cy=238.8 /><circle cx=546.0 cy=297.3 /><circle cx=646.0 cy=318.0 /><circle cx=645.2 cy=143.1 /><circle cx=390.7 cy=301.6 /><circle cx=470.7 cy=198.6 /><circle cx=457.5 cy=371.7 /><circle cx=523.2 cy=203.2 /><circle cx=390.0 cy=380.6 /><circle cx=499.0 cy=251.6 /><circle cx=284.6 cy=268.7 /><circle cx=643.7 cy=145.1 /><circle cx=440.4 cy=241.9 /><circle cx=653.1 cy=257.0 /><circle cx=547.5 cy=131.6 /><circle cx=654.2 cy=324.8 /><circle cx=463.8 cy=244.6 /><circle cx=296.3 cy=206.0 /><circle cx=387.4 cy=394.0 /><circle cx=307.0 cy=125.3 /><circle cx=411.3 cy=314.3 /><circle cx=489.7 cy=302.2 /><circle cx=419.7 cy=373.0 /><circle cx=302.7 cy=188.8 /><circle cx=443.7 cy=411.8 /><circle cx=314.6 cy=174.9 /><circle cx=513.8 cy=301.0 /><circle cx=365.5 cy=219.3 /><circle cx=354.9 cy=165.9 /><circle cx=286.5 cy=408.2 /><circle cx=587.1 cy=242.3 /><circle cx=478.6 cy=332.7 /><circle cx=275.9 cy=194.6 /><circle cx=372.7 cy=156.9 /><circle cx=509.9 cy=314.1 /><circle cx=592.7 cy=376.4 /><circle cx=474.2 cy=362.7 /><circle cx=531.6 cy=395.4 /><circle cx=576.3 cy=262.8 /><circle cx=321.5 cy=230.1 /><circle cx=608.6 cy=241.2 /><circle cx=521.9 cy=218.5 /><circle cx=412.1 cy=265.1 /><circle cx=316.8 cy=237.6 /><circle cx=569.0 cy=248.2 /><circle cx=490.4 cy=358.3 /><circle cx=289.5 cy=194.3 /><circle cx=395.0 cy=402.9 /><circle cx=587.6 cy=255.8 /><circle cx=292.0 cy=150.4 /><circle cx=453.8 cy=407.3 /><circle cx=635.9 cy=218.1 /><circle cx=446.7 cy=394.2 /><circle cx=569.3 cy=142.3 /><circle cx=395.9 cy=247.3 /><circle cx=384.8 cy=263.3 /><circle cx=369.6 cy=275.4 /><circle cx=618.4 cy=173.7 /><circle cx=628.7 cy=251.9 /><circle cx=388.0 cy=185.4 /><circle cx=532.5 cy=288.6 /><circle cx=640.3 cy=312.1 /><circle cx=586.5 cy=181.8 /><circle cx=388.5 cy=118.6 /><circle cx=621.3 cy=323.9 /><circle cx=337.2 cy=407.3 /><circle cx=536.2 cy=255.4 /><circle cx=500.6 cy=121.6 /><circle cx=546.2 cy=377.4 /><circle cx=424.8 cy=245.5 /><circle cx=362.1 cy=168.4 /><circle cx=398.5 cy=284.4 /><circle cx=456.9 cy=308.7 /><circle cx=614.8 cy=311.4 /><circle cx=504.6 cy=414.6 /><circle cx=594.2 cy=292.8 /><circle cx=317.1 cy=216.8 /><circle cx=385.5 cy=331.1 /><circle cx=327.0 cy=353.6 /><circle cx=493.1 cy=172.1 /><circle cx=317.8 cy=315.2 /><circle cx=440.9 cy=164.7 /><circle cx=425.3 cy=177.2 /><circle cx=495.3 cy=144.9 /><circle cx=637.3 cy=246.4 /><circle cx=305.0 cy=349.8 /><circle cx=430.0 cy=416.7 /><circle cx=645.3 cy=144.8 /><circle cx=590.6 cy=215.6 /><circle cx=373.4 cy=181.9 /><circle cx=625.2 cy=398.1 /><circle cx=484.5 cy=188.5 /><circle cx=404.6 cy=168.1 /><circle cx=482.4 cy=383.7 /><circle cx=392.3 cy=335.5 /><circle cx=486.5 cy=383.4 /><circle cx=604.2 cy=240.7 /><circle cx=635.0 cy=348.4 /><circle cx=594.8 cy=207.8 /><circle cx=339.4 cy=394.8 /><circle cx=566.1 cy=302.7 /><circle cx=431.5 cy=321.3 /><circle cx=521.9 cy=211.6 /><circle cx=338.8 cy=178.4 /><circle cx=415.8 cy=307.7 /><circle cx=547.1 cy=138.6 /><circle cx=595.0 cy=220.9 /><circle cx=276.3 cy=172.8 /><circle cx=561.7 cy=168.2 /><circle cx=501.4 cy=131.2 /><circle cx=443.6 cy=254.5 /><circle cx=650.2 cy=122.1 /><circle cx=563.5 cy=296.8 /><circle cx=440.4 cy=372.0 /><circle cx=301.1 cy=399.9 /><circle cx=636.3 cy=193.8 /><circle cx=442.3 cy=371.1 /><circle cx=316.7 cy=220.1 /><circle cx=281.8 cy=227.1 /><circle cx=621.7 cy=369.1 /><circle cx=387.7 cy=206.9 /><circle cx=519.7 cy=361.9 /><circle cx=570.4 cy=353.0 /><circle cx=460.5 cy=192.6 /><circle cx=391.5 cy=338.2 /><circle cx=284.0 cy=294.6 /><circle cx=308.1 cy=295.3 /><circle cx=512.9 cy=350.2 /><circle cx=434.8 cy=387.8 /><circle cx=381.1 cy=140.6 /><circle cx=448.8 cy=118.0 /><circle cx=506.4 cy=169.7 /><circle cx=532.1 cy=330.8 /><circle cx=340.2 cy=244.3 /><circle cx=387.3 cy=329.6 /><circle cx=420.7 cy=182.4 /><circle cx=446.5 cy=299.5 /><circle cx=372.6 cy=294.5 /><circle cx=554.1 cy=243.2 /><circle cx=536.6 cy=403.1 /><circle cx=526.1 cy=264.0 /><circle cx=656.7 cy=161.9 /><circle cx=335.0 cy=327.4 /><circle cx=423.3 cy=376.6 /><circle cx=321.5 cy=395.2 /><circle cx=353.8 cy=184.6 /><circle cx=534.4 cy=158.6 /><circle cx=380.5 cy=280.3 /><circle cx=413.5 cy=180.6 /><circle cx=413.2 cy=336.2 /><circle cx=525.9 cy=211.2 /><circle cx=511.6 cy=250.2 /><circle cx=540.5 cy=332.0 /><circle cx=336.5 cy=359.6 /><circle cx=446.8 cy=158.6 /><circle cx=636.6 cy=347.9 /><circle cx=509.5 cy=143.6 /><circle cx=345.3 cy=365.5 /><circle cx=356.2 cy=225.8 /><circle cx=281.2 cy=374.7 /><circle cx=433.0 cy=203.7 /><circle cx=425.9 cy=157.5 /><circle cx=481.2 cy=262.8 /><circle cx=567.5 cy=339.0 /><circle cx=350.3 cy=196.0 /><circle cx=501.0 cy=301.2 /><circle cx=290.1 cy=246.6 /><circle cx=549.0 cy=242.3 /><circle cx=566.0 cy=122.0 /><circle cx=620.3 cy=239.9 /><circle cx=478.9 cy=265.0 /><circle cx=466.0 cy=391.4 /><circle cx=654.5 cy=294.8 /><circle cx=621.6 cy=414.7 /><circle cx=289.5 cy=137.4 /><circle cx=483.3 cy=208.4 /><circle cx=563.4 cy=249.2 /><circle cx=376.4 cy=413.0 /><circle cx=609.9 cy=193.6 /><circle cx=327.5 cy=281.5 /><circle cx=629.5 cy=362.9 /><circle cx=657.9 cy=397.4 /><circle cx=505.9 cy=245.4 /><circle cx=344.3 cy=248.5 /><circle cx=351.9 cy=329.5 /><circle cx=291.3 cy=120.0 /><circle cx=573.4 cy=221.3 /><circle cx=276.0 cy=187.2 /><circle cx=627.8 cy=124.6 /><circle cx=417.3 cy=295.9 /><circle cx=631.2 cy=330.0 /><circle cx=377.3 cy=262.4 /><circle cx=652.0 cy=118.1 /><circle cx=629.2 cy=329.4 /><circle cx=602.7 cy=132.7 /><circle cx=438.2 cy=311.3 /><circle cx=322.2 cy=239.5 /><circle cx=457.7 cy=196.8 /><circle cx=646.0 cy=386.7 /><circle cx=532.8 cy=146.0 /><circle cx=282.6 cy=373.2 /><circle cx=349.7 cy=273.8 /><circle cx=362.2 cy=413.1 /><circle cx=279.9 cy=333.9 /><circle cx=337.5 cy=274.2 /><circle cx=610.9 cy=387.7 /><circle cx=568.3 cy=343.1 /><circle cx=446.6 cy=190.4 /><circle cx=572.9 cy=352.4 /><circle cx=630.9 cy=252.8 /><circle cx=288.5 cy=405.6 /><circle cx=457.2 cy=260.1 /><circle cx=302.7 cy=180.5 /><circle cx=462.6 cy=209.8 /><circle cx=342.1 cy=361.2 /><circle cx=642.2 cy=181.2 /><circle cx=309.1 cy=286.2 /><circle cx=311.4 cy=408.4 /><circle cx=639.4 cy=272.6 /><circle cx=654.5 cy=357.8 /><circle cx=331.5 cy=291.5 /><circle cx=419.9 cy=156.0 /><circle cx=388.3 cy=205.8 /><circle cx=398.9 cy=117.8 /><circle cx=443.6 cy=253.2 /><circle cx=320.0 cy=411.4 /><circle cx=280.4 cy=141.7 /><circle cx=350.5 cy=347.3 /><circle cx=530.9 cy=165.2 /><circle cx=625.7 cy=240.8 /><circle cx=600.9 cy=228.2 /><circle cx=553.6 cy=280.6 /><circle cx=438.7 cy=245.9 /><circle cx=421.8 cy=307.2 /><circle cx=360.5 cy=359.7 /><circle cx=350.8 cy=283.4 /><circle cx=655.9 cy=121.0 /><circle cx=466.5 cy=133.3 /><circle cx=441.6 cy=178.4 /><circle cx=318.4 cy=368.9 /><circle cx=423.0 cy=357.2 /><circle cx=475.3 cy=246.3 /><circle cx=499.0 cy=196.9 /><circle cx=299.8 cy=272.0 /><circle cx=613.6 cy=145.8 /><circle cx=476.2 cy=236.3 /><circle cx=438.6 cy=184.6 /><circle cx=342.0 cy=198.1 /><circle cx=613.2 cy=269.8 /><circle cx=465.2 cy=142.2 /><circle cx=373.9 cy=360.8 /><circle cx=307.1 cy=260.0 /><circle cx=528.7 cy=228.2 /><circle cx=368.4 cy=397.7 /><circle cx=609.3 cy=154.6 /><circle cx=547.1 cy=287.9 /><circle cx=532.7 cy=291.6 /><circle cx=291.0 cy=294.2 /><circle cx=315.1 cy=269.6 /><circle cx=454.3 cy=276.0 /><circle cx=457.0 cy=373.5 /><circle cx=299.8 cy=412.4 /><circle cx=640.3 cy=282.7 /><circle cx=629.6 cy=166.6 /><circle cx=473.8 cy=145.7 /><circle cx=277.7 cy=343.7 /><circle cx=525.4 cy=172.2 /><circle cx=578.6 cy=155.9 /><circle cx=604.5 cy=405.0 /><circle cx=291.8 cy=349.0 /><circle cx=441.5 cy=261.3 /><circle cx=588.2 cy=122.1 /><circle cx=555.1 cy=412.7 /><circle cx=312.8 cy=219.6 /><circle cx=322.4 cy=136.9 /><circle cx=617.0 cy=381.5 /><circle cx=397.6 cy=353.9 /><circle cx=440.7 cy=357.3 /><circle cx=425.0 cy=224.3 /><circle cx=604.3 cy=136.8 /><circle cx=413.7 cy=239.5 /><circle cx=490.5 cy=277.2 /><circle cx=412.8 cy=336.1 /><circle cx=586.9 cy=219.5 /><circle cx=417.1 cy=310.6 /><circle cx=360.7 cy=173.6 /><circle cx=621.9 cy=305.2 /><circle cx=415.6 cy=332.2 /><circle cx=294.2 cy=334.5 /><circle cx=514.4 cy=186.3 /><circle cx=556.8 cy=246.3 /><circle cx=613.7 cy=268.8 /><circle cx=368.9 cy=341.4 /><circle cx=542.1 cy=194.7 /><circle cx=382.2 cy=334.2 /><circle cx=530.6 cy=345.6 /><circle cx=313.5 cy=120.8 /><circle cx=588.1 cy=264.3 /><circle cx=384.5 cy=177.2 /><circle cx=478.7 cy=281.4 /><circle cx=644.8 cy=317.6 /><circle cx=486.7 cy=173.2 /><circle cx=356.4 cy=272.1 /><circle cx=528.0 cy=249.1 /><circle cx=504.6 cy=305.2 /><circle cx=603.4 cy=314.9 /><circle cx=303.6 cy=251.7 /><circle cx=621.3 cy=161.3 /><circle cx=422.3 cy=229.7 /><circle cx=577.8 cy=216.0 /><circle cx=493.5 cy=208.4 /><circle cx=589.6 cy=218.3 /><circle cx=481.2 cy=223.9 /><circle cx=640.8 cy=233.9 /><circle cx=340.7 cy=251.6 /><circle cx=562.6 cy=383.5 /><circle cx=480.0 cy=157.8 /><circle cx=303.0 cy=170.5 /><circle cx=498.8 cy=143.2 /><circle cx=392.8 cy=376.5 /><circle cx=515.5 cy=265.6 /><circle cx=511.5 cy=218.5 /><circle cx=626.5 cy=262.7 /><circle cx=534.1 cy=379.2 /><circle cx=650.3 cy=208.1 /><circle cx=426.2 cy=318.9 /><circle cx=626.9 cy=361.7 /><circle cx=517.9 cy=292.0 /><circle cx=637.3 cy=221.7 /><circle cx=398.3 cy=154.2 /><circle cx=472.2 cy=368.0 /><circle cx=654.0 cy=205.6 /><circle cx=371.5 cy=306.5 /><circle cx=539.0 cy=176.8 /><circle cx=621.5 cy=407.5 /><circle cx=327.7 cy=286.0 /><circle cx=552.5 cy=335.0 /><circle cx=442.8 cy=133.5 /><circle cx=566.9 cy=279.3 /><circle cx=620.4 cy=218.0 /><circle cx=382.4 cy=218.1 /><circle cx=285.0 cy=300.4 /><circle cx=542.6 cy=161.2 /><circle cx=557.9 cy=246.2 /><circle cx=367.4 cy=123.7 /><circle cx=312.1 cy=143.7 /><circle cx=323.8 cy=319.9 /><circle cx=390.0 cy=285.4 /><circle cx=582.9 cy=163.5 /><circle cx=415.3 cy=406.7 /><circle cx=633.0 cy=392.1 /><circle cx=470.4 cy=160.4 /><circle cx=540.2 cy=177.2 /><circle cx=399.1 cy=412.8 /><circle cx=568.2 cy=248.2 /><circle cx=327.1 cy=264.6 /><circle cx=548.4 cy=191.1 /><circle cx=509.5 cy=223.9 /><circle cx=486.1 cy=377.4 /><circle cx=389.2 cy=319.0 /><circle cx=371.5 cy=396.8 /><circle cx=605.6 cy=120.3 /><circle cx=536.5 cy=223.6 /><circle cx=635.7 cy=189.4 /><circle cx=389.6 cy=394.6 /><circle cx=594.0 cy=339.1 /><circle cx=274.4 cy=406.1 /><circle cx=382.2 cy=184.5 /><circle cx=294.2 cy=133.6 /><circle cx=617.6 cy=270.3 /><circle cx=318.5 cy=404.3 /><circle cx=315.4 cy=413.4 /><circle cx=567.4 cy=216.2 /><circle cx=447.2 cy=213.1 /><circle cx=305.1 cy=234.4 /><circle cx=471.5 cy=274.2 /><circle cx=648.9 cy=394.0 /><circle cx=393.8 cy=317.5 /><circle cx=446.6 cy=353.9 /><circle cx=421.4 cy=330.8 /><circle cx=533.8 cy=153.2 /><circle cx=374.6 cy=331.2 /><circle cx=479.9 cy=309.6 /><circle cx=559.9 cy=417.5 /><circle cx=457.5 cy=363.6 /><circle cx=353.5 cy=230.6 /><circle cx=477.1 cy=278.5 /><circle cx=324.4 cy=410.3 /><circle cx=484.1 cy=126.2 /><circle cx=649.7 cy=370.1 /><circle cx=462.7 cy=215.2 /><circle cx=590.8 cy=392.9 /><circle cx=437.1 cy=384.8 /><circle cx=377.6 cy=380.8 /><circle cx=556.1 cy=262.2 /><circle cx=543.7 cy=372.1 /><circle cx=324.0 cy=267.7 /><circle cx=501.9 cy=399.7 /><circle cx=296.6 cy=239.0 /><circle cx=458.1 cy=213.0 /><circle cx=301.9 cy=387.0 /><circle cx=519.1 cy=314.9 /><circle cx=641.2 cy=284.7 /><circle cx=655.0 cy=142.5 /><circle cx=373.5 cy=396.9 /><circle cx=377.2 cy=276.4 /><circle cx=420.4 cy=328.9 /><circle cx=467.4 cy=344.7 /><circle cx=575.5 cy=139.6 /><circle cx=644.0 cy=215.4 /><circle cx=394.4 cy=228.7 /><circle cx=657.6 cy=137.0 /><circle cx=642.4 cy=288.7 /><circle cx=407.9 cy=236.6 /><circle cx=305.5 cy=372.3 /><circle cx=400.3 cy=200.3 /><circle cx=322.2 cy=276.8 /><circle cx=656.2 cy=223.6 /><circle cx=626.0 cy=243.8 /><circle cx=611.5 cy=347.3 /><circle cx=488.7 cy=329.8 /><circle cx=288.4 cy=306.8 /><circle cx=293.3 cy=253.9 /><circle cx=397.3 cy=208.9 /><circle cx=559.6 cy=120.6 /><circle cx=566.2 cy=192.9 /><circle cx=490.9 cy=307.2 /><circle cx=622.5 cy=189.9 /><circle cx=327.2 cy=252.1 /><circle cx=643.1 cy=282.3 /><circle cx=384.8 cy=383.4 /><circle cx=645.6 cy=312.9 /><circle cx=560.7 cy=321.8 /><circle cx=655.3 cy=277.6 /><circle cx=469.9 cy=292.6 /><circle cx=651.2 cy=245.6 /><circle cx=339.6 cy=360.0 /><circle cx=550.9 cy=376.9 /><circle cx=523.2 cy=351.9 /><circle cx=533.5 cy=382.4 /><circle cx=658.1 cy=381.1 /><circle cx=581.3 cy=218.0 /><circle cx=639.5 cy=289.5 /><circle cx=508.6 cy=178.6 /><circle cx=464.5 cy=275.8 /><circle cx=438.6 cy=288.3 /><circle cx=600.7 cy=392.0 /><circle cx=532.0 cy=300.5 /><circle cx=578.8 cy=320.9 /><circle cx=355.1 cy=229.7 /><circle cx=346.4 cy=209.5 /><circle cx=303.1 cy=358.6 /><circle cx=281.7 cy=234.6 /><circle cx=355.9 cy=357.7 /><circle cx=496.7 cy=128.0 /><circle cx=341.8 cy=338.7 /><circle cx=303.2 cy=342.4 /><circle cx=392.7 cy=178.8 /><circle cx=334.1 cy=187.5 /><circle cx=575.7 cy=310.8 /><circle cx=496.9 cy=264.2 /><circle cx=358.5 cy=140.9 /><circle cx=431.4 cy=149.5 /><circle cx=368.0 cy=144.6 /><circle cx=627.5 cy=296.3 /><circle cx=421.7 cy=335.8 /><circle cx=531.0 cy=128.2 /><circle cx=505.8 cy=290.7 /><circle cx=561.0 cy=192.3 /><circle cx=620.6 cy=245.2 /><circle cx=620.2 cy=309.4 /><circle cx=530.2 cy=144.9 /><circle cx=513.2 cy=259.0 /><circle cx=598.0 cy=180.2 /><circle cx=623.8 cy=205.1 /><circle cx=651.3 cy=415.4 /><circle cx=435.0 cy=310.7 /><circle cx=598.9 cy=163.0 /><circle cx=350.5 cy=348.4 /><circle cx=443.3 cy=273.8 /><circle cx=600.7 cy=135.9 /><circle cx=620.8 cy=189.4 /><circle cx=515.1 cy=127.7 /><circle cx=519.8 cy=196.0 /><circle cx=407.5 cy=267.8 /><circle cx=563.0 cy=143.8 /><circle cx=648.1 cy=190.2 /><circle cx=404.5 cy=386.5 /><circle cx=498.9 cy=403.8 /><circle cx=512.6 cy=248.1 /><circle cx=525.0 cy=135.0 /><circle cx=531.0 cy=360.9 /><circle cx=566.2 cy=161.4 /><circle cx=553.4 cy=255.5 /><circle cx=303.0 cy=378.7 /><circle cx=605.5 cy=125.9 /><circle cx=542.3 cy=259.5 /><circle cx=413.7 cy=125.3 /><circle cx=538.0 cy=285.5 /><circle cx=454.7 cy=363.0 /><circle cx=328.8 cy=309.5 /><circle cx=401.1 cy=351.9 /><circle cx=518.1 cy=249.5 /><circle cx=481.2 cy=363.4 /><circle cx=348.7 cy=347.9 /><circle cx=409.0 cy=256.4 /><circle cx=477.5 cy=298.4 /><circle cx=580.9 cy=323.0 /><circle cx=443.9 cy=195.7 /><circle cx=469.5 cy=364.2 /><circle cx=435.3 cy=289.7 /><circle cx=305.4 cy=286.1 /><circle cx=355.3 cy=388.8 /><circle cx=580.6 cy=363.4 /><circle cx=610.7 cy=235.0 /><circle cx=465.8 cy=358.8 /><circle cx=625.9 cy=411.9 /><circle cx=391.8 cy=241.6 /><circle cx=316.8 cy=315.4 /><circle cx=291.4 cy=271.4 /><circle cx=486.1 cy=258.5 /><circle cx=360.4 cy=158.8 /><circle cx=506.4 cy=191.4 /><circle cx=368.7 cy=336.7 /><circle cx=390.5 cy=350.8 /><circle cx=538.1 cy=394.4 /><circle cx=592.3 cy=150.1 /><circle cx=329.7 cy=268.2 /><circle cx=586.2 cy=139.2 /><circle cx=561.7 cy=130.1 /><circle cx=466.7 cy=409.5 /><circle cx=570.4 cy=257.0 /><circle cx=498.4 cy=323.3 /><circle cx=313.1 cy=387.9 /><circle cx=553.7 cy=248.0 /><circle cx=289.1 cy=128.8 /><circle cx=613.2 cy=344.8 /><circle cx=558.0 cy=378.4 /><circle cx=283.8 cy=223.8 /><circle cx=430.0 cy=270.0 /><circle cx=303.3 cy=119.2 /><circle cx=330.4 cy=291.6 /><circle cx=463.5 cy=361.5 /><circle cx=649.6 cy=251.2 /><circle cx=387.8 cy=142.9 /><circle cx=489.6 cy=346.8 /><circle cx=455.8 cy=243.2 /><circle cx=549.2 cy=203.4 /><circle cx=405.0 cy=315.5 /><circle cx=343.2 cy=413.9 /><circle cx=607.6 cy=241.7 /><circle cx=565.6 cy=267.7 /><circle cx=300.1 cy=141.1 /><circle cx=409.2 cy=359.7 /><circle cx=637.0 cy=121.0 /><circle cx=535.4 cy=241.7 /><circle cx=510.1 cy=208.5 /><circle cx=551.8 cy=155.3 /><circle cx=628.3 cy=228.6 /><circle cx=408.3 cy=123.0 /><circle cx=514.5 cy=341.3 /><circle cx=549.0 cy=241.9 /><circle cx=600.3 cy=285.2 /><circle cx=628.9 cy=287.0 /><circle cx=550.6 cy=217.4 /><circle cx=389.2 cy=247.8 /><circle cx=481.2 cy=349.3 /><circle cx=587.6 cy=313.2 /><circle cx=441.4 cy=406.3 /><circle cx=560.0 cy=193.1 /><circle cx=584.9 cy=142.4 /><circle cx=415.8 cy=170.5 /><circle cx=534.7 cy=212.6 /><circle cx=428.9 cy=273.0 /><circle cx=460.5 cy=321.6 /><circle cx=387.6 cy=279.1 /><circle cx=539.6 cy=375.1 /><circle cx=274.8 cy=212.8 /><circle cx=442.6 cy=194.3 /><circle cx=275.5 cy=163.8 /><circle cx=642.9 cy=236.3 /><circle cx=523.1 cy=378.3 /><circle cx=423.5 cy=365.2 /><circle cx=361.8 cy=163.2 /><circle cx=374.6 cy=362.0 /><circle cx=346.4 cy=216.9 /><circle cx=460.6 cy=246.4 /><circle cx=279.0 cy=380.1 /><circle cx=355.1 cy=282.8 /><circle cx=318.7 cy=360.4 /><circle cx=546.0 cy=118.8 /><circle cx=555.0 cy=170.8 /><circle cx=277.5 cy=313.1 /><circle cx=599.0 cy=124.4 /><circle cx=352.7 cy=327.6 /><circle cx=475.1 cy=393.4 /><circle cx=581.9 cy=169.8 /><circle cx=322.4 cy=382.3 /><circle cx=607.5 cy=323.4 /><circle cx=622.2 cy=164.1 /><circle cx=652.0 cy=399.8 /><circle cx=317.3 cy=329.1 /><circle cx=469.0 cy=336.4 /><circle cx=526.0 cy=389.5 /><circle cx=622.0 cy=228.4 /><circle cx=424.5 cy=204.7 /><circle cx=630.9 cy=378.9 /><circle cx=496.3 cy=144.9 /><circle cx=513.9 cy=365.9 /><circle cx=383.0 cy=193.9 /><circle cx=626.7 cy=377.2 /><circle cx=405.2 cy=208.5 /><circle cx=457.5 cy=121.8 /><circle cx=649.0 cy=182.9 /><circle cx=531.0 cy=197.9 /><circle cx=548.3 cy=196.3 /><circle cx=541.0 cy=402.1 /><circle cx=538.9 cy=249.7 /><circle cx=279.5 cy=399.1 /><circle cx=595.2 cy=160.9 /><circle cx=467.8 cy=125.7 /><circle cx=455.9 cy=290.3 /><circle cx=627.8 cy=370.8 /><circle cx=499.3 cy=206.3 /><circle cx=287.7 cy=276.4 /><circle cx=574.9 cy=265.9 /><circle cx=350.9 cy=277.3 /><circle cx=511.6 cy=118.9 /><circle cx=294.0 cy=389.1 /><circle cx=502.5 cy=374.5 /><circle cx=378.4 cy=343.5 /><circle cx=443.7 cy=236.1 /><circle cx=404.0 cy=157.2 /><circle cx=547.1 cy=383.4 /><circle cx=640.5 cy=196.6 /><circle cx=401.5 cy=279.3 /><circle cx=301.6 cy=385.9 /><circle cx=656.0 cy=178.5 /><circle cx=636.7 cy=413.9 /><circle cx=539.9 cy=344.1 /><circle cx=596.8 cy=391.7 /><circle cx=538.8 cy=141.8 /><circle cx=450.6 cy=183.3 /><circle cx=449.9 cy=178.3 /><circle cx=651.4 cy=358.1 /><circle cx=386.5 cy=318.7 /><circle cx=480.6 cy=189.4 /><circle cx=647.8 cy=284.7 /><circle cx=514.7 cy=297.9 /><circle cx=586.4 cy=135.4 /><circle cx=296.9 cy=397.5 /><circle cx=641.7 cy=155.4 /><circle cx=464.7 cy=352.9 /><circle cx=605.4 cy=415.7 /><circle cx=597.8 cy=405.1 /><circle cx=465.1 cy=393.4 /><circle cx=555.7 cy=244.5 /><circle cx=332.0 cy=211.4 /><circle cx=658.2 cy=290.0 /><circle cx=481.9 cy=168.4 /><circle cx=501.2 cy=414.1 /><circle cx=354.4 cy=143.7 /><circle cx=476.0 cy=354.0 /><circle cx=437.5 cy=365.5 /><circle cx=384.3 cy=392.4 /><circle cx=438.7 cy=290.6 /><circle cx=447.8 cy=411.1 /><circle cx=624.5 cy=291.5 /><circle cx=290.7 cy=382.5 /><circle cx=405.4 cy=156.2 /><circle cx=283.9 cy=390.3 /><circle cx=382.3 cy=150.5 /><circle cx=317.0 cy=327.4 /><circle cx=649.6 cy=352.7 /><circle cx=315.1 cy=304.7 /><circle cx=538.2 cy=376.0 /><circle cx=316.5 cy=145.7 /><circle cx=569.5 cy=386.6 /><circle cx=526.9 cy=286.9 /><circle cx=280.3 cy=122.5 /><circle cx=444.3 cy=307.2 /><circle cx=575.2 cy=142.3 /><circle cx=345.1 cy=157.8 /><circle cx=313.9 cy=385.3 /><circle cx=462.2 cy=201.3 /><circle cx=487.6 cy=399.3 /><circle cx=359.5 cy=132.1 /><circle cx=303.5 cy=135.2 /><circle cx=634.8 cy=129.6 /><circle cx=465.5 cy=139.6 /><circle cx=407.1 cy=409.1 /><circle cx=372.4 cy=151.5 /><circle cx=624.5 cy=275.6 /><circle cx=276.0 cy=242.8 /><circle cx=510.4 cy=121.0 /><circle cx=538.4 cy=359.8 /><circle cx=486.4 cy=120.3 /><circle cx=597.4 cy=358.2 /><circle cx=374.7 cy=277.4 /><circle cx=375.0 cy=405.3 /><circle cx=553.8 cy=125.2 /><circle cx=475.2 cy=274.0 /><circle cx=465.6 cy=386.0 /><circle cx=290.3 cy=358.4 /><circle cx=435.3 cy=394.2 /><circle cx=528.5 cy=300.8 /><circle cx=497.2 cy=259.0 /><circle cx=652.0 cy=308.4 /><circle cx=335.6 cy=139.1 /><circle cx=402.7 cy=367.6 /><circle cx=517.9 cy=120.8 /><circle cx=629.6 cy=140.1 /><circle cx=436.9 cy=143.6 /><circle cx=299.6 cy=224.7 /><circle cx=541.4 cy=242.7 /><circle cx=498.5 cy=259.8 /><circle cx=324.3 cy=232.0 /><circle cx=378.2 cy=375.0 /><circle cx=504.2 cy=336.9 /><circle cx=281.8 cy=155.0 /><circle cx=281.9 cy=154.5 /><circle cx=527.2 cy=127.2 /><circle cx=499.7 cy=346.6 /><circle cx=657.4 cy=416.7 /><circle cx=411.2 cy=212.7 /><circle cx=291.8 cy=374.9 /><circle cx=620.4 cy=321.6 /><circle cx=389.6 cy=156.4 /><circle cx=419.8 cy=194.1 /><circle cx=305.7 cy=358.3 /><circle cx=305.3 cy=234.3 /><circle cx=429.1 cy=311.5 /><circle cx=645.5 cy=193.7 /><circle cx=614.0 cy=162.4 /><circle cx=509.7 cy=397.4 /><circle cx=295.1 cy=146.8 /><circle cx=382.4 cy=337.7 /><circle cx=374.1 cy=248.9 /><circle cx=405.5 cy=289.8 /><circle cx=523.2 cy=409.9 /><circle cx=338.1 cy=334.4 /><circle cx=600.6 cy=193.8 /><circle cx=648.2 cy=197.4 /><circle cx=658.4 cy=138.4 /><circle cx=457.4 cy=199.5 /><circle cx=562.5 cy=152.1 /><circle cx=334.8 cy=201.7 /><circle cx=391.6 cy=364.1 /><circle cx=465.0 cy=385.2 /><circle cx=577.0 cy=163.1 /><circle cx=314.6 cy=404.8 /><circle cx=435.3 cy=174.7 /><circle cx=305.6 cy=349.2 /><circle cx=568.9 cy=245.7 /><circle cx=594.5 cy=244.3 /><circle cx=468.4 cy=323.5 /><circle cx=427.9 cy=288.3 /><circle cx=425.7 cy=178.6 /><circle cx=478.3 cy=310.4 /><circle cx=490.0 cy=193.6 /><circle cx=514.1 cy=327.0 /><circle cx=400.6 cy=300.0 /><circle cx=446.0 cy=252.4 /><circle cx=494.1 cy=336.8 /><circle cx=521.5 cy=350.7 /><circle cx=541.5 cy=174.3 /><circle cx=397.4 cy=351.1 /><circle cx=334.9 cy=144.5 /><circle cx=574.5 cy=172.9 /><circle cx=543.3 cy=411.8 /><circle cx=406.0 cy=219.0 /><circle cx=436.9 cy=231.6 /><circle cx=541.3 cy=159.0 /><circle cx=632.0 cy=217.5 /><circle cx=581.3 cy=247.8 /><circle cx=606.3 cy=378.9 /><circle cx=478.9 cy=221.6 /><circle cx=458.7 cy=404.8 /><circle cx=277.5 cy=301.1 /><circle cx=493.6 cy=380.1 /><circle cx=490.0 cy=323.9 /><circle cx=621.9 cy=394.3 /><circle cx=329.7 cy=348.8 /><circle cx=579.4 cy=339.1 /><circle cx=328.9 cy=387.5 /><circle cx=345.3 cy=158.5 /><circle cx=407.8 cy=401.2 /><circle cx=619.0 cy=201.5 /><circle cx=394.4 cy=140.1 /><circle cx=466.9 cy=184.2 /><circle cx=522.6 cy=196.3 /><circle cx=384.8 cy=176.7 /><circle cx=616.4 cy=231.3 /><circle cx=558.3 cy=228.9 /><circle cx=658.1 cy=225.3 /><circle cx=457.8 cy=210.4 /><circle cx=563.9 cy=176.3 /><circle cx=378.5 cy=309.7 /><circle cx=373.9 cy=379.4 /><circle cx=549.8 cy=148.1 /><circle cx=653.5 cy=264.5 /><circle cx=493.1 cy=406.7 /><circle cx=514.1 cy=176.7 /><circle cx=332.5 cy=217.0 /><circle cx=654.4 cy=191.8 /><circle cx=455.1 cy=274.8 /><circle cx=405.4 cy=236.1 /><circle cx=409.2 cy=171.8 /><circle cx=397.3 cy=363.8 /><circle cx=613.3 cy=256.1 /><circle cx=404.0 cy=175.1 /><circle cx=325.6 cy=225.6 /><circle cx=381.0 cy=299.2 /><circle cx=390.0 cy=184.9 /><circle cx=514.1 cy=379.1 /><circle cx=485.4 cy=208.1 /><circle cx=451.5 cy=281.8 /><circle cx=413.5 cy=140.8 /><circle cx=369.9 cy=329.3 /><circle cx=291.8 cy=352.7 /><circle cx=441.6 cy=324.9 /><circle cx=289.4 cy=370.7 /><circle cx=546.5 cy=258.9 /><circle cx=384.5 cy=312.2 /><circle cx=471.2 cy=360.1 /><circle cx=509.7 cy=360.5 /><circle cx=411.3 cy=165.8 /><circle cx=582.8 cy=265.5 /><circle cx=380.7 cy=253.6 /><circle cx=552.3 cy=164.4 /><circle cx=374.3 cy=230.0 /><circle cx=561.4 cy=388.8 /><circle cx=630.5 cy=393.7 /><circle cx=463.4 cy=409.3 /><circle cx=566.4 cy=407.6 /><circle cx=437.6 cy=380.7 /><circle cx=555.5 cy=382.6 /><circle cx=602.9 cy=197.6 /><circle cx=573.9 cy=280.9 /><circle cx=602.5 cy=217.1 /><circle cx=529.0 cy=191.6 /><circle cx=330.4 cy=190.0 /><circle cx=320.9 cy=264.7 /><circle cx=282.2 cy=368.4 /><circle cx=314.1 cy=246.6 /><circle cx=317.8 cy=173.7 /><circle cx=343.3 cy=220.5 /><circle cx=278.8 cy=170.0 /><circle cx=330.6 cy=290.9 /><circle cx=366.1 cy=238.5 /><circle cx=571.3 cy=332.0 /><circle cx=489.9 cy=224.3 /><circle cx=567.8 cy=130.6 /><circle cx=340.1 cy=320.4 /><circle cx=469.7 cy=160.8 /><circle cx=313.2 cy=326.9 /><circle cx=526.3 cy=341.5 /><circle cx=368.9 cy=412.5 /><circle cx=640.5 cy=349.0 /><circle cx=388.0 cy=237.6 /><circle cx=445.4 cy=218.7 /><circle cx=555.2 cy=339.6 /><circle cx=624.0 cy=331.9 /><circle cx=587.5 cy=313.8 /><circle cx=336.4 cy=135.9 /><circle cx=564.9 cy=244.4 /><circle cx=282.9 cy=395.5 /><circle cx=359.8 cy=155.7 /><circle cx=362.2 cy=228.4 /><circle cx=527.6 cy=179.7 /><circle cx=370.0 cy=162.8 /><circle cx=592.2 cy=291.8 /><circle cx=628.1 cy=324.4 /><circle cx=526.8 cy=245.5 /><circle cx=580.5 cy=415.0 /><circle cx=410.3 cy=214.0 /><circle cx=561.5 cy=363.4 /><circle cx=536.2 cy=404.4 /><circle cx=620.2 cy=135.9 /><circle cx=501.2 cy=220.8 /><circle cx=470.5 cy=307.7 /><circle cx=333.8 cy=163.5 /><circle cx=539.7 cy=273.5 /><circle cx=301.5 cy=384.5 /><circle cx=572.5 cy=237.1 /><circle cx=283.3 cy=378.1 /><circle cx=315.1 cy=133.3 /><circle cx=464.2 cy=411.2 /><circle cx=545.1 cy=352.0 /><circle cx=615.8 cy=249.1 /><circle cx=432.6 cy=228.6 /><circle cx=297.9 cy=230.6 /><circle cx=566.2 cy=362.0 /><circle cx=572.1 cy=282.3 /><circle cx=518.0 cy=373.1 /><circle cx=594.6 cy=271.1 /><circle cx=296.1 cy=245.0 /><circle cx=367.2 cy=140.4 /><circle cx=591.1 cy=134.4 /><circle cx=460.0 cy=167.2 /><circle cx=611.3 cy=153.1 /><circle cx=327.8 cy=268.6 /><circle cx=648.0 cy=241.4 /><circle cx=386.4 cy=208.6 /><circle cx=526.6 cy=159.9 /><circle cx=380.6 cy=140.8 /><circle cx=412.7 cy=394.4 /><circle cx=389.9 cy=352.3 /><circle cx=361.5 cy=288.0 /><circle cx=326.0 cy=364.7 /><circle cx=542.3 cy=211.9 /><circle cx=421.1 cy=341.4 /><circle cx=315.0 cy=374.2 /><circle cx=472.4 cy=191.9 /><circle cx=360.1 cy=370.4 /><circle cx=596.0 cy=229.3 /><circle cx=411.6 cy=140.1 /><circle cx=376.9 cy=167.7 /><circle cx=609.9 cy=295.2 /><circle cx=505.5 cy=173.3 /><circle cx=319.8 cy=162.4 /><circle cx=404.8 cy=150.7 /><circle cx=284.3 cy=339.2 /><circle cx=297.4 cy=128.0 /><circle cx=612.2 cy=399.2 /><circle cx=579.3 cy=390.3 /><circle cx=288.0 cy=246.1 /><circle cx=583.7 cy=202.0 /><circle cx=397.9 cy=406.1 /><circle cx=284.8 cy=256.4 /><circle cx=397.9 cy=312.4 /><circle cx=532.1 cy=168.6 /><circle cx=560.2 cy=171.1 /><circle cx=392.6 cy=238.6 /><circle cx=566.4 cy=327.8 /><circle cx=473.2 cy=180.1 /><circle cx=654.5 cy=268.9 /><circle cx=380.3 cy=194.1 /><circle cx=617.5 cy=392.5 /><circle cx=413.9 cy=268.8 /><circle cx=472.6 cy=155.6 /><circle cx=469.1 cy=328.7 /><circle cx=281.5 cy=202.6 /><circle cx=612.6 cy=124.0 /><circle cx=398.4 cy=267.1 /><circle cx=375.1 cy=232.6 /><circle cx=465.4 cy=384.2 /><circle cx=654.1 cy=176.3 /><circle cx=449.9 cy=130.4 /><circle cx=539.7 cy=164.1 /><circle cx=346.9 cy=223.6 /><circle cx=420.5 cy=129.5 /><circle cx=478.3 cy=232.1 /><circle cx=452.7 cy=178.9 /><circle cx=444.1 cy=340.8 /><circle cx=488.9 cy=267.0 /><circle cx=412.3 cy=380.3 /><circle cx=402.8 cy=144.0 /><circle cx=495.5 cy=338.0 /><circle cx=372.2 cy=123.3 /><circle cx=337.5 cy=156.9 /><circle cx=656.4 cy=236.7 /><circle cx=451.9 cy=305.2 /><circle cx=623.4 cy=408.6 /><circle cx=574.4 cy=415.1 /><circle cx=322.0 cy=342.9 /><circle cx=618.7 cy=125.1 /><circle cx=391.0 cy=356.1 /><circle cx=349.2 cy=167.3 /><circle cx=360.1 cy=414.4 /><circle cx=519.0 cy=272.3 /><circle cx=413.2 cy=181.5 /><circle cx=334.4 cy=360.6 /><circle cx=567.8 cy=249.4 /><circle cx=344.9 cy=324.9 /><circle cx=637.1 cy=329.6 /><circle cx=460.3 cy=382.6 /><circle cx=400.6 cy=141.1 /><circle cx=376.8 cy=334.7 /><circle cx=494.9 cy=253.3 /><circle cx=428.7 cy=260.7 /><circle cx=523.0 cy=388.3 /><circle cx=412.1 cy=121.2 /><circle cx=644.4 cy=403.5 /><circle cx=481.6 cy=228.6 /><circle cx=337.9 cy=166.1 /><circle cx=599.9 cy=253.5 /><circle cx=406.7 cy=280.9 /><circle cx=349.1 cy=205.4 /><circle cx=492.0 cy=382.9 /><circle cx=366.9 cy=171.1 /><circle cx=475.3 cy=252.2 /><circle cx=650.7 cy=153.3 /><circle cx=347.3 cy=324.7 /><circle cx=592.6 cy=165.9 /><circle cx=397.1 cy=280.2 /><circle cx=514.0 cy=141.2 /><circle cx=562.4 cy=329.1 /><circle cx=616.8 cy=303.3 /><circle cx=514.4 cy=399.1 /><circle cx=449.4 cy=365.1 /><circle cx=371.3 cy=301.8 /><circle cx=486.5 cy=332.3 /><circle cx=420.9 cy=403.2 /><circle cx=622.4 cy=222.3 /><circle cx=333.9 cy=381.4 /><circle cx=280.8 cy=328.6 /><circle cx=565.5 cy=125.2 /><circle cx=351.8 cy=297.2 /><circle cx=558.9 cy=385.2 /><circle cx=347.9 cy=323.7 /><circle cx=531.8 cy=202.1 /><circle cx=378.0 cy=270.4 /><circle cx=655.0 cy=122.3 /><circle cx=402.4 cy=371.7 /><circle cx=526.3 cy=329.5 /><circle cx=315.7 cy=142.3 /><circle cx=357.9 cy=152.5 /><circle cx=376.3 cy=211.9 /><circle cx=472.0 cy=334.3 /><circle cx=458.2 cy=233.0 /><circle cx=467.5 cy=294.8 /><circle cx=510.7 cy=223.3 /><circle cx=284.2 cy=282.8 /><circle cx=364.5 cy=260.6 /><circle cx=526.4 cy=163.0 /><circle cx=485.6 cy=139.7 /><circle cx=449.7 cy=347.2 /><circle cx=588.3 cy=359.1 /><circle cx=482.8 cy=275.5 /><circle cx=305.8 cy=268.1 /><circle cx=434.6 cy=289.7 /><circle cx=329.9 cy=336.2 /><circle cx=552.5 cy=365.2 /><circle cx=602.0 cy=150.2 /><circle cx=362.4 cy=363.7 /><circle cx=634.8 cy=286.9 /><circle cx=306.8 cy=236.6 /><circle cx=594.9 cy=151.7 /><circle cx=425.4 cy=125.3 /><circle cx=482.7 cy=153.5 /><circle cx=499.7 cy=162.6 /><circle cx=404.9 cy=384.6 /><circle cx=602.4 cy=281.4 /><circle cx=306.4 cy=127.6 /><circle cx=387.4 cy=245.6 /><circle cx=277.5 cy=202.5 /><circle cx=309.7 cy=304.2 /><circle cx=409.9 cy=130.6 /><circle cx=656.5 cy=321.0 /><circle cx=536.2 cy=363.5 /><circle cx=600.1 cy=207.0 /><circle cx=526.6 cy=216.7 /><circle cx=641.5 cy=176.0 /><circle cx=586.1 cy=393.3 /><circle cx=469.3 cy=340.2 /><circle cx=447.6 cy=280.7 /><circle cx=470.8 cy=165.6 /><circle cx=431.6 cy=236.3 /><circle cx=544.1 cy=315.4 /><circle cx=586.1 cy=406.6 /><circle cx=394.5 cy=209.2 /><circle cx=314.2 cy=266.1 /><circle cx=310.0 cy=345.5 /><circle cx=318.6 cy=388.5 /><circle cx=650.4 cy=386.3 /><circle cx=368.1 cy=290.3 /><circle cx=386.2 cy=210.1 /><circle cx=570.7 cy=316.0 /><circle cx=626.9 cy=220.8 /><circle cx=426.7 cy=250.1 /><circle cx=655.1 cy=172.6 /><circle cx=477.5 cy=247.2 /><circle cx=473.0 cy=256.1 /><circle cx=621.7 cy=127.8 /><circle cx=608.8 cy=184.5 /><circle cx=414.6 cy=361.5 /><circle cx=504.0 cy=329.3 /><circle cx=359.4 cy=366.4 /><circle cx=499.7 cy=359.2 /><circle cx=449.8 cy=138.8 /><circle cx=292.9 cy=409.1 /><circle cx=599.4 cy=412.3 /><circle cx=592.3 cy=285.8 /><circle cx=605.1 cy=236.3 /><circle cx=376.1 cy=233.9 /><circle cx=360.2 cy=278.2 /><circle cx=503.1 cy=233.3 /><circle cx=590.8 cy=332.1 /><circle cx=290.6 cy=120.8 /><circle cx=649.1 cy=179.0 /><circle cx=590.9 cy=221.1 /><circle cx=384.8 cy=400.3 /><circle cx=316.2 cy=326.1 /><circle cx=596.5 cy=359.5 /><circle cx=533.3 cy=362.6 /><circle cx=389.5 cy=359.3 /><circle cx=543.5 cy=132.5 /><circle cx=330.7 cy=237.3 /><circle cx=412.5 cy=205.7 /><circle cx=390.9 cy=130.5 /><circle cx=522.2 cy=269.7 /><circle cx=289.8 cy=331.2 /><circle cx=425.4 cy=359.5 /><circle cx=338.4 cy=310.4 /><circle cx=654.5 cy=278.2 /><circle cx=295.0 cy=178.4 /><circle cx=490.3 cy=416.9 /><circle cx=417.8 cy=236.7 /><circle cx=609.4 cy=245.1 /><circle cx=500.1 cy=193.7 /><circle cx=636.0 cy=350.2 /><circle cx=573.3 cy=244.9 /><circle cx=282.8 cy=137.4 /><circle cx=607.6 cy=351.4 /><circle cx=309.7 cy=258.9 /><circle cx=535.9 cy=239.5 /><circle cx=334.2 cy=364.3 /><circle cx=571.2 cy=348.3 /><circle cx=464.5 cy=132.5 /><circle cx=567.0 cy=238.5 /><circle cx=371.7 cy=299.3 /><circle cx=297.2 cy=153.7 /><circle cx=530.0 cy=310.9 /><circle cx=501.7 cy=155.4 /><circle cx=627.3 cy=212.6 /><circle cx=612.8 cy=337.7 /><circle cx=361.8 cy=141.1 /><circle cx=519.8 cy=257.8 /><circle cx=531.0 cy=388.4 /><circle cx=577.1 cy=220.8 /><circle cx=430.5 cy=198.3 /><circle cx=439.5 cy=378.5 /><circle cx=613.3 cy=321.6 /><circle cx=278.3 cy=175.4 /><circle cx=489.0 cy=367.7 /><circle cx=405.4 cy=245.9 /><circle cx=454.9 cy=244.7 /><circle cx=423.9 cy=394.0 /><circle cx=596.4 cy=271.1 /><circle cx=306.0 cy=223.9 /><circle cx=644.5 cy=401.4 /><circle cx=355.2 cy=298.0 /><circle cx=397.8 cy=359.2 /><circle cx=318.6 cy=356.4 /><circle cx=421.3 cy=327.5 /><circle cx=343.8 cy=178.5 /><circle cx=449.4 cy=328.5 /><circle cx=526.9 cy=353.7 /><circle cx=598.1 cy=341.2 /><circle cx=452.7 cy=354.3 /><circle cx=412.9 cy=118.8 /><circle cx=527.0 cy=354.2 /><circle cx=573.7 cy=286.8 /><circle cx=589.7 cy=144.9 /><circle cx=275.5 cy=132.7 /><circle cx=429.8 cy=119.2 /><circle cx=356.3 cy=275.5 /><circle cx=371.8 cy=185.3 /><circle cx=358.5 cy=309.1 /><circle cx=578.3 cy=284.0 /><circle cx=282.3 cy=263.9 /><circle cx=584.0 cy=124.0 /><circle cx=440.4 cy=195.4 /><circle cx=596.1 cy=361.6 /><circle cx=306.6 cy=254.4 /><circle cx=393.0 cy=304.1 /><circle cx=323.2 cy=164.0 /><circle cx=620.1 cy=227.6 /><circle cx=486.3 cy=277.5 /><circle cx=556.3 cy=236.5 /><circle cx=362.9 cy=388.8 /><circle cx=454.3 cy=190.5 /><circle cx=341.1 cy=283.4 /><circle cx=328.1 cy=233.8 /><circle cx=398.8 cy=416.5 /><circle cx=362.2 cy=333.0 /><circle cx=489.9 cy=153.8 /><circle cx=606.3 cy=366.9 /><circle cx=547.1 cy=234.5 /><circle cx=470.2 cy=263.9 /><circle cx=406.5 cy=405.6 /><circle cx=502.8 cy=227.8 /><circle cx=489.1 cy=152.8 /><circle cx=586.5 cy=368.2 /><circle cx=499.6 cy=204.6 /><circle cx=330.6 cy=329.6 /><circle cx=299.7 cy=346.9 /><circle cx=425.0 cy=124.3 /><circle cx=641.5 cy=215.2 /><circle cx=482.8 cy=359.6 /><circle cx=593.2 cy=252.0 /><circle cx=285.0 cy=186.2 /><circle cx=320.9 cy=126.3 /><circle cx=326.4 cy=373.7 /><circle cx=468.8 cy=336.8 /><circle cx=453.4 cy=281.1 /><circle cx=341.7 cy=203.2 /><circle cx=610.8 cy=340.9 /><circle cx=388.3 cy=208.0 /><circle cx=492.2 cy=290.4 /><circle cx=467.7 cy=346.6 /><circle cx=316.2 cy=341.5 /><circle cx=446.6 cy=277.1 /><circle cx=612.2 cy=290.6 /><circle cx=545.6 cy=259.3 /><circle cx=390.4 cy=274.0 /><circle cx=635.0 cy=405.3 /><circle cx=579.2 cy=207.0 /><circle cx=392.2 cy=317.3 /><circle cx=294.1 cy=140.9 /><circle cx=598.8 cy=270.8 /><circle cx=606.3 cy=117.7 /><circle cx=332.2 cy=259.7 /><circle cx=536.5 cy=202.3 /><circle cx=342.3 cy=341.2 /><circle cx=294.9 cy=239.2 /><circle cx=466.0 cy=302.2 /><circle cx=279.4 cy=138.7 /><circle cx=628.4 cy=290.0 /><circle cx=499.8 cy=278.7 /><circle cx=626.1 cy=259.9 /><circle cx=375.6 cy=129.7 /><circle cx=282.0 cy=157.2 /><circle cx=358.5 cy=119.7 /><circle cx=628.2 cy=394.9 /><circle cx=397.9 cy=346.7 /><circle cx=570.8 cy=243.8 /><circle cx=517.1 cy=306.5 /><circle cx=398.6 cy=309.3 /><circle cx=373.4 cy=179.2 /><circle cx=380.0 cy=168.4 /><circle cx=522.2 cy=402.2 /><circle cx=434.0 cy=330.8 /><circle cx=581.0 cy=310.7 /><circle cx=434.3 cy=363.6 /><circle cx=525.6 cy=284.0 /><circle cx=597.9 cy=320.3 /><circle cx=465.5 cy=246.7 /><circle cx=517.8 cy=171.2 /><circle cx=286.9 cy=282.4 /><circle cx=350.1 cy=149.3 /><circle cx=641.5 cy=210.1 /><circle cx=640.2 cy=416.5 /><circle cx=519.8 cy=317.0 /><circle cx=396.6 cy=228.5 /><circle cx=311.4 cy=384.3 /><circle cx=422.5 cy=372.5 /><circle cx=372.9 cy=184.5 /><circle cx=325.0 cy=218.3 /><circle cx=495.1 cy=346.7 /><circle cx=470.7 cy=346.5 /><circle cx=499.9 cy=411.6 /><circle cx=505.8 cy=171.3 /><circle cx=638.2 cy=401.2 /><circle cx=394.9 cy=277.8 /><circle cx=305.9 cy=181.2 /><circle cx=406.9 cy=133.0 /><circle cx=367.2 cy=257.4 /><circle cx=575.8 cy=241.7 /><circle cx=324.0 cy=237.0 /><circle cx=587.4 cy=193.6 /><circle cx=314.8 cy=180.4 /><circle cx=365.7 cy=236.1 /><circle cx=328.0 cy=384.3 /><circle cx=558.4 cy=119.9 /><circle cx=391.2 cy=162.7 /><circle cx=599.8 cy=173.9 /><circle cx=421.0 cy=151.6 /><circle cx=587.4 cy=171.0 /><circle cx=312.6 cy=277.4 /><circle cx=433.3 cy=285.7 /><circle cx=578.9 cy=201.2 /><circle cx=628.7 cy=354.2 /><circle cx=342.9 cy=170.6 /><circle cx=429.6 cy=325.5 /><circle cx=274.7 cy=294.1 /><circle cx=548.1 cy=172.0 /><circle cx=361.7 cy=288.7 /><circle cx=348.1 cy=341.4 /><circle cx=526.8 cy=140.8 /><circle cx=280.2 cy=293.9 /><circle cx=548.9 cy=298.5 /><circle cx=466.2 cy=411.9 /><circle cx=640.3 cy=230.1 /><circle cx=380.0 cy=323.4 /><circle cx=317.4 cy=337.9 /><circle cx=349.6 cy=344.9 /><circle cx=592.4 cy=287.4 /><circle cx=322.2 cy=196.7 /><circle cx=621.2 cy=397.6 /><circle cx=646.8 cy=319.2 /><circle cx=488.6 cy=201.7 /><circle cx=362.0 cy=403.7 /><circle cx=555.6 cy=154.4 /><circle cx=563.8 cy=208.2 /><circle cx=478.4 cy=313.0 /><circle cx=526.3 cy=336.8 /><circle cx=405.8 cy=350.7 /><circle cx=511.6 cy=165.2 /><circle cx=449.5 cy=197.4 /><circle cx=346.9 cy=226.0 /><circle cx=417.9 cy=331.4 /><circle cx=431.7 cy=357.8 /><circle cx=556.1 cy=151.5 /><circle cx=604.2 cy=361.8 /><circle cx=515.0 cy=389.0 /><circle cx=537.0 cy=372.7 /><circle cx=282.7 cy=373.7 /><circle cx=568.1 cy=300.2 /><circle cx=616.0 cy=142.6 /><circle cx=511.8 cy=335.4 /><circle cx=610.5 cy=353.6 /><circle cx=279.1 cy=220.4 /><circle cx=576.6 cy=175.2 /><circle cx=373.4 cy=347.3 /><circle cx=587.8 cy=207.4 /><circle cx=647.1 cy=267.7 /><circle cx=451.0 cy=184.1 /><circle cx=637.1 cy=400.4 /><circle cx=576.9 cy=175.2 /><circle cx=440.2 cy=120.1 /><circle cx=296.8 cy=327.2 /><circle cx=340.2 cy=378.4 /><circle cx=339.6 cy=175.7 /><circle cx=346.8 cy=306.7 /><circle cx=501.3 cy=261.2 /><circle cx=408.0 cy=221.8 /><circle cx=582.7 cy=319.3 /><circle cx=318.9 cy=146.5 /><circle cx=561.2 cy=289.3 /><circle cx=483.6 cy=323.6 /><circle cx=441.0 cy=346.5 /><circle cx=583.3 cy=190.1 /><circle cx=598.2 cy=377.1 /><circle cx=316.5 cy=287.4 /><circle cx=460.6 cy=386.8 /><circle cx=525.0 cy=346.9 /><circle cx=548.4 cy=202.7 /><circle cx=605.5 cy=342.9 /><circle cx=523.2 cy=307.5 /><circle cx=283.3 cy=332.3 /><circle cx=640.4 cy=202.9 /><circle cx=596.7 cy=396.7 /><circle cx=350.9 cy=357.4 /><circle cx=625.2 cy=231.1 /><circle cx=299.9 cy=391.0 /><circle cx=315.7 cy=258.1 /><circle cx=607.9 cy=217.2 /><circle cx=371.4 cy=337.2 /><circle cx=401.3 cy=414.6 /><circle cx=642.1 cy=198.4 /><circle cx=423.4 cy=366.4 /><circle cx=432.4 cy=386.1 /><circle cx=275.7 cy=251.3 /><circle cx=319.7 cy=235.7 /><circle cx=567.0 cy=283.4 /><circle cx=563.0 cy=270.5 /><circle cx=608.7 cy=168.6 /><circle cx=418.9 cy=261.1 /><circle cx=516.5 cy=387.8 /><circle cx=535.8 cy=131.0 /><circle cx=404.5 cy=182.4 /><circle cx=613.7 cy=161.8 /><circle cx=655.3 cy=298.5 /><circle cx=481.7 cy=205.3 /><circle cx=535.0 cy=293.9 /><circle cx=546.4 cy=249.1 /><circle cx=279.3 cy=381.3 /><circle cx=635.8 cy=228.8 /><circle cx=299.3 cy=124.5 /><circle cx=292.2 cy=187.1 /><circle cx=479.7 cy=238.2 /><circle cx=287.9 cy=185.2 /><circle cx=622.4 cy=367.9 /><circle cx=467.7 cy=158.5 /><circle cx=549.3 cy=138.6 /><circle cx=609.5 cy=213.3 /><circle cx=477.2 cy=267.9 /><circle cx=426.7 cy=306.8 /><circle cx=524.5 cy=305.7 /><circle cx=565.8 cy=358.9 /><circle cx=602.6 cy=416.4 /><circle cx=279.0 cy=278.4 /><circle cx=319.2 cy=391.0 /><circle cx=507.1 cy=124.9 /><circle cx=375.0 cy=227.8 /><circle cx=636.9 cy=325.6 /><circle cx=413.6 cy=328.5 /><circle cx=554.4 cy=193.0 /><circle cx=302.7 cy=151.3 /><circle cx=518.3 cy=309.2 /><circle cx=338.2 cy=398.7 /><circle cx=298.6 cy=182.4 /><circle cx=457.7 cy=148.9 /><circle cx=396.7 cy=189.2 /><circle cx=433.9 cy=208.4 /><circle cx=368.8 cy=136.6 /><circle cx=499.7 cy=224.4 /><circle cx=508.4 cy=255.9 /><circle cx=578.6 cy=187.5 /><circle cx=553.0 cy=321.7 /><circle cx=540.4 cy=195.3 /><circle cx=287.7 cy=287.1 /><circle cx=560.9 cy=296.8 /><circle cx=562.2 cy=122.7 /><circle cx=573.5 cy=140.2 /><circle cx=295.8 cy=386.9 /><circle cx=333.2 cy=309.1 /><circle cx=409.9 cy=318.7 /><circle cx=310.8 cy=383.3 /><circle cx=388.0 cy=145.7 /><circle cx=374.9 cy=184.7 /><circle cx=287.6 cy=131.3 /><circle cx=519.8 cy=175.3 /><circle cx=365.8 cy=202.8 /><circle cx=388.6 cy=119.8 /><circle cx=493.3 cy=374.7 /><circle cx=323.7 cy=339.2 /><circle cx=503.1 cy=207.4 /><circle cx=326.3 cy=369.7 /><circle cx=642.6 cy=128.9 /><circle cx=563.1 cy=133.9 /><circle cx=652.5 cy=215.8 /><circle cx=653.9 cy=184.6 /><circle cx=459.6 cy=409.1 /><circle cx=521.1 cy=375.2 /><circle cx=374.0 cy=351.0 /><circle cx=416.8 cy=368.6 /><circle cx=399.9 cy=252.7 /><circle cx=414.4 cy=334.1 /><circle cx=581.5 cy=222.8 /><circle cx=302.0 cy=134.8 /><circle cx=406.8 cy=135.1 /><circle cx=513.4 cy=229.5 /><circle cx=441.6 cy=404.5 /><circle cx=554.0 cy=345.6 /><circle cx=373.9 cy=369.1 /><circle cx=504.2 cy=294.9 /><circle cx=654.6 cy=231.5 /><circle cx=371.0 cy=196.9 /><circle cx=642.5 cy=397.2 /><circle cx=320.2 cy=302.5 /><circle cx=581.7 cy=240.2 /><circle cx=610.3 cy=311.8 /><circle cx=478.2 cy=391.9 /><circle cx=355.0 cy=149.2 /><circle cx=293.2 cy=393.6 /><circle cx=580.7 cy=381.1 /><circle cx=640.7 cy=143.4 /><circle cx=317.3 cy=349.0 /><circle cx=565.8 cy=368.0 /><circle cx=435.9 cy=333.0 /><circle cx=626.1 cy=399.1 /><circle cx=624.8 cy=404.0 /><circle cx=551.9 cy=297.4 /><circle cx=513.9 cy=296.4 /><circle cx=303.3 cy=203.3 /><circle cx=330.3 cy=234.0 /><circle cx=275.4 cy=162.4 /><circle cx=499.6 cy=403.7 /><circle cx=278.9 cy=292.6 /><circle cx=336.5 cy=381.1 /><circle cx=462.9 cy=170.1 /><circle cx=306.3 cy=378.4 /><circle cx=386.4 cy=236.1 /><circle cx=378.5 cy=144.5 /><circle cx=460.3 cy=235.0 /><circle cx=546.2 cy=224.5 /><circle cx=469.2 cy=386.1 /><circle cx=507.4 cy=280.0 /><circle cx=471.7 cy=320.0 /><circle cx=403.6 cy=285.3 /><circle cx=361.3 cy=137.6 /><circle cx=573.7 cy=227.6 /><circle cx=605.4 cy=289.1 /><circle cx=290.6 cy=400.0 /><circle cx=656.5 cy=326.1 /><circle cx=448.3 cy=364.2 /><circle cx=289.1 cy=326.3 /><circle cx=601.5 cy=326.9 /><circle cx=397.7 cy=211.3 /><circle cx=274.8 cy=179.3 /><circle cx=615.1 cy=353.6 /><circle cx=454.7 cy=157.1 /><circle cx=447.7 cy=134.5 /><circle cx=604.4 cy=378.7 /><circle cx=341.1 cy=270.5 /><circle cx=649.2 cy=381.6 /><circle cx=492.2 cy=246.2 /><circle cx=651.2 cy=397.1 /><circle cx=611.0 cy=384.7 /><circle cx=451.8 cy=117.8 /><circle cx=313.0 cy=372.3 /><circle cx=309.5 cy=398.7 /><circle cx=547.2 cy=371.4 /><circle cx=290.3 cy=374.4 /><circle cx=290.9 cy=289.8 /><circle cx=318.9 cy=147.2 /><circle cx=407.6 cy=392.8 /><circle cx=320.3 cy=185.2 /><circle cx=487.4 cy=131.5 /><circle cx=630.6 cy=186.6 /><circle cx=647.8 cy=369.3 /><circle cx=357.9 cy=408.8 /><circle cx=559.0 cy=396.2 /><circle cx=612.1 cy=297.2 /><circle cx=368.8 cy=390.4 /><circle cx=555.1 cy=341.3 /><circle cx=345.5 cy=210.3 /><circle cx=536.1 cy=202.9 /><circle cx=519.6 cy=249.5 /><circle cx=613.8 cy=149.9 /><circle cx=462.1 cy=177.9 /><circle cx=381.0 cy=141.6 /><circle cx=490.5 cy=133.9 /><circle cx=507.2 cy=271.9 /><circle cx=391.8 cy=217.2 /><circle cx=384.2 cy=156.6 /><circle cx=542.9 cy=300.5 /><circle cx=654.5 cy=237.0 /><circle cx=494.7 cy=218.3 /><circle cx=600.6 cy=128.3 /><circle cx=578.7 cy=126.1 /><circle cx=469.9 cy=233.0 /><circle cx=368.0 cy=301.7 /><circle cx=517.7 cy=158.0 /><circle cx=408.3 cy=264.3 /><circle cx=344.1 cy=372.0 /><circle cx=483.4 cy=204.9 /><circle cx=339.7 cy=308.9 /><circle cx=533.6 cy=211.6 /><circle cx=310.3 cy=305.5 /><circle cx=640.0 cy=311.5 /><circle cx=409.4 cy=303.6 /><circle cx=547.3 cy=294.9 /><circle cx=403.6 cy=330.6 /><circle cx=554.8 cy=126.9 /><circle cx=474.2 cy=269.5 /><circle cx=632.1 cy=204.9 /><circle cx=448.7 cy=394.9 /><circle cx=409.4 cy=352.7 /><circle cx=508.4 cy=172.2 /><circle cx=593.9 cy=388.6 /><circle cx=496.1 cy=162.4 /><circle cx=503.3 cy=216.5 /><circle cx=490.7 cy=228.6 /><circle cx=311.2 cy=177.1 /><circle cx=587.6 cy=297.0 /><circle cx=611.0 cy=392.8 /><circle cx=441.1 cy=373.6 /><circle cx=410.0 cy=180.4 /><circle cx=398.0 cy=122.0 /><circle cx=365.2 cy=216.7 /><circle cx=457.7 cy=305.9 /><circle cx=350.9 cy=221.2 /><circle cx=607.0 cy=413.0 /><circle cx=475.4 cy=237.5 /><circle cx=538.6 cy=164.2 /><circle cx=612.8 cy=408.5 /><circle cx=474.6 cy=231.3 /><circle cx=546.6 cy=217.1 /><circle cx=506.5 cy=122.3 /><circle cx=492.9 cy=248.9 /><circle cx=471.9 cy=351.3 /><circle cx=297.4 cy=291.0 /><circle cx=499.0 cy=406.4 /><circle cx=637.9 cy=394.7 /><circle cx=367.9 cy=409.3 /><circle cx=587.2 cy=150.8 /><circle cx=423.9 cy=311.1 /><circle cx=543.8 cy=170.1 /><circle cx=448.5 cy=203.6 /><circle cx=494.3 cy=346.4 /><circle cx=517.3 cy=121.0 /><circle cx=627.3 cy=390.6 /><circle cx=598.8 cy=275.4 /><circle cx=525.8 cy=159.1 /><circle cx=457.6 cy=301.7 /><circle cx=339.2 cy=251.8 /><circle cx=318.7 cy=358.1 /><circle cx=304.4 cy=290.8 /><circle cx=346.1 cy=155.3 /><circle cx=618.4 cy=294.2 /><circle cx=468.8 cy=259.8 /><circle cx=466.5 cy=261.8 /><circle cx=381.3 cy=211.8 /><circle cx=324.5 cy=144.1 /><circle cx=540.9 cy=179.1 /><circle cx=336.3 cy=135.7 /><circle cx=625.4 cy=186.0 /><circle cx=425.0 cy=315.8 /><circle cx=299.1 cy=405.6 /><circle cx=538.8 cy=245.2 /><circle cx=484.7 cy=351.8 /><circle cx=612.0 cy=247.6 /><circle cx=514.5 cy=242.9 /><circle cx=350.2 cy=142.6 /><circle cx=561.6 cy=336.5 /><circle cx=303.8 cy=353.8 /><circle cx=304.5 cy=186.6 /><circle cx=487.3 cy=183.2 /><circle cx=637.0 cy=280.1 /><circle cx=582.0 cy=229.9 /><circle cx=332.7 cy=192.5 /><circle cx=594.7 cy=159.8 /><circle cx=313.4 cy=309.1 /><circle cx=511.5 cy=319.3 /><circle cx=426.1 cy=338.6 /><circle cx=482.2 cy=285.6 /><circle cx=437.7 cy=343.0 /><circle cx=519.2 cy=272.0 /><circle cx=462.2 cy=246.6 /><circle cx=606.7 cy=118.1 /><circle cx=595.5 cy=293.5 /><circle cx=390.7 cy=250.6 /><circle cx=618.9 cy=287.2 /><circle cx=507.0 cy=320.1 /><circle cx=577.1 cy=223.9 /><circle cx=451.0 cy=267.1 /><circle cx=568.9 cy=269.0 /><circle cx=363.0 cy=122.8 /><circle cx=472.0 cy=151.3 /><circle cx=389.9 cy=350.9 /><circle cx=406.4 cy=308.6 /><circle cx=435.4 cy=212.4 /><circle cx=595.9 cy=153.2 /><circle cx=581.0 cy=316.2 /><circle cx=655.5 cy=269.2 /><circle cx=488.9 cy=117.9 /><circle cx=428.5 cy=358.2 /><circle cx=609.5 cy=202.0 /><circle cx=401.6 cy=315.6 /><circle cx=532.4 cy=344.4 /><circle cx=340.8 cy=146.3 /><circle cx=564.8 cy=412.2 /><circle cx=619.7 cy=219.4 /><circle cx=383.2 cy=380.3 /><circle cx=412.8 cy=330.2 /><circle cx=392.3 cy=227.7 /><circle cx=430.9 cy=231.5 /><circle cx=303.2 cy=312.9 /><circle cx=647.3 cy=345.4 /><circle cx=568.7 cy=265.0 /><circle cx=647.8 cy=314.3 /><circle cx=566.7 cy=291.8 /><circle cx=420.4 cy=171.2 /><circle cx=549.9 cy=330.5 /><circle cx=434.3 cy=132.7 /><circle cx=400.1 cy=356.8 /><circle cx=296.9 cy=165.5 /><circle cx=439.6 cy=328.3 /><circle cx=404.4 cy=369.2 /><circle cx=634.0 cy=304.1 /><circle cx=472.8 cy=261.5 /><circle cx=454.2 cy=340.8 /><circle cx=338.1 cy=159.3 /><circle cx=281.8 cy=118.8 /><circle cx=569.8 cy=317.8 /><circle cx=393.5 cy=221.0 /><circle cx=569.5 cy=390.1 /><circle cx=353.2 cy=359.4 /><circle cx=631.8 cy=266.2 /><circle cx=447.3 cy=234.5 /><circle cx=559.1 cy=240.7 /><circle cx=581.0 cy=224.7 /><circle cx=468.4 cy=301.5 /><circle cx=534.7 cy=186.6 /><circle cx=319.3 cy=281.5 /><circle cx=351.3 cy=365.4 /><circle cx=444.2 cy=280.9 /><circle cx=553.0 cy=241.0 /><circle cx=461.0 cy=301.6 /><circle cx=583.4 cy=408.6 /><circle cx=556.5 cy=129.3 /><circle cx=463.5 cy=207.4 /><circle cx=452.2 cy=334.3 /><circle cx=627.9 cy=347.2 /><circle cx=410.0 cy=152.4 /><circle cx=332.1 cy=190.5 /><circle cx=514.5 cy=261.0 /><circle cx=326.7 cy=281.0 /><circle cx=524.0 cy=231.8 /><circle cx=287.9 cy=276.8 /><circle cx=376.3 cy=356.8 /><circle cx=539.4 cy=241.7 /><circle cx=307.6 cy=283.7 /><circle cx=399.6 cy=373.4 /><circle cx=653.4 cy=286.6 /><circle cx=455.8 cy=153.0 /><circle cx=481.8 cy=336.5 /><circle cx=322.6 cy=284.1 /><circle cx=284.0 cy=356.4 /><circle cx=575.3 cy=353.4 /><circle cx=287.7 cy=311.3 /><circle cx=465.1 cy=367.0 /><circle cx=534.0 cy=250.8 /><circle cx=566.9 cy=134.8 /><circle cx=563.1 cy=140.7 /><circle cx=415.5 cy=169.8 /><circle cx=376.8 cy=136.3 /><circle cx=498.5 cy=276.7 /><circle cx=515.2 cy=273.9 /><circle cx=599.9 cy=368.4 /><circle cx=352.3 cy=382.3 /><circle cx=466.4 cy=174.8 /><circle cx=368.7 cy=384.9 /><circle cx=374.8 cy=287.8 /><circle cx=302.8 cy=339.1 /><circle cx=373.5 cy=198.0 /><circle cx=469.1 cy=415.1 /><circle cx=409.6 cy=277.8 /><circle cx=479.5 cy=249.4 /><circle cx=356.8 cy=335.3 /><circle cx=634.5 cy=187.5 /><circle cx=507.8 cy=400.3 /><circle cx=516.5 cy=273.9 /><circle cx=351.7 cy=308.6 /><circle cx=567.9 cy=273.2 /><circle cx=456.0 cy=382.2 /><circle cx=414.1 cy=159.7 /><circle cx=384.3 cy=296.9 /><circle cx=454.2 cy=121.0 /><circle cx=476.0 cy=199.6 /><circle cx=338.0 cy=300.4 /><circle cx=632.9 cy=228.2 /><circle cx=317.1 cy=346.4 /><circle cx=529.5 cy=153.0 /><circle cx=481.2 cy=123.5 /><circle cx=390.1 cy=407.6 /><circle cx=593.7 cy=153.4 /><circle cx=408.9 cy=257.5 /><circle cx=430.7 cy=412.1 /><circle cx=609.5 cy=353.8 /><circle cx=338.5 cy=162.7 /><circle cx=452.2 cy=183.2 /><circle cx=376.7 cy=215.7 /><circle cx=302.5 cy=337.5 /><circle cx=284.2 cy=406.0 /><circle cx=505.9 cy=340.2 /><circle cx=443.5 cy=311.8 /><circle cx=444.7 cy=361.6 /><circle cx=293.5 cy=388.5 /><circle cx=464.1 cy=220.0 /><circle cx=467.1 cy=133.6 /><circle cx=394.4 cy=327.8 /><circle cx=643.1 cy=326.9 /><circle cx=489.7 cy=412.4 /><circle cx=350.2 cy=118.3 /><circle cx=619.7 cy=238.3 /><circle cx=527.9 cy=338.1 /><circle cx=355.8 cy=358.9 /><circle cx=331.6 cy=417.0 /><circle cx=578.0 cy=134.9 /><circle cx=496.0 cy=121.2 /><circle cx=538.8 cy=185.3 /><circle cx=322.9 cy=175.3 /><circle cx=307.3 cy=172.3 /><circle cx=517.3 cy=379.5 /><circle cx=328.0 cy=272.0 /><circle cx=482.1 cy=198.4 /><circle cx=347.9 cy=123.3 /><circle cx=485.1 cy=188.4 /><circle cx=597.4 cy=247.5 /><circle cx=651.9 cy=144.8 /><circle cx=593.0 cy=384.9 /><circle cx=651.3 cy=171.0 /><circle cx=340.2 cy=374.1 /><circle cx=440.6 cy=339.7 /><circle cx=554.0 cy=133.2 /><circle cx=612.5 cy=138.4 /><circle cx=562.6 cy=216.0 /><circle cx=390.1 cy=305.9 /><circle cx=519.8 cy=121.5 /><circle cx=578.5 cy=263.0 /><circle cx=318.7 cy=147.7 /><circle cx=309.8 cy=309.9 /><circle cx=632.3 cy=246.2 /><circle cx=614.9 cy=222.3 /><circle cx=601.6 cy=193.9 /><circle cx=645.4 cy=151.3 /><circle cx=480.7 cy=332.8 /><circle cx=657.4 cy=410.0 /><circle cx=506.8 cy=270.9 /><circle cx=276.9 cy=153.4 /><circle cx=522.7 cy=322.5 /><circle cx=371.4 cy=412.2 /><circle cx=286.8 cy=381.2 /><circle cx=316.5 cy=331.0 /><circle cx=586.0 cy=132.1 /><circle cx=616.4 cy=193.5 /><circle cx=356.5 cy=410.7 /><circle cx=325.1 cy=133.6 /><circle cx=296.7 cy=317.3 /><circle cx=410.2 cy=306.0 /><circle cx=447.1 cy=343.9 /><circle cx=513.1 cy=173.0 /><circle cx=358.5 cy=132.8 /><circle cx=480.0 cy=417.2 /><circle cx=486.2 cy=192.4 /><circle cx=296.8 cy=207.9 /><circle cx=559.1 cy=330.9 /><circle cx=414.0 cy=263.0 /><circle cx=321.9 cy=406.1 /><circle cx=635.4 cy=186.0 /><circle cx=399.9 cy=144.1 /><circle cx=509.9 cy=281.7 /><circle cx=458.8 cy=346.4 /><circle cx=328.4 cy=229.0 /><circle cx=483.6 cy=254.9 /><circle cx=359.9 cy=163.5 /><circle cx=400.7 cy=149.4 /><circle cx=297.6 cy=263.6 /><circle cx=370.9 cy=347.4 /><circle cx=398.8 cy=363.2 /><circle cx=293.3 cy=150.9 /><circle cx=451.9 cy=253.5 /><circle cx=335.6 cy=290.8 /><circle cx=274.9 cy=174.0 /><circle cx=438.4 cy=292.7 /><circle cx=309.4 cy=406.5 /><circle cx=407.6 cy=209.2 /><circle cx=399.4 cy=268.0 /><circle cx=654.7 cy=163.8 /><circle cx=366.7 cy=211.6 /><circle cx=392.1 cy=393.4 /><circle cx=654.3 cy=403.9 /><circle cx=421.3 cy=215.3 /><circle cx=278.3 cy=394.9 /><circle cx=527.3 cy=384.9 /><circle cx=449.2 cy=393.5 /><circle cx=620.2 cy=244.2 /><circle cx=343.3 cy=214.5 /><circle cx=455.8 cy=304.2 /><circle cx=440.3 cy=268.6 /><circle cx=477.4 cy=369.1 /><circle cx=337.8 cy=347.3 /><circle cx=604.6 cy=252.8 /><circle cx=469.0 cy=140.1 /><circle cx=418.6 cy=231.2 /><circle cx=505.0 cy=231.1 /><circle cx=481.7 cy=119.3 /><circle cx=501.9 cy=315.9 /><circle cx=539.1 cy=268.1 /><circle cx=482.3 cy=336.9 /><circle cx=365.5 cy=269.8 /><circle cx=569.8 cy=124.3 /><circle cx=384.9 cy=239.7 /><circle cx=532.1 cy=160.3 /><circle cx=554.8 cy=395.1 /><circle cx=556.0 cy=127.9 /><circle cx=618.8 cy=162.4 /><circle cx=628.8 cy=362.2 /><circle cx=500.7 cy=179.1 /><circle cx=342.2 cy=212.3 /><circle cx=355.8 cy=315.8 /><circle cx=646.6 cy=411.3 /><circle cx=311.6 cy=146.9 /><circle cx=469.7 cy=267.5 /><circle cx=650.2 cy=298.5 /><circle cx=399.2 cy=212.1 /><circle cx=395.7 cy=342.6 /><circle cx=578.1 cy=393.6 /><circle cx=643.9 cy=164.8 /><circle cx=501.8 cy=135.1 /><circle cx=581.3 cy=220.3 /><circle cx=292.8 cy=168.3 /><circle cx=301.1 cy=141.5 /><circle cx=559.6 cy=368.8 /><circle cx=473.7 cy=213.0 /><circle cx=637.0 cy=161.7 /><circle cx=358.9 cy=303.6 /><circle cx=557.2 cy=351.6 /><circle cx=405.2 cy=128.5 /><circle cx=302.0 cy=309.0 /><circle cx=505.3 cy=204.9 /><circle cx=519.5 cy=128.2 /><circle cx=412.8 cy=240.9 /><circle cx=356.5 cy=234.2 /><circle cx=625.0 cy=250.1 /><circle cx=401.0 cy=148.1 /><circle cx=573.0 cy=402.9 /><circle cx=369.5 cy=197.8 /><circle cx=418.8 cy=172.3 /><circle cx=571.7 cy=394.9 /><circle cx=620.0 cy=375.8 /><circle cx=325.8 cy=145.0 /><circle cx=276.7 cy=278.4 /><circle cx=379.9 cy=262.7 /><circle cx=335.7 cy=191.9 /><circle cx=496.4 cy=248.7 /><circle cx=459.5 cy=268.0 /><circle cx=509.1 cy=298.9 /><circle cx=366.5 cy=200.1 /><circle cx=364.3 cy=332.7 /><circle cx=401.4 cy=269.2 /><circle cx=555.2 cy=160.9 /><circle cx=572.6 cy=366.7 /><circle cx=387.9 cy=409.8 /><circle cx=324.3 cy=202.3 /><circle cx=443.3 cy=274.3 /><circle cx=514.7 cy=278.3 /><circle cx=319.3 cy=276.7 /><circle cx=572.2 cy=353.1 /><circle cx=286.5 cy=336.9 /><circle cx=642.2 cy=240.8 /><circle cx=467.0 cy=172.7 /><circle cx=538.4 cy=262.7 /><circle cx=618.6 cy=373.5 /><circle cx=428.7 cy=407.2 /><circle cx=644.4 cy=251.0 /><circle cx=357.0 cy=330.9 /><circle cx=312.7 cy=219.3 /><circle cx=487.5 cy=278.6 /><circle cx=507.4 cy=191.7 /><circle cx=599.4 cy=185.4 /><circle cx=329.1 cy=330.1 /><circle cx=409.4 cy=360.1 /><circle cx=393.6 cy=153.6 /><circle cx=609.0 cy=290.7 /><circle cx=277.1 cy=382.6 /><circle cx=475.3 cy=339.8 /><circle cx=651.5 cy=268.8 /><circle cx=321.8 cy=196.5 /><circle cx=553.8 cy=137.3 /><circle cx=580.2 cy=401.2 /><circle cx=508.8 cy=155.0 /><circle cx=303.6 cy=204.7 /><circle cx=559.2 cy=233.4 /><circle cx=644.9 cy=161.9 /><circle cx=327.7 cy=148.5 /><circle cx=442.9 cy=413.6 /><circle cx=616.2 cy=394.0 /><circle cx=301.6 cy=168.0 /><circle cx=372.0 cy=298.3 /><circle cx=500.3 cy=247.5 /><circle cx=408.6 cy=341.2 /><circle cx=394.8 cy=403.5 /><circle cx=440.5 cy=295.1 /><circle cx=516.8 cy=337.1 /><circle cx=601.0 cy=404.3 /><circle cx=291.6 cy=191.3 /><circle cx=527.9 cy=205.0 /><circle cx=547.9 cy=280.8 /><circle cx=481.8 cy=284.4 /><circle cx=475.5 cy=307.0 /><circle cx=594.1 cy=388.9 /><circle cx=443.1 cy=197.1 /><circle cx=334.9 cy=331.9 /><circle cx=636.1 cy=269.7 /><circle cx=546.2 cy=358.7 /><circle cx=332.7 cy=214.7 /><circle cx=284.6 cy=286.2 /><circle cx=379.9 cy=120.6 /><circle cx=350.9 cy=278.7 /><circle cx=454.2 cy=409.3 /><circle cx=588.0 cy=329.7 /><circle cx=606.5 cy=333.2 /><circle cx=290.6 cy=236.0 /><circle cx=510.6 cy=181.6 /><circle cx=464.5 cy=125.8 /><circle cx=469.2 cy=291.2 /><circle cx=323.6 cy=321.9 /><circle cx=578.7 cy=326.0 /><circle cx=612.7 cy=147.9 /><circle cx=602.7 cy=345.7 /><circle cx=564.1 cy=327.8 /><circle cx=552.3 cy=288.6 /><circle cx=375.1 cy=258.9 /><circle cx=355.4 cy=317.8 /><circle cx=473.2 cy=231.4 /><circle cx=587.5 cy=200.4 /><circle cx=632.5 cy=182.6 /><circle cx=463.2 cy=143.3 /><circle cx=319.1 cy=376.3 /><circle cx=351.0 cy=192.6 /><circle cx=417.0 cy=217.9 /><circle cx=327.8 cy=259.9 /><circle cx=381.4 cy=335.4 /><circle cx=411.2 cy=294.9 /><circle cx=317.3 cy=157.8 /><circle cx=494.0 cy=326.6 /><circle cx=495.9 cy=145.6 /><circle cx=578.7 cy=308.8 /><circle cx=635.2 cy=369.8 /><circle cx=625.2 cy=345.0 /><circle cx=582.2 cy=209.7 /><circle cx=386.7 cy=141.9 /><circle cx=637.5 cy=374.2 /><circle cx=319.8 cy=198.1 /><circle cx=275.4 cy=190.8 /><circle cx=497.2 cy=146.1 /><circle cx=324.7 cy=181.2 /><circle cx=497.7 cy=123.0 /><circle cx=372.9 cy=184.6 /><circle cx=530.4 cy=297.2 /><circle cx=472.0 cy=240.6 /><circle cx=639.9 cy=363.4 /><circle cx=601.6 cy=142.2 /><circle cx=492.1 cy=378.8 /><circle cx=379.1 cy=241.7 /><circle cx=601.4 cy=196.7 /><circle cx=366.0 cy=241.0 /><circle cx=346.8 cy=309.3 /><circle cx=329.7 cy=243.0 /><circle cx=507.7 cy=303.2 /><circle cx=575.4 cy=275.4 /><circle cx=451.7 cy=368.2 /><circle cx=587.5 cy=160.2 /><circle cx=637.7 cy=407.5 /><circle cx=536.1 cy=251.7 /><circle cx=547.8 cy=134.5 /><circle cx=647.1 cy=199.1 /><circle cx=324.3 cy=218.5 /><circle cx=587.2 cy=409.6 /><circle cx=428.7 cy=369.0 /><circle cx=305.9 cy=378.3 /><circle cx=597.0 cy=181.9 /><circle cx=366.5 cy=322.1 /><circle cx=598.5 cy=327.3 /><circle cx=479.8 cy=179.3 /><circle cx=613.1 cy=225.4 /><circle cx=586.2 cy=216.9 /><circle cx=628.2 cy=377.8 /><circle cx=622.4 cy=303.2 /><circle cx=590.6 cy=291.5 /><circle cx=459.0 cy=363.7 /><circle cx=543.3 cy=144.6 /><circle cx=318.4 cy=155.2 /><circle cx=308.9 cy=353.3 /><circle cx=519.9 cy=286.8 /><circle cx=639.7 cy=415.2 /><circle cx=633.9 cy=298.7 /><circle cx=469.8 cy=388.0 /><circle cx=306.0 cy=379.3 /><circle cx=518.7 cy=163.0 /><circle cx=604.2 cy=192.8 /><circle cx=306.8 cy=278.0 /><circle cx=643.2 cy=291.3 /><circle cx=632.7 cy=130.8 /><circle cx=445.3 cy=383.0 /><circle cx=350.7 cy=302.8 /><circle cx=460.3 cy=139.7 /><circle cx=585.6 cy=369.5 /><circle cx=316.6 cy=332.6 /><circle cx=379.3 cy=175.1 /><circle cx=441.0 cy=261.5 /><circle cx=580.6 cy=118.2 /><circle cx=525.8 cy=186.0 /><circle cx=375.3 cy=366.0 /><circle cx=547.3 cy=300.4 /><circle cx=277.9 cy=304.4 /><circle cx=637.2 cy=257.8 /><circle cx=420.6 cy=392.0 /><circle cx=451.8 cy=409.0 /><circle cx=599.9 cy=303.3 /><circle cx=505.1 cy=291.7 /><circle cx=359.0 cy=400.1 /><circle cx=596.5 cy=329.5 /><circle cx=546.9 cy=131.1 /><circle cx=326.5 cy=370.4 /><circle cx=382.0 cy=342.2 /><circle cx=560.4 cy=241.7 /><circle cx=488.7 cy=393.2 /><circle cx=620.5 cy=408.1 /><circle cx=443.8 cy=240.9 /><circle cx=624.4 cy=215.1 /><circle cx=592.4 cy=212.2 /><circle cx=362.5 cy=385.4 /><circle cx=421.9 cy=347.7 /><circle cx=598.8 cy=218.3 /><circle cx=399.9 cy=118.1 /><circle cx=546.5 cy=145.4 /><circle cx=657.9 cy=220.4 /><circle cx=542.1 cy=143.3 /><circle cx=628.7 cy=289.4 /><circle cx=366.3 cy=390.4 /><circle cx=309.7 cy=153.4 /><circle cx=556.0 cy=376.4 /><circle cx=646.6 cy=119.3 /><circle cx=525.1 cy=265.3 /><circle cx=276.2 cy=394.6 /><circle cx=388.2 cy=307.9 /><circle cx=631.5 cy=413.0 /><circle cx=389.7 cy=347.8 /><circle cx=372.3 cy=388.8 /><circle cx=625.7 cy=371.8 /><circle cx=607.3 cy=231.9 /><circle cx=582.7 cy=395.1 /><circle cx=494.7 cy=188.0 /><circle cx=656.7 cy=351.9 /><circle cx=471.5 cy=128.2 /><circle cx=491.4 cy=231.4 /><circle cx=507.5 cy=151.6 /><circle cx=411.7 cy=240.4 /><circle cx=639.6 cy=168.7 /><circle cx=309.2 cy=359.1 /><circle cx=544.5 cy=338.8 /><circle cx=456.5 cy=193.2 /><circle cx=479.6 cy=271.3 /><circle cx=296.2 cy=123.8 /><circle cx=335.5 cy=339.9 /><circle cx=461.0 cy=125.2 /><circle cx=299.8 cy=405.1 /><circle cx=467.7 cy=271.4 /><circle cx=395.2 cy=218.0 /><circle cx=410.5 cy=261.7 /><circle cx=383.0 cy=399.2 /><circle cx=493.6 cy=256.2 /><circle cx=334.5 cy=315.3 /><circle cx=362.6 cy=244.8 /><circle cx=555.8 cy=156.7 /><circle cx=427.9 cy=235.5 /><circle cx=310.0 cy=228.5 /><circle cx=422.6 cy=236.5 /><circle cx=333.4 cy=123.1 /><circle cx=468.4 cy=219.8 /><circle cx=573.4 cy=251.9 /><circle cx=553.3 cy=161.0 /><circle cx=536.2 cy=191.4 /><circle cx=643.2 cy=210.1 /><circle cx=380.0 cy=142.7 /><circle cx=326.3 cy=181.1 /><circle cx=580.9 cy=319.6 /><circle cx=587.6 cy=361.8 /><circle cx=560.3 cy=256.1 /><circle cx=436.0 cy=186.7 /><circle cx=441.8 cy=188.2 /><circle cx=433.4 cy=282.0 /><circle cx=347.0 cy=253.6 /><circle cx=507.9 cy=402.1 /><circle cx=518.2 cy=197.9 /><circle cx=470.3 cy=248.8 /><circle cx=367.4 cy=374.5 /><circle cx=476.2 cy=406.6 /><circle cx=405.8 cy=410.5 /><circle cx=330.4 cy=298.3 /><circle cx=275.2 cy=377.2 /><circle cx=482.8 cy=334.3 /><circle cx=549.4 cy=171.3 /><circle cx=401.6 cy=167.1 /><circle cx=450.4 cy=346.9 /><circle cx=382.3 cy=303.3 /><circle cx=538.2 cy=321.3 /><circle cx=440.7 cy=352.1 /><circle cx=481.0 cy=283.2 /><circle cx=335.6 cy=358.4 /><circle cx=425.3 cy=252.8 /><circle cx=381.0 cy=354.9 /><circle cx=586.1 cy=162.9 /><circle cx=474.2 cy=167.7 /><circle cx=430.5 cy=288.9 /><circle cx=302.9 cy=330.3 /><circle cx=633.1 cy=177.9 /><circle cx=432.3 cy=370.2 /><circle cx=654.7 cy=125.3 /><circle cx=650.8 cy=287.4 /><circle cx=647.1 cy=291.2 /><circle cx=302.9 cy=197.5 /><circle cx=470.6 cy=351.8 /><circle cx=491.2 cy=244.3 /><circle cx=487.3 cy=356.7 /><circle cx=274.4 cy=118.4 /><circle cx=347.3 cy=163.4 /><circle cx=318.6 cy=169.0 /><circle cx=345.4 cy=328.2 /><circle cx=476.2 cy=312.1 /><circle cx=496.6 cy=367.3 /><circle cx=384.2 cy=298.7 /><circle cx=473.4 cy=268.8 /><circle cx=560.6 cy=226.4 /><circle cx=486.0 cy=194.0 /><circle cx=559.5 cy=315.3 /><circle cx=656.7 cy=218.1 /><circle cx=429.8 cy=274.7 /><circle cx=564.5 cy=346.5 /><circle cx=561.1 cy=371.7 /><circle cx=354.5 cy=185.8 /><circle cx=451.0 cy=140.0 /><circle cx=308.6 cy=310.4 /><circle cx=427.9 cy=244.6 /><circle cx=521.8 cy=377.6 /><circle cx=526.5 cy=376.1 /><circle cx=602.4 cy=265.2 /><circle cx=288.7 cy=202.2 /><circle cx=361.9 cy=210.6 /><circle cx=559.8 cy=401.2 /><circle cx=378.7 cy=220.9 /><circle cx=311.1 cy=286.9 /><circle cx=472.6 cy=227.9 /><circle cx=305.0 cy=324.3 /><circle cx=467.9 cy=387.9 /><circle cx=511.4 cy=300.8 /><circle cx=415.9 cy=403.5 /><circle cx=400.0 cy=235.0 /><circle cx=608.6 cy=274.7 /><circle cx=342.8 cy=277.1 /><circle cx=368.4 cy=212.9 /><circle cx=438.8 cy=403.0 /><circle cx=370.9 cy=149.4 /><circle cx=370.3 cy=301.7 /><circle cx=409.4 cy=158.8 /><circle cx=351.0 cy=337.4 /><circle cx=537.5 cy=250.8 /><circle cx=581.4 cy=151.5 /><circle cx=360.3 cy=360.4 /><circle cx=633.6 cy=283.4 /><circle cx=503.2 cy=345.6 /><circle cx=341.1 cy=268.0 /><circle cx=283.6 cy=144.1 /><circle cx=427.3 cy=330.5 /><circle cx=450.3 cy=382.7 /><circle cx=603.2 cy=150.0 /><circle cx=566.0 cy=339.7 /><circle cx=426.1 cy=411.8 /><circle cx=637.8 cy=341.1 /><circle cx=450.4 cy=145.5 /><circle cx=539.9 cy=371.0 /><circle cx=537.3 cy=281.5 /><circle cx=437.8 cy=151.8 /><circle cx=519.7 cy=269.7 /><circle cx=619.7 cy=215.6 /><circle cx=321.3 cy=277.3 /><circle cx=604.9 cy=158.4 /><circle cx=595.2 cy=370.2 /><circle cx=583.5 cy=413.9 /><circle cx=410.1 cy=245.7 /><circle cx=373.0 cy=411.0 /><circle cx=571.3 cy=155.0 /><circle cx=450.1 cy=262.8 /><circle cx=358.8 cy=417.3 /><circle cx=486.2 cy=321.1 /><circle cx=413.2 cy=194.0 /><circle cx=500.3 cy=195.1 /><circle cx=397.1 cy=282.3 /><circle cx=577.7 cy=263.8 /><circle cx=283.9 cy=355.6 /><circle cx=564.3 cy=378.0 /><circle cx=507.9 cy=357.4 /><circle cx=434.4 cy=131.1 /><circle cx=373.9 cy=403.8 /><circle cx=445.4 cy=373.5 /><circle cx=524.7 cy=290.1 /><circle cx=461.8 cy=338.8 /><circle cx=568.7 cy=145.8 /><circle cx=493.8 cy=312.3 /><circle cx=345.0 cy=385.8 /><circle cx=407.3 cy=309.2 /><circle cx=469.6 cy=228.8 /><circle cx=297.2 cy=233.4 /><circle cx=339.5 cy=278.5 /><circle cx=335.3 cy=121.3 /><circle cx=501.5 cy=282.5 /><circle cx=300.1 cy=148.6 /><circle cx=575.0 cy=282.1 /><circle cx=387.6 cy=321.7 /><circle cx=626.2 cy=356.3 /><circle cx=653.4 cy=117.3 /></g>
<g class="o"><circle cx=347.6 cy=125.1 /><circle cx=426.4 cy=132.0 /><circle cx=454.6 cy=164.3 /><circle cx=373.0 cy=169.7 /><circle cx=406.9 cy=181.6 /><circle cx=331.0 cy=194.2 /><circle cx=453.0 cy=196.0 /><circle cx=335.2 cy=226.4 /><circle cx=339.6 cy=226.4 /><circle cx=419.8 cy=225.5 /><circle cx=283.2 cy=234.0 /><circle cx=334.4 cy=257.8 /><circle cx=628.2 cy=124.2 /><circle cx=473.2 cy=149.3 /><circle cx=550.4 cy=161.5 /><circle cx=513.4 cy=180.7 /><circle cx=504.9 cy=186.0 /><circle cx=623.5 cy=199.8 /><circle cx=654.9 cy=197.0 /><circle cx=643.3 cy=221.8 /><circle cx=467.0 cy=254.0 /><circle cx=463.8 cy=257.7 /><circle cx=380.0 cy=269.4 /><circle cx=306.9 cy=278.2 /><circle cx=405.7 cy=294.5 /><circle cx=309.7 cy=303.7 /><circle cx=334.4 cy=317.8 /><circle cx=429.0 cy=316.0 /><circle cx=466.8 cy=297.0 /><circle cx=276.9 cy=340.0 /><circle cx=275.0 cy=345.3 /><circle cx=294.9 cy=346.7 /><circle cx=324.5 cy=348.8 /><circle cx=308.3 cy=368.3 /><circle cx=286.8 cy=374.2 /><circle cx=295.6 cy=372.8 /><circle cx=346.8 cy=376.4 /><circle cx=404.0 cy=364.7 /><circle cx=423.4 cy=366.5 /><circle cx=398.7 cy=372.8 /><circle cx=396.2 cy=377.0 /><circle cx=401.1 cy=385.2 /><circle cx=436.1 cy=390.1 /><circle cx=368.0 cy=396.5 /><circle cx=389.1 cy=395.4 /><circle cx=456.5 cy=396.5 /><circle cx=348.2 cy=404.6 /><circle cx=284.0 cy=408.1 /><circle cx=329.5 cy=407.4 /><circle cx=334.8 cy=415.9 /><circle cx=425.1 cy=412.4 /><circle cx=609.4 cy=263.4 /><circle cx=582.9 cy=298.4 /><circle cx=608.3 cy=305.1 /><circle cx=594.2 cy=311.8 /><circle cx=644.0 cy=313.9 /><circle cx=588.5 cy=369.4 /><circle cx=477.3 cy=407.1 /><circle cx=510.5 cy=407.8 /><circle cx=639.4 cy=401.8 /></g>
<rect x="255.0" y="101.5" width="422.6" height="331.8" fill="none" stroke="#1e1e1e" stroke-width=".9"/>
<path d="M274.4 433.3v3.8M254.8 417.6h-3.8M351.2 433.3v3.8M254.8 357.5h-3.8M428.0 433.3v3.8M254.8 297.4h-3.8M504.8 433.3v3.8M254.8 237.4h-3.8M581.6 433.3v3.8M254.8 177.3h-3.8M658.4 433.3v3.8M254.8 117.2h-3.8" stroke="#1e1e1e" stroke-width=".9"/>
<g font-size="11"><text x="266.2" y="449" textLength="16.2" lengthAdjust="spacingAndGlyphs">0.0</text><text x="229.9" y="421.5" textLength="16.3" lengthAdjust="spacingAndGlyphs">0.0</text><text x="343.1" y="449" textLength="16.2" lengthAdjust="spacingAndGlyphs">0.2</text><text x="229.9" y="361.4" textLength="16.3" lengthAdjust="spacingAndGlyphs">0.2</text><text x="419.9" y="449" textLength="16.2" lengthAdjust="spacingAndGlyphs">0.4</text><text x="229.9" y="301.3" textLength="16.3" lengthAdjust="spacingAndGlyphs">0.4</text><text x="496.7" y="449" textLength="16.2" lengthAdjust="spacingAndGlyphs">0.6</text><text x="229.9" y="241.3" textLength="16.3" lengthAdjust="spacingAndGlyphs">0.6</text><text x="573.5" y="449" textLength="16.2" lengthAdjust="spacingAndGlyphs">0.8</text><text x="229.9" y="181.2" textLength="16.3" lengthAdjust="spacingAndGlyphs">0.8</text><text x="650.3" y="449" textLength="16.2" lengthAdjust="spacingAndGlyphs">1.0</text><text x="229.9" y="121.1" textLength="16.3" lengthAdjust="spacingAndGlyphs">1.0</text></g>
<text x="460.6" y="466" font-size="11" textLength="11" lengthAdjust="spacingAndGlyphs">x1</text>
<g font-size="14"><text x="321.9" y="95.3" textLength="22.9" lengthAdjust="spacingAndGlyphs">Iter</text><text x="349.0" y="95.3" textLength="13.6" lengthAdjust="spacingAndGlyphs">1:</text><text x="367.6" y="95.3" textLength="48.3" lengthAdjust="spacingAndGlyphs">chosen</text><text x="420.5" y="95.3" textLength="44.2" lengthAdjust="spacingAndGlyphs">subset</text><text x="468.7" y="95.3" textLength="50.5" lengthAdjust="spacingAndGlyphs">(D2*^2</text><text x="521.9" y="95.3" textLength="9.4" lengthAdjust="spacingAndGlyphs">=</text><text x="532.5" y="95.3" textLength="78.4" lengthAdjust="spacingAndGlyphs">0.0209133)</text></g>
<text x="874.5" y="489.1" font-size="16" style="fill:#23373b" textLength="16.3" lengthAdjust="spacingAndGlyphs">35</text>
</svg>
</body></html>
